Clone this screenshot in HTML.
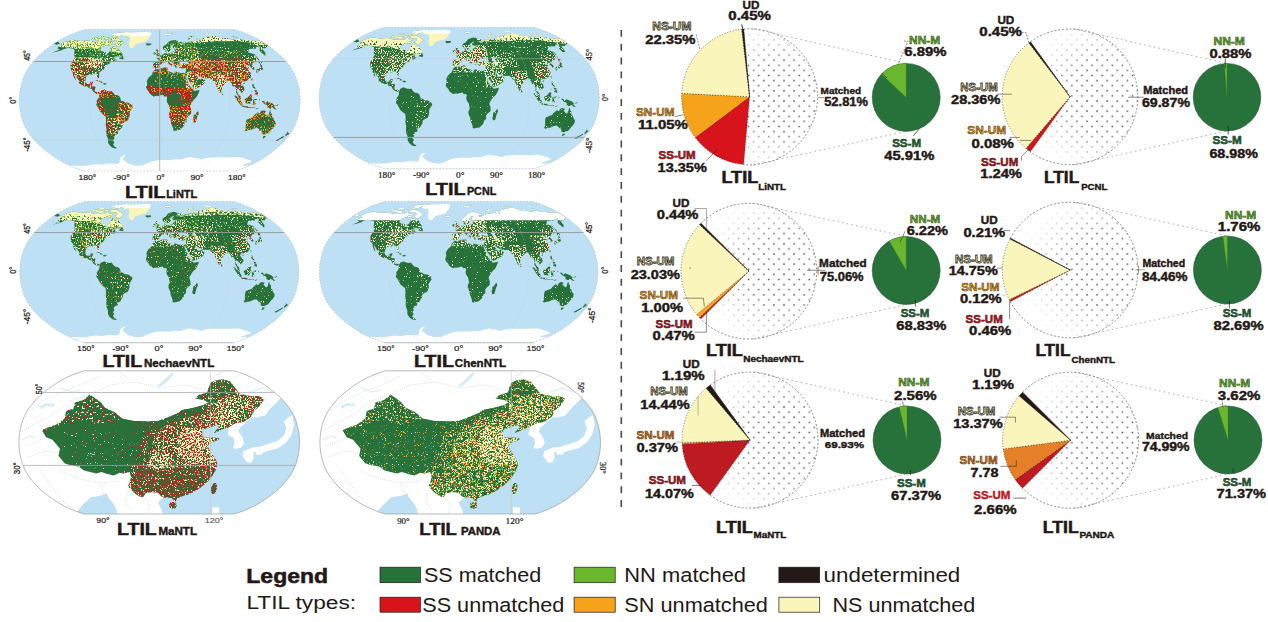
<!DOCTYPE html>
<html><head><meta charset="utf-8"><title>LTIL</title>
<style>html,body{margin:0;padding:0;background:#fff}svg{display:block}text{font-family:"Liberation Sans",sans-serif}.b{font-weight:bold}.s{font-family:"Liberation Serif",serif}</style></head>
<body><svg width="1268" height="622" viewBox="0 0 1268 622">
<defs><filter id="f0" x="0" y="0" width="1" height="1" color-interpolation-filters="sRGB"><feTurbulence type="fractalNoise" baseFrequency="0.7" numOctaves="2" seed="2"/><feColorMatrix type="matrix" values="0 0 0 0 0 0 0 0 0 0 0 0 0 0 0 14 0 0 0 -7.40"/><feComposite in="SourceGraphic" operator="in"/></filter><filter id="f1" x="0" y="0" width="1" height="1" color-interpolation-filters="sRGB"><feTurbulence type="fractalNoise" baseFrequency="0.7" numOctaves="2" seed="3"/><feColorMatrix type="matrix" values="0 0 0 0 0 0 0 0 0 0 0 0 0 0 0 14 0 0 0 -8.33"/><feComposite in="SourceGraphic" operator="in"/></filter><filter id="f2" x="0" y="0" width="1" height="1" color-interpolation-filters="sRGB"><feTurbulence type="fractalNoise" baseFrequency="0.7" numOctaves="2" seed="4"/><feColorMatrix type="matrix" values="0 0 0 0 0 0 0 0 0 0 0 0 0 0 0 14 0 0 0 -7.84"/><feComposite in="SourceGraphic" operator="in"/></filter><filter id="f3" x="0" y="0" width="1" height="1" color-interpolation-filters="sRGB"><feTurbulence type="fractalNoise" baseFrequency="0.7" numOctaves="2" seed="5"/><feColorMatrix type="matrix" values="0 0 0 0 0 0 0 0 0 0 0 0 0 0 0 14 0 0 0 -8.92"/><feComposite in="SourceGraphic" operator="in"/></filter><filter id="f4" x="0" y="0" width="1" height="1" color-interpolation-filters="sRGB"><feTurbulence type="fractalNoise" baseFrequency="0.7" numOctaves="2" seed="6"/><feColorMatrix type="matrix" values="0 0 0 0 0 0 0 0 0 0 0 0 0 0 0 14 0 0 0 -7.30"/><feComposite in="SourceGraphic" operator="in"/></filter><filter id="f5" x="0" y="0" width="1" height="1" color-interpolation-filters="sRGB"><feTurbulence type="fractalNoise" baseFrequency="0.7" numOctaves="2" seed="7"/><feColorMatrix type="matrix" values="0 0 0 0 0 0 0 0 0 0 0 0 0 0 0 14 0 0 0 -8.33"/><feComposite in="SourceGraphic" operator="in"/></filter><filter id="f6" x="0" y="0" width="1" height="1" color-interpolation-filters="sRGB"><feTurbulence type="fractalNoise" baseFrequency="0.7" numOctaves="2" seed="8"/><feColorMatrix type="matrix" values="0 0 0 0 0 0 0 0 0 0 0 0 0 0 0 14 0 0 0 -7.98"/><feComposite in="SourceGraphic" operator="in"/></filter><filter id="f7" x="0" y="0" width="1" height="1" color-interpolation-filters="sRGB"><feTurbulence type="fractalNoise" baseFrequency="0.7" numOctaves="2" seed="9"/><feColorMatrix type="matrix" values="0 0 0 0 0 0 0 0 0 0 0 0 0 0 0 14 0 0 0 -7.65"/><feComposite in="SourceGraphic" operator="in"/></filter><filter id="f8" x="0" y="0" width="1" height="1" color-interpolation-filters="sRGB"><feTurbulence type="fractalNoise" baseFrequency="0.7" numOctaves="2" seed="10"/><feColorMatrix type="matrix" values="0 0 0 0 0 0 0 0 0 0 0 0 0 0 0 14 0 0 0 -6.30"/><feComposite in="SourceGraphic" operator="in"/></filter><filter id="f9" x="0" y="0" width="1" height="1" color-interpolation-filters="sRGB"><feTurbulence type="fractalNoise" baseFrequency="0.7" numOctaves="2" seed="11"/><feColorMatrix type="matrix" values="0 0 0 0 0 0 0 0 0 0 0 0 0 0 0 14 0 0 0 -9.01"/><feComposite in="SourceGraphic" operator="in"/></filter><filter id="f10" x="0" y="0" width="1" height="1" color-interpolation-filters="sRGB"><feTurbulence type="fractalNoise" baseFrequency="0.7" numOctaves="2" seed="12"/><feColorMatrix type="matrix" values="0 0 0 0 0 0 0 0 0 0 0 0 0 0 0 14 0 0 0 -6.92"/><feComposite in="SourceGraphic" operator="in"/></filter><filter id="f11" x="0" y="0" width="1" height="1" color-interpolation-filters="sRGB"><feTurbulence type="fractalNoise" baseFrequency="0.7" numOctaves="2" seed="13"/><feColorMatrix type="matrix" values="0 0 0 0 0 0 0 0 0 0 0 0 0 0 0 14 0 0 0 -8.58"/><feComposite in="SourceGraphic" operator="in"/></filter><filter id="f12" x="0" y="0" width="1" height="1" color-interpolation-filters="sRGB"><feTurbulence type="fractalNoise" baseFrequency="0.7" numOctaves="2" seed="14"/><feColorMatrix type="matrix" values="0 0 0 0 0 0 0 0 0 0 0 0 0 0 0 14 0 0 0 -8.58"/><feComposite in="SourceGraphic" operator="in"/></filter><filter id="f13" x="0" y="0" width="1" height="1" color-interpolation-filters="sRGB"><feTurbulence type="fractalNoise" baseFrequency="0.7" numOctaves="2" seed="15"/><feColorMatrix type="matrix" values="0 0 0 0 0 0 0 0 0 0 0 0 0 0 0 14 0 0 0 -8.75"/><feComposite in="SourceGraphic" operator="in"/></filter><filter id="f14" x="0" y="0" width="1" height="1" color-interpolation-filters="sRGB"><feTurbulence type="fractalNoise" baseFrequency="0.7" numOctaves="2" seed="16"/><feColorMatrix type="matrix" values="0 0 0 0 0 0 0 0 0 0 0 0 0 0 0 14 0 0 0 -6.92"/><feComposite in="SourceGraphic" operator="in"/></filter><filter id="f15" x="0" y="0" width="1" height="1" color-interpolation-filters="sRGB"><feTurbulence type="fractalNoise" baseFrequency="0.7" numOctaves="2" seed="17"/><feColorMatrix type="matrix" values="0 0 0 0 0 0 0 0 0 0 0 0 0 0 0 14 0 0 0 -8.33"/><feComposite in="SourceGraphic" operator="in"/></filter><filter id="f16" x="0" y="0" width="1" height="1" color-interpolation-filters="sRGB"><feTurbulence type="fractalNoise" baseFrequency="0.7" numOctaves="2" seed="18"/><feColorMatrix type="matrix" values="0 0 0 0 0 0 0 0 0 0 0 0 0 0 0 14 0 0 0 -7.00"/><feComposite in="SourceGraphic" operator="in"/></filter><filter id="f17" x="0" y="0" width="1" height="1" color-interpolation-filters="sRGB"><feTurbulence type="fractalNoise" baseFrequency="0.7" numOctaves="2" seed="19"/><feColorMatrix type="matrix" values="0 0 0 0 0 0 0 0 0 0 0 0 0 0 0 14 0 0 0 -7.50"/><feComposite in="SourceGraphic" operator="in"/></filter><filter id="f18" x="0" y="0" width="1" height="1" color-interpolation-filters="sRGB"><feTurbulence type="fractalNoise" baseFrequency="0.7" numOctaves="2" seed="20"/><feColorMatrix type="matrix" values="0 0 0 0 0 0 0 0 0 0 0 0 0 0 0 14 0 0 0 -8.58"/><feComposite in="SourceGraphic" operator="in"/></filter><filter id="f19" x="0" y="0" width="1" height="1" color-interpolation-filters="sRGB"><feTurbulence type="fractalNoise" baseFrequency="0.7" numOctaves="2" seed="21"/><feColorMatrix type="matrix" values="0 0 0 0 0 0 0 0 0 0 0 0 0 0 0 14 0 0 0 -7.65"/><feComposite in="SourceGraphic" operator="in"/></filter><filter id="f20" x="0" y="0" width="1" height="1" color-interpolation-filters="sRGB"><feTurbulence type="fractalNoise" baseFrequency="0.7" numOctaves="2" seed="22"/><feColorMatrix type="matrix" values="0 0 0 0 0 0 0 0 0 0 0 0 0 0 0 14 0 0 0 -8.33"/><feComposite in="SourceGraphic" operator="in"/></filter><filter id="f21" x="0" y="0" width="1" height="1" color-interpolation-filters="sRGB"><feTurbulence type="fractalNoise" baseFrequency="0.7" numOctaves="2" seed="23"/><feColorMatrix type="matrix" values="0 0 0 0 0 0 0 0 0 0 0 0 0 0 0 14 0 0 0 -7.98"/><feComposite in="SourceGraphic" operator="in"/></filter><filter id="f22" x="0" y="0" width="1" height="1" color-interpolation-filters="sRGB"><feTurbulence type="fractalNoise" baseFrequency="0.7" numOctaves="2" seed="24"/><feColorMatrix type="matrix" values="0 0 0 0 0 0 0 0 0 0 0 0 0 0 0 14 0 0 0 -6.92"/><feComposite in="SourceGraphic" operator="in"/></filter><filter id="f23" x="0" y="0" width="1" height="1" color-interpolation-filters="sRGB"><feTurbulence type="fractalNoise" baseFrequency="0.7" numOctaves="2" seed="25"/><feColorMatrix type="matrix" values="0 0 0 0 0 0 0 0 0 0 0 0 0 0 0 14 0 0 0 -7.98"/><feComposite in="SourceGraphic" operator="in"/></filter><filter id="f24" x="0" y="0" width="1" height="1" color-interpolation-filters="sRGB"><feTurbulence type="fractalNoise" baseFrequency="0.7" numOctaves="2" seed="26"/><feColorMatrix type="matrix" values="0 0 0 0 0 0 0 0 0 0 0 0 0 0 0 14 0 0 0 -7.40"/><feComposite in="SourceGraphic" operator="in"/></filter><filter id="f25" x="0" y="0" width="1" height="1" color-interpolation-filters="sRGB"><feTurbulence type="fractalNoise" baseFrequency="0.7" numOctaves="2" seed="27"/><feColorMatrix type="matrix" values="0 0 0 0 0 0 0 0 0 0 0 0 0 0 0 14 0 0 0 -7.84"/><feComposite in="SourceGraphic" operator="in"/></filter><filter id="f26" x="0" y="0" width="1" height="1" color-interpolation-filters="sRGB"><feTurbulence type="fractalNoise" baseFrequency="0.7" numOctaves="2" seed="28"/><feColorMatrix type="matrix" values="0 0 0 0 0 0 0 0 0 0 0 0 0 0 0 14 0 0 0 -9.10"/><feComposite in="SourceGraphic" operator="in"/></filter><filter id="f27" x="0" y="0" width="1" height="1" color-interpolation-filters="sRGB"><feTurbulence type="fractalNoise" baseFrequency="0.7" numOctaves="2" seed="29"/><feColorMatrix type="matrix" values="0 0 0 0 0 0 0 0 0 0 0 0 0 0 0 14 0 0 0 -7.98"/><feComposite in="SourceGraphic" operator="in"/></filter><filter id="f28" x="0" y="0" width="1" height="1" color-interpolation-filters="sRGB"><feTurbulence type="fractalNoise" baseFrequency="0.7" numOctaves="2" seed="30"/><feColorMatrix type="matrix" values="0 0 0 0 0 0 0 0 0 0 0 0 0 0 0 14 0 0 0 -8.33"/><feComposite in="SourceGraphic" operator="in"/></filter><filter id="f29" x="0" y="0" width="1" height="1" color-interpolation-filters="sRGB"><feTurbulence type="fractalNoise" baseFrequency="0.7" numOctaves="2" seed="31"/><feColorMatrix type="matrix" values="0 0 0 0 0 0 0 0 0 0 0 0 0 0 0 14 0 0 0 -9.01"/><feComposite in="SourceGraphic" operator="in"/></filter><filter id="f30" x="0" y="0" width="1" height="1" color-interpolation-filters="sRGB"><feTurbulence type="fractalNoise" baseFrequency="0.7" numOctaves="2" seed="32"/><feColorMatrix type="matrix" values="0 0 0 0 0 0 0 0 0 0 0 0 0 0 0 14 0 0 0 -7.40"/><feComposite in="SourceGraphic" operator="in"/></filter><filter id="f31" x="0" y="0" width="1" height="1" color-interpolation-filters="sRGB"><feTurbulence type="fractalNoise" baseFrequency="0.7" numOctaves="2" seed="33"/><feColorMatrix type="matrix" values="0 0 0 0 0 0 0 0 0 0 0 0 0 0 0 14 0 0 0 -7.40"/><feComposite in="SourceGraphic" operator="in"/></filter><filter id="f32" x="0" y="0" width="1" height="1" color-interpolation-filters="sRGB"><feTurbulence type="fractalNoise" baseFrequency="0.7" numOctaves="2" seed="34"/><feColorMatrix type="matrix" values="0 0 0 0 0 0 0 0 0 0 0 0 0 0 0 14 0 0 0 -7.98"/><feComposite in="SourceGraphic" operator="in"/></filter><filter id="f33" x="0" y="0" width="1" height="1" color-interpolation-filters="sRGB"><feTurbulence type="fractalNoise" baseFrequency="0.7" numOctaves="2" seed="35"/><feColorMatrix type="matrix" values="0 0 0 0 0 0 0 0 0 0 0 0 0 0 0 14 0 0 0 -5.86"/><feComposite in="SourceGraphic" operator="in"/></filter><filter id="f34" x="0" y="0" width="1" height="1" color-interpolation-filters="sRGB"><feTurbulence type="fractalNoise" baseFrequency="0.7" numOctaves="2" seed="36"/><feColorMatrix type="matrix" values="0 0 0 0 0 0 0 0 0 0 0 0 0 0 0 14 0 0 0 -8.58"/><feComposite in="SourceGraphic" operator="in"/></filter><filter id="f35" x="0" y="0" width="1" height="1" color-interpolation-filters="sRGB"><feTurbulence type="fractalNoise" baseFrequency="0.7" numOctaves="2" seed="37"/><feColorMatrix type="matrix" values="0 0 0 0 0 0 0 0 0 0 0 0 0 0 0 14 0 0 0 -7.98"/><feComposite in="SourceGraphic" operator="in"/></filter><filter id="f36" x="0" y="0" width="1" height="1" color-interpolation-filters="sRGB"><feTurbulence type="fractalNoise" baseFrequency="0.7" numOctaves="2" seed="38"/><feColorMatrix type="matrix" values="0 0 0 0 0 0 0 0 0 0 0 0 0 0 0 14 0 0 0 -8.75"/><feComposite in="SourceGraphic" operator="in"/></filter><filter id="f37" x="0" y="0" width="1" height="1" color-interpolation-filters="sRGB"><feTurbulence type="fractalNoise" baseFrequency="0.7" numOctaves="2" seed="39"/><feColorMatrix type="matrix" values="0 0 0 0 0 0 0 0 0 0 0 0 0 0 0 14 0 0 0 -6.30"/><feComposite in="SourceGraphic" operator="in"/></filter><filter id="f38" x="0" y="0" width="1" height="1" color-interpolation-filters="sRGB"><feTurbulence type="fractalNoise" baseFrequency="0.7" numOctaves="2" seed="40"/><feColorMatrix type="matrix" values="0 0 0 0 0 0 0 0 0 0 0 0 0 0 0 14 0 0 0 -8.33"/><feComposite in="SourceGraphic" operator="in"/></filter><filter id="f39" x="0" y="0" width="1" height="1" color-interpolation-filters="sRGB"><feTurbulence type="fractalNoise" baseFrequency="0.7" numOctaves="2" seed="41"/><feColorMatrix type="matrix" values="0 0 0 0 0 0 0 0 0 0 0 0 0 0 0 14 0 0 0 -6.84"/><feComposite in="SourceGraphic" operator="in"/></filter><filter id="f40" x="0" y="0" width="1" height="1" color-interpolation-filters="sRGB"><feTurbulence type="fractalNoise" baseFrequency="0.7" numOctaves="2" seed="42"/><feColorMatrix type="matrix" values="0 0 0 0 0 0 0 0 0 0 0 0 0 0 0 14 0 0 0 -7.98"/><feComposite in="SourceGraphic" operator="in"/></filter><filter id="f41" x="0" y="0" width="1" height="1" color-interpolation-filters="sRGB"><feTurbulence type="fractalNoise" baseFrequency="0.7" numOctaves="2" seed="43"/><feColorMatrix type="matrix" values="0 0 0 0 0 0 0 0 0 0 0 0 0 0 0 14 0 0 0 -9.28"/><feComposite in="SourceGraphic" operator="in"/></filter><filter id="f42" x="0" y="0" width="1" height="1" color-interpolation-filters="sRGB"><feTurbulence type="fractalNoise" baseFrequency="0.7" numOctaves="2" seed="44"/><feColorMatrix type="matrix" values="0 0 0 0 0 0 0 0 0 0 0 0 0 0 0 14 0 0 0 -8.33"/><feComposite in="SourceGraphic" operator="in"/></filter><filter id="f43" x="0" y="0" width="1" height="1" color-interpolation-filters="sRGB"><feTurbulence type="fractalNoise" baseFrequency="0.7" numOctaves="2" seed="45"/><feColorMatrix type="matrix" values="0 0 0 0 0 0 0 0 0 0 0 0 0 0 0 14 0 0 0 -6.92"/><feComposite in="SourceGraphic" operator="in"/></filter><filter id="f44" x="0" y="0" width="1" height="1" color-interpolation-filters="sRGB"><feTurbulence type="fractalNoise" baseFrequency="0.7" numOctaves="2" seed="46"/><feColorMatrix type="matrix" values="0 0 0 0 0 0 0 0 0 0 0 0 0 0 0 14 0 0 0 -7.40"/><feComposite in="SourceGraphic" operator="in"/></filter><filter id="f45" x="0" y="0" width="1" height="1" color-interpolation-filters="sRGB"><feTurbulence type="fractalNoise" baseFrequency="0.7" numOctaves="2" seed="47"/><feColorMatrix type="matrix" values="0 0 0 0 0 0 0 0 0 0 0 0 0 0 0 14 0 0 0 -7.15"/><feComposite in="SourceGraphic" operator="in"/></filter><filter id="f46" x="0" y="0" width="1" height="1" color-interpolation-filters="sRGB"><feTurbulence type="fractalNoise" baseFrequency="0.7" numOctaves="2" seed="48"/><feColorMatrix type="matrix" values="0 0 0 0 0 0 0 0 0 0 0 0 0 0 0 14 0 0 0 -7.15"/><feComposite in="SourceGraphic" operator="in"/></filter><filter id="f47" x="0" y="0" width="1" height="1" color-interpolation-filters="sRGB"><feTurbulence type="fractalNoise" baseFrequency="0.7" numOctaves="2" seed="49"/><feColorMatrix type="matrix" values="0 0 0 0 0 0 0 0 0 0 0 0 0 0 0 14 0 0 0 -8.75"/><feComposite in="SourceGraphic" operator="in"/></filter><filter id="f48" x="0" y="0" width="1" height="1" color-interpolation-filters="sRGB"><feTurbulence type="fractalNoise" baseFrequency="0.4" numOctaves="2" seed="50"/><feColorMatrix type="matrix" values="0 0 0 0 0 0 0 0 0 0 0 0 0 0 0 14 0 0 0 -5.22"/><feComposite in="SourceGraphic" operator="in"/></filter><filter id="f49" x="0" y="0" width="1" height="1" color-interpolation-filters="sRGB"><feTurbulence type="fractalNoise" baseFrequency="0.7" numOctaves="2" seed="51"/><feColorMatrix type="matrix" values="0 0 0 0 0 0 0 0 0 0 0 0 0 0 0 14 0 0 0 -7.40"/><feComposite in="SourceGraphic" operator="in"/></filter><filter id="f50" x="0" y="0" width="1" height="1" color-interpolation-filters="sRGB"><feTurbulence type="fractalNoise" baseFrequency="0.7" numOctaves="2" seed="52"/><feColorMatrix type="matrix" values="0 0 0 0 0 0 0 0 0 0 0 0 0 0 0 14 0 0 0 -7.40"/><feComposite in="SourceGraphic" operator="in"/></filter><filter id="f51" x="0" y="0" width="1" height="1" color-interpolation-filters="sRGB"><feTurbulence type="fractalNoise" baseFrequency="0.7" numOctaves="2" seed="53"/><feColorMatrix type="matrix" values="0 0 0 0 0 0 0 0 0 0 0 0 0 0 0 14 0 0 0 -6.71"/><feComposite in="SourceGraphic" operator="in"/></filter><filter id="f52" x="0" y="0" width="1" height="1" color-interpolation-filters="sRGB"><feTurbulence type="fractalNoise" baseFrequency="0.7" numOctaves="2" seed="54"/><feColorMatrix type="matrix" values="0 0 0 0 0 0 0 0 0 0 0 0 0 0 0 14 0 0 0 -7.65"/><feComposite in="SourceGraphic" operator="in"/></filter><filter id="f53" x="0" y="0" width="1" height="1" color-interpolation-filters="sRGB"><feTurbulence type="fractalNoise" baseFrequency="0.7" numOctaves="2" seed="55"/><feColorMatrix type="matrix" values="0 0 0 0 0 0 0 0 0 0 0 0 0 0 0 14 0 0 0 -8.75"/><feComposite in="SourceGraphic" operator="in"/></filter><filter id="f54" x="0" y="0" width="1" height="1" color-interpolation-filters="sRGB"><feTurbulence type="fractalNoise" baseFrequency="0.7" numOctaves="2" seed="56"/><feColorMatrix type="matrix" values="0 0 0 0 0 0 0 0 0 0 0 0 0 0 0 14 0 0 0 -6.30"/><feComposite in="SourceGraphic" operator="in"/></filter><filter id="f55" x="0" y="0" width="1" height="1" color-interpolation-filters="sRGB"><feTurbulence type="fractalNoise" baseFrequency="0.7" numOctaves="2" seed="57"/><feColorMatrix type="matrix" values="0 0 0 0 0 0 0 0 0 0 0 0 0 0 0 14 0 0 0 -8.12"/><feComposite in="SourceGraphic" operator="in"/></filter><filter id="f56" x="0" y="0" width="1" height="1" color-interpolation-filters="sRGB"><feTurbulence type="fractalNoise" baseFrequency="0.7" numOctaves="2" seed="58"/><feColorMatrix type="matrix" values="0 0 0 0 0 0 0 0 0 0 0 0 0 0 0 14 0 0 0 -8.75"/><feComposite in="SourceGraphic" operator="in"/></filter><filter id="f57" x="0" y="0" width="1" height="1" color-interpolation-filters="sRGB"><feTurbulence type="fractalNoise" baseFrequency="0.7" numOctaves="2" seed="59"/><feColorMatrix type="matrix" values="0 0 0 0 0 0 0 0 0 0 0 0 0 0 0 14 0 0 0 -6.92"/><feComposite in="SourceGraphic" operator="in"/></filter><filter id="f58" x="0" y="0" width="1" height="1" color-interpolation-filters="sRGB"><feTurbulence type="fractalNoise" baseFrequency="0.7" numOctaves="2" seed="60"/><feColorMatrix type="matrix" values="0 0 0 0 0 0 0 0 0 0 0 0 0 0 0 14 0 0 0 -7.98"/><feComposite in="SourceGraphic" operator="in"/></filter><filter id="f59" x="0" y="0" width="1" height="1" color-interpolation-filters="sRGB"><feTurbulence type="fractalNoise" baseFrequency="0.7" numOctaves="2" seed="61"/><feColorMatrix type="matrix" values="0 0 0 0 0 0 0 0 0 0 0 0 0 0 0 14 0 0 0 -8.33"/><feComposite in="SourceGraphic" operator="in"/></filter><filter id="f60" x="0" y="0" width="1" height="1" color-interpolation-filters="sRGB"><feTurbulence type="fractalNoise" baseFrequency="0.7" numOctaves="2" seed="62"/><feColorMatrix type="matrix" values="0 0 0 0 0 0 0 0 0 0 0 0 0 0 0 14 0 0 0 -7.98"/><feComposite in="SourceGraphic" operator="in"/></filter><filter id="f61" x="0" y="0" width="1" height="1" color-interpolation-filters="sRGB"><feTurbulence type="fractalNoise" baseFrequency="0.7" numOctaves="2" seed="63"/><feColorMatrix type="matrix" values="0 0 0 0 0 0 0 0 0 0 0 0 0 0 0 14 0 0 0 -7.98"/><feComposite in="SourceGraphic" operator="in"/></filter><filter id="f62" x="0" y="0" width="1" height="1" color-interpolation-filters="sRGB"><feTurbulence type="fractalNoise" baseFrequency="0.7" numOctaves="2" seed="64"/><feColorMatrix type="matrix" values="0 0 0 0 0 0 0 0 0 0 0 0 0 0 0 14 0 0 0 -6.92"/><feComposite in="SourceGraphic" operator="in"/></filter><filter id="f63" x="0" y="0" width="1" height="1" color-interpolation-filters="sRGB"><feTurbulence type="fractalNoise" baseFrequency="0.7" numOctaves="2" seed="65"/><feColorMatrix type="matrix" values="0 0 0 0 0 0 0 0 0 0 0 0 0 0 0 14 0 0 0 -8.75"/><feComposite in="SourceGraphic" operator="in"/></filter><filter id="f64" x="0" y="0" width="1" height="1" color-interpolation-filters="sRGB"><feTurbulence type="fractalNoise" baseFrequency="0.7" numOctaves="2" seed="66"/><feColorMatrix type="matrix" values="0 0 0 0 0 0 0 0 0 0 0 0 0 0 0 14 0 0 0 -8.33"/><feComposite in="SourceGraphic" operator="in"/></filter><filter id="f65" x="0" y="0" width="1" height="1" color-interpolation-filters="sRGB"><feTurbulence type="fractalNoise" baseFrequency="0.7" numOctaves="2" seed="67"/><feColorMatrix type="matrix" values="0 0 0 0 0 0 0 0 0 0 0 0 0 0 0 14 0 0 0 -7.40"/><feComposite in="SourceGraphic" operator="in"/></filter><filter id="f66" x="0" y="0" width="1" height="1" color-interpolation-filters="sRGB"><feTurbulence type="fractalNoise" baseFrequency="0.7" numOctaves="2" seed="68"/><feColorMatrix type="matrix" values="0 0 0 0 0 0 0 0 0 0 0 0 0 0 0 14 0 0 0 -7.40"/><feComposite in="SourceGraphic" operator="in"/></filter><filter id="f67" x="0" y="0" width="1" height="1" color-interpolation-filters="sRGB"><feTurbulence type="fractalNoise" baseFrequency="0.7" numOctaves="2" seed="69"/><feColorMatrix type="matrix" values="0 0 0 0 0 0 0 0 0 0 0 0 0 0 0 14 0 0 0 -7.40"/><feComposite in="SourceGraphic" operator="in"/></filter><filter id="f68" x="0" y="0" width="1" height="1" color-interpolation-filters="sRGB"><feTurbulence type="fractalNoise" baseFrequency="0.7" numOctaves="2" seed="70"/><feColorMatrix type="matrix" values="0 0 0 0 0 0 0 0 0 0 0 0 0 0 0 14 0 0 0 -5.22"/><feComposite in="SourceGraphic" operator="in"/></filter><filter id="f69" x="0" y="0" width="1" height="1" color-interpolation-filters="sRGB"><feTurbulence type="fractalNoise" baseFrequency="0.7" numOctaves="2" seed="71"/><feColorMatrix type="matrix" values="0 0 0 0 0 0 0 0 0 0 0 0 0 0 0 14 0 0 0 -9.28"/><feComposite in="SourceGraphic" operator="in"/></filter><filter id="f70" x="0" y="0" width="1" height="1" color-interpolation-filters="sRGB"><feTurbulence type="fractalNoise" baseFrequency="0.7" numOctaves="2" seed="72"/><feColorMatrix type="matrix" values="0 0 0 0 0 0 0 0 0 0 0 0 0 0 0 14 0 0 0 -8.33"/><feComposite in="SourceGraphic" operator="in"/></filter><filter id="f71" x="0" y="0" width="1" height="1" color-interpolation-filters="sRGB"><feTurbulence type="fractalNoise" baseFrequency="0.7" numOctaves="2" seed="73"/><feColorMatrix type="matrix" values="0 0 0 0 0 0 0 0 0 0 0 0 0 0 0 14 0 0 0 -9.45"/><feComposite in="SourceGraphic" operator="in"/></filter><filter id="f72" x="0" y="0" width="1" height="1" color-interpolation-filters="sRGB"><feTurbulence type="fractalNoise" baseFrequency="0.7" numOctaves="2" seed="74"/><feColorMatrix type="matrix" values="0 0 0 0 0 0 0 0 0 0 0 0 0 0 0 14 0 0 0 -8.75"/><feComposite in="SourceGraphic" operator="in"/></filter><filter id="f73" x="0" y="0" width="1" height="1" color-interpolation-filters="sRGB"><feTurbulence type="fractalNoise" baseFrequency="0.7" numOctaves="2" seed="75"/><feColorMatrix type="matrix" values="0 0 0 0 0 0 0 0 0 0 0 0 0 0 0 14 0 0 0 -8.75"/><feComposite in="SourceGraphic" operator="in"/></filter><filter id="f74" x="0" y="0" width="1" height="1" color-interpolation-filters="sRGB"><feTurbulence type="fractalNoise" baseFrequency="0.7" numOctaves="2" seed="76"/><feColorMatrix type="matrix" values="0 0 0 0 0 0 0 0 0 0 0 0 0 0 0 14 0 0 0 -7.40"/><feComposite in="SourceGraphic" operator="in"/></filter><filter id="f75" x="0" y="0" width="1" height="1" color-interpolation-filters="sRGB"><feTurbulence type="fractalNoise" baseFrequency="0.7" numOctaves="2" seed="77"/><feColorMatrix type="matrix" values="0 0 0 0 0 0 0 0 0 0 0 0 0 0 0 14 0 0 0 -7.30"/><feComposite in="SourceGraphic" operator="in"/></filter><filter id="f76" x="0" y="0" width="1" height="1" color-interpolation-filters="sRGB"><feTurbulence type="fractalNoise" baseFrequency="0.7" numOctaves="2" seed="78"/><feColorMatrix type="matrix" values="0 0 0 0 0 0 0 0 0 0 0 0 0 0 0 14 0 0 0 -8.33"/><feComposite in="SourceGraphic" operator="in"/></filter><filter id="f77" x="0" y="0" width="1" height="1" color-interpolation-filters="sRGB"><feTurbulence type="fractalNoise" baseFrequency="0.7" numOctaves="2" seed="79"/><feColorMatrix type="matrix" values="0 0 0 0 0 0 0 0 0 0 0 0 0 0 0 14 0 0 0 -6.08"/><feComposite in="SourceGraphic" operator="in"/></filter><filter id="f78" x="0" y="0" width="1" height="1" color-interpolation-filters="sRGB"><feTurbulence type="fractalNoise" baseFrequency="0.7" numOctaves="2" seed="80"/><feColorMatrix type="matrix" values="0 0 0 0 0 0 0 0 0 0 0 0 0 0 0 14 0 0 0 -7.98"/><feComposite in="SourceGraphic" operator="in"/></filter><clipPath id="fr1"><path d="M234.5 29.5L240.1 31.2L247.0 33.8L254.3 37.0L260.7 40.6L266.4 44.3L271.9 48.3L277.0 52.4L281.6 56.6L285.6 60.9L289.2 65.2L292.1 69.6L294.6 74.0L296.4 78.4L297.7 82.7L298.8 87.1L299.6 91.5L300.0 95.9L300.2 100.3L300.0 104.7L299.6 109.1L298.8 113.5L297.7 117.9L296.4 122.2L294.6 126.6L292.1 131.0L289.2 135.4L285.6 139.7L281.6 144.0L277.0 148.2L271.9 152.3L266.4 156.3L260.7 160.0L254.3 163.6L247.0 166.8L240.1 169.4L234.5 171.1L84.9 171.1L79.3 169.4L72.4 166.8L65.1 163.6L58.7 160.0L53.0 156.3L47.5 152.3L42.4 148.2L37.8 144.0L33.8 139.7L30.2 135.4L27.3 131.0L24.8 126.6L23.0 122.2L21.7 117.9L20.6 113.5L19.8 109.1L19.4 104.7L19.2 100.3L19.4 95.9L19.8 91.5L20.6 87.1L21.7 82.7L23.0 78.4L24.8 74.0L27.3 69.6L30.2 65.2L33.8 60.9L37.8 56.6L42.4 52.4L47.5 48.3L53.0 44.3L58.7 40.6L65.1 37.0L72.4 33.8L79.3 31.2L84.9 29.5Z"/></clipPath><clipPath id="ld1"><path d="M60.6 44.0L65.0 41.7L73.1 39.7L80.3 40.9L88.1 40.4L94.1 41.7L97.7 42.1L104.6 42.1L108.0 39.5L109.5 41.7L113.4 41.0L112.7 42.8L109.3 43.6L107.6 45.1L102.9 46.7L100.3 49.1L100.5 50.7L104.4 52.1L106.1 52.3L105.2 54.1L106.5 55.3L108.0 52.8L110.5 51.1L110.2 49.3L112.5 46.5L114.9 46.5L116.5 47.5L115.9 49.3L118.1 49.3L119.6 48.1L120.1 51.1L122.1 52.8L122.5 54.9L119.8 56.3L115.1 56.4L111.4 59.1L115.4 57.4L115.0 59.6L117.3 60.0L114.8 61.3L113.1 62.2L112.8 60.9L110.3 62.2L109.5 63.7L106.6 64.8L104.9 66.9L103.8 69.4L101.7 70.6L99.3 72.6L99.1 76.6L98.7 78.2L97.7 77.5L97.3 75.7L96.8 74.0L94.6 73.6L92.7 73.8L92.5 74.7L89.6 74.2L86.6 75.7L85.4 79.2L85.2 82.3L86.7 84.0L89.4 84.1L90.4 81.9L93.2 81.4L92.3 84.3L91.2 86.3L94.9 86.4L95.4 87.2L94.7 90.5L95.6 92.2L97.8 92.0L99.6 92.7L98.8 93.7L97.0 93.9L95.1 93.0L93.1 91.5L91.9 88.9L88.9 88.0L86.8 86.1L85.2 86.5L81.9 85.1L78.8 82.7L79.2 80.5L76.8 77.5L75.3 74.4L74.3 72.5L75.4 78.4L76.0 80.1L74.4 78.4L73.4 75.7L72.9 74.0L72.7 71.8L70.9 70.0L70.6 67.6L70.5 64.9L71.8 62.6L73.7 59.7L74.3 57.9L75.8 57.4L74.0 55.7L74.3 52.8L74.6 49.9L73.3 48.7L70.6 48.3L67.9 47.9L64.5 48.7L61.5 50.3L57.3 51.6L52.1 52.8L55.0 51.6L59.9 49.5L57.8 49.1L58.0 47.1L63.3 45.1L61.4 44.7ZM116.8 38.1L120.1 39.5L121.6 40.6L123.7 42.8L121.7 44.3L119.4 46.7L116.5 46.3L115.6 44.7L113.2 44.7L117.6 42.5L116.5 40.6L112.0 40.6L110.4 39.9L111.5 38.1ZM94.9 39.9L100.1 41.3L102.7 41.0L103.2 38.8L100.3 38.5L96.6 38.5ZM90.9 39.5L92.7 39.9L97.1 38.5L97.3 37.4L93.7 37.7ZM113.5 36.1L119.7 36.1L122.4 34.8L130.6 32.8L127.4 32.2L119.8 32.8L115.4 33.5L116.1 35.1ZM111.4 37.0L117.4 37.4L118.3 36.4L113.1 35.9ZM98.2 37.0L104.0 37.0L105.8 36.1L99.6 36.1ZM112.1 35.1L116.0 34.8L116.7 33.3L113.1 33.8ZM103.6 39.5L107.2 39.2L110.2 37.7L105.9 37.7ZM107.3 45.5L110.9 45.5L111.9 44.0L109.0 44.0ZM118.9 58.5L123.0 59.4L123.6 57.9L122.5 55.3L121.0 56.2ZM94.8 81.0L98.7 80.1L102.3 82.1L102.8 82.7L100.3 82.8L100.1 81.4L97.1 80.7ZM102.5 84.1L104.5 82.9L107.1 84.0L104.7 84.8ZM99.6 92.7L101.1 90.8L103.5 89.9L104.4 89.5L105.4 90.2L106.8 90.9L109.6 91.3L111.6 90.9L113.0 92.8L115.3 95.0L117.6 95.2L119.6 96.4L120.7 99.0L120.7 100.7L122.6 100.9L125.0 102.5L128.5 102.8L130.9 104.5L132.4 105.4L132.6 107.3L131.0 110.0L129.5 112.2L129.7 115.7L128.5 119.2L127.7 120.5L125.4 121.2L123.0 123.1L123.1 125.3L121.6 127.5L120.2 130.1L118.1 130.9L116.6 130.1L118.0 132.3L117.7 134.1L114.9 134.5L115.1 136.3L113.2 136.3L114.5 137.8L113.9 139.7L112.8 140.6L114.4 142.3L113.1 144.4L114.2 146.0L114.4 146.4L117.1 148.0L115.2 148.6L112.6 147.8L110.0 145.7L108.1 142.7L108.0 138.9L106.6 135.4L106.3 132.3L106.5 128.4L105.8 124.9L106.1 120.5L105.7 116.4L103.8 115.0L100.9 112.6L99.6 110.4L97.8 106.9L96.4 105.6L96.3 104.1L97.3 102.9L96.6 101.2L97.3 99.9L98.2 99.0L99.3 96.8L99.4 94.2ZM155.4 68.9L158.2 69.4L161.9 68.0L167.0 67.6L167.7 68.0L167.2 70.5L167.8 71.2L171.1 71.9L173.9 73.7L174.6 73.1L174.7 71.8L176.8 71.7L178.5 72.6L181.4 73.2L183.6 72.8L184.1 74.0L184.9 75.7L186.7 79.2L188.0 81.9L188.5 84.1L190.2 86.7L193.0 89.2L193.3 90.2L194.6 91.1L196.9 90.5L199.4 89.9L199.2 91.5L197.9 94.6L196.4 97.2L194.0 99.4L192.1 101.9L190.6 104.3L189.9 106.0L190.4 107.8L191.1 110.0L191.1 113.5L188.2 115.9L186.5 117.9L186.7 121.4L184.5 123.1L184.2 125.3L182.5 127.5L180.0 129.7L178.2 130.1L174.4 130.9L173.2 130.3L173.1 128.4L172.1 125.5L171.1 123.1L170.8 120.1L168.9 116.1L169.0 113.5L170.3 110.8L169.8 108.2L169.2 105.6L167.1 102.5L166.7 99.9L167.3 97.7L166.6 96.3L164.4 96.5L163.0 94.8L160.5 95.2L158.1 96.1L156.2 95.7L153.9 96.4L152.7 95.9L150.0 93.7L149.2 92.0L148.1 90.6L146.8 89.3L146.2 87.4L147.2 84.5L147.2 82.7L146.7 81.9L147.5 79.5L148.7 77.5L150.7 75.7L152.2 74.4L152.5 72.6L153.4 71.1L154.8 70.3ZM197.9 111.0L198.7 113.9L197.4 116.1L195.8 122.1L193.8 122.7L192.8 120.9L193.6 117.9L193.9 114.8L195.6 114.2L196.9 112.2ZM152.8 67.8L153.0 66.3L153.4 64.3L153.2 62.6L154.1 62.0L158.4 62.2L158.9 60.0L156.6 58.5L156.5 57.9L158.7 57.7L158.5 56.8L159.8 57.0L160.8 55.8L162.0 55.4L162.8 54.1L164.3 53.6L165.4 53.3L165.0 52.0L165.0 50.7L166.4 50.2L166.4 51.6L166.1 52.4L166.9 53.2L169.0 53.3L171.8 52.5L172.7 52.9L173.4 52.1L173.3 50.7L175.2 50.6L174.5 48.9L177.2 48.6L178.5 48.4L177.4 47.9L175.3 48.1L173.7 48.3L172.8 47.5L172.7 45.9L174.7 44.3L173.8 43.7L172.4 44.7L170.3 46.3L170.3 47.5L171.4 48.3L170.3 50.7L170.0 51.4L169.0 52.0L168.1 52.0L167.8 51.3L166.8 49.5L166.3 48.9L164.8 49.8L163.2 49.3L162.8 47.5L163.6 46.1L166.0 44.7L167.3 43.2L168.3 41.9L169.9 41.0L172.0 40.4L174.0 39.9L175.5 40.0L177.0 40.4L176.6 40.9L178.3 41.0L180.1 41.3L183.4 42.5L183.4 43.4L182.0 43.6L179.2 43.1L180.4 44.7L181.9 45.2L182.3 44.7L183.8 44.6L183.2 43.8L184.2 43.3L185.6 43.6L185.0 42.2L184.5 41.7L186.0 41.9L186.7 42.9L187.3 42.3L189.8 41.5L193.4 41.7L193.9 40.7L196.5 41.2L198.5 41.7L197.3 40.6L196.1 38.8L197.2 38.5L199.0 38.7L199.8 40.2L201.5 42.1L202.0 42.2L200.7 39.9L199.7 39.2L200.4 38.8L201.8 39.2L202.2 39.0L202.9 38.1L205.6 37.8L205.4 37.0L208.8 36.4L211.0 36.1L212.2 35.3L214.5 35.9L218.2 36.4L220.3 37.9L218.2 37.9L220.3 38.1L223.9 38.5L226.0 38.0L229.2 38.8L231.4 39.9L232.3 39.5L235.5 39.6L235.7 38.8L239.8 38.9L244.0 39.9L248.0 40.0L250.1 40.9L254.0 40.7L256.4 41.3L258.6 40.7L261.9 41.4L266.4 44.3L268.6 46.3L266.3 46.9L266.0 48.3L263.2 48.3L261.8 48.5L263.2 49.9L264.4 51.6L265.3 52.5L265.6 54.1L265.6 55.1L265.1 55.7L260.3 51.6L259.5 50.3L259.9 47.9L259.4 46.3L257.8 46.9L255.8 47.1L256.1 48.7L253.5 48.6L250.7 48.9L249.0 49.1L248.5 51.1L248.0 52.5L251.3 53.2L253.2 54.1L254.7 56.6L256.1 58.3L255.9 60.4L255.2 62.2L253.3 62.4L252.5 63.1L252.4 64.2L251.5 65.4L254.0 67.8L254.6 69.1L253.0 70.1L252.0 68.0L250.4 66.9L249.8 65.5L249.1 65.2L247.5 66.1L247.4 64.8L246.3 64.4L244.9 65.9L246.2 67.3L247.4 67.1L249.0 67.6L248.0 68.7L247.4 69.6L248.4 70.2L249.3 71.5L250.5 72.6L251.0 74.0L251.2 74.8L250.7 76.4L250.3 77.9L249.4 79.0L248.5 80.1L246.9 80.7L246.3 80.9L245.2 81.3L244.1 81.7L244.2 82.4L243.6 81.4L242.3 81.3L241.4 82.7L240.9 83.7L242.3 85.6L243.8 86.9L244.4 89.0L244.3 90.2L243.0 91.2L242.6 92.0L241.3 92.7L241.1 91.5L239.6 90.5L239.0 89.5L237.8 88.6L237.1 88.4L236.7 91.1L237.4 92.1L237.9 93.9L239.1 94.9L240.3 96.3L240.4 98.1L241.0 99.1L240.5 99.2L238.7 97.8L237.8 95.3L237.3 94.5L236.1 92.8L236.3 91.3L236.1 88.9L235.1 86.7L234.4 85.4L233.3 86.4L232.5 86.3L232.2 84.1L230.5 82.1L229.7 80.5L228.8 80.7L227.7 81.2L226.2 81.6L226.2 82.6L224.9 83.3L223.1 85.7L221.6 86.7L221.8 88.4L221.7 91.3L221.1 92.1L220.5 92.5L220.0 93.2L219.2 92.2L218.3 90.0L217.3 88.0L216.3 85.8L215.6 83.2L215.3 81.7L214.9 81.9L213.9 82.1L212.4 80.8L213.3 80.1L211.9 79.7L211.0 79.0L210.2 78.0L206.4 78.2L203.2 77.9L202.5 76.6L200.9 76.9L198.5 75.8L197.3 74.0L196.3 73.7L195.7 74.4L196.4 75.5L197.7 76.9L197.8 78.4L198.9 79.1L200.8 79.1L202.1 77.5L202.7 78.8L204.4 79.6L205.3 80.6L204.5 82.4L204.0 83.7L202.3 85.1L200.0 86.5L197.4 88.0L194.6 89.1L193.4 89.2L192.8 87.3L192.5 85.8L191.0 83.1L189.7 81.7L188.2 79.1L186.3 75.7L186.0 74.4L185.5 75.9L184.1 74.0L183.8 72.9L185.2 72.9L185.7 71.5L186.1 69.6L186.0 68.0L184.9 68.1L183.5 68.6L182.0 68.4L180.9 68.1L179.6 68.1L178.8 66.7L178.7 65.6L179.1 64.9L180.4 64.3L182.2 64.2L183.5 63.5L184.6 63.5L186.2 64.3L188.0 64.3L189.3 63.9L189.1 62.9L187.5 61.9L186.0 61.1L186.5 60.0L186.7 59.0L185.6 59.1L184.2 59.7L185.2 60.6L184.6 61.0L183.2 61.3L182.4 60.5L183.0 60.0L181.5 59.5L180.6 60.2L180.4 60.9L179.8 61.9L179.4 63.0L179.8 63.9L180.4 64.2L179.4 64.3L178.5 64.5L176.9 64.5L176.8 65.2L176.1 64.9L176.2 65.8L177.1 66.9L176.6 67.1L176.5 68.3L175.9 68.0L175.3 67.4L175.0 66.3L173.7 64.9L173.6 63.6L172.1 62.6L170.2 61.1L169.5 60.9L169.2 60.3L168.3 60.6L168.4 61.6L169.4 62.3L171.1 63.5L173.0 65.0L171.9 64.8L171.7 66.1L171.3 66.9L171.1 66.8L171.2 65.6L170.5 65.0L168.5 63.6L167.1 62.7L166.9 61.8L165.9 61.4L165.0 61.9L163.9 62.5L162.5 62.2L161.9 63.2L162.1 63.7L160.3 64.5L159.5 65.6L159.8 66.2L159.2 67.2L158.2 68.0L156.4 68.1L155.6 68.7L155.0 68.0L154.3 67.6L153.1 67.8ZM57.5 41.4L58.7 42.5L60.0 43.6L56.9 44.7L54.7 44.0L53.0 44.3ZM155.8 56.5L157.3 56.3L160.6 55.6L160.8 54.3L159.8 54.1L159.6 52.8L158.7 52.0L157.9 51.6L158.4 50.3L157.2 50.3L157.7 49.4L156.5 49.4L155.7 50.7L156.3 52.0L156.6 52.5L157.6 52.5L157.7 53.8L156.7 53.8L156.9 54.6L156.2 55.1L157.5 55.4ZM153.0 55.1L155.5 54.7L155.8 53.2L156.0 52.5L154.8 52.1L153.1 53.0L153.4 54.1ZM145.5 44.0L146.9 43.3L149.2 43.4L151.1 43.4L151.6 44.3L150.4 45.0L148.4 45.6L146.2 45.2L146.6 44.6ZM165.2 35.1L168.4 35.9L170.7 34.9L172.8 33.8L169.3 33.5L165.1 34.0ZM188.0 39.5L191.4 40.1L190.5 38.1L192.0 36.7L194.7 35.9L193.3 35.7L189.7 36.4L188.6 38.1ZM206.5 34.4L212.1 34.9L209.7 33.8L205.5 33.3ZM231.1 36.7L236.1 37.2L238.3 36.9L233.7 36.4ZM252.8 53.0L254.9 54.5L257.0 57.0L259.3 59.7L258.4 60.0L255.9 56.6L254.2 54.9ZM259.3 63.5L258.4 60.5L262.2 62.2L261.4 63.5ZM260.3 64.0L262.1 65.6L262.5 67.8L263.2 69.4L261.7 69.8L260.5 70.0L260.0 70.9L258.5 70.0L256.4 70.5L256.3 70.0L257.0 69.1L259.4 68.9L259.5 67.6L260.6 66.9L260.4 65.2ZM255.9 70.9L257.1 70.7L257.7 72.7L256.8 72.9L256.0 71.5ZM257.6 70.5L259.0 70.3L259.1 71.1L258.4 71.5ZM251.9 78.2L252.4 78.7L252.0 81.0L251.3 80.1L251.4 78.8ZM243.1 83.4L244.4 82.7L244.9 83.1L244.0 84.3ZM221.9 91.7L223.4 93.7L222.8 95.0L222.0 94.9L221.8 93.0ZM252.3 84.1L253.6 84.1L253.7 86.3L255.5 88.2L255.8 89.1L254.1 88.2L253.1 87.6L252.3 86.3ZM254.7 94.2L255.7 92.8L257.2 91.7L258.1 93.7L257.8 94.9L257.3 95.2L256.2 94.4ZM254.3 89.9L255.9 90.2L257.1 90.5L257.0 91.5L255.7 92.0L254.9 91.5ZM250.9 92.9L252.5 91.1L252.6 90.5L250.8 92.7ZM234.0 95.4L235.7 95.7L237.9 97.8L240.6 100.3L241.2 102.1L242.4 103.1L242.1 105.4L241.1 105.4L239.5 103.8L238.3 102.2L237.0 99.9L235.5 97.7ZM241.6 106.3L242.8 105.6L244.3 106.2L246.0 105.9L247.4 106.4L248.8 107.1L248.7 107.9L246.0 107.6L243.7 107.1L242.5 106.8ZM244.7 99.0L245.8 98.8L246.7 97.9L247.8 97.5L249.3 95.9L250.6 94.2L251.4 94.9L252.4 95.7L251.7 96.5L251.6 98.5L252.6 99.4L251.6 99.9L251.4 101.2L250.4 102.2L250.3 103.8L249.1 103.8L248.2 103.2L246.9 103.4L245.6 102.8L245.5 101.4L244.8 100.3ZM252.9 103.4L253.2 99.6L254.1 99.2L257.2 98.9L256.7 100.0L254.1 99.9L254.0 101.1L255.8 101.0L254.6 102.1L255.6 104.0L255.0 105.0L254.4 104.0L253.9 102.8L253.5 105.2L252.8 105.1ZM261.9 101.0L264.3 101.0L265.0 103.2L267.2 101.6L269.7 102.6L272.4 103.6L274.2 105.4L274.8 106.2L274.1 106.4L274.4 107.3L276.6 109.3L274.7 109.2L273.2 107.8L271.7 107.1L270.9 108.4L269.3 108.3L267.8 107.4L267.0 107.6L267.8 106.3L267.2 105.1L265.3 104.2L263.8 103.5L263.3 102.8L264.1 102.2L262.7 102.2ZM249.2 107.5L252.3 107.6L255.4 107.6L255.2 108.0L252.2 108.1L249.1 108.0ZM255.6 109.3L256.5 108.4L258.5 107.7L258.0 108.4L256.0 109.3ZM259.2 98.7L260.1 99.2L259.6 101.0ZM275.2 105.2L277.0 105.1L278.4 104.0L278.2 104.9L277.2 105.7L275.4 105.6ZM246.8 119.4L245.9 121.8L245.9 124.4L245.7 127.1L245.8 128.4L244.5 130.4L246.5 131.0L248.3 130.1L250.9 130.1L253.3 128.7L255.8 128.0L257.5 128.0L259.1 129.1L259.7 130.9L261.6 129.3L261.2 131.0L261.9 131.9L261.7 133.7L263.5 134.4L265.4 134.5L267.2 133.5L268.9 133.0L270.6 131.0L272.0 129.3L273.8 127.5L275.3 125.3L275.7 122.7L274.6 120.9L273.8 119.9L273.5 118.0L272.0 117.0L272.1 114.8L271.9 113.3L270.9 112.9L270.7 111.3L270.3 109.8L269.4 111.7L269.0 113.9L268.1 115.7L266.9 115.7L266.0 114.3L264.4 113.5L265.0 112.2L265.7 111.0L264.8 110.8L262.6 110.4L261.2 111.1L260.3 112.2L259.8 113.4L258.8 113.3L258.0 112.5L256.7 113.0L255.3 114.6L254.1 115.2L253.6 116.4L252.5 117.5L250.9 117.9L249.3 118.5L248.0 119.2ZM263.4 136.0L265.8 136.1L265.1 137.3L263.4 138.4L262.7 138.3ZM287.1 130.5L287.4 132.1L287.9 132.8L289.4 133.4L287.3 135.0L284.7 136.8L285.6 135.2L285.1 134.8L286.6 133.7L287.1 132.3ZM283.7 135.8L283.9 136.9L281.6 138.4L280.0 139.1L278.5 140.5L276.4 141.1L275.4 140.6L278.2 138.9L281.0 137.6ZM123.2 35.0L128.9 33.0L138.7 32.5L146.0 32.0L150.3 32.8L151.5 33.8L150.0 35.7L150.0 37.0L147.7 39.2L147.4 40.4L144.3 41.9L140.6 42.8L137.9 43.9L136.0 44.3L133.7 46.7L132.9 48.3L131.3 48.3L129.8 47.5L129.1 45.1L128.7 42.8L129.6 41.3L129.5 39.9L129.5 36.7L124.5 36.4Z"/></clipPath><filter id="f79" x="0" y="0" width="1" height="1" color-interpolation-filters="sRGB"><feTurbulence type="fractalNoise" baseFrequency="0.5" numOctaves="2" seed="83"/><feColorMatrix type="matrix" values="0 0 0 0 0 0 0 0 0 0 0 0 0 0 0 14 0 0 0 -7.98"/><feComposite in="SourceGraphic" operator="in"/></filter><filter id="f80" x="0" y="0" width="1" height="1" color-interpolation-filters="sRGB"><feTurbulence type="fractalNoise" baseFrequency="0.8" numOctaves="2" seed="84"/><feColorMatrix type="matrix" values="0 0 0 0 0 0 0 0 0 0 0 0 0 0 0 14 0 0 0 -7.65"/><feComposite in="SourceGraphic" operator="in"/></filter><filter id="f81" x="0" y="0" width="1" height="1" color-interpolation-filters="sRGB"><feTurbulence type="fractalNoise" baseFrequency="0.8" numOctaves="2" seed="85"/><feColorMatrix type="matrix" values="0 0 0 0 0 0 0 0 0 0 0 0 0 0 0 14 0 0 0 -6.84"/><feComposite in="SourceGraphic" operator="in"/></filter><filter id="f82" x="0" y="0" width="1" height="1" color-interpolation-filters="sRGB"><feTurbulence type="fractalNoise" baseFrequency="0.8" numOctaves="2" seed="86"/><feColorMatrix type="matrix" values="0 0 0 0 0 0 0 0 0 0 0 0 0 0 0 14 0 0 0 -7.98"/><feComposite in="SourceGraphic" operator="in"/></filter><filter id="f83" x="0" y="0" width="1" height="1" color-interpolation-filters="sRGB"><feTurbulence type="fractalNoise" baseFrequency="0.8" numOctaves="2" seed="87"/><feColorMatrix type="matrix" values="0 0 0 0 0 0 0 0 0 0 0 0 0 0 0 14 0 0 0 -9.62"/><feComposite in="SourceGraphic" operator="in"/></filter><filter id="f84" x="0" y="0" width="1" height="1" color-interpolation-filters="sRGB"><feTurbulence type="fractalNoise" baseFrequency="0.8" numOctaves="2" seed="88"/><feColorMatrix type="matrix" values="0 0 0 0 0 0 0 0 0 0 0 0 0 0 0 14 0 0 0 -8.33"/><feComposite in="SourceGraphic" operator="in"/></filter><filter id="f85" x="0" y="0" width="1" height="1" color-interpolation-filters="sRGB"><feTurbulence type="fractalNoise" baseFrequency="0.8" numOctaves="2" seed="89"/><feColorMatrix type="matrix" values="0 0 0 0 0 0 0 0 0 0 0 0 0 0 0 14 0 0 0 -9.62"/><feComposite in="SourceGraphic" operator="in"/></filter><filter id="f86" x="0" y="0" width="1" height="1" color-interpolation-filters="sRGB"><feTurbulence type="fractalNoise" baseFrequency="0.8" numOctaves="2" seed="90"/><feColorMatrix type="matrix" values="0 0 0 0 0 0 0 0 0 0 0 0 0 0 0 14 0 0 0 -9.80"/><feComposite in="SourceGraphic" operator="in"/></filter><filter id="f87" x="0" y="0" width="1" height="1" color-interpolation-filters="sRGB"><feTurbulence type="fractalNoise" baseFrequency="0.8" numOctaves="2" seed="91"/><feColorMatrix type="matrix" values="0 0 0 0 0 0 0 0 0 0 0 0 0 0 0 14 0 0 0 -9.10"/><feComposite in="SourceGraphic" operator="in"/></filter><filter id="f88" x="0" y="0" width="1" height="1" color-interpolation-filters="sRGB"><feTurbulence type="fractalNoise" baseFrequency="0.8" numOctaves="2" seed="92"/><feColorMatrix type="matrix" values="0 0 0 0 0 0 0 0 0 0 0 0 0 0 0 14 0 0 0 -6.30"/><feComposite in="SourceGraphic" operator="in"/></filter><filter id="f89" x="0" y="0" width="1" height="1" color-interpolation-filters="sRGB"><feTurbulence type="fractalNoise" baseFrequency="0.6" numOctaves="2" seed="93"/><feColorMatrix type="matrix" values="0 0 0 0 0 0 0 0 0 0 0 0 0 0 0 14 0 0 0 -8.75"/><feComposite in="SourceGraphic" operator="in"/></filter><filter id="f90" x="0" y="0" width="1" height="1" color-interpolation-filters="sRGB"><feTurbulence type="fractalNoise" baseFrequency="0.5" numOctaves="2" seed="94"/><feColorMatrix type="matrix" values="0 0 0 0 0 0 0 0 0 0 0 0 0 0 0 14 0 0 0 -6.08"/><feComposite in="SourceGraphic" operator="in"/></filter><filter id="f91" x="0" y="0" width="1" height="1" color-interpolation-filters="sRGB"><feTurbulence type="fractalNoise" baseFrequency="0.4" numOctaves="2" seed="95"/><feColorMatrix type="matrix" values="0 0 0 0 0 0 0 0 0 0 0 0 0 0 0 14 0 0 0 -4.80"/><feComposite in="SourceGraphic" operator="in"/></filter><filter id="f92" x="0" y="0" width="1" height="1" color-interpolation-filters="sRGB"><feTurbulence type="fractalNoise" baseFrequency="0.8" numOctaves="2" seed="96"/><feColorMatrix type="matrix" values="0 0 0 0 0 0 0 0 0 0 0 0 0 0 0 14 0 0 0 -8.92"/><feComposite in="SourceGraphic" operator="in"/></filter><filter id="f93" x="0" y="0" width="1" height="1" color-interpolation-filters="sRGB"><feTurbulence type="fractalNoise" baseFrequency="0.8" numOctaves="2" seed="97"/><feColorMatrix type="matrix" values="0 0 0 0 0 0 0 0 0 0 0 0 0 0 0 14 0 0 0 -7.40"/><feComposite in="SourceGraphic" operator="in"/></filter><filter id="f94" x="0" y="0" width="1" height="1" color-interpolation-filters="sRGB"><feTurbulence type="fractalNoise" baseFrequency="0.8" numOctaves="2" seed="98"/><feColorMatrix type="matrix" values="0 0 0 0 0 0 0 0 0 0 0 0 0 0 0 14 0 0 0 -7.15"/><feComposite in="SourceGraphic" operator="in"/></filter><filter id="f95" x="0" y="0" width="1" height="1" color-interpolation-filters="sRGB"><feTurbulence type="fractalNoise" baseFrequency="0.8" numOctaves="2" seed="99"/><feColorMatrix type="matrix" values="0 0 0 0 0 0 0 0 0 0 0 0 0 0 0 14 0 0 0 -7.65"/><feComposite in="SourceGraphic" operator="in"/></filter><filter id="f96" x="0" y="0" width="1" height="1" color-interpolation-filters="sRGB"><feTurbulence type="fractalNoise" baseFrequency="0.8" numOctaves="2" seed="100"/><feColorMatrix type="matrix" values="0 0 0 0 0 0 0 0 0 0 0 0 0 0 0 14 0 0 0 -6.92"/><feComposite in="SourceGraphic" operator="in"/></filter><filter id="f97" x="0" y="0" width="1" height="1" color-interpolation-filters="sRGB"><feTurbulence type="fractalNoise" baseFrequency="0.8" numOctaves="2" seed="101"/><feColorMatrix type="matrix" values="0 0 0 0 0 0 0 0 0 0 0 0 0 0 0 14 0 0 0 -9.45"/><feComposite in="SourceGraphic" operator="in"/></filter><filter id="f98" x="0" y="0" width="1" height="1" color-interpolation-filters="sRGB"><feTurbulence type="fractalNoise" baseFrequency="0.8" numOctaves="2" seed="102"/><feColorMatrix type="matrix" values="0 0 0 0 0 0 0 0 0 0 0 0 0 0 0 14 0 0 0 -7.40"/><feComposite in="SourceGraphic" operator="in"/></filter><filter id="f99" x="0" y="0" width="1" height="1" color-interpolation-filters="sRGB"><feTurbulence type="fractalNoise" baseFrequency="0.6" numOctaves="2" seed="103"/><feColorMatrix type="matrix" values="0 0 0 0 0 0 0 0 0 0 0 0 0 0 0 14 0 0 0 -8.92"/><feComposite in="SourceGraphic" operator="in"/></filter><filter id="f100" x="0" y="0" width="1" height="1" color-interpolation-filters="sRGB"><feTurbulence type="fractalNoise" baseFrequency="0.8" numOctaves="2" seed="104"/><feColorMatrix type="matrix" values="0 0 0 0 0 0 0 0 0 0 0 0 0 0 0 14 0 0 0 -7.65"/><feComposite in="SourceGraphic" operator="in"/></filter><filter id="f101" x="0" y="0" width="1" height="1" color-interpolation-filters="sRGB"><feTurbulence type="fractalNoise" baseFrequency="0.6" numOctaves="2" seed="105"/><feColorMatrix type="matrix" values="0 0 0 0 0 0 0 0 0 0 0 0 0 0 0 14 0 0 0 -8.92"/><feComposite in="SourceGraphic" operator="in"/></filter><filter id="f102" x="0" y="0" width="1" height="1" color-interpolation-filters="sRGB"><feTurbulence type="fractalNoise" baseFrequency="0.8" numOctaves="2" seed="106"/><feColorMatrix type="matrix" values="0 0 0 0 0 0 0 0 0 0 0 0 0 0 0 14 0 0 0 -8.12"/><feComposite in="SourceGraphic" operator="in"/></filter><filter id="f103" x="0" y="0" width="1" height="1" color-interpolation-filters="sRGB"><feTurbulence type="fractalNoise" baseFrequency="0.8" numOctaves="2" seed="107"/><feColorMatrix type="matrix" values="0 0 0 0 0 0 0 0 0 0 0 0 0 0 0 14 0 0 0 -9.62"/><feComposite in="SourceGraphic" operator="in"/></filter><filter id="f104" x="0" y="0" width="1" height="1" color-interpolation-filters="sRGB"><feTurbulence type="fractalNoise" baseFrequency="0.8" numOctaves="2" seed="108"/><feColorMatrix type="matrix" values="0 0 0 0 0 0 0 0 0 0 0 0 0 0 0 14 0 0 0 -9.80"/><feComposite in="SourceGraphic" operator="in"/></filter><filter id="f105" x="0" y="0" width="1" height="1" color-interpolation-filters="sRGB"><feTurbulence type="fractalNoise" baseFrequency="0.8" numOctaves="2" seed="109"/><feColorMatrix type="matrix" values="0 0 0 0 0 0 0 0 0 0 0 0 0 0 0 14 0 0 0 -9.80"/><feComposite in="SourceGraphic" operator="in"/></filter><clipPath id="fr2"><path d="M533.8 27.2L539.4 28.9L546.3 31.5L553.6 34.7L559.9 38.3L565.7 42.0L571.2 46.0L576.3 50.1L580.9 54.3L584.8 58.6L588.4 62.9L591.4 67.3L593.8 71.7L595.6 76.1L596.9 80.4L598.0 84.8L598.8 89.2L599.2 93.6L599.4 98.0L599.2 102.4L598.8 106.8L598.0 111.2L596.9 115.6L595.6 119.9L593.8 124.3L591.4 128.7L588.4 133.1L584.8 137.4L580.9 141.7L576.3 145.9L571.2 150.0L565.7 154.0L559.9 157.7L553.6 161.3L546.3 164.5L539.4 167.1L533.8 168.8L384.6 168.8L379.0 167.1L372.1 164.5L364.8 161.3L358.5 157.7L352.7 154.0L347.2 150.0L342.1 145.9L337.5 141.7L333.6 137.4L330.0 133.1L327.0 128.7L324.6 124.3L322.8 119.9L321.5 115.6L320.4 111.2L319.6 106.8L319.2 102.4L319.0 98.0L319.2 93.6L319.6 89.2L320.4 84.8L321.5 80.4L322.8 76.1L324.6 71.7L327.0 67.3L330.0 62.9L333.6 58.6L337.5 54.3L342.1 50.1L347.2 46.0L352.7 42.0L358.5 38.3L364.8 34.7L372.1 31.5L379.0 28.9L384.6 27.2Z"/></clipPath><clipPath id="ld2"><path d="M360.3 41.7L364.7 39.4L372.8 37.4L379.9 38.6L387.7 38.1L393.7 39.4L397.4 39.8L404.2 39.8L407.6 37.2L409.1 39.4L413.0 38.7L412.3 40.5L408.9 41.3L407.2 42.8L402.5 44.4L399.9 46.8L400.1 48.4L404.1 49.8L405.7 50.0L404.8 51.8L406.1 53.0L407.6 50.5L410.1 48.8L409.8 47.0L412.1 44.2L414.5 44.2L416.1 45.2L415.5 47.0L417.7 47.0L419.2 45.8L419.7 48.8L421.7 50.5L422.1 52.6L419.4 54.0L414.7 54.1L411.0 56.8L415.0 55.1L414.6 57.3L416.9 57.7L414.4 59.0L412.7 59.9L412.4 58.6L409.9 59.9L409.1 61.4L406.2 62.5L404.5 64.6L403.4 67.1L401.3 68.3L399.0 70.3L398.7 74.3L398.3 75.9L397.4 75.2L397.0 73.4L396.4 71.7L394.2 71.3L392.3 71.5L392.1 72.4L389.2 71.9L386.3 73.4L385.0 76.9L384.8 80.0L386.4 81.7L389.0 81.8L390.1 79.6L392.8 79.1L391.9 82.0L390.8 84.0L394.5 84.1L395.0 84.9L394.3 88.2L395.2 89.9L397.4 89.7L399.2 90.4L398.5 91.4L396.7 91.6L394.8 90.7L392.8 89.2L391.6 86.6L388.6 85.7L386.5 83.8L384.9 84.2L381.6 82.8L378.5 80.4L378.9 78.2L376.5 75.2L375.0 72.1L374.0 70.2L375.1 76.1L375.7 77.8L374.1 76.1L373.1 73.4L372.6 71.7L372.4 69.5L370.6 67.7L370.3 65.3L370.2 62.6L371.5 60.3L373.4 57.4L374.0 55.6L375.5 55.1L373.7 53.4L374.0 50.5L374.3 47.6L373.0 46.4L370.3 46.0L367.6 45.6L364.2 46.4L361.2 48.0L357.0 49.3L351.8 50.5L354.8 49.3L359.6 47.2L357.5 46.8L357.8 44.8L363.0 42.8L361.1 42.4ZM416.4 35.8L419.7 37.2L421.1 38.3L423.3 40.5L421.3 42.0L418.9 44.4L416.1 44.0L415.2 42.4L412.8 42.4L417.2 40.2L416.1 38.3L411.6 38.3L410.0 37.6L411.1 35.8ZM394.5 37.6L399.8 39.0L402.3 38.7L402.8 36.5L400.0 36.2L396.2 36.2ZM390.6 37.2L392.3 37.6L396.7 36.2L396.9 35.1L393.3 35.4ZM413.1 33.8L419.2 33.8L422.0 32.5L430.1 30.5L426.9 29.9L419.4 30.5L415.0 31.2L415.7 32.8ZM411.0 34.7L417.0 35.1L417.9 34.1L412.7 33.6ZM397.9 34.7L403.6 34.7L405.4 33.8L399.3 33.8ZM411.7 32.8L415.5 32.5L416.3 31.0L412.7 31.5ZM403.2 37.2L406.8 36.9L409.8 35.4L405.5 35.4ZM406.9 43.2L410.5 43.2L411.5 41.7L408.6 41.7ZM418.5 56.2L422.6 57.1L423.2 55.6L422.1 53.0L420.6 53.9ZM394.4 78.7L398.3 77.8L401.9 79.8L402.4 80.4L399.9 80.5L399.7 79.1L396.7 78.4ZM402.1 81.8L404.1 80.6L406.8 81.7L404.3 82.5ZM399.2 90.4L400.7 88.5L403.1 87.6L404.1 87.2L405.0 87.9L406.4 88.6L409.2 89.0L411.2 88.6L412.6 90.5L414.9 92.7L417.2 92.9L419.1 94.1L420.3 96.7L420.3 98.4L422.2 98.6L424.6 100.2L428.1 100.5L430.4 102.2L432.0 103.1L432.2 105.0L430.5 107.7L429.1 109.9L429.2 113.4L428.1 116.9L427.2 118.2L425.0 118.9L422.5 120.8L422.6 123.0L421.2 125.2L419.8 127.8L417.7 128.6L416.2 127.8L417.6 130.0L417.3 131.8L414.5 132.2L414.7 134.0L412.8 134.0L414.1 135.5L413.5 137.4L412.4 138.3L414.0 140.0L412.7 142.1L413.8 143.7L414.0 144.1L416.7 145.7L414.8 146.3L412.2 145.5L409.6 143.4L407.7 140.4L407.6 136.6L406.2 133.1L406.0 130.0L406.1 126.1L405.4 122.6L405.7 118.2L405.3 114.1L403.5 112.7L400.5 110.3L399.2 108.1L397.5 104.6L396.1 103.3L396.0 101.8L396.9 100.6L396.3 98.9L396.9 97.6L397.8 96.7L398.9 94.5L399.0 91.9ZM454.9 66.6L457.7 67.1L461.4 65.7L466.5 65.3L467.2 65.7L466.7 68.2L467.3 68.9L470.5 69.6L473.4 71.4L474.1 70.8L474.2 69.5L476.2 69.4L477.9 70.3L480.8 70.9L483.0 70.5L483.5 71.7L484.4 73.4L486.2 76.9L487.5 79.6L488.0 81.8L489.6 84.4L492.4 86.9L492.7 87.9L494.1 88.8L496.4 88.2L498.8 87.6L498.6 89.2L497.3 92.3L495.8 94.9L493.5 97.1L491.5 99.6L490.1 102.0L489.3 103.7L489.9 105.5L490.6 107.7L490.5 111.2L487.6 113.6L486.0 115.6L486.2 119.1L484.0 120.8L483.6 123.0L481.9 125.2L479.5 127.4L477.6 127.8L473.9 128.6L472.7 128.0L472.6 126.1L471.6 123.2L470.5 120.8L470.2 117.8L468.4 113.8L468.5 111.2L469.8 108.5L469.3 105.9L468.7 103.3L466.6 100.2L466.2 97.6L466.8 95.4L466.0 94.0L463.9 94.2L462.5 92.5L460.0 92.9L457.6 93.8L455.7 93.4L453.4 94.1L452.2 93.6L449.5 91.4L448.7 89.7L447.6 88.3L446.3 87.0L445.7 85.1L446.7 82.2L446.7 80.4L446.2 79.6L447.0 77.2L448.2 75.2L450.2 73.4L451.7 72.1L452.0 70.3L452.9 68.8L454.3 68.0ZM497.3 108.7L498.1 111.6L496.8 113.8L495.2 119.8L493.3 120.4L492.3 118.6L493.0 115.6L493.3 112.5L495.0 111.9L496.3 109.9ZM452.3 65.5L452.5 64.0L452.9 62.0L452.7 60.3L453.6 59.7L457.9 59.9L458.4 57.7L456.1 56.2L456.0 55.6L458.2 55.4L458.0 54.5L459.3 54.7L460.3 53.5L461.5 53.1L462.3 51.8L463.8 51.3L464.9 51.0L464.5 49.7L464.4 48.4L465.9 47.9L465.8 49.3L465.6 50.1L466.4 50.9L468.5 51.0L471.3 50.2L472.1 50.6L472.8 49.8L472.7 48.4L474.7 48.3L473.9 46.6L476.7 46.3L478.0 46.1L476.8 45.6L474.7 45.8L473.2 46.0L472.3 45.2L472.2 43.6L474.2 42.0L473.3 41.4L471.9 42.4L469.8 44.0L469.8 45.2L470.9 46.0L469.7 48.4L469.5 49.1L468.5 49.7L467.6 49.7L467.2 49.0L466.3 47.2L465.8 46.6L464.3 47.5L462.7 47.0L462.3 45.2L463.1 43.8L465.4 42.4L466.8 40.9L467.8 39.6L469.3 38.7L471.5 38.1L473.5 37.6L475.0 37.7L476.5 38.1L476.1 38.6L477.8 38.7L479.6 39.0L482.8 40.2L482.8 41.1L481.4 41.3L478.7 40.8L479.9 42.4L481.3 42.9L481.8 42.4L483.2 42.3L482.7 41.5L483.7 41.0L485.1 41.3L484.4 39.9L484.0 39.4L485.5 39.6L486.1 40.6L486.8 40.0L489.3 39.2L492.8 39.4L493.3 38.4L495.9 38.9L497.9 39.4L496.7 38.3L495.5 36.5L496.6 36.2L498.4 36.4L499.2 37.9L500.9 39.8L501.4 39.9L500.1 37.6L499.1 36.9L499.9 36.5L501.2 36.9L501.6 36.7L502.3 35.8L505.0 35.5L504.8 34.7L508.2 34.1L510.4 33.8L511.6 33.0L513.8 33.6L517.5 34.1L519.7 35.6L517.5 35.6L519.7 35.8L523.3 36.2L525.4 35.7L528.6 36.5L530.8 37.6L531.7 37.2L534.8 37.3L535.1 36.5L539.1 36.6L543.3 37.6L547.3 37.7L549.4 38.6L553.3 38.4L555.7 39.0L557.9 38.4L561.2 39.1L565.7 42.0L567.8 44.0L565.5 44.6L565.3 46.0L562.5 46.0L561.1 46.2L562.4 47.6L563.6 49.3L564.6 50.2L564.9 51.8L564.9 52.8L564.3 53.4L559.6 49.3L558.8 48.0L559.2 45.6L558.7 44.0L557.1 44.6L555.1 44.8L555.4 46.4L552.8 46.3L550.0 46.6L548.3 46.8L547.8 48.8L547.3 50.2L550.6 50.9L552.5 51.8L554.0 54.3L555.4 56.0L555.2 58.1L554.4 59.9L552.6 60.1L551.8 60.8L551.7 61.9L550.8 63.1L553.3 65.5L553.9 66.8L552.3 67.8L551.3 65.7L549.7 64.6L549.1 63.2L548.4 62.9L546.8 63.8L546.7 62.5L545.6 62.1L544.2 63.6L545.5 65.0L546.7 64.8L548.3 65.3L547.3 66.4L546.7 67.3L547.8 67.9L548.6 69.2L549.9 70.3L550.3 71.7L550.5 72.5L550.0 74.1L549.6 75.6L548.7 76.7L547.8 77.8L546.2 78.4L545.6 78.6L544.5 79.0L543.4 79.4L543.5 80.1L542.9 79.1L541.6 79.0L540.8 80.4L540.2 81.4L541.6 83.3L543.1 84.6L543.8 86.7L543.6 87.9L542.3 88.9L541.9 89.7L540.7 90.4L540.5 89.2L539.0 88.2L538.3 87.2L537.1 86.3L536.4 86.1L536.1 88.8L536.7 89.8L537.3 91.6L538.5 92.6L539.6 94.0L539.7 95.8L540.3 96.8L539.8 96.9L538.0 95.5L537.2 93.0L536.6 92.2L535.4 90.5L535.6 89.0L535.4 86.6L534.5 84.4L533.8 83.1L532.7 84.1L531.8 84.0L531.5 81.8L529.9 79.8L529.1 78.2L528.1 78.4L527.1 78.9L525.6 79.3L525.6 80.3L524.3 81.0L522.5 83.4L521.0 84.4L521.1 86.1L521.0 89.0L520.5 89.8L519.9 90.2L519.4 90.9L518.5 89.9L517.6 87.7L516.7 85.7L515.7 83.5L514.9 80.9L514.7 79.4L514.3 79.6L513.3 79.8L511.8 78.5L512.7 77.8L511.3 77.4L510.3 76.7L509.6 75.7L505.8 75.9L502.6 75.6L501.9 74.3L500.3 74.6L497.9 73.5L496.7 71.7L495.7 71.4L495.1 72.1L495.8 73.2L497.1 74.6L497.2 76.1L498.4 76.8L500.2 76.8L501.5 75.2L502.1 76.5L503.8 77.3L504.7 78.3L503.9 80.1L503.4 81.4L501.7 82.8L499.4 84.2L496.8 85.7L494.0 86.8L492.8 86.9L492.2 85.0L492.0 83.5L490.4 80.8L489.1 79.4L487.7 76.8L485.7 73.4L485.4 72.1L484.9 73.6L483.6 71.7L483.2 70.6L484.7 70.6L485.1 69.2L485.6 67.3L485.4 65.7L484.3 65.8L482.9 66.3L481.5 66.1L480.3 65.8L479.1 65.8L478.2 64.4L478.1 63.3L478.5 62.6L479.9 62.0L481.7 61.9L483.0 61.2L484.0 61.2L485.6 62.0L487.4 62.0L488.7 61.6L488.6 60.6L487.0 59.6L485.4 58.8L485.9 57.7L486.2 56.7L485.0 56.8L483.6 57.4L484.6 58.3L484.0 58.7L482.7 59.0L481.9 58.2L482.4 57.7L481.0 57.2L480.0 57.9L479.9 58.6L479.3 59.6L478.9 60.7L479.3 61.6L479.9 61.9L478.8 62.0L477.9 62.2L476.4 62.2L476.3 62.9L475.5 62.6L475.6 63.5L476.6 64.6L476.0 64.8L476.0 66.0L475.4 65.7L474.8 65.1L474.5 64.0L473.2 62.6L473.1 61.3L471.6 60.3L469.7 58.8L469.0 58.6L468.7 58.0L467.8 58.3L467.9 59.3L468.9 60.0L470.6 61.2L472.5 62.7L471.4 62.5L471.2 63.8L470.8 64.6L470.6 64.5L470.7 63.3L470.0 62.7L467.9 61.3L466.6 60.4L466.4 59.5L465.4 59.1L464.5 59.6L463.4 60.2L462.0 59.9L461.4 60.9L461.5 61.4L459.8 62.2L459.0 63.3L459.3 63.9L458.7 64.9L457.7 65.7L455.9 65.8L455.1 66.4L454.5 65.7L453.8 65.3L452.7 65.5ZM357.2 39.1L358.4 40.2L359.7 41.3L356.6 42.4L354.4 41.7L352.7 42.0ZM455.3 54.2L456.8 54.0L460.1 53.3L460.3 52.0L459.3 51.8L459.1 50.5L458.2 49.7L457.4 49.3L457.9 48.0L456.7 48.0L457.2 47.1L456.1 47.1L455.2 48.4L455.8 49.7L456.1 50.2L457.1 50.2L457.2 51.5L456.2 51.5L456.4 52.3L455.7 52.8L457.0 53.1ZM452.5 52.8L455.0 52.4L455.3 50.9L455.5 50.2L454.3 49.8L452.7 50.7L452.9 51.8ZM445.1 41.7L446.4 41.0L448.7 41.1L450.6 41.1L451.2 42.0L450.0 42.7L448.0 43.3L445.7 42.9L446.1 42.3ZM464.7 32.8L467.9 33.6L470.1 32.6L472.3 31.5L468.8 31.2L464.6 31.7ZM487.5 37.2L490.8 37.8L490.0 35.8L491.5 34.4L494.1 33.6L492.7 33.4L489.1 34.1L488.1 35.8ZM505.9 32.1L511.5 32.6L509.0 31.5L504.9 31.0ZM530.5 34.4L535.4 34.9L537.6 34.6L533.0 34.1ZM552.1 50.7L554.2 52.2L556.3 54.7L558.5 57.4L557.7 57.7L555.2 54.3L553.5 52.6ZM558.6 61.2L557.7 58.2L561.5 59.9L560.7 61.2ZM559.6 61.7L561.4 63.3L561.8 65.5L562.5 67.1L561.0 67.5L559.8 67.7L559.2 68.6L557.8 67.7L555.7 68.2L555.6 67.7L556.3 66.8L558.7 66.6L558.8 65.3L559.9 64.6L559.7 62.9ZM555.2 68.6L556.4 68.4L557.0 70.4L556.1 70.6L555.3 69.2ZM556.8 68.2L558.2 68.0L558.4 68.8L557.6 69.2ZM551.2 75.9L551.7 76.4L551.3 78.7L550.6 77.8L550.7 76.5ZM542.5 81.1L543.7 80.4L544.2 80.8L543.3 82.0ZM521.2 89.4L522.7 91.4L522.2 92.7L521.4 92.6L521.1 90.7ZM551.6 81.8L552.9 81.8L553.0 84.0L554.8 85.9L555.0 86.8L553.4 85.9L552.4 85.3L551.6 84.0ZM554.0 91.9L555.0 90.5L556.5 89.4L557.4 91.4L557.1 92.6L556.6 92.9L555.5 92.1ZM553.6 87.6L555.2 87.9L556.4 88.2L556.3 89.2L555.0 89.7L554.2 89.2ZM550.2 90.6L551.8 88.8L551.9 88.2L550.1 90.4ZM533.3 93.1L535.0 93.4L537.3 95.5L540.0 98.0L540.5 99.8L541.7 100.8L541.4 103.1L540.4 103.1L538.8 101.5L537.7 99.9L536.3 97.6L534.8 95.4ZM540.9 104.0L542.1 103.3L543.7 103.9L545.3 103.6L546.8 104.1L548.1 104.8L548.0 105.6L545.4 105.3L543.1 104.8L541.8 104.5ZM544.1 96.7L545.1 96.5L546.0 95.6L547.1 95.2L548.6 93.6L549.9 91.9L550.7 92.6L551.7 93.4L551.0 94.2L550.9 96.2L551.9 97.1L550.9 97.6L550.7 98.9L549.7 99.9L549.6 101.5L548.4 101.5L547.5 100.9L546.2 101.1L545.0 100.5L544.8 99.1L544.1 98.0ZM552.2 101.1L552.5 97.3L553.4 96.9L556.5 96.6L556.0 97.7L553.4 97.6L553.3 98.8L555.1 98.7L553.9 99.8L554.9 101.7L554.3 102.7L553.7 101.7L553.2 100.5L552.8 102.9L552.1 102.8ZM561.2 98.7L563.5 98.7L564.3 100.9L566.5 99.3L568.9 100.3L571.6 101.3L573.5 103.1L574.0 103.9L573.3 104.1L573.7 105.0L575.8 107.0L573.9 106.9L572.5 105.5L571.0 104.8L570.1 106.1L568.6 106.0L567.1 105.1L566.3 105.3L567.0 104.0L566.5 102.8L564.6 101.9L563.1 101.2L562.6 100.5L563.4 99.9L562.0 99.9ZM548.5 105.2L551.6 105.3L554.7 105.3L554.5 105.7L551.5 105.8L548.4 105.7ZM554.9 107.0L555.8 106.1L557.8 105.4L557.3 106.1L555.3 107.0ZM558.5 96.4L559.4 96.9L558.9 98.7ZM574.5 102.9L576.2 102.8L577.7 101.7L577.4 102.6L576.4 103.4L574.6 103.3ZM546.1 117.1L545.2 119.5L545.2 122.1L545.0 124.8L545.1 126.1L543.9 128.1L545.8 128.7L547.6 127.8L550.2 127.8L552.6 126.4L555.1 125.7L556.8 125.7L558.4 126.8L559.0 128.6L560.9 127.0L560.5 128.7L561.2 129.6L561.0 131.4L562.8 132.1L564.7 132.2L566.5 131.2L568.2 130.7L569.9 128.7L571.3 127.0L573.0 125.2L574.5 123.0L575.0 120.4L573.8 118.6L573.1 117.6L572.8 115.7L571.3 114.7L571.4 112.5L571.2 111.0L570.2 110.6L570.0 109.0L569.6 107.5L568.6 109.4L568.2 111.6L567.3 113.4L566.2 113.4L565.3 112.0L563.7 111.2L564.2 109.9L565.0 108.7L564.0 108.5L561.8 108.1L560.5 108.8L559.6 109.9L559.1 111.1L558.1 111.0L557.2 110.2L556.0 110.7L554.6 112.3L553.4 112.9L552.9 114.1L551.8 115.2L550.2 115.6L548.6 116.2L547.3 116.9ZM562.7 133.7L565.1 133.8L564.4 135.0L562.7 136.1L562.0 136.0ZM586.3 128.2L586.6 129.8L587.1 130.5L588.6 131.1L586.5 132.7L583.9 134.5L584.8 132.9L584.4 132.5L585.8 131.4L586.3 130.0ZM582.9 133.5L583.1 134.6L580.8 136.1L579.2 136.8L577.7 138.2L575.6 138.8L574.7 138.3L577.5 136.6L580.3 135.3ZM422.8 32.7L428.5 30.7L438.3 30.2L445.5 29.7L449.8 30.5L451.0 31.5L449.5 33.4L449.5 34.7L447.2 36.9L446.9 38.1L443.8 39.6L440.1 40.5L437.4 41.6L435.5 42.0L433.3 44.4L432.5 46.0L430.9 46.0L429.3 45.2L428.7 42.8L428.2 40.5L429.2 39.0L429.1 37.6L429.0 34.4L424.1 34.1Z"/></clipPath><filter id="f106" x="0" y="0" width="1" height="1" color-interpolation-filters="sRGB"><feTurbulence type="fractalNoise" baseFrequency="0.5" numOctaves="2" seed="112"/><feColorMatrix type="matrix" values="0 0 0 0 0 0 0 0 0 0 0 0 0 0 0 14 0 0 0 -7.98"/><feComposite in="SourceGraphic" operator="in"/></filter><filter id="f107" x="0" y="0" width="1" height="1" color-interpolation-filters="sRGB"><feTurbulence type="fractalNoise" baseFrequency="0.8" numOctaves="2" seed="113"/><feColorMatrix type="matrix" values="0 0 0 0 0 0 0 0 0 0 0 0 0 0 0 14 0 0 0 -7.65"/><feComposite in="SourceGraphic" operator="in"/></filter><filter id="f108" x="0" y="0" width="1" height="1" color-interpolation-filters="sRGB"><feTurbulence type="fractalNoise" baseFrequency="0.5" numOctaves="2" seed="114"/><feColorMatrix type="matrix" values="0 0 0 0 0 0 0 0 0 0 0 0 0 0 0 14 0 0 0 -8.12"/><feComposite in="SourceGraphic" operator="in"/></filter><filter id="f109" x="0" y="0" width="1" height="1" color-interpolation-filters="sRGB"><feTurbulence type="fractalNoise" baseFrequency="0.8" numOctaves="2" seed="115"/><feColorMatrix type="matrix" values="0 0 0 0 0 0 0 0 0 0 0 0 0 0 0 14 0 0 0 -6.84"/><feComposite in="SourceGraphic" operator="in"/></filter><filter id="f110" x="0" y="0" width="1" height="1" color-interpolation-filters="sRGB"><feTurbulence type="fractalNoise" baseFrequency="0.8" numOctaves="2" seed="116"/><feColorMatrix type="matrix" values="0 0 0 0 0 0 0 0 0 0 0 0 0 0 0 14 0 0 0 -7.98"/><feComposite in="SourceGraphic" operator="in"/></filter><filter id="f111" x="0" y="0" width="1" height="1" color-interpolation-filters="sRGB"><feTurbulence type="fractalNoise" baseFrequency="0.8" numOctaves="2" seed="117"/><feColorMatrix type="matrix" values="0 0 0 0 0 0 0 0 0 0 0 0 0 0 0 14 0 0 0 -9.62"/><feComposite in="SourceGraphic" operator="in"/></filter><filter id="f112" x="0" y="0" width="1" height="1" color-interpolation-filters="sRGB"><feTurbulence type="fractalNoise" baseFrequency="0.8" numOctaves="2" seed="118"/><feColorMatrix type="matrix" values="0 0 0 0 0 0 0 0 0 0 0 0 0 0 0 14 0 0 0 -8.33"/><feComposite in="SourceGraphic" operator="in"/></filter><filter id="f113" x="0" y="0" width="1" height="1" color-interpolation-filters="sRGB"><feTurbulence type="fractalNoise" baseFrequency="0.8" numOctaves="2" seed="119"/><feColorMatrix type="matrix" values="0 0 0 0 0 0 0 0 0 0 0 0 0 0 0 14 0 0 0 -9.62"/><feComposite in="SourceGraphic" operator="in"/></filter><filter id="f114" x="0" y="0" width="1" height="1" color-interpolation-filters="sRGB"><feTurbulence type="fractalNoise" baseFrequency="0.8" numOctaves="2" seed="120"/><feColorMatrix type="matrix" values="0 0 0 0 0 0 0 0 0 0 0 0 0 0 0 14 0 0 0 -9.80"/><feComposite in="SourceGraphic" operator="in"/></filter><filter id="f115" x="0" y="0" width="1" height="1" color-interpolation-filters="sRGB"><feTurbulence type="fractalNoise" baseFrequency="0.8" numOctaves="2" seed="121"/><feColorMatrix type="matrix" values="0 0 0 0 0 0 0 0 0 0 0 0 0 0 0 14 0 0 0 -9.10"/><feComposite in="SourceGraphic" operator="in"/></filter><filter id="f116" x="0" y="0" width="1" height="1" color-interpolation-filters="sRGB"><feTurbulence type="fractalNoise" baseFrequency="0.8" numOctaves="2" seed="122"/><feColorMatrix type="matrix" values="0 0 0 0 0 0 0 0 0 0 0 0 0 0 0 14 0 0 0 -7.15"/><feComposite in="SourceGraphic" operator="in"/></filter><filter id="f117" x="0" y="0" width="1" height="1" color-interpolation-filters="sRGB"><feTurbulence type="fractalNoise" baseFrequency="0.6" numOctaves="2" seed="123"/><feColorMatrix type="matrix" values="0 0 0 0 0 0 0 0 0 0 0 0 0 0 0 14 0 0 0 -9.62"/><feComposite in="SourceGraphic" operator="in"/></filter><filter id="f118" x="0" y="0" width="1" height="1" color-interpolation-filters="sRGB"><feTurbulence type="fractalNoise" baseFrequency="0.5" numOctaves="2" seed="124"/><feColorMatrix type="matrix" values="0 0 0 0 0 0 0 0 0 0 0 0 0 0 0 14 0 0 0 -6.51"/><feComposite in="SourceGraphic" operator="in"/></filter><filter id="f119" x="0" y="0" width="1" height="1" color-interpolation-filters="sRGB"><feTurbulence type="fractalNoise" baseFrequency="0.4" numOctaves="2" seed="125"/><feColorMatrix type="matrix" values="0 0 0 0 0 0 0 0 0 0 0 0 0 0 0 14 0 0 0 -5.43"/><feComposite in="SourceGraphic" operator="in"/></filter><filter id="f120" x="0" y="0" width="1" height="1" color-interpolation-filters="sRGB"><feTurbulence type="fractalNoise" baseFrequency="0.8" numOctaves="2" seed="126"/><feColorMatrix type="matrix" values="0 0 0 0 0 0 0 0 0 0 0 0 0 0 0 14 0 0 0 -8.92"/><feComposite in="SourceGraphic" operator="in"/></filter><filter id="f121" x="0" y="0" width="1" height="1" color-interpolation-filters="sRGB"><feTurbulence type="fractalNoise" baseFrequency="0.8" numOctaves="2" seed="127"/><feColorMatrix type="matrix" values="0 0 0 0 0 0 0 0 0 0 0 0 0 0 0 14 0 0 0 -7.40"/><feComposite in="SourceGraphic" operator="in"/></filter><filter id="f122" x="0" y="0" width="1" height="1" color-interpolation-filters="sRGB"><feTurbulence type="fractalNoise" baseFrequency="0.8" numOctaves="2" seed="128"/><feColorMatrix type="matrix" values="0 0 0 0 0 0 0 0 0 0 0 0 0 0 0 14 0 0 0 -7.15"/><feComposite in="SourceGraphic" operator="in"/></filter><filter id="f123" x="0" y="0" width="1" height="1" color-interpolation-filters="sRGB"><feTurbulence type="fractalNoise" baseFrequency="0.8" numOctaves="2" seed="129"/><feColorMatrix type="matrix" values="0 0 0 0 0 0 0 0 0 0 0 0 0 0 0 14 0 0 0 -7.65"/><feComposite in="SourceGraphic" operator="in"/></filter><filter id="f124" x="0" y="0" width="1" height="1" color-interpolation-filters="sRGB"><feTurbulence type="fractalNoise" baseFrequency="0.8" numOctaves="2" seed="130"/><feColorMatrix type="matrix" values="0 0 0 0 0 0 0 0 0 0 0 0 0 0 0 14 0 0 0 -6.92"/><feComposite in="SourceGraphic" operator="in"/></filter><filter id="f125" x="0" y="0" width="1" height="1" color-interpolation-filters="sRGB"><feTurbulence type="fractalNoise" baseFrequency="0.8" numOctaves="2" seed="131"/><feColorMatrix type="matrix" values="0 0 0 0 0 0 0 0 0 0 0 0 0 0 0 14 0 0 0 -9.45"/><feComposite in="SourceGraphic" operator="in"/></filter><filter id="f126" x="0" y="0" width="1" height="1" color-interpolation-filters="sRGB"><feTurbulence type="fractalNoise" baseFrequency="0.8" numOctaves="2" seed="132"/><feColorMatrix type="matrix" values="0 0 0 0 0 0 0 0 0 0 0 0 0 0 0 14 0 0 0 -7.40"/><feComposite in="SourceGraphic" operator="in"/></filter><filter id="f127" x="0" y="0" width="1" height="1" color-interpolation-filters="sRGB"><feTurbulence type="fractalNoise" baseFrequency="0.6" numOctaves="2" seed="133"/><feColorMatrix type="matrix" values="0 0 0 0 0 0 0 0 0 0 0 0 0 0 0 14 0 0 0 -9.45"/><feComposite in="SourceGraphic" operator="in"/></filter><filter id="f128" x="0" y="0" width="1" height="1" color-interpolation-filters="sRGB"><feTurbulence type="fractalNoise" baseFrequency="0.8" numOctaves="2" seed="134"/><feColorMatrix type="matrix" values="0 0 0 0 0 0 0 0 0 0 0 0 0 0 0 14 0 0 0 -7.65"/><feComposite in="SourceGraphic" operator="in"/></filter><filter id="f129" x="0" y="0" width="1" height="1" color-interpolation-filters="sRGB"><feTurbulence type="fractalNoise" baseFrequency="0.6" numOctaves="2" seed="135"/><feColorMatrix type="matrix" values="0 0 0 0 0 0 0 0 0 0 0 0 0 0 0 14 0 0 0 -9.45"/><feComposite in="SourceGraphic" operator="in"/></filter><filter id="f130" x="0" y="0" width="1" height="1" color-interpolation-filters="sRGB"><feTurbulence type="fractalNoise" baseFrequency="0.8" numOctaves="2" seed="136"/><feColorMatrix type="matrix" values="0 0 0 0 0 0 0 0 0 0 0 0 0 0 0 14 0 0 0 -8.12"/><feComposite in="SourceGraphic" operator="in"/></filter><filter id="f131" x="0" y="0" width="1" height="1" color-interpolation-filters="sRGB"><feTurbulence type="fractalNoise" baseFrequency="0.8" numOctaves="2" seed="137"/><feColorMatrix type="matrix" values="0 0 0 0 0 0 0 0 0 0 0 0 0 0 0 14 0 0 0 -9.62"/><feComposite in="SourceGraphic" operator="in"/></filter><filter id="f132" x="0" y="0" width="1" height="1" color-interpolation-filters="sRGB"><feTurbulence type="fractalNoise" baseFrequency="0.8" numOctaves="2" seed="138"/><feColorMatrix type="matrix" values="0 0 0 0 0 0 0 0 0 0 0 0 0 0 0 14 0 0 0 -9.80"/><feComposite in="SourceGraphic" operator="in"/></filter><filter id="f133" x="0" y="0" width="1" height="1" color-interpolation-filters="sRGB"><feTurbulence type="fractalNoise" baseFrequency="0.8" numOctaves="2" seed="139"/><feColorMatrix type="matrix" values="0 0 0 0 0 0 0 0 0 0 0 0 0 0 0 14 0 0 0 -9.80"/><feComposite in="SourceGraphic" operator="in"/></filter><filter id="f134" x="0" y="0" width="1" height="1" color-interpolation-filters="sRGB"><feTurbulence type="fractalNoise" baseFrequency="0.5" numOctaves="2" seed="140"/><feColorMatrix type="matrix" values="0 0 0 0 0 0 0 0 0 0 0 0 0 0 0 14 0 0 0 -8.12"/><feComposite in="SourceGraphic" operator="in"/></filter><filter id="f135" x="0" y="0" width="1" height="1" color-interpolation-filters="sRGB"><feTurbulence type="fractalNoise" baseFrequency="0.5" numOctaves="2" seed="141"/><feColorMatrix type="matrix" values="0 0 0 0 0 0 0 0 0 0 0 0 0 0 0 14 0 0 0 -9.21"/><feComposite in="SourceGraphic" operator="in"/></filter><filter id="f136" x="0" y="0" width="1" height="1" color-interpolation-filters="sRGB"><feTurbulence type="fractalNoise" baseFrequency="0.6" numOctaves="2" seed="142"/><feColorMatrix type="matrix" values="0 0 0 0 0 0 0 0 0 0 0 0 0 0 0 14 0 0 0 -8.68"/><feComposite in="SourceGraphic" operator="in"/></filter><filter id="f137" x="0" y="0" width="1" height="1" color-interpolation-filters="sRGB"><feTurbulence type="fractalNoise" baseFrequency="0.8" numOctaves="2" seed="143"/><feColorMatrix type="matrix" values="0 0 0 0 0 0 0 0 0 0 0 0 0 0 0 14 0 0 0 -9.78"/><feComposite in="SourceGraphic" operator="in"/></filter><filter id="f138" x="0" y="0" width="1" height="1" color-interpolation-filters="sRGB"><feTurbulence type="fractalNoise" baseFrequency="0.8" numOctaves="2" seed="144"/><feColorMatrix type="matrix" values="0 0 0 0 0 0 0 0 0 0 0 0 0 0 0 14 0 0 0 -9.80"/><feComposite in="SourceGraphic" operator="in"/></filter><clipPath id="fr3"><path d="M233.6 201.5L239.2 203.2L246.0 205.8L253.3 209.0L259.6 212.5L265.4 216.3L270.8 220.2L275.9 224.3L280.5 228.5L284.4 232.7L288.0 237.0L290.9 241.4L293.3 245.8L295.1 250.1L296.4 254.5L297.5 258.9L298.3 263.3L298.7 267.6L298.9 272.0L298.7 276.4L298.3 280.7L297.5 285.1L296.4 289.5L295.1 293.9L293.3 298.2L290.9 302.6L288.0 307.0L284.4 311.3L280.5 315.5L275.9 319.7L270.8 323.8L265.4 327.7L259.6 331.5L253.3 335.0L246.0 338.2L239.2 340.8L233.6 342.5L85.0 342.5L79.4 340.8L72.6 338.2L65.3 335.0L59.0 331.5L53.2 327.7L47.8 323.8L42.7 319.7L38.1 315.5L34.2 311.3L30.6 307.0L27.7 302.6L25.3 298.2L23.5 293.9L22.2 289.5L21.1 285.1L20.3 280.7L19.9 276.4L19.7 272.0L19.9 267.6L20.3 263.3L21.1 258.9L22.2 254.5L23.5 250.1L25.3 245.8L27.7 241.4L30.6 237.0L34.2 232.7L38.1 228.5L42.7 224.3L47.8 220.2L53.2 216.3L59.0 212.5L65.3 209.0L72.6 205.8L79.4 203.2L85.0 201.5Z"/></clipPath><clipPath id="ld3"><path d="M60.9 215.9L65.2 213.7L73.2 211.6L80.4 212.8L88.1 212.4L94.1 213.7L97.7 214.0L104.6 214.0L107.9 211.5L109.4 213.7L113.3 212.9L112.6 214.8L109.2 215.5L107.5 217.1L102.8 218.6L100.2 221.0L100.4 222.7L104.4 224.0L106.0 224.2L105.1 226.0L106.4 227.2L107.9 224.7L110.4 223.1L110.1 221.2L112.4 218.4L114.8 218.4L116.4 219.4L115.8 221.2L118.0 221.2L119.5 220.0L120.0 223.1L121.9 224.7L122.4 226.8L119.7 228.2L114.9 228.3L111.3 231.0L115.3 229.3L114.9 231.4L117.2 231.9L114.7 233.2L113.0 234.0L112.7 232.7L110.2 234.0L109.4 235.6L106.6 236.6L104.8 238.8L103.8 241.2L101.7 242.5L99.3 244.5L99.1 248.4L98.7 250.0L97.7 249.3L97.3 247.5L96.8 245.8L94.6 245.4L92.7 245.6L92.5 246.5L89.6 246.0L86.7 247.5L85.4 251.0L85.3 254.1L86.8 255.7L89.4 255.8L90.5 253.6L93.2 253.2L92.3 256.1L91.2 258.1L94.9 258.2L95.4 259.0L94.7 262.2L95.6 264.0L97.8 263.7L99.6 264.5L98.8 265.4L97.0 265.6L95.2 264.7L93.1 263.3L92.0 260.6L89.0 259.8L86.9 257.8L85.3 258.3L82.0 256.9L78.9 254.5L79.3 252.3L77.0 249.3L75.4 246.2L74.4 244.3L75.5 250.1L76.1 251.9L74.6 250.1L73.6 247.5L73.1 245.8L72.8 243.6L71.0 241.8L70.8 239.5L70.7 236.8L72.0 234.5L73.8 231.6L74.5 229.8L76.0 229.3L74.1 227.6L74.5 224.7L74.8 221.8L73.4 220.6L70.7 220.2L68.1 219.8L64.7 220.6L61.7 222.2L57.6 223.5L52.4 224.7L55.3 223.5L60.1 221.4L58.0 221.0L58.3 219.0L63.5 217.1L61.6 216.7ZM116.7 210.1L119.9 211.5L121.4 212.5L123.6 214.8L121.6 216.3L119.2 218.6L116.4 218.2L115.5 216.7L113.1 216.7L117.5 214.4L116.4 212.5L111.9 212.5L110.3 211.8L111.4 210.1ZM94.9 211.8L100.1 213.3L102.7 212.9L103.2 210.8L100.3 210.4L96.6 210.4ZM91.0 211.5L92.7 211.8L97.1 210.4L97.3 209.4L93.7 209.7ZM113.4 208.0L119.5 208.0L122.3 206.7L130.4 204.7L127.2 204.2L119.6 204.7L115.3 205.5L116.0 207.1ZM111.3 209.0L117.2 209.4L118.2 208.4L113.0 207.9ZM98.2 209.0L104.0 209.0L105.7 208.0L99.6 208.0ZM112.0 207.1L115.8 206.7L116.6 205.3L113.0 205.8ZM103.5 211.5L107.1 211.1L110.1 209.7L105.9 209.7ZM107.3 217.5L110.8 217.5L111.8 215.9L108.9 215.9ZM118.8 230.4L122.9 231.3L123.5 229.7L122.4 227.2L120.9 228.0ZM94.8 252.8L98.7 251.9L102.2 253.9L102.8 254.4L100.3 254.6L100.1 253.2L97.1 252.5ZM102.5 255.9L104.4 254.7L107.1 255.7L104.6 256.5ZM99.6 264.5L101.1 262.6L103.4 261.7L104.4 261.2L105.3 261.9L106.7 262.6L109.5 263.0L111.5 262.6L112.9 264.6L115.2 266.8L117.5 266.9L119.4 268.2L120.5 270.7L120.5 272.4L122.5 272.6L124.8 274.2L128.3 274.4L130.6 276.2L132.2 277.1L132.4 279.0L130.8 281.6L129.3 283.8L129.5 287.3L128.3 290.8L127.5 292.1L125.3 292.8L122.8 294.7L122.9 296.9L121.5 299.1L120.0 301.7L118.0 302.4L116.5 301.7L117.9 303.9L117.6 305.6L114.8 306.1L115.0 307.8L113.1 307.8L114.4 309.4L113.8 311.3L112.7 312.1L114.3 313.8L113.0 316.0L114.1 317.5L114.3 317.9L117.0 319.5L115.1 320.1L112.5 319.3L109.9 317.2L108.0 314.3L107.9 310.4L106.6 307.0L106.3 303.9L106.4 300.0L105.8 296.5L106.0 292.1L105.6 288.0L103.8 286.7L100.9 284.2L99.6 282.1L97.8 278.6L96.5 277.2L96.3 275.8L97.3 274.6L96.7 272.9L97.3 271.6L98.2 270.7L99.3 268.5L99.4 265.9ZM155.0 240.7L157.8 241.2L161.5 239.8L166.5 239.4L167.3 239.8L166.8 242.3L167.4 243.0L170.6 243.8L173.4 245.5L174.1 244.9L174.2 243.6L176.3 243.5L178.0 244.4L180.8 245.0L183.0 244.6L183.5 245.8L184.4 247.5L186.1 251.0L187.4 253.6L187.9 255.8L189.6 258.4L192.4 261.0L192.7 261.9L194.0 262.8L196.3 262.2L198.7 261.7L198.5 263.3L197.2 266.3L195.7 268.9L193.4 271.1L191.5 273.6L190.1 275.9L189.3 277.7L189.8 279.4L190.5 281.6L190.5 285.1L187.6 287.6L186.0 289.5L186.1 293.0L184.0 294.7L183.6 296.9L181.9 299.1L179.5 301.3L177.6 301.7L173.9 302.4L172.7 301.9L172.6 300.0L171.6 297.1L170.6 294.7L170.3 291.7L168.5 287.7L168.5 285.1L169.9 282.5L169.3 279.9L168.7 277.2L166.7 274.2L166.3 271.6L166.9 269.4L166.1 268.1L163.9 268.2L162.6 266.5L160.1 266.9L157.8 267.8L155.8 267.5L153.5 268.2L152.3 267.6L149.6 265.4L148.9 263.7L147.7 262.4L146.4 261.1L145.9 259.1L146.8 256.3L146.9 254.5L146.4 253.6L147.2 251.3L148.4 249.3L150.3 247.5L151.8 246.2L152.1 244.5L153.0 242.9L154.4 242.1ZM197.3 282.7L198.0 285.6L196.7 287.7L195.2 293.7L193.2 294.3L192.2 292.5L193.0 289.5L193.2 286.4L195.0 285.8L196.2 283.8ZM152.4 239.7L152.6 238.2L153.0 236.2L152.8 234.5L153.7 233.8L158.0 234.1L158.5 231.9L156.2 230.3L156.1 229.7L158.3 229.6L158.1 228.7L159.4 228.9L160.4 227.7L161.6 227.3L162.4 226.0L163.9 225.4L165.0 225.2L164.6 223.9L164.5 222.7L165.9 222.1L165.9 223.5L165.6 224.3L166.5 225.1L168.6 225.2L171.3 224.4L172.2 224.8L172.9 224.0L172.8 222.7L174.7 222.5L174.0 220.9L176.7 220.5L178.0 220.3L176.9 219.8L174.8 220.1L173.2 220.2L172.4 219.4L172.2 217.9L174.2 216.3L173.3 215.7L171.9 216.7L169.9 218.2L169.8 219.4L170.9 220.2L169.8 222.7L169.6 223.3L168.5 223.9L167.7 224.0L167.3 223.2L166.3 221.4L165.9 220.8L164.3 221.8L162.8 221.2L162.4 219.4L163.2 218.0L165.5 216.7L166.8 215.2L167.8 213.8L169.4 212.9L171.5 212.3L173.5 211.8L175.0 212.0L176.5 212.3L176.1 212.8L177.8 213.0L179.6 213.3L182.8 214.4L182.8 215.3L181.4 215.5L178.7 215.0L179.9 216.7L181.3 217.1L181.8 216.7L183.2 216.5L182.7 215.8L183.7 215.2L185.1 215.5L184.4 214.2L184.0 213.7L185.5 213.9L186.1 214.9L186.8 214.3L189.2 213.4L192.7 213.7L193.3 212.7L195.9 213.1L197.8 213.7L196.6 212.5L195.5 210.8L196.6 210.4L198.3 210.6L199.2 212.2L200.8 214.0L201.3 214.2L200.0 211.8L199.1 211.1L199.8 210.8L201.1 211.1L201.6 211.0L202.2 210.1L204.9 209.8L204.7 209.0L208.1 208.4L210.3 208.0L211.5 207.3L213.7 207.9L217.4 208.4L219.5 209.8L217.4 209.8L219.5 210.1L223.1 210.4L225.2 209.9L228.4 210.8L230.6 211.8L231.5 211.5L234.6 211.5L234.9 210.8L238.8 210.9L243.0 211.9L247.0 212.0L249.2 212.8L253.0 212.6L255.4 213.3L257.6 212.7L260.9 213.4L265.4 216.3L267.5 218.2L265.2 218.8L264.9 220.2L262.1 220.2L260.7 220.4L262.1 221.8L263.3 223.5L264.2 224.4L264.5 226.0L264.5 227.0L264.0 227.6L259.3 223.5L258.4 222.2L258.8 219.8L258.4 218.2L256.8 218.9L254.8 219.0L255.1 220.6L252.5 220.5L249.7 220.8L248.1 221.0L247.5 223.1L247.0 224.4L250.4 225.1L252.2 226.0L253.7 228.5L255.1 230.2L254.9 232.3L254.1 234.0L252.3 234.3L251.6 235.0L251.4 236.0L250.5 237.2L253.0 239.7L253.6 241.0L252.0 241.9L251.0 239.8L249.5 238.8L248.8 237.4L248.1 237.0L246.5 237.9L246.4 236.6L245.4 236.3L243.9 237.7L245.2 239.1L246.4 239.0L248.0 239.5L247.0 240.5L246.4 241.4L247.5 242.0L248.3 243.3L249.6 244.5L250.0 245.8L250.2 246.6L249.7 248.2L249.4 249.7L248.5 250.8L247.5 251.9L245.9 252.5L245.3 252.7L244.2 253.1L243.1 253.5L243.3 254.2L242.6 253.2L241.3 253.1L240.5 254.5L240.0 255.5L241.4 257.3L242.9 258.6L243.5 260.7L243.3 261.9L242.0 262.9L241.6 263.7L240.4 264.4L240.2 263.3L238.7 262.2L238.1 261.2L236.9 260.4L236.2 260.2L235.8 262.8L236.5 263.9L237.0 265.6L238.2 266.6L239.4 268.1L239.4 269.8L240.1 270.8L239.5 270.9L237.8 269.6L236.9 267.0L236.4 266.2L235.2 264.6L235.4 263.1L235.2 260.6L234.3 258.4L233.5 257.1L232.5 258.2L231.6 258.0L231.3 255.8L229.7 253.9L228.9 252.3L227.9 252.5L226.9 252.9L225.4 253.4L225.4 254.3L224.1 255.0L222.3 257.5L220.8 258.4L221.0 260.2L220.9 263.0L220.3 263.9L219.7 264.2L219.2 264.9L218.4 264.0L217.5 261.8L216.6 259.8L215.5 257.6L214.8 255.0L214.6 253.5L214.2 253.6L213.2 253.9L211.6 252.6L212.6 251.9L211.1 251.5L210.2 250.8L209.5 249.8L205.7 250.0L202.5 249.7L201.8 248.4L200.3 248.7L197.9 247.6L196.7 245.8L195.7 245.5L195.1 246.2L195.7 247.3L197.0 248.7L197.2 250.1L198.3 250.8L200.1 250.8L201.4 249.3L202.0 250.6L203.7 251.4L204.6 252.4L203.8 254.2L203.3 255.5L201.6 256.9L199.3 258.3L196.7 259.8L193.9 260.8L192.8 260.9L192.2 259.1L191.9 257.6L190.4 254.9L189.1 253.5L187.6 250.8L185.7 247.5L185.4 246.2L184.9 247.7L183.6 245.8L183.2 244.7L184.7 244.7L185.1 243.3L185.5 241.4L185.4 239.8L184.3 239.9L182.9 240.4L181.5 240.3L180.3 239.9L179.1 239.9L178.2 238.5L178.1 237.5L178.6 236.7L179.9 236.2L181.7 236.0L183.0 235.3L184.0 235.3L185.6 236.2L187.4 236.2L188.7 235.7L188.5 234.8L186.9 233.8L185.4 233.0L185.9 231.9L186.2 230.8L185.0 231.0L183.6 231.6L184.6 232.5L184.0 232.9L182.7 233.2L181.9 232.4L182.4 231.9L181.0 231.4L180.0 232.0L179.9 232.7L179.3 233.8L178.9 234.9L179.3 235.7L179.9 236.1L178.8 236.2L177.9 236.4L176.4 236.4L176.3 237.0L175.6 236.7L175.6 237.7L176.6 238.8L176.0 239.0L176.0 240.1L175.4 239.8L174.8 239.2L174.5 238.2L173.2 236.8L173.1 235.5L171.6 234.5L169.7 233.0L169.0 232.7L168.7 232.1L167.8 232.5L168.0 233.4L168.9 234.2L170.6 235.4L172.5 236.9L171.4 236.6L171.2 237.9L170.8 238.8L170.6 238.6L170.8 237.5L170.0 236.9L168.0 235.5L166.7 234.5L166.4 233.7L165.4 233.2L164.5 233.8L163.5 234.4L162.1 234.0L161.5 235.1L161.6 235.6L159.9 236.4L159.1 237.5L159.4 238.1L158.8 239.1L157.8 239.8L156.0 239.9L155.2 240.5L154.7 239.8L153.9 239.5L152.8 239.7ZM57.7 213.4L59.0 214.4L60.2 215.5L57.1 216.7L55.0 215.9L53.2 216.3ZM155.5 228.4L156.9 228.2L160.2 227.5L160.4 226.2L159.4 226.0L159.2 224.7L158.3 223.9L157.5 223.5L158.0 222.2L156.8 222.2L157.3 221.3L156.2 221.3L155.4 222.7L155.9 223.9L156.2 224.4L157.2 224.4L157.3 225.7L156.3 225.7L156.5 226.5L155.8 227.0L157.1 227.3ZM152.7 227.0L155.1 226.6L155.4 225.1L155.6 224.4L154.5 224.0L152.8 224.9L153.1 226.0ZM145.2 215.9L146.5 215.2L148.8 215.4L150.8 215.3L151.3 216.3L150.1 216.9L148.1 217.5L145.9 217.1L146.3 216.5ZM164.8 207.1L167.9 207.9L170.2 206.9L172.3 205.8L168.8 205.5L164.6 206.0ZM187.5 211.5L190.8 212.0L189.9 210.1L191.4 208.7L194.1 207.8L192.7 207.7L189.1 208.4L188.1 210.1ZM205.8 206.4L211.3 206.9L208.9 205.8L204.8 205.3ZM230.3 208.7L235.2 209.1L237.4 208.9L232.8 208.4ZM251.8 224.9L253.9 226.4L256.0 228.9L258.2 231.6L257.4 231.9L254.9 228.5L253.2 226.8ZM258.3 235.3L257.4 232.4L261.1 234.0L260.4 235.3ZM259.3 235.8L261.0 237.5L261.5 239.7L262.1 241.2L260.7 241.7L259.5 241.8L258.9 242.7L257.4 241.8L255.4 242.3L255.3 241.8L256.0 241.0L258.4 240.7L258.4 239.4L259.6 238.8L259.4 237.0ZM254.9 242.7L256.0 242.5L256.6 244.6L255.8 244.7L255.0 243.3ZM256.5 242.3L257.9 242.1L258.0 242.9L257.3 243.3ZM250.9 250.0L251.4 250.5L251.1 252.8L250.3 251.9L250.4 250.6ZM242.2 255.1L243.5 254.4L243.9 254.9L243.0 256.1ZM221.1 263.4L222.6 265.4L222.0 266.8L221.2 266.6L221.0 264.7ZM251.3 255.8L252.6 255.8L252.7 258.0L254.5 259.9L254.7 260.8L253.1 259.9L252.1 259.3L251.3 258.0ZM253.7 265.9L254.7 264.6L256.2 263.4L257.1 265.4L256.8 266.6L256.3 266.9L255.2 266.1ZM253.3 261.7L254.9 261.9L256.1 262.2L256.0 263.3L254.7 263.7L253.9 263.3ZM249.9 264.7L251.5 262.8L251.6 262.2L249.9 264.4ZM233.1 267.1L234.8 267.5L237.0 269.6L239.7 272.0L240.3 273.7L241.4 274.8L241.2 277.1L240.2 277.1L238.6 275.5L237.4 273.9L236.1 271.6L234.6 269.4ZM240.7 277.9L241.9 277.2L243.4 277.9L245.0 277.6L246.5 278.0L247.8 278.7L247.7 279.6L245.1 279.3L242.8 278.8L241.6 278.5ZM243.8 270.7L244.8 270.5L245.7 269.6L246.9 269.2L248.4 267.6L249.6 265.9L250.4 266.6L251.5 267.5L250.7 268.2L250.6 270.3L251.6 271.1L250.6 271.6L250.4 272.9L249.4 273.9L249.3 275.5L248.1 275.5L247.2 274.9L245.9 275.1L244.7 274.5L244.6 273.1L243.8 272.0ZM251.9 275.1L252.2 271.3L253.1 270.9L256.2 270.6L255.7 271.7L253.1 271.6L253.0 272.8L254.8 272.7L253.6 273.7L254.6 275.7L254.0 276.6L253.4 275.7L252.9 274.4L252.5 276.9L251.8 276.8ZM260.9 272.7L263.2 272.7L263.9 274.9L266.1 273.3L268.6 274.3L271.2 275.3L273.1 277.1L273.6 277.9L272.9 278.0L273.3 279.0L275.4 281.0L273.5 280.8L272.1 279.4L270.6 278.7L269.8 280.0L268.2 280.0L266.7 279.1L266.0 279.3L266.7 277.9L266.1 276.8L264.3 275.8L262.7 275.2L262.2 274.4L263.0 273.9L261.6 273.9ZM248.2 279.2L251.3 279.3L254.4 279.3L254.2 279.7L251.2 279.8L248.1 279.7ZM254.6 281.0L255.5 280.0L257.4 279.3L257.0 280.0L255.0 281.0ZM258.1 270.4L259.1 271.0L258.5 272.7ZM274.1 276.9L275.8 276.8L277.3 275.7L277.0 276.5L276.0 277.4L274.2 277.2ZM245.8 291.1L245.0 293.4L244.9 296.0L244.8 298.7L244.8 300.0L243.6 302.0L245.6 302.6L247.4 301.7L250.0 301.6L252.3 300.2L254.8 299.6L256.5 299.5L258.1 300.7L258.7 302.4L260.6 300.8L260.1 302.6L260.8 303.5L260.6 305.2L262.4 305.9L264.3 306.1L266.1 305.0L267.8 304.6L269.5 302.6L270.9 300.8L272.7 299.1L274.1 296.9L274.6 294.3L273.4 292.5L272.7 291.5L272.4 289.7L270.9 288.6L271.0 286.4L270.8 284.9L269.8 284.5L269.6 282.9L269.2 281.4L268.3 283.4L267.9 285.6L267.0 287.3L265.8 287.3L264.9 286.0L263.3 285.1L263.9 283.8L264.7 282.7L263.7 282.5L261.5 282.1L260.2 282.8L259.3 283.8L258.7 285.0L257.8 284.9L256.9 284.2L255.7 284.7L254.3 286.2L253.1 286.9L252.6 288.0L251.5 289.1L249.9 289.5L248.3 290.1L247.0 290.8ZM262.3 307.6L264.8 307.6L264.0 308.9L262.3 310.0L261.6 309.8ZM285.8 302.1L286.2 303.6L286.7 304.3L288.2 304.9L286.1 306.5L283.5 308.3L284.4 306.8L283.9 306.3L285.4 305.2L285.9 303.9ZM282.5 307.4L282.7 308.4L280.4 310.0L278.8 310.7L277.3 312.0L275.2 312.6L274.3 312.1L277.1 310.4L279.8 309.1ZM123.1 206.9L128.7 205.0L138.5 204.5L145.6 204.0L150.0 204.7L151.1 205.8L149.7 207.7L149.6 209.0L147.3 211.1L147.1 212.4L144.0 213.8L140.3 214.8L137.6 215.8L135.7 216.3L133.5 218.6L132.7 220.2L131.1 220.2L129.6 219.4L128.9 217.1L128.5 214.8L129.4 213.3L129.3 211.8L129.3 208.7L124.3 208.4Z"/></clipPath><filter id="f139" x="0" y="0" width="1" height="1" color-interpolation-filters="sRGB"><feTurbulence type="fractalNoise" baseFrequency="0.8" numOctaves="2" seed="146"/><feColorMatrix type="matrix" values="0 0 0 0 0 0 0 0 0 0 0 0 0 0 0 14 0 0 0 -7.98"/><feComposite in="SourceGraphic" operator="in"/></filter><filter id="f140" x="0" y="0" width="1" height="1" color-interpolation-filters="sRGB"><feTurbulence type="fractalNoise" baseFrequency="0.8" numOctaves="2" seed="147"/><feColorMatrix type="matrix" values="0 0 0 0 0 0 0 0 0 0 0 0 0 0 0 14 0 0 0 -6.84"/><feComposite in="SourceGraphic" operator="in"/></filter><filter id="f141" x="0" y="0" width="1" height="1" color-interpolation-filters="sRGB"><feTurbulence type="fractalNoise" baseFrequency="0.8" numOctaves="2" seed="148"/><feColorMatrix type="matrix" values="0 0 0 0 0 0 0 0 0 0 0 0 0 0 0 14 0 0 0 -7.98"/><feComposite in="SourceGraphic" operator="in"/></filter><filter id="f142" x="0" y="0" width="1" height="1" color-interpolation-filters="sRGB"><feTurbulence type="fractalNoise" baseFrequency="0.8" numOctaves="2" seed="149"/><feColorMatrix type="matrix" values="0 0 0 0 0 0 0 0 0 0 0 0 0 0 0 14 0 0 0 -9.62"/><feComposite in="SourceGraphic" operator="in"/></filter><filter id="f143" x="0" y="0" width="1" height="1" color-interpolation-filters="sRGB"><feTurbulence type="fractalNoise" baseFrequency="0.8" numOctaves="2" seed="150"/><feColorMatrix type="matrix" values="0 0 0 0 0 0 0 0 0 0 0 0 0 0 0 14 0 0 0 -8.33"/><feComposite in="SourceGraphic" operator="in"/></filter><filter id="f144" x="0" y="0" width="1" height="1" color-interpolation-filters="sRGB"><feTurbulence type="fractalNoise" baseFrequency="0.8" numOctaves="2" seed="151"/><feColorMatrix type="matrix" values="0 0 0 0 0 0 0 0 0 0 0 0 0 0 0 14 0 0 0 -9.62"/><feComposite in="SourceGraphic" operator="in"/></filter><filter id="f145" x="0" y="0" width="1" height="1" color-interpolation-filters="sRGB"><feTurbulence type="fractalNoise" baseFrequency="0.8" numOctaves="2" seed="152"/><feColorMatrix type="matrix" values="0 0 0 0 0 0 0 0 0 0 0 0 0 0 0 14 0 0 0 -9.80"/><feComposite in="SourceGraphic" operator="in"/></filter><filter id="f146" x="0" y="0" width="1" height="1" color-interpolation-filters="sRGB"><feTurbulence type="fractalNoise" baseFrequency="0.8" numOctaves="2" seed="153"/><feColorMatrix type="matrix" values="0 0 0 0 0 0 0 0 0 0 0 0 0 0 0 14 0 0 0 -9.10"/><feComposite in="SourceGraphic" operator="in"/></filter><filter id="f147" x="0" y="0" width="1" height="1" color-interpolation-filters="sRGB"><feTurbulence type="fractalNoise" baseFrequency="0.8" numOctaves="2" seed="154"/><feColorMatrix type="matrix" values="0 0 0 0 0 0 0 0 0 0 0 0 0 0 0 14 0 0 0 -6.51"/><feComposite in="SourceGraphic" operator="in"/></filter><filter id="f148" x="0" y="0" width="1" height="1" color-interpolation-filters="sRGB"><feTurbulence type="fractalNoise" baseFrequency="0.6" numOctaves="2" seed="155"/><feColorMatrix type="matrix" values="0 0 0 0 0 0 0 0 0 0 0 0 0 0 0 14 0 0 0 -9.28"/><feComposite in="SourceGraphic" operator="in"/></filter><filter id="f149" x="0" y="0" width="1" height="1" color-interpolation-filters="sRGB"><feTurbulence type="fractalNoise" baseFrequency="0.5" numOctaves="2" seed="156"/><feColorMatrix type="matrix" values="0 0 0 0 0 0 0 0 0 0 0 0 0 0 0 14 0 0 0 -9.80"/><feComposite in="SourceGraphic" operator="in"/></filter><filter id="f150" x="0" y="0" width="1" height="1" color-interpolation-filters="sRGB"><feTurbulence type="fractalNoise" baseFrequency="0.4" numOctaves="2" seed="157"/><feColorMatrix type="matrix" values="0 0 0 0 0 0 0 0 0 0 0 0 0 0 0 14 0 0 0 -9.80"/><feComposite in="SourceGraphic" operator="in"/></filter><filter id="f151" x="0" y="0" width="1" height="1" color-interpolation-filters="sRGB"><feTurbulence type="fractalNoise" baseFrequency="0.8" numOctaves="2" seed="158"/><feColorMatrix type="matrix" values="0 0 0 0 0 0 0 0 0 0 0 0 0 0 0 14 0 0 0 -8.92"/><feComposite in="SourceGraphic" operator="in"/></filter><filter id="f152" x="0" y="0" width="1" height="1" color-interpolation-filters="sRGB"><feTurbulence type="fractalNoise" baseFrequency="0.8" numOctaves="2" seed="159"/><feColorMatrix type="matrix" values="0 0 0 0 0 0 0 0 0 0 0 0 0 0 0 14 0 0 0 -7.40"/><feComposite in="SourceGraphic" operator="in"/></filter><filter id="f153" x="0" y="0" width="1" height="1" color-interpolation-filters="sRGB"><feTurbulence type="fractalNoise" baseFrequency="0.8" numOctaves="2" seed="160"/><feColorMatrix type="matrix" values="0 0 0 0 0 0 0 0 0 0 0 0 0 0 0 14 0 0 0 -7.15"/><feComposite in="SourceGraphic" operator="in"/></filter><filter id="f154" x="0" y="0" width="1" height="1" color-interpolation-filters="sRGB"><feTurbulence type="fractalNoise" baseFrequency="0.8" numOctaves="2" seed="161"/><feColorMatrix type="matrix" values="0 0 0 0 0 0 0 0 0 0 0 0 0 0 0 14 0 0 0 -7.65"/><feComposite in="SourceGraphic" operator="in"/></filter><filter id="f155" x="0" y="0" width="1" height="1" color-interpolation-filters="sRGB"><feTurbulence type="fractalNoise" baseFrequency="0.8" numOctaves="2" seed="162"/><feColorMatrix type="matrix" values="0 0 0 0 0 0 0 0 0 0 0 0 0 0 0 14 0 0 0 -6.92"/><feComposite in="SourceGraphic" operator="in"/></filter><filter id="f156" x="0" y="0" width="1" height="1" color-interpolation-filters="sRGB"><feTurbulence type="fractalNoise" baseFrequency="0.8" numOctaves="2" seed="163"/><feColorMatrix type="matrix" values="0 0 0 0 0 0 0 0 0 0 0 0 0 0 0 14 0 0 0 -9.45"/><feComposite in="SourceGraphic" operator="in"/></filter><filter id="f157" x="0" y="0" width="1" height="1" color-interpolation-filters="sRGB"><feTurbulence type="fractalNoise" baseFrequency="0.8" numOctaves="2" seed="164"/><feColorMatrix type="matrix" values="0 0 0 0 0 0 0 0 0 0 0 0 0 0 0 14 0 0 0 -7.40"/><feComposite in="SourceGraphic" operator="in"/></filter><filter id="f158" x="0" y="0" width="1" height="1" color-interpolation-filters="sRGB"><feTurbulence type="fractalNoise" baseFrequency="0.6" numOctaves="2" seed="165"/><feColorMatrix type="matrix" values="0 0 0 0 0 0 0 0 0 0 0 0 0 0 0 14 0 0 0 -9.28"/><feComposite in="SourceGraphic" operator="in"/></filter><filter id="f159" x="0" y="0" width="1" height="1" color-interpolation-filters="sRGB"><feTurbulence type="fractalNoise" baseFrequency="0.8" numOctaves="2" seed="166"/><feColorMatrix type="matrix" values="0 0 0 0 0 0 0 0 0 0 0 0 0 0 0 14 0 0 0 -7.65"/><feComposite in="SourceGraphic" operator="in"/></filter><filter id="f160" x="0" y="0" width="1" height="1" color-interpolation-filters="sRGB"><feTurbulence type="fractalNoise" baseFrequency="0.6" numOctaves="2" seed="167"/><feColorMatrix type="matrix" values="0 0 0 0 0 0 0 0 0 0 0 0 0 0 0 14 0 0 0 -9.28"/><feComposite in="SourceGraphic" operator="in"/></filter><filter id="f161" x="0" y="0" width="1" height="1" color-interpolation-filters="sRGB"><feTurbulence type="fractalNoise" baseFrequency="0.8" numOctaves="2" seed="168"/><feColorMatrix type="matrix" values="0 0 0 0 0 0 0 0 0 0 0 0 0 0 0 14 0 0 0 -8.12"/><feComposite in="SourceGraphic" operator="in"/></filter><filter id="f162" x="0" y="0" width="1" height="1" color-interpolation-filters="sRGB"><feTurbulence type="fractalNoise" baseFrequency="0.8" numOctaves="2" seed="169"/><feColorMatrix type="matrix" values="0 0 0 0 0 0 0 0 0 0 0 0 0 0 0 14 0 0 0 -9.62"/><feComposite in="SourceGraphic" operator="in"/></filter><filter id="f163" x="0" y="0" width="1" height="1" color-interpolation-filters="sRGB"><feTurbulence type="fractalNoise" baseFrequency="0.8" numOctaves="2" seed="170"/><feColorMatrix type="matrix" values="0 0 0 0 0 0 0 0 0 0 0 0 0 0 0 14 0 0 0 -9.80"/><feComposite in="SourceGraphic" operator="in"/></filter><filter id="f164" x="0" y="0" width="1" height="1" color-interpolation-filters="sRGB"><feTurbulence type="fractalNoise" baseFrequency="0.8" numOctaves="2" seed="171"/><feColorMatrix type="matrix" values="0 0 0 0 0 0 0 0 0 0 0 0 0 0 0 14 0 0 0 -9.80"/><feComposite in="SourceGraphic" operator="in"/></filter><clipPath id="fr4"><path d="M532.7 201.5L538.3 203.2L545.1 205.8L552.4 209.0L558.7 212.5L564.4 216.3L569.8 220.2L574.9 224.3L579.5 228.5L583.4 232.7L587.0 237.0L589.9 241.4L592.3 245.8L594.1 250.1L595.4 254.5L596.5 258.9L597.3 263.3L597.7 267.6L597.9 272.0L597.7 276.4L597.3 280.7L596.5 285.1L595.4 289.5L594.1 293.9L592.3 298.2L589.9 302.6L587.0 307.0L583.4 311.3L579.5 315.5L574.9 319.7L569.8 323.8L564.4 327.7L558.7 331.5L552.4 335.0L545.1 338.2L538.3 340.8L532.7 342.5L384.5 342.5L378.9 340.8L372.1 338.2L364.8 335.0L358.5 331.5L352.8 327.7L347.4 323.8L342.3 319.7L337.7 315.5L333.8 311.3L330.2 307.0L327.3 302.6L324.9 298.2L323.1 293.9L321.8 289.5L320.7 285.1L319.9 280.7L319.5 276.4L319.3 272.0L319.5 267.6L319.9 263.3L320.7 258.9L321.8 254.5L323.1 250.1L324.9 245.8L327.3 241.4L330.2 237.0L333.8 232.7L337.7 228.5L342.3 224.3L347.4 220.2L352.8 216.3L358.5 212.5L364.8 209.0L372.1 205.8L378.9 203.2L384.5 201.5Z"/></clipPath><clipPath id="ld4"><path d="M360.4 215.9L364.7 213.7L372.7 211.6L379.8 212.8L387.6 212.4L393.5 213.7L397.2 214.0L404.0 214.0L407.3 211.5L408.8 213.7L412.7 212.9L412.0 214.8L408.6 215.5L406.9 217.1L402.2 218.6L399.7 221.0L399.9 222.7L403.8 224.0L405.5 224.2L404.5 226.0L405.8 227.2L407.3 224.7L409.8 223.1L409.6 221.2L411.8 218.4L414.2 218.4L415.8 219.4L415.2 221.2L417.4 221.2L418.9 220.0L419.4 223.1L421.3 224.7L421.8 226.8L419.1 228.2L414.3 228.3L410.7 231.0L414.7 229.3L414.3 231.4L416.6 231.9L414.1 233.2L412.4 234.0L412.1 232.7L409.6 234.0L408.8 235.6L406.0 236.6L404.3 238.8L403.2 241.2L401.1 242.5L398.7 244.5L398.5 248.4L398.1 250.0L397.2 249.3L396.8 247.5L396.2 245.8L394.1 245.4L392.2 245.6L392.0 246.5L389.1 246.0L386.1 247.5L384.9 251.0L384.7 254.1L386.2 255.7L388.9 255.8L389.9 253.6L392.7 253.2L391.7 256.1L390.7 258.1L394.3 258.2L394.8 259.0L394.1 262.2L395.0 264.0L397.2 263.7L399.0 264.5L398.3 265.4L396.5 265.6L394.6 264.7L392.6 263.3L391.4 260.6L388.4 259.8L386.3 257.8L384.7 258.3L381.5 256.9L378.4 254.5L378.8 252.3L376.4 249.3L374.9 246.2L373.9 244.3L375.0 250.1L375.6 251.9L374.0 250.1L373.1 247.5L372.6 245.8L372.3 243.6L370.5 241.8L370.3 239.5L370.2 236.8L371.5 234.5L373.3 231.6L374.0 229.8L375.4 229.3L373.6 227.6L373.9 224.7L374.3 221.8L372.9 220.6L370.2 220.2L367.6 219.8L364.2 220.6L361.3 222.2L357.1 223.5L351.9 224.7L354.8 223.5L359.6 221.4L357.6 221.0L357.8 219.0L363.0 217.1L361.1 216.7ZM416.1 210.1L419.3 211.5L420.8 212.5L422.9 214.8L421.0 216.3L418.6 218.6L415.8 218.2L414.9 216.7L412.5 216.7L416.8 214.4L415.8 212.5L411.3 212.5L409.7 211.8L410.8 210.1ZM394.4 211.8L399.5 213.3L402.1 212.9L402.6 210.8L399.7 210.4L396.0 210.4ZM390.4 211.5L392.2 211.8L396.5 210.4L396.7 209.4L393.1 209.7ZM412.8 208.0L418.9 208.0L421.6 206.7L429.7 204.7L426.5 204.2L419.0 204.7L414.7 205.5L415.4 207.1ZM410.7 209.0L416.6 209.4L417.6 208.4L412.4 207.9ZM397.6 209.0L403.4 209.0L405.2 208.0L399.1 208.0ZM411.4 207.1L415.2 206.7L416.0 205.3L412.4 205.8ZM403.0 211.5L406.6 211.1L409.5 209.7L405.3 209.7ZM406.7 217.5L410.2 217.5L411.2 215.9L408.3 215.9ZM418.2 230.4L422.2 231.3L422.9 229.7L421.7 227.2L420.3 228.0ZM394.2 252.8L398.1 251.9L401.7 253.9L402.2 254.4L399.7 254.6L399.5 253.2L396.5 252.5ZM401.9 255.9L403.9 254.7L406.5 255.7L404.1 256.5ZM399.0 264.5L400.5 262.6L402.9 261.7L403.8 261.2L404.8 261.9L406.1 262.6L408.9 263.0L410.9 262.6L412.3 264.6L414.6 266.8L416.9 266.9L418.8 268.2L419.9 270.7L419.9 272.4L421.8 272.6L424.2 274.2L427.7 274.4L430.0 276.2L431.6 277.1L431.8 279.0L430.1 281.6L428.7 283.8L428.8 287.3L427.7 290.8L426.9 292.1L424.6 292.8L422.2 294.7L422.3 296.9L420.8 299.1L419.4 301.7L417.4 302.4L415.9 301.7L417.3 303.9L416.9 305.6L414.2 306.1L414.4 307.8L412.5 307.8L413.8 309.4L413.2 311.3L412.1 312.1L413.7 313.8L412.4 316.0L413.5 317.5L413.7 317.9L416.4 319.5L414.5 320.1L411.9 319.3L409.3 317.2L407.4 314.3L407.3 310.4L406.0 307.0L405.7 303.9L405.9 300.0L405.2 296.5L405.5 292.1L405.0 288.0L403.2 286.7L400.3 284.2L399.0 282.1L397.3 278.6L395.9 277.2L395.8 275.8L396.7 274.6L396.1 272.9L396.7 271.6L397.6 270.7L398.7 268.5L398.8 265.9ZM454.3 240.7L457.1 241.2L460.8 239.8L465.8 239.4L466.6 239.8L466.1 242.3L466.7 243.0L469.9 243.8L472.7 245.5L473.4 244.9L473.5 243.6L475.5 243.5L477.2 244.4L480.1 245.0L482.3 244.6L482.7 245.8L483.6 247.5L485.4 251.0L486.7 253.6L487.2 255.8L488.8 258.4L491.6 261.0L491.9 261.9L493.2 262.8L495.5 262.2L498.0 261.7L497.7 263.3L496.4 266.3L494.9 268.9L492.6 271.1L490.7 273.6L489.3 275.9L488.6 277.7L489.1 279.4L489.8 281.6L489.7 285.1L486.8 287.6L485.2 289.5L485.4 293.0L483.2 294.7L482.8 296.9L481.2 299.1L478.8 301.3L476.9 301.7L473.2 302.4L472.0 301.9L471.9 300.0L470.9 297.1L469.9 294.7L469.6 291.7L467.8 287.7L467.8 285.1L469.1 282.5L468.6 279.9L468.0 277.2L465.9 274.2L465.6 271.6L466.2 269.4L465.4 268.1L463.2 268.2L461.9 266.5L459.4 266.9L457.1 267.8L455.1 267.5L452.8 268.2L451.6 267.6L449.0 265.4L448.2 263.7L447.1 262.4L445.8 261.1L445.2 259.1L446.2 256.3L446.2 254.5L445.7 253.6L446.5 251.3L447.7 249.3L449.6 247.5L451.2 246.2L451.4 244.5L452.4 242.9L453.7 242.1ZM496.5 282.7L497.3 285.6L496.0 287.7L494.4 293.7L492.4 294.3L491.4 292.5L492.2 289.5L492.5 286.4L494.2 285.8L495.4 283.8ZM451.7 239.7L451.9 238.2L452.4 236.2L452.1 234.5L453.0 233.8L457.3 234.1L457.8 231.9L455.5 230.3L455.4 229.7L457.6 229.6L457.4 228.7L458.7 228.9L459.7 227.7L460.9 227.3L461.7 226.0L463.2 225.4L464.3 225.2L463.9 223.9L463.8 222.7L465.2 222.1L465.2 223.5L464.9 224.3L465.8 225.1L467.9 225.2L470.6 224.4L471.5 224.8L472.1 224.0L472.1 222.7L474.0 222.5L473.2 220.9L476.0 220.5L477.3 220.3L476.1 219.8L474.0 220.1L472.5 220.2L471.6 219.4L471.5 217.9L473.5 216.3L472.6 215.7L471.2 216.7L469.2 218.2L469.1 219.4L470.2 220.2L469.1 222.7L468.8 223.3L467.8 223.9L467.0 224.0L466.6 223.2L465.6 221.4L465.2 220.8L463.6 221.8L462.1 221.2L461.7 219.4L462.5 218.0L464.8 216.7L466.1 215.2L467.1 213.8L468.7 212.9L470.8 212.3L472.8 211.8L474.3 212.0L475.8 212.3L475.4 212.8L477.1 213.0L478.8 213.3L482.1 214.4L482.1 215.3L480.7 215.5L477.9 215.0L479.2 216.7L480.6 217.1L481.1 216.7L482.5 216.5L481.9 215.8L482.9 215.2L484.3 215.5L483.7 214.2L483.2 213.7L484.7 213.9L485.4 214.9L486.0 214.3L488.5 213.4L492.0 213.7L492.5 212.7L495.1 213.1L497.1 213.7L495.9 212.5L494.7 210.8L495.8 210.4L497.5 210.6L498.4 212.2L500.0 214.0L500.5 214.2L499.2 211.8L498.3 211.1L499.0 210.8L500.3 211.1L500.8 211.0L501.4 210.1L504.1 209.8L503.9 209.0L507.3 208.4L509.5 208.0L510.7 207.3L512.9 207.9L516.6 208.4L518.7 209.8L516.6 209.8L518.7 210.1L522.3 210.4L524.3 209.9L527.5 210.8L529.7 211.8L530.6 211.5L533.7 211.5L534.0 210.8L538.0 210.9L542.2 211.9L546.1 212.0L548.3 212.8L552.1 212.6L554.5 213.3L556.7 212.7L560.0 213.4L564.4 216.3L566.5 218.2L564.3 218.8L564.0 220.2L561.2 220.2L559.8 220.4L561.2 221.8L562.4 223.5L563.3 224.4L563.6 226.0L563.6 227.0L563.1 227.6L558.3 223.5L557.5 222.2L557.9 219.8L557.5 218.2L555.8 218.9L553.9 219.0L554.2 220.6L551.6 220.5L548.8 220.8L547.2 221.0L546.6 223.1L546.1 224.4L549.5 225.1L551.3 226.0L552.8 228.5L554.2 230.2L554.0 232.3L553.2 234.0L551.4 234.3L550.7 235.0L550.5 236.0L549.6 237.2L552.1 239.7L552.7 241.0L551.1 241.9L550.1 239.8L548.6 238.8L547.9 237.4L547.3 237.0L545.7 237.9L545.5 236.6L544.5 236.3L543.1 237.7L544.3 239.1L545.6 239.0L547.1 239.5L546.1 240.5L545.6 241.4L546.6 242.0L547.4 243.3L548.7 244.5L549.1 245.8L549.3 246.6L548.8 248.2L548.5 249.7L547.6 250.8L546.7 251.9L545.0 252.5L544.5 252.7L543.3 253.1L542.3 253.5L542.4 254.2L541.8 253.2L540.4 253.1L539.6 254.5L539.1 255.5L540.5 257.3L542.0 258.6L542.6 260.7L542.4 261.9L541.1 262.9L540.7 263.7L539.6 264.4L539.3 263.3L537.8 262.2L537.2 261.2L536.0 260.4L535.3 260.2L535.0 262.8L535.6 263.9L536.2 265.6L537.4 266.6L538.5 268.1L538.6 269.8L539.2 270.8L538.7 270.9L536.9 269.6L536.1 267.0L535.5 266.2L534.3 264.6L534.5 263.1L534.3 260.6L533.4 258.4L532.7 257.1L531.6 258.2L530.7 258.0L530.4 255.8L528.8 253.9L528.1 252.3L527.1 252.5L526.0 252.9L524.6 253.4L524.6 254.3L523.3 255.0L521.5 257.5L520.0 258.4L520.1 260.2L520.1 263.0L519.5 263.9L518.9 264.2L518.4 264.9L517.6 264.0L516.7 261.8L515.7 259.8L514.7 257.6L514.0 255.0L513.7 253.5L513.4 253.6L512.3 253.9L510.8 252.6L511.7 251.9L510.3 251.5L509.4 250.8L508.7 249.8L504.9 250.0L501.7 249.7L501.0 248.4L499.5 248.7L497.1 247.6L495.9 245.8L494.9 245.5L494.3 246.2L494.9 247.3L496.2 248.7L496.4 250.1L497.5 250.8L499.3 250.8L500.7 249.3L501.2 250.6L502.9 251.4L503.9 252.4L503.0 254.2L502.5 255.5L500.8 256.9L498.5 258.3L496.0 259.8L493.2 260.8L492.0 260.9L491.4 259.1L491.2 257.6L489.6 254.9L488.3 253.5L486.9 250.8L485.0 247.5L484.6 246.2L484.2 247.7L482.8 245.8L482.5 244.7L483.9 244.7L484.3 243.3L484.8 241.4L484.7 239.8L483.6 239.9L482.2 240.4L480.7 240.3L479.6 239.9L478.4 239.9L477.5 238.5L477.4 237.5L477.8 236.7L479.2 236.2L480.9 236.0L482.2 235.3L483.3 235.3L484.8 236.2L486.6 236.2L488.0 235.7L487.8 234.8L486.2 233.8L484.7 233.0L485.1 231.9L485.4 230.8L484.3 231.0L482.9 231.6L483.9 232.5L483.2 232.9L481.9 233.2L481.2 232.4L481.7 231.9L480.2 231.4L479.3 232.0L479.1 232.7L478.6 233.8L478.2 234.9L478.5 235.7L479.2 236.1L478.1 236.2L477.2 236.4L475.6 236.4L475.6 237.0L474.8 236.7L474.9 237.7L475.9 238.8L475.3 239.0L475.3 240.1L474.7 239.8L474.1 239.2L473.8 238.2L472.5 236.8L472.4 235.5L470.9 234.5L469.0 233.0L468.3 232.7L468.0 232.1L467.1 232.5L467.2 233.4L468.2 234.2L469.9 235.4L471.8 236.9L470.7 236.6L470.5 237.9L470.1 238.8L469.9 238.6L470.0 237.5L469.3 236.9L467.3 235.5L466.0 234.5L465.7 233.7L464.7 233.2L463.8 233.8L462.8 234.4L461.4 234.0L460.8 235.1L460.9 235.6L459.2 236.4L458.4 237.5L458.7 238.1L458.1 239.1L457.2 239.8L455.3 239.9L454.5 240.5L454.0 239.8L453.3 239.5L452.1 239.7ZM357.2 213.4L358.5 214.4L359.7 215.5L356.7 216.7L354.5 215.9L352.8 216.3ZM454.8 228.4L456.3 228.2L459.5 227.5L459.7 226.2L458.7 226.0L458.5 224.7L457.6 223.9L456.8 223.5L457.3 222.2L456.1 222.2L456.6 221.3L455.5 221.3L454.7 222.7L455.3 223.9L455.5 224.4L456.5 224.4L456.6 225.7L455.7 225.7L455.8 226.5L455.2 227.0L456.4 227.3ZM452.0 227.0L454.4 226.6L454.7 225.1L454.9 224.4L453.8 224.0L452.1 224.9L452.4 226.0ZM444.6 215.9L445.9 215.2L448.2 215.4L450.1 215.3L450.6 216.3L449.4 216.9L447.4 217.5L445.2 217.1L445.6 216.5ZM464.1 207.1L467.2 207.9L469.5 206.9L471.6 205.8L468.1 205.5L463.9 206.0ZM486.7 211.5L490.0 212.0L489.2 210.1L490.7 208.7L493.3 207.8L491.9 207.7L488.4 208.4L487.3 210.1ZM505.0 206.4L510.5 206.9L508.1 205.8L504.0 205.3ZM529.4 208.7L534.3 209.1L536.5 208.9L532.0 208.4ZM550.9 224.9L553.0 226.4L555.1 228.9L557.3 231.6L556.5 231.9L554.0 228.5L552.3 226.8ZM557.3 235.3L556.5 232.4L560.2 234.0L559.5 235.3ZM558.4 235.8L560.1 237.5L560.5 239.7L561.2 241.2L559.8 241.7L558.6 241.8L558.0 242.7L556.5 241.8L554.5 242.3L554.3 241.8L555.0 241.0L557.5 240.7L557.5 239.4L558.6 238.8L558.5 237.0ZM554.0 242.7L555.1 242.5L555.7 244.6L554.9 244.7L554.1 243.3ZM555.6 242.3L557.0 242.1L557.1 242.9L556.4 243.3ZM550.0 250.0L550.5 250.5L550.2 252.8L549.4 251.9L549.5 250.6ZM541.3 255.1L542.6 254.4L543.0 254.9L542.1 256.1ZM520.2 263.4L521.7 265.4L521.2 266.8L520.4 266.6L520.1 264.7ZM550.4 255.8L551.7 255.8L551.8 258.0L553.6 259.9L553.8 260.8L552.2 259.9L551.2 259.3L550.4 258.0ZM552.8 265.9L553.8 264.6L555.3 263.4L556.2 265.4L555.9 266.6L555.4 266.9L554.3 266.1ZM552.4 261.7L554.0 261.9L555.2 262.2L555.0 263.3L553.8 263.7L553.0 263.3ZM549.1 264.7L550.6 262.8L550.7 262.2L549.0 264.4ZM532.2 267.1L533.9 267.5L536.2 269.6L538.9 272.0L539.4 273.7L540.6 274.8L540.3 277.1L539.3 277.1L537.7 275.5L536.6 273.9L535.2 271.6L533.8 269.4ZM539.8 277.9L541.0 277.2L542.5 277.9L544.2 277.6L545.6 278.0L546.9 278.7L546.8 279.6L544.2 279.3L541.9 278.8L540.7 278.5ZM542.9 270.7L543.9 270.5L544.8 269.6L546.0 269.2L547.5 267.6L548.7 265.9L549.5 266.6L550.6 267.5L549.8 268.2L549.7 270.3L550.7 271.1L549.7 271.6L549.5 272.9L548.5 273.9L548.4 275.5L547.2 275.5L546.4 274.9L545.0 275.1L543.8 274.5L543.7 273.1L543.0 272.0ZM551.0 275.1L551.3 271.3L552.2 270.9L555.3 270.6L554.8 271.7L552.2 271.6L552.1 272.8L553.9 272.7L552.7 273.7L553.7 275.7L553.1 276.6L552.5 275.7L552.0 274.4L551.6 276.9L550.9 276.8ZM560.0 272.7L562.3 272.7L563.0 274.9L565.2 273.3L567.6 274.3L570.3 275.3L572.1 277.1L572.7 277.9L572.0 278.0L572.4 279.0L574.5 281.0L572.6 280.8L571.2 279.4L569.7 278.7L568.8 280.0L567.3 280.0L565.8 279.1L565.0 279.3L565.7 277.9L565.2 276.8L563.3 275.8L561.8 275.2L561.3 274.4L562.1 273.9L560.7 273.9ZM547.3 279.2L550.4 279.3L553.5 279.3L553.3 279.7L550.3 279.8L547.3 279.7ZM553.7 281.0L554.6 280.0L556.5 279.3L556.1 280.0L554.1 281.0ZM557.2 270.4L558.2 271.0L557.6 272.7ZM573.2 276.9L574.9 276.8L576.3 275.7L576.1 276.5L575.0 277.4L573.3 277.2ZM545.0 291.1L544.1 293.4L544.0 296.0L543.9 298.7L543.9 300.0L542.7 302.0L544.7 302.6L546.5 301.7L549.1 301.6L551.4 300.2L553.9 299.6L555.5 299.5L557.1 300.7L557.7 302.4L559.6 300.8L559.2 302.6L559.9 303.5L559.7 305.2L561.5 305.9L563.4 306.1L565.2 305.0L566.9 304.6L568.5 302.6L569.9 300.8L571.7 299.1L573.2 296.9L573.7 294.3L572.5 292.5L571.7 291.5L571.4 289.7L570.0 288.6L570.0 286.4L569.9 284.9L568.9 284.5L568.7 282.9L568.3 281.4L567.3 283.4L566.9 285.6L566.0 287.3L564.9 287.3L564.0 286.0L562.4 285.1L563.0 283.8L563.7 282.7L562.8 282.5L560.6 282.1L559.3 282.8L558.4 283.8L557.8 285.0L556.8 284.9L556.0 284.2L554.8 284.7L553.4 286.2L552.2 286.9L551.7 288.0L550.6 289.1L549.1 289.5L547.4 290.1L546.1 290.8ZM561.4 307.6L563.8 307.6L563.1 308.9L561.4 310.0L560.7 309.8ZM584.9 302.1L585.2 303.6L585.7 304.3L587.2 304.9L585.1 306.5L582.5 308.3L583.4 306.8L583.0 306.3L584.4 305.2L584.9 303.9ZM581.5 307.4L581.7 308.4L579.5 310.0L577.9 310.7L576.4 312.0L574.3 312.6L573.3 312.1L576.1 310.4L578.9 309.1ZM422.4 206.9L428.1 205.0L437.8 204.5L445.0 204.0L449.3 204.7L450.4 205.8L449.0 207.7L449.0 209.0L446.7 211.1L446.4 212.4L443.3 213.8L439.6 214.8L437.0 215.8L435.1 216.3L432.8 218.6L432.0 220.2L430.5 220.2L428.9 219.4L428.3 217.1L427.8 214.8L428.8 213.3L428.7 211.8L428.6 208.7L423.7 208.4Z"/></clipPath><filter id="f165" x="0" y="0" width="1" height="1" color-interpolation-filters="sRGB"><feTurbulence type="fractalNoise" baseFrequency="0.6" numOctaves="2" seed="173"/><feColorMatrix type="matrix" values="0 0 0 0 0 0 0 0 0 0 0 0 0 0 0 14 0 0 0 -8.40"/><feComposite in="SourceGraphic" operator="in"/></filter><filter id="f166" x="0" y="0" width="1" height="1" color-interpolation-filters="sRGB"><feTurbulence type="fractalNoise" baseFrequency="0.5" numOctaves="2" seed="174"/><feColorMatrix type="matrix" values="0 0 0 0 0 0 0 0 0 0 0 0 0 0 0 14 0 0 0 -8.58"/><feComposite in="SourceGraphic" operator="in"/></filter><filter id="f167" x="0" y="0" width="1" height="1" color-interpolation-filters="sRGB"><feTurbulence type="fractalNoise" baseFrequency="0.9" numOctaves="2" seed="175"/><feColorMatrix type="matrix" values="0 0 0 0 0 0 0 0 0 0 0 0 0 0 0 14 0 0 0 -9.62"/><feComposite in="SourceGraphic" operator="in"/></filter><filter id="f168" x="0" y="0" width="1" height="1" color-interpolation-filters="sRGB"><feTurbulence type="fractalNoise" baseFrequency="0.9" numOctaves="2" seed="176"/><feColorMatrix type="matrix" values="0 0 0 0 0 0 0 0 0 0 0 0 0 0 0 14 0 0 0 -9.80"/><feComposite in="SourceGraphic" operator="in"/></filter><filter id="f169" x="0" y="0" width="1" height="1" color-interpolation-filters="sRGB"><feTurbulence type="fractalNoise" baseFrequency="0.9" numOctaves="2" seed="177"/><feColorMatrix type="matrix" values="0 0 0 0 0 0 0 0 0 0 0 0 0 0 0 14 0 0 0 -7.98"/><feComposite in="SourceGraphic" operator="in"/></filter><filter id="f170" x="0" y="0" width="1" height="1" color-interpolation-filters="sRGB"><feTurbulence type="fractalNoise" baseFrequency="0.9" numOctaves="2" seed="178"/><feColorMatrix type="matrix" values="0 0 0 0 0 0 0 0 0 0 0 0 0 0 0 14 0 0 0 -8.92"/><feComposite in="SourceGraphic" operator="in"/></filter><filter id="f171" x="0" y="0" width="1" height="1" color-interpolation-filters="sRGB"><feTurbulence type="fractalNoise" baseFrequency="0.9" numOctaves="2" seed="179"/><feColorMatrix type="matrix" values="0 0 0 0 0 0 0 0 0 0 0 0 0 0 0 14 0 0 0 -6.51"/><feComposite in="SourceGraphic" operator="in"/></filter><filter id="f172" x="0" y="0" width="1" height="1" color-interpolation-filters="sRGB"><feTurbulence type="fractalNoise" baseFrequency="0.7" numOctaves="2" seed="180"/><feColorMatrix type="matrix" values="0 0 0 0 0 0 0 0 0 0 0 0 0 0 0 14 0 0 0 -7.10"/><feComposite in="SourceGraphic" operator="in"/></filter><filter id="f173" x="0" y="0" width="1" height="1" color-interpolation-filters="sRGB"><feTurbulence type="fractalNoise" baseFrequency="0.7" numOctaves="2" seed="181"/><feColorMatrix type="matrix" values="0 0 0 0 0 0 0 0 0 0 0 0 0 0 0 14 0 0 0 -7.84"/><feComposite in="SourceGraphic" operator="in"/></filter><filter id="f174" x="0" y="0" width="1" height="1" color-interpolation-filters="sRGB"><feTurbulence type="fractalNoise" baseFrequency="0.3" numOctaves="2" seed="182"/><feColorMatrix type="matrix" values="0 0 0 0 0 0 0 0 0 0 0 0 0 0 0 14 0 0 0 -7.84"/><feComposite in="SourceGraphic" operator="in"/></filter><filter id="f175" x="0" y="0" width="1" height="1" color-interpolation-filters="sRGB"><feTurbulence type="fractalNoise" baseFrequency="0.6" numOctaves="2" seed="183"/><feColorMatrix type="matrix" values="0 0 0 0 0 0 0 0 0 0 0 0 0 0 0 14 0 0 0 -6.71"/><feComposite in="SourceGraphic" operator="in"/></filter><filter id="f176" x="0" y="0" width="1" height="1" color-interpolation-filters="sRGB"><feTurbulence type="fractalNoise" baseFrequency="0.6" numOctaves="2" seed="184"/><feColorMatrix type="matrix" values="0 0 0 0 0 0 0 0 0 0 0 0 0 0 0 14 0 0 0 -7.65"/><feComposite in="SourceGraphic" operator="in"/></filter><filter id="f177" x="0" y="0" width="1" height="1" color-interpolation-filters="sRGB"><feTurbulence type="fractalNoise" baseFrequency="0.6" numOctaves="2" seed="185"/><feColorMatrix type="matrix" values="0 0 0 0 0 0 0 0 0 0 0 0 0 0 0 14 0 0 0 -7.40"/><feComposite in="SourceGraphic" operator="in"/></filter><filter id="f178" x="0" y="0" width="1" height="1" color-interpolation-filters="sRGB"><feTurbulence type="fractalNoise" baseFrequency="0.9" numOctaves="2" seed="186"/><feColorMatrix type="matrix" values="0 0 0 0 0 0 0 0 0 0 0 0 0 0 0 14 0 0 0 -8.58"/><feComposite in="SourceGraphic" operator="in"/></filter><filter id="f179" x="0" y="0" width="1" height="1" color-interpolation-filters="sRGB"><feTurbulence type="fractalNoise" baseFrequency="0.35" numOctaves="2" seed="187"/><feColorMatrix type="matrix" values="0 0 0 0 0 0 0 0 0 0 0 0 0 0 0 14 0 0 0 -6.51"/><feComposite in="SourceGraphic" operator="in"/></filter><filter id="f180" x="0" y="0" width="1" height="1" color-interpolation-filters="sRGB"><feTurbulence type="fractalNoise" baseFrequency="0.3" numOctaves="2" seed="188"/><feColorMatrix type="matrix" values="0 0 0 0 0 0 0 0 0 0 0 0 0 0 0 14 0 0 0 -7.40"/><feComposite in="SourceGraphic" operator="in"/></filter><filter id="f181" x="0" y="0" width="1" height="1" color-interpolation-filters="sRGB"><feTurbulence type="fractalNoise" baseFrequency="0.9" numOctaves="2" seed="189"/><feColorMatrix type="matrix" values="0 0 0 0 0 0 0 0 0 0 0 0 0 0 0 14 0 0 0 -8.33"/><feComposite in="SourceGraphic" operator="in"/></filter><filter id="f182" x="0" y="0" width="1" height="1" color-interpolation-filters="sRGB"><feTurbulence type="fractalNoise" baseFrequency="0.4" numOctaves="2" seed="190"/><feColorMatrix type="matrix" values="0 0 0 0 0 0 0 0 0 0 0 0 0 0 0 14 0 0 0 -5.22"/><feComposite in="SourceGraphic" operator="in"/></filter><filter id="f183" x="0" y="0" width="1" height="1" color-interpolation-filters="sRGB"><feTurbulence type="fractalNoise" baseFrequency="0.9" numOctaves="2" seed="191"/><feColorMatrix type="matrix" values="0 0 0 0 0 0 0 0 0 0 0 0 0 0 0 14 0 0 0 -8.75"/><feComposite in="SourceGraphic" operator="in"/></filter><clipPath id="fr5"><path d="M233.9 370.8L239.5 372.5L246.4 375.1L253.6 378.4L260.0 382.0L265.8 385.8L271.2 389.8L276.4 393.9L281.0 398.2L284.9 402.5L288.5 406.9L291.5 411.3L293.9 415.8L295.7 420.2L297.0 424.6L298.1 429.1L298.9 433.5L299.3 438.0L299.5 442.4L299.3 446.8L298.9 451.3L298.1 455.7L297.0 460.2L295.7 464.6L293.9 469.0L291.5 473.5L288.5 477.9L284.9 482.3L281.0 486.6L276.4 490.9L271.2 495.0L265.8 499.0L260.0 502.8L253.6 506.4L246.4 509.7L239.5 512.3L233.9 514.0L84.5 514.0L78.9 512.3L72.0 509.7L64.8 506.4L58.4 502.8L52.6 499.0L47.2 495.0L42.0 490.9L37.4 486.6L33.5 482.3L29.9 477.9L26.9 473.5L24.5 469.0L22.7 464.6L21.4 460.2L20.3 455.7L19.5 451.3L19.1 446.8L18.9 442.4L19.1 438.0L19.5 433.5L20.3 429.1L21.4 424.6L22.7 420.2L24.5 415.8L26.9 411.3L29.9 406.9L33.5 402.5L37.4 398.2L42.0 393.9L47.2 389.8L52.6 385.8L58.4 382.0L64.8 378.4L72.0 375.1L78.9 372.5L84.5 370.8Z"/></clipPath><clipPath id="ld5"><path d="M89.8 394.4L95.0 398.0L101.0 402.4L104.7 407.4L114.7 412.3L122.2 418.6L134.6 421.0L149.6 421.5L158.0 421.0L165.0 418.6L177.4 413.6L182.4 409.9L194.9 407.4L203.6 404.9L208.6 402.4L203.6 399.9L194.9 398.6L198.6 394.9L207.3 392.4L209.0 387.0L211.0 382.4L217.3 380.0L223.0 379.5L229.7 381.2L234.7 387.4L239.7 393.7L249.7 396.1L258.0 396.0L264.6 398.6L259.6 406.1L254.7 409.9L252.9 412.7L251.4 416.6L247.1 419.5L243.2 421.9L237.4 422.8L233.6 424.3L229.7 426.7L227.8 427.7L225.9 428.1L220.1 430.6L214.3 433.0L215.7 430.6L219.1 427.2L217.7 424.8L214.3 425.7L208.5 427.7L204.6 428.6L202.2 430.6L202.2 435.9L204.6 437.3L207.5 437.8L214.3 437.6L219.6 438.8L217.2 440.2L211.4 442.6L207.5 445.5L209.5 450.3L214.3 457.1L217.2 462.9L216.9 465.7L215.5 469.9L212.6 474.9L209.1 479.9L204.8 484.1L199.1 488.4L193.4 491.9L187.8 494.4L182.1 496.2L177.1 498.0L175.7 501.2L173.6 500.5L172.2 498.0L167.9 497.2L164.3 497.6L161.5 496.2L158.0 492.7L150.9 491.9L145.2 493.4L143.0 497.2L139.5 496.2L135.2 493.4L131.0 489.8L128.1 486.3L129.6 482.7L131.0 477.0L129.6 472.1L123.9 473.5L119.6 472.8L113.9 475.6L108.3 474.2L101.2 472.1L96.2 473.5L84.1 470.6L78.5 466.4L70.0 465.0L64.8 463.4L58.6 456.0L59.9 448.5L52.4 439.8L46.1 437.3L41.9 430.3L49.0 427.0L56.1 424.8L64.8 418.6L66.1 411.1L73.6 408.6L74.8 402.4L83.5 399.9Z"/><ellipse cx="214" cy="488.4" rx="2.6" ry="5.6" transform="rotate(12 214 488.4)"/><ellipse cx="172.9" cy="505.2" rx="3.6" ry="3.3"/></clipPath><filter id="f184" x="0" y="0" width="1" height="1" color-interpolation-filters="sRGB"><feTurbulence type="fractalNoise" baseFrequency="0.6" numOctaves="2" seed="192"/><feColorMatrix type="matrix" values="0 0 0 0 0 0 0 0 0 0 0 0 0 0 0 14 0 0 0 -8.33"/><feComposite in="SourceGraphic" operator="in"/></filter><filter id="f185" x="0" y="0" width="1" height="1" color-interpolation-filters="sRGB"><feTurbulence type="fractalNoise" baseFrequency="0.6" numOctaves="2" seed="193"/><feColorMatrix type="matrix" values="0 0 0 0 0 0 0 0 0 0 0 0 0 0 0 14 0 0 0 -9.10"/><feComposite in="SourceGraphic" operator="in"/></filter><filter id="f186" x="0" y="0" width="1" height="1" color-interpolation-filters="sRGB"><feTurbulence type="fractalNoise" baseFrequency="0.9" numOctaves="2" seed="194"/><feColorMatrix type="matrix" values="0 0 0 0 0 0 0 0 0 0 0 0 0 0 0 14 0 0 0 -9.45"/><feComposite in="SourceGraphic" operator="in"/></filter><filter id="f187" x="0" y="0" width="1" height="1" color-interpolation-filters="sRGB"><feTurbulence type="fractalNoise" baseFrequency="0.9" numOctaves="2" seed="195"/><feColorMatrix type="matrix" values="0 0 0 0 0 0 0 0 0 0 0 0 0 0 0 14 0 0 0 -9.80"/><feComposite in="SourceGraphic" operator="in"/></filter><filter id="f188" x="0" y="0" width="1" height="1" color-interpolation-filters="sRGB"><feTurbulence type="fractalNoise" baseFrequency="0.9" numOctaves="2" seed="196"/><feColorMatrix type="matrix" values="0 0 0 0 0 0 0 0 0 0 0 0 0 0 0 14 0 0 0 -8.33"/><feComposite in="SourceGraphic" operator="in"/></filter><filter id="f189" x="0" y="0" width="1" height="1" color-interpolation-filters="sRGB"><feTurbulence type="fractalNoise" baseFrequency="0.9" numOctaves="2" seed="197"/><feColorMatrix type="matrix" values="0 0 0 0 0 0 0 0 0 0 0 0 0 0 0 14 0 0 0 -8.92"/><feComposite in="SourceGraphic" operator="in"/></filter><filter id="f190" x="0" y="0" width="1" height="1" color-interpolation-filters="sRGB"><feTurbulence type="fractalNoise" baseFrequency="0.8" numOctaves="2" seed="198"/><feColorMatrix type="matrix" values="0 0 0 0 0 0 0 0 0 0 0 0 0 0 0 14 0 0 0 -6.51"/><feComposite in="SourceGraphic" operator="in"/></filter><filter id="f191" x="0" y="0" width="1" height="1" color-interpolation-filters="sRGB"><feTurbulence type="fractalNoise" baseFrequency="0.8" numOctaves="2" seed="199"/><feColorMatrix type="matrix" values="0 0 0 0 0 0 0 0 0 0 0 0 0 0 0 14 0 0 0 -8.12"/><feComposite in="SourceGraphic" operator="in"/></filter><filter id="f192" x="0" y="0" width="1" height="1" color-interpolation-filters="sRGB"><feTurbulence type="fractalNoise" baseFrequency="0.9" numOctaves="2" seed="200"/><feColorMatrix type="matrix" values="0 0 0 0 0 0 0 0 0 0 0 0 0 0 0 14 0 0 0 -8.40"/><feComposite in="SourceGraphic" operator="in"/></filter><filter id="f193" x="0" y="0" width="1" height="1" color-interpolation-filters="sRGB"><feTurbulence type="fractalNoise" baseFrequency="0.9" numOctaves="2" seed="201"/><feColorMatrix type="matrix" values="0 0 0 0 0 0 0 0 0 0 0 0 0 0 0 14 0 0 0 -9.01"/><feComposite in="SourceGraphic" operator="in"/></filter><filter id="f194" x="0" y="0" width="1" height="1" color-interpolation-filters="sRGB"><feTurbulence type="fractalNoise" baseFrequency="0.3" numOctaves="2" seed="202"/><feColorMatrix type="matrix" values="0 0 0 0 0 0 0 0 0 0 0 0 0 0 0 14 0 0 0 -7.98"/><feComposite in="SourceGraphic" operator="in"/></filter><filter id="f195" x="0" y="0" width="1" height="1" color-interpolation-filters="sRGB"><feTurbulence type="fractalNoise" baseFrequency="0.6" numOctaves="2" seed="203"/><feColorMatrix type="matrix" values="0 0 0 0 0 0 0 0 0 0 0 0 0 0 0 14 0 0 0 -7.15"/><feComposite in="SourceGraphic" operator="in"/></filter><filter id="f196" x="0" y="0" width="1" height="1" color-interpolation-filters="sRGB"><feTurbulence type="fractalNoise" baseFrequency="0.6" numOctaves="2" seed="204"/><feColorMatrix type="matrix" values="0 0 0 0 0 0 0 0 0 0 0 0 0 0 0 14 0 0 0 -7.98"/><feComposite in="SourceGraphic" operator="in"/></filter><filter id="f197" x="0" y="0" width="1" height="1" color-interpolation-filters="sRGB"><feTurbulence type="fractalNoise" baseFrequency="0.35" numOctaves="2" seed="205"/><feColorMatrix type="matrix" values="0 0 0 0 0 0 0 0 0 0 0 0 0 0 0 14 0 0 0 -6.51"/><feComposite in="SourceGraphic" operator="in"/></filter><filter id="f198" x="0" y="0" width="1" height="1" color-interpolation-filters="sRGB"><feTurbulence type="fractalNoise" baseFrequency="0.3" numOctaves="2" seed="206"/><feColorMatrix type="matrix" values="0 0 0 0 0 0 0 0 0 0 0 0 0 0 0 14 0 0 0 -8.33"/><feComposite in="SourceGraphic" operator="in"/></filter><filter id="f199" x="0" y="0" width="1" height="1" color-interpolation-filters="sRGB"><feTurbulence type="fractalNoise" baseFrequency="0.4" numOctaves="2" seed="207"/><feColorMatrix type="matrix" values="0 0 0 0 0 0 0 0 0 0 0 0 0 0 0 14 0 0 0 -5.43"/><feComposite in="SourceGraphic" operator="in"/></filter><filter id="f200" x="0" y="0" width="1" height="1" color-interpolation-filters="sRGB"><feTurbulence type="fractalNoise" baseFrequency="0.9" numOctaves="2" seed="208"/><feColorMatrix type="matrix" values="0 0 0 0 0 0 0 0 0 0 0 0 0 0 0 14 0 0 0 -9.10"/><feComposite in="SourceGraphic" operator="in"/></filter><clipPath id="fr6"><path d="M534.9 370.8L540.5 372.5L547.4 375.1L554.6 378.4L561.0 382.0L566.8 385.8L572.2 389.8L577.4 393.9L582.0 398.2L585.9 402.5L589.5 406.9L592.5 411.3L594.9 415.8L596.7 420.2L598.0 424.6L599.1 429.1L599.9 433.5L600.3 438.0L600.5 442.4L600.3 446.8L599.9 451.3L599.1 455.7L598.0 460.2L596.7 464.6L594.9 469.0L592.5 473.5L589.5 477.9L585.9 482.3L582.0 486.6L577.4 490.9L572.2 495.0L566.8 499.0L561.0 502.8L554.6 506.4L547.4 509.7L540.5 512.3L534.9 514.0L385.5 514.0L379.9 512.3L373.0 509.7L365.8 506.4L359.4 502.8L353.6 499.0L348.2 495.0L343.0 490.9L338.4 486.6L334.5 482.3L330.9 477.9L327.9 473.5L325.5 469.0L323.7 464.6L322.4 460.2L321.3 455.7L320.5 451.3L320.1 446.8L319.9 442.4L320.1 438.0L320.5 433.5L321.3 429.1L322.4 424.6L323.7 420.2L325.5 415.8L327.9 411.3L330.9 406.9L334.5 402.5L338.4 398.2L343.0 393.9L348.2 389.8L353.6 385.8L359.4 382.0L365.8 378.4L373.0 375.1L379.9 372.5L385.5 370.8Z"/></clipPath><clipPath id="ld6"><path d="M390.4 394.4L395.6 398.0L401.6 402.4L405.3 407.4L415.3 412.3L422.8 418.6L435.2 421.0L450.2 421.5L458.6 421.0L465.6 418.6L478.0 413.6L483.0 409.9L495.5 407.4L504.2 404.9L509.2 402.4L504.2 399.9L495.5 398.6L499.2 394.9L507.9 392.4L509.6 387.0L511.6 382.4L517.9 380.0L523.6 379.5L530.3 381.2L535.3 387.4L540.3 393.7L550.3 396.1L558.6 396.0L565.2 398.6L560.2 406.1L555.3 409.9L553.5 412.7L552.0 416.6L547.7 419.5L543.8 421.9L538.0 422.8L534.2 424.3L530.3 426.7L528.4 427.7L526.5 428.1L520.7 430.6L514.9 433.0L516.3 430.6L519.7 427.2L518.3 424.8L514.9 425.7L509.1 427.7L505.2 428.6L502.8 430.6L502.8 435.9L505.2 437.3L508.1 437.8L514.9 437.6L520.2 438.8L517.8 440.2L512.0 442.6L508.1 445.5L510.1 450.3L514.9 457.1L517.8 462.9L517.5 465.7L516.1 469.9L513.2 474.9L509.7 479.9L505.4 484.1L499.7 488.4L494.0 491.9L488.4 494.4L482.7 496.2L477.7 498.0L476.3 501.2L474.2 500.5L472.8 498.0L468.5 497.2L464.9 497.6L462.1 496.2L458.6 492.7L451.5 491.9L445.8 493.4L443.6 497.2L440.1 496.2L435.8 493.4L431.6 489.8L428.7 486.3L430.2 482.7L431.6 477.0L430.2 472.1L424.5 473.5L420.2 472.8L414.5 475.6L408.9 474.2L401.8 472.1L396.8 473.5L384.7 470.6L379.1 466.4L370.6 465.0L365.4 463.4L359.2 456.0L360.5 448.5L353.0 439.8L346.7 437.3L342.5 430.3L349.6 427.0L356.7 424.8L365.4 418.6L366.7 411.1L374.2 408.6L375.4 402.4L384.1 399.9Z"/><ellipse cx="514.6" cy="488.4" rx="2.6" ry="5.6" transform="rotate(12 514.6 488.4)"/><ellipse cx="473.5" cy="505.2" rx="3.6" ry="3.3"/></clipPath><pattern id="dots" width="10.1" height="10.2" patternUnits="userSpaceOnUse" patternTransform="translate(753.7 39.8)"><rect x="-0.7" y="-0.7" width="1.4" height="1.4" fill="#2b2b2b"/><rect x="9.4" y="-0.7" width="1.4" height="1.4" fill="#2b2b2b"/><rect x="-0.7" y="9.5" width="1.4" height="1.4" fill="#2b2b2b"/><rect x="9.4" y="9.5" width="1.4" height="1.4" fill="#2b2b2b"/><rect x="4.35" y="4.4" width="1.4" height="1.4" fill="#2b2b2b"/></pattern><radialGradient id="pg1" gradientUnits="userSpaceOnUse" cx="780.2" cy="96.8" r="78.2"><stop offset="0" stop-color="#fff" stop-opacity="0"/><stop offset="0.45" stop-color="#fff" stop-opacity="0.1"/><stop offset="0.75" stop-color="#fff" stop-opacity="0.65"/><stop offset="1" stop-color="#fff" stop-opacity="0.96"/></radialGradient><radialGradient id="pg2" gradientUnits="userSpaceOnUse" cx="1100.5" cy="96.8" r="78.0"><stop offset="0" stop-color="#fff" stop-opacity="0"/><stop offset="0.45" stop-color="#fff" stop-opacity="0.1"/><stop offset="0.75" stop-color="#fff" stop-opacity="0.65"/><stop offset="1" stop-color="#fff" stop-opacity="0.96"/></radialGradient><radialGradient id="pg3" gradientUnits="userSpaceOnUse" cx="779.4" cy="271.2" r="78.0"><stop offset="0" stop-color="#fff" stop-opacity="0"/><stop offset="0.45" stop-color="#fff" stop-opacity="0.1"/><stop offset="0.75" stop-color="#fff" stop-opacity="0.65"/><stop offset="1" stop-color="#fff" stop-opacity="0.96"/></radialGradient><radialGradient id="pg4" gradientUnits="userSpaceOnUse" cx="1100.7" cy="270.0" r="78.0"><stop offset="0" stop-color="#fff" stop-opacity="0"/><stop offset="0.45" stop-color="#fff" stop-opacity="0.1"/><stop offset="0.75" stop-color="#fff" stop-opacity="0.65"/><stop offset="1" stop-color="#fff" stop-opacity="0.96"/></radialGradient><radialGradient id="pg5" gradientUnits="userSpaceOnUse" cx="780.6" cy="440.1" r="78.2"><stop offset="0" stop-color="#fff" stop-opacity="0"/><stop offset="0.45" stop-color="#fff" stop-opacity="0.1"/><stop offset="0.75" stop-color="#fff" stop-opacity="0.65"/><stop offset="1" stop-color="#fff" stop-opacity="0.96"/></radialGradient><radialGradient id="pg6" gradientUnits="userSpaceOnUse" cx="1101.2" cy="440.2" r="78.2"><stop offset="0" stop-color="#fff" stop-opacity="0"/><stop offset="0.45" stop-color="#fff" stop-opacity="0.1"/><stop offset="0.75" stop-color="#fff" stop-opacity="0.65"/><stop offset="1" stop-color="#fff" stop-opacity="0.96"/></radialGradient></defs>
<rect width="1268" height="622" fill="#fff"/>
<g clip-path="url(#fr1)"><rect x="18.19999999999999" y="28.5" width="283.0" height="143.6" fill="#bde0f4"/><path d="M69.5 165.5L72.2 165.6L75.0 165.7L77.7 165.8L80.2 165.8L82.6 165.8L85.1 165.8L87.0 165.5L89.0 165.2L90.9 164.9L93.0 164.5L95.0 164.2L97.8 164.3L100.5 164.4L103.2 164.5L105.2 164.1L107.2 163.6L109.8 163.6L112.4 163.6L115.2 163.7L118.0 163.9L119.5 162.5L120.0 159.3L121.0 157.0L122.7 155.9L125.4 155.1L125.0 156.3L123.5 157.4L122.8 159.3L126.2 162.1L128.2 163.6L131.5 164.5L134.6 165.5L137.2 165.7L139.8 165.8L142.2 165.5L145.2 164.2L147.0 163.4L149.0 162.5L151.0 161.8L153.1 161.1L156.9 160.4L159.7 160.0L162.5 160.0L165.3 160.0L168.1 160.0L170.9 160.0L173.8 159.6L176.7 159.3L178.9 159.5L181.1 159.6L185.7 158.1L190.2 157.0L193.3 157.8L197.2 158.1L199.6 158.9L202.0 159.6L205.9 158.1L208.4 157.8L211.0 157.4L215.1 157.4L218.1 157.3L221.1 157.2L223.9 157.3L226.8 157.4L229.8 157.3L232.8 157.2L235.8 157.1L238.9 157.0L240.8 157.4L242.7 157.8L245.5 158.7L247.5 159.4L249.4 160.0L251.6 161.1L251.4 162.1L246.4 163.6L242.0 165.2L242.7 165.8L245.1 165.7L247.5 165.6L249.9 165.5L244.2 167.8L239.0 169.7L234.5 171.1L232.8 171.1L231.2 171.1L229.5 171.1L227.8 171.1L226.2 171.1L224.5 171.1L222.8 171.1L221.2 171.1L219.5 171.1L217.9 171.1L216.2 171.1L214.5 171.1L212.9 171.1L211.2 171.1L209.5 171.1L207.9 171.1L206.2 171.1L204.6 171.1L202.9 171.1L201.2 171.1L199.6 171.1L197.9 171.1L196.3 171.1L194.6 171.1L192.9 171.1L191.3 171.1L189.6 171.1L187.9 171.1L186.3 171.1L184.6 171.1L183.0 171.1L181.3 171.1L179.6 171.1L178.0 171.1L176.3 171.1L174.7 171.1L173.0 171.1L171.3 171.1L169.7 171.1L168.0 171.1L166.3 171.1L164.7 171.1L163.0 171.1L161.4 171.1L159.7 171.1L158.0 171.1L156.4 171.1L154.7 171.1L153.1 171.1L151.4 171.1L149.7 171.1L148.1 171.1L146.4 171.1L144.7 171.1L143.1 171.1L141.4 171.1L139.8 171.1L138.1 171.1L136.4 171.1L134.8 171.1L133.1 171.1L131.5 171.1L129.8 171.1L128.1 171.1L126.5 171.1L124.8 171.1L123.1 171.1L121.5 171.1L119.8 171.1L118.2 171.1L116.5 171.1L114.8 171.1L113.2 171.1L111.5 171.1L109.9 171.1L108.2 171.1L106.5 171.1L104.9 171.1L103.2 171.1L101.5 171.1L99.9 171.1L98.2 171.1L96.6 171.1L94.9 171.1L93.2 171.1L91.6 171.1L89.9 171.1L88.2 171.1L86.6 171.1L84.9 171.1L80.4 169.7L75.2 167.8Z" fill="#fff"/><path d="M60.6 44.0L65.0 41.7L73.1 39.7L80.3 40.9L88.1 40.4L94.1 41.7L97.7 42.1L104.6 42.1L108.0 39.5L109.5 41.7L113.4 41.0L112.7 42.8L109.3 43.6L107.6 45.1L102.9 46.7L100.3 49.1L100.5 50.7L104.4 52.1L106.1 52.3L105.2 54.1L106.5 55.3L108.0 52.8L110.5 51.1L110.2 49.3L112.5 46.5L114.9 46.5L116.5 47.5L115.9 49.3L118.1 49.3L119.6 48.1L120.1 51.1L122.1 52.8L122.5 54.9L119.8 56.3L115.1 56.4L111.4 59.1L115.4 57.4L115.0 59.6L117.3 60.0L114.8 61.3L113.1 62.2L112.8 60.9L110.3 62.2L109.5 63.7L106.6 64.8L104.9 66.9L103.8 69.4L101.7 70.6L99.3 72.6L99.1 76.6L98.7 78.2L97.7 77.5L97.3 75.7L96.8 74.0L94.6 73.6L92.7 73.8L92.5 74.7L89.6 74.2L86.6 75.7L85.4 79.2L85.2 82.3L86.7 84.0L89.4 84.1L90.4 81.9L93.2 81.4L92.3 84.3L91.2 86.3L94.9 86.4L95.4 87.2L94.7 90.5L95.6 92.2L97.8 92.0L99.6 92.7L98.8 93.7L97.0 93.9L95.1 93.0L93.1 91.5L91.9 88.9L88.9 88.0L86.8 86.1L85.2 86.5L81.9 85.1L78.8 82.7L79.2 80.5L76.8 77.5L75.3 74.4L74.3 72.5L75.4 78.4L76.0 80.1L74.4 78.4L73.4 75.7L72.9 74.0L72.7 71.8L70.9 70.0L70.6 67.6L70.5 64.9L71.8 62.6L73.7 59.7L74.3 57.9L75.8 57.4L74.0 55.7L74.3 52.8L74.6 49.9L73.3 48.7L70.6 48.3L67.9 47.9L64.5 48.7L61.5 50.3L57.3 51.6L52.1 52.8L55.0 51.6L59.9 49.5L57.8 49.1L58.0 47.1L63.3 45.1L61.4 44.7ZM116.8 38.1L120.1 39.5L121.6 40.6L123.7 42.8L121.7 44.3L119.4 46.7L116.5 46.3L115.6 44.7L113.2 44.7L117.6 42.5L116.5 40.6L112.0 40.6L110.4 39.9L111.5 38.1ZM94.9 39.9L100.1 41.3L102.7 41.0L103.2 38.8L100.3 38.5L96.6 38.5ZM90.9 39.5L92.7 39.9L97.1 38.5L97.3 37.4L93.7 37.7ZM113.5 36.1L119.7 36.1L122.4 34.8L130.6 32.8L127.4 32.2L119.8 32.8L115.4 33.5L116.1 35.1ZM111.4 37.0L117.4 37.4L118.3 36.4L113.1 35.9ZM98.2 37.0L104.0 37.0L105.8 36.1L99.6 36.1ZM112.1 35.1L116.0 34.8L116.7 33.3L113.1 33.8ZM103.6 39.5L107.2 39.2L110.2 37.7L105.9 37.7ZM107.3 45.5L110.9 45.5L111.9 44.0L109.0 44.0ZM118.9 58.5L123.0 59.4L123.6 57.9L122.5 55.3L121.0 56.2ZM94.8 81.0L98.7 80.1L102.3 82.1L102.8 82.7L100.3 82.8L100.1 81.4L97.1 80.7ZM102.5 84.1L104.5 82.9L107.1 84.0L104.7 84.8ZM99.6 92.7L101.1 90.8L103.5 89.9L104.4 89.5L105.4 90.2L106.8 90.9L109.6 91.3L111.6 90.9L113.0 92.8L115.3 95.0L117.6 95.2L119.6 96.4L120.7 99.0L120.7 100.7L122.6 100.9L125.0 102.5L128.5 102.8L130.9 104.5L132.4 105.4L132.6 107.3L131.0 110.0L129.5 112.2L129.7 115.7L128.5 119.2L127.7 120.5L125.4 121.2L123.0 123.1L123.1 125.3L121.6 127.5L120.2 130.1L118.1 130.9L116.6 130.1L118.0 132.3L117.7 134.1L114.9 134.5L115.1 136.3L113.2 136.3L114.5 137.8L113.9 139.7L112.8 140.6L114.4 142.3L113.1 144.4L114.2 146.0L114.4 146.4L117.1 148.0L115.2 148.6L112.6 147.8L110.0 145.7L108.1 142.7L108.0 138.9L106.6 135.4L106.3 132.3L106.5 128.4L105.8 124.9L106.1 120.5L105.7 116.4L103.8 115.0L100.9 112.6L99.6 110.4L97.8 106.9L96.4 105.6L96.3 104.1L97.3 102.9L96.6 101.2L97.3 99.9L98.2 99.0L99.3 96.8L99.4 94.2ZM155.4 68.9L158.2 69.4L161.9 68.0L167.0 67.6L167.7 68.0L167.2 70.5L167.8 71.2L171.1 71.9L173.9 73.7L174.6 73.1L174.7 71.8L176.8 71.7L178.5 72.6L181.4 73.2L183.6 72.8L184.1 74.0L184.9 75.7L186.7 79.2L188.0 81.9L188.5 84.1L190.2 86.7L193.0 89.2L193.3 90.2L194.6 91.1L196.9 90.5L199.4 89.9L199.2 91.5L197.9 94.6L196.4 97.2L194.0 99.4L192.1 101.9L190.6 104.3L189.9 106.0L190.4 107.8L191.1 110.0L191.1 113.5L188.2 115.9L186.5 117.9L186.7 121.4L184.5 123.1L184.2 125.3L182.5 127.5L180.0 129.7L178.2 130.1L174.4 130.9L173.2 130.3L173.1 128.4L172.1 125.5L171.1 123.1L170.8 120.1L168.9 116.1L169.0 113.5L170.3 110.8L169.8 108.2L169.2 105.6L167.1 102.5L166.7 99.9L167.3 97.7L166.6 96.3L164.4 96.5L163.0 94.8L160.5 95.2L158.1 96.1L156.2 95.7L153.9 96.4L152.7 95.9L150.0 93.7L149.2 92.0L148.1 90.6L146.8 89.3L146.2 87.4L147.2 84.5L147.2 82.7L146.7 81.9L147.5 79.5L148.7 77.5L150.7 75.7L152.2 74.4L152.5 72.6L153.4 71.1L154.8 70.3ZM197.9 111.0L198.7 113.9L197.4 116.1L195.8 122.1L193.8 122.7L192.8 120.9L193.6 117.9L193.9 114.8L195.6 114.2L196.9 112.2ZM152.8 67.8L153.0 66.3L153.4 64.3L153.2 62.6L154.1 62.0L158.4 62.2L158.9 60.0L156.6 58.5L156.5 57.9L158.7 57.7L158.5 56.8L159.8 57.0L160.8 55.8L162.0 55.4L162.8 54.1L164.3 53.6L165.4 53.3L165.0 52.0L165.0 50.7L166.4 50.2L166.4 51.6L166.1 52.4L166.9 53.2L169.0 53.3L171.8 52.5L172.7 52.9L173.4 52.1L173.3 50.7L175.2 50.6L174.5 48.9L177.2 48.6L178.5 48.4L177.4 47.9L175.3 48.1L173.7 48.3L172.8 47.5L172.7 45.9L174.7 44.3L173.8 43.7L172.4 44.7L170.3 46.3L170.3 47.5L171.4 48.3L170.3 50.7L170.0 51.4L169.0 52.0L168.1 52.0L167.8 51.3L166.8 49.5L166.3 48.9L164.8 49.8L163.2 49.3L162.8 47.5L163.6 46.1L166.0 44.7L167.3 43.2L168.3 41.9L169.9 41.0L172.0 40.4L174.0 39.9L175.5 40.0L177.0 40.4L176.6 40.9L178.3 41.0L180.1 41.3L183.4 42.5L183.4 43.4L182.0 43.6L179.2 43.1L180.4 44.7L181.9 45.2L182.3 44.7L183.8 44.6L183.2 43.8L184.2 43.3L185.6 43.6L185.0 42.2L184.5 41.7L186.0 41.9L186.7 42.9L187.3 42.3L189.8 41.5L193.4 41.7L193.9 40.7L196.5 41.2L198.5 41.7L197.3 40.6L196.1 38.8L197.2 38.5L199.0 38.7L199.8 40.2L201.5 42.1L202.0 42.2L200.7 39.9L199.7 39.2L200.4 38.8L201.8 39.2L202.2 39.0L202.9 38.1L205.6 37.8L205.4 37.0L208.8 36.4L211.0 36.1L212.2 35.3L214.5 35.9L218.2 36.4L220.3 37.9L218.2 37.9L220.3 38.1L223.9 38.5L226.0 38.0L229.2 38.8L231.4 39.9L232.3 39.5L235.5 39.6L235.7 38.8L239.8 38.9L244.0 39.9L248.0 40.0L250.1 40.9L254.0 40.7L256.4 41.3L258.6 40.7L261.9 41.4L266.4 44.3L268.6 46.3L266.3 46.9L266.0 48.3L263.2 48.3L261.8 48.5L263.2 49.9L264.4 51.6L265.3 52.5L265.6 54.1L265.6 55.1L265.1 55.7L260.3 51.6L259.5 50.3L259.9 47.9L259.4 46.3L257.8 46.9L255.8 47.1L256.1 48.7L253.5 48.6L250.7 48.9L249.0 49.1L248.5 51.1L248.0 52.5L251.3 53.2L253.2 54.1L254.7 56.6L256.1 58.3L255.9 60.4L255.2 62.2L253.3 62.4L252.5 63.1L252.4 64.2L251.5 65.4L254.0 67.8L254.6 69.1L253.0 70.1L252.0 68.0L250.4 66.9L249.8 65.5L249.1 65.2L247.5 66.1L247.4 64.8L246.3 64.4L244.9 65.9L246.2 67.3L247.4 67.1L249.0 67.6L248.0 68.7L247.4 69.6L248.4 70.2L249.3 71.5L250.5 72.6L251.0 74.0L251.2 74.8L250.7 76.4L250.3 77.9L249.4 79.0L248.5 80.1L246.9 80.7L246.3 80.9L245.2 81.3L244.1 81.7L244.2 82.4L243.6 81.4L242.3 81.3L241.4 82.7L240.9 83.7L242.3 85.6L243.8 86.9L244.4 89.0L244.3 90.2L243.0 91.2L242.6 92.0L241.3 92.7L241.1 91.5L239.6 90.5L239.0 89.5L237.8 88.6L237.1 88.4L236.7 91.1L237.4 92.1L237.9 93.9L239.1 94.9L240.3 96.3L240.4 98.1L241.0 99.1L240.5 99.2L238.7 97.8L237.8 95.3L237.3 94.5L236.1 92.8L236.3 91.3L236.1 88.9L235.1 86.7L234.4 85.4L233.3 86.4L232.5 86.3L232.2 84.1L230.5 82.1L229.7 80.5L228.8 80.7L227.7 81.2L226.2 81.6L226.2 82.6L224.9 83.3L223.1 85.7L221.6 86.7L221.8 88.4L221.7 91.3L221.1 92.1L220.5 92.5L220.0 93.2L219.2 92.2L218.3 90.0L217.3 88.0L216.3 85.8L215.6 83.2L215.3 81.7L214.9 81.9L213.9 82.1L212.4 80.8L213.3 80.1L211.9 79.7L211.0 79.0L210.2 78.0L206.4 78.2L203.2 77.9L202.5 76.6L200.9 76.9L198.5 75.8L197.3 74.0L196.3 73.7L195.7 74.4L196.4 75.5L197.7 76.9L197.8 78.4L198.9 79.1L200.8 79.1L202.1 77.5L202.7 78.8L204.4 79.6L205.3 80.6L204.5 82.4L204.0 83.7L202.3 85.1L200.0 86.5L197.4 88.0L194.6 89.1L193.4 89.2L192.8 87.3L192.5 85.8L191.0 83.1L189.7 81.7L188.2 79.1L186.3 75.7L186.0 74.4L185.5 75.9L184.1 74.0L183.8 72.9L185.2 72.9L185.7 71.5L186.1 69.6L186.0 68.0L184.9 68.1L183.5 68.6L182.0 68.4L180.9 68.1L179.6 68.1L178.8 66.7L178.7 65.6L179.1 64.9L180.4 64.3L182.2 64.2L183.5 63.5L184.6 63.5L186.2 64.3L188.0 64.3L189.3 63.9L189.1 62.9L187.5 61.9L186.0 61.1L186.5 60.0L186.7 59.0L185.6 59.1L184.2 59.7L185.2 60.6L184.6 61.0L183.2 61.3L182.4 60.5L183.0 60.0L181.5 59.5L180.6 60.2L180.4 60.9L179.8 61.9L179.4 63.0L179.8 63.9L180.4 64.2L179.4 64.3L178.5 64.5L176.9 64.5L176.8 65.2L176.1 64.9L176.2 65.8L177.1 66.9L176.6 67.1L176.5 68.3L175.9 68.0L175.3 67.4L175.0 66.3L173.7 64.9L173.6 63.6L172.1 62.6L170.2 61.1L169.5 60.9L169.2 60.3L168.3 60.6L168.4 61.6L169.4 62.3L171.1 63.5L173.0 65.0L171.9 64.8L171.7 66.1L171.3 66.9L171.1 66.8L171.2 65.6L170.5 65.0L168.5 63.6L167.1 62.7L166.9 61.8L165.9 61.4L165.0 61.9L163.9 62.5L162.5 62.2L161.9 63.2L162.1 63.7L160.3 64.5L159.5 65.6L159.8 66.2L159.2 67.2L158.2 68.0L156.4 68.1L155.6 68.7L155.0 68.0L154.3 67.6L153.1 67.8ZM57.5 41.4L58.7 42.5L60.0 43.6L56.9 44.7L54.7 44.0L53.0 44.3ZM155.8 56.5L157.3 56.3L160.6 55.6L160.8 54.3L159.8 54.1L159.6 52.8L158.7 52.0L157.9 51.6L158.4 50.3L157.2 50.3L157.7 49.4L156.5 49.4L155.7 50.7L156.3 52.0L156.6 52.5L157.6 52.5L157.7 53.8L156.7 53.8L156.9 54.6L156.2 55.1L157.5 55.4ZM153.0 55.1L155.5 54.7L155.8 53.2L156.0 52.5L154.8 52.1L153.1 53.0L153.4 54.1ZM145.5 44.0L146.9 43.3L149.2 43.4L151.1 43.4L151.6 44.3L150.4 45.0L148.4 45.6L146.2 45.2L146.6 44.6ZM165.2 35.1L168.4 35.9L170.7 34.9L172.8 33.8L169.3 33.5L165.1 34.0ZM188.0 39.5L191.4 40.1L190.5 38.1L192.0 36.7L194.7 35.9L193.3 35.7L189.7 36.4L188.6 38.1ZM206.5 34.4L212.1 34.9L209.7 33.8L205.5 33.3ZM231.1 36.7L236.1 37.2L238.3 36.9L233.7 36.4ZM252.8 53.0L254.9 54.5L257.0 57.0L259.3 59.7L258.4 60.0L255.9 56.6L254.2 54.9ZM259.3 63.5L258.4 60.5L262.2 62.2L261.4 63.5ZM260.3 64.0L262.1 65.6L262.5 67.8L263.2 69.4L261.7 69.8L260.5 70.0L260.0 70.9L258.5 70.0L256.4 70.5L256.3 70.0L257.0 69.1L259.4 68.9L259.5 67.6L260.6 66.9L260.4 65.2ZM255.9 70.9L257.1 70.7L257.7 72.7L256.8 72.9L256.0 71.5ZM257.6 70.5L259.0 70.3L259.1 71.1L258.4 71.5ZM251.9 78.2L252.4 78.7L252.0 81.0L251.3 80.1L251.4 78.8ZM243.1 83.4L244.4 82.7L244.9 83.1L244.0 84.3ZM221.9 91.7L223.4 93.7L222.8 95.0L222.0 94.9L221.8 93.0ZM252.3 84.1L253.6 84.1L253.7 86.3L255.5 88.2L255.8 89.1L254.1 88.2L253.1 87.6L252.3 86.3ZM254.7 94.2L255.7 92.8L257.2 91.7L258.1 93.7L257.8 94.9L257.3 95.2L256.2 94.4ZM254.3 89.9L255.9 90.2L257.1 90.5L257.0 91.5L255.7 92.0L254.9 91.5ZM250.9 92.9L252.5 91.1L252.6 90.5L250.8 92.7ZM234.0 95.4L235.7 95.7L237.9 97.8L240.6 100.3L241.2 102.1L242.4 103.1L242.1 105.4L241.1 105.4L239.5 103.8L238.3 102.2L237.0 99.9L235.5 97.7ZM241.6 106.3L242.8 105.6L244.3 106.2L246.0 105.9L247.4 106.4L248.8 107.1L248.7 107.9L246.0 107.6L243.7 107.1L242.5 106.8ZM244.7 99.0L245.8 98.8L246.7 97.9L247.8 97.5L249.3 95.9L250.6 94.2L251.4 94.9L252.4 95.7L251.7 96.5L251.6 98.5L252.6 99.4L251.6 99.9L251.4 101.2L250.4 102.2L250.3 103.8L249.1 103.8L248.2 103.2L246.9 103.4L245.6 102.8L245.5 101.4L244.8 100.3ZM252.9 103.4L253.2 99.6L254.1 99.2L257.2 98.9L256.7 100.0L254.1 99.9L254.0 101.1L255.8 101.0L254.6 102.1L255.6 104.0L255.0 105.0L254.4 104.0L253.9 102.8L253.5 105.2L252.8 105.1ZM261.9 101.0L264.3 101.0L265.0 103.2L267.2 101.6L269.7 102.6L272.4 103.6L274.2 105.4L274.8 106.2L274.1 106.4L274.4 107.3L276.6 109.3L274.7 109.2L273.2 107.8L271.7 107.1L270.9 108.4L269.3 108.3L267.8 107.4L267.0 107.6L267.8 106.3L267.2 105.1L265.3 104.2L263.8 103.5L263.3 102.8L264.1 102.2L262.7 102.2ZM249.2 107.5L252.3 107.6L255.4 107.6L255.2 108.0L252.2 108.1L249.1 108.0ZM255.6 109.3L256.5 108.4L258.5 107.7L258.0 108.4L256.0 109.3ZM259.2 98.7L260.1 99.2L259.6 101.0ZM275.2 105.2L277.0 105.1L278.4 104.0L278.2 104.9L277.2 105.7L275.4 105.6ZM246.8 119.4L245.9 121.8L245.9 124.4L245.7 127.1L245.8 128.4L244.5 130.4L246.5 131.0L248.3 130.1L250.9 130.1L253.3 128.7L255.8 128.0L257.5 128.0L259.1 129.1L259.7 130.9L261.6 129.3L261.2 131.0L261.9 131.9L261.7 133.7L263.5 134.4L265.4 134.5L267.2 133.5L268.9 133.0L270.6 131.0L272.0 129.3L273.8 127.5L275.3 125.3L275.7 122.7L274.6 120.9L273.8 119.9L273.5 118.0L272.0 117.0L272.1 114.8L271.9 113.3L270.9 112.9L270.7 111.3L270.3 109.8L269.4 111.7L269.0 113.9L268.1 115.7L266.9 115.7L266.0 114.3L264.4 113.5L265.0 112.2L265.7 111.0L264.8 110.8L262.6 110.4L261.2 111.1L260.3 112.2L259.8 113.4L258.8 113.3L258.0 112.5L256.7 113.0L255.3 114.6L254.1 115.2L253.6 116.4L252.5 117.5L250.9 117.9L249.3 118.5L248.0 119.2ZM263.4 136.0L265.8 136.1L265.1 137.3L263.4 138.4L262.7 138.3ZM287.1 130.5L287.4 132.1L287.9 132.8L289.4 133.4L287.3 135.0L284.7 136.8L285.6 135.2L285.1 134.8L286.6 133.7L287.1 132.3ZM283.7 135.8L283.9 136.9L281.6 138.4L280.0 139.1L278.5 140.5L276.4 141.1L275.4 140.6L278.2 138.9L281.0 137.6Z" fill="#27713a"/><path d="M123.2 35.0L128.9 33.0L138.7 32.5L146.0 32.0L150.3 32.8L151.5 33.8L150.0 35.7L150.0 37.0L147.7 39.2L147.4 40.4L144.3 41.9L140.6 42.8L137.9 43.9L136.0 44.3L133.7 46.7L132.9 48.3L131.3 48.3L129.8 47.5L129.1 45.1L128.7 42.8L129.6 41.3L129.5 39.9L129.5 36.7L124.5 36.4Z" fill="#faf6bb"/><path d="M192.6 60.9L194.9 59.1L196.4 59.6L196.4 60.9L195.5 61.3L197.2 63.5L197.5 64.8L198.6 65.6L198.9 67.8L196.9 68.0L195.4 67.4L195.1 65.0L193.4 63.0Z" fill="#bde0f4"/><g clip-path="url(#ld1)"><path d="M55.8 46.7L58.0 46.9L60.3 47.0L62.6 47.2L64.8 47.3L67.1 47.5L69.8 47.9L72.4 48.3L75.2 48.7L77.9 49.1L80.6 48.9L83.2 48.8L85.9 48.6L88.5 48.5L91.1 48.3L93.9 48.7L96.8 49.1L99.7 49.5L102.4 50.2L105.2 50.9L108.0 51.6L110.6 51.6L113.2 51.6L115.5 52.1L117.9 52.7L120.3 53.2L125.4 48.3L126.8 45.0L128.3 41.8L129.8 38.8L131.5 36.0L133.4 33.4L135.1 31.2L133.3 31.2L131.5 31.2L129.6 31.2L127.8 31.2L126.0 31.2L124.1 31.2L122.3 31.2L120.5 31.2L118.6 31.2L116.8 31.2L115.0 31.2L113.1 31.2L111.3 31.2L109.5 31.2L107.6 31.2L105.8 31.2L104.0 31.2L102.1 31.2L100.3 31.2L98.4 31.2L96.6 31.2L94.8 31.2L92.9 31.2L91.1 31.2L89.3 31.2L87.4 31.2L85.6 31.2L83.8 31.2L77.8 33.6L71.5 36.5L65.8 39.7L60.6 43.1Z" fill="#faf6bb"/><path d="M55.8 46.7L58.0 46.9L60.3 47.0L62.6 47.2L64.8 47.3L67.1 47.5L69.8 47.9L72.4 48.3L75.2 48.7L77.9 49.1L80.6 48.9L83.2 48.8L85.9 48.6L88.5 48.5L91.1 48.3L93.9 48.7L96.8 49.1L99.7 49.5L102.4 50.2L105.2 50.9L108.0 51.6L110.6 51.6L113.2 51.6L115.5 52.1L117.9 52.7L120.3 53.2L125.4 48.3L126.8 45.0L128.3 41.8L129.8 38.8L131.5 36.0L133.4 33.4L135.1 31.2L133.3 31.2L131.5 31.2L129.6 31.2L127.8 31.2L126.0 31.2L124.1 31.2L122.3 31.2L120.5 31.2L118.6 31.2L116.8 31.2L115.0 31.2L113.1 31.2L111.3 31.2L109.5 31.2L107.6 31.2L105.8 31.2L104.0 31.2L102.1 31.2L100.3 31.2L98.4 31.2L96.6 31.2L94.8 31.2L92.9 31.2L91.1 31.2L89.3 31.2L87.4 31.2L85.6 31.2L83.8 31.2L77.8 33.6L71.5 36.5L65.8 39.7L60.6 43.1Z" fill="#6ab72f" filter="url(#f0)"/><path d="M53.7 48.3L56.0 48.5L58.3 48.6L60.7 48.8L63.0 48.9L65.3 49.1L67.7 49.3L70.1 49.4L72.4 49.6L74.8 49.8L77.2 49.9L80.0 49.6L82.8 49.3L85.6 48.9L88.4 48.6L91.1 48.3L95.9 42.8L93.6 42.8L91.2 42.8L88.9 42.8L86.6 42.8L84.3 42.8L82.0 42.8L79.6 42.8L77.3 42.8L75.0 42.8L72.7 42.8L70.4 42.8L68.0 42.8L65.7 42.8L63.4 42.8L61.1 42.8Z" fill="#27713a" filter="url(#f1)"/><path d="M67.1 58.3L69.7 58.4L72.4 58.5L75.0 58.7L77.7 58.8L80.4 58.9L83.1 59.1L85.8 59.2L88.5 59.3L91.2 59.4L93.9 59.6L96.6 59.7L99.3 59.8L102.0 60.0L104.8 60.1L107.5 60.2L110.2 60.3L113.0 60.5L115.7 60.6L118.5 60.7L121.2 60.9L122.4 56.6L123.9 52.4L125.4 48.3L123.0 48.2L120.5 48.1L118.1 48.1L115.6 48.0L113.2 47.9L110.7 47.8L108.3 47.7L105.9 47.7L103.5 47.6L101.1 47.5L98.6 47.4L96.2 47.3L93.8 47.3L91.5 47.2L89.1 47.1L86.7 47.0L84.3 46.9L81.9 46.9L79.6 46.8L77.2 46.7L73.5 50.5L70.1 54.3Z" fill="#6ab72f" filter="url(#f2)"/><path d="M67.1 58.3L69.7 58.4L72.4 58.5L75.0 58.7L77.7 58.8L80.4 58.9L83.1 59.1L85.8 59.2L88.5 59.3L91.2 59.4L93.9 59.6L96.6 59.7L99.3 59.8L102.0 60.0L104.8 60.1L107.5 60.2L110.2 60.3L113.0 60.5L115.7 60.6L118.5 60.7L121.2 60.9L122.4 56.6L123.9 52.4L125.4 48.3L123.0 48.2L120.5 48.1L118.1 48.1L115.6 48.0L113.2 47.9L110.7 47.8L108.3 47.7L105.9 47.7L103.5 47.6L101.1 47.5L98.6 47.4L96.2 47.3L93.8 47.3L91.5 47.2L89.1 47.1L86.7 47.0L84.3 46.9L81.9 46.9L79.6 46.8L77.2 46.7L73.5 50.5L70.1 54.3Z" fill="#faf6bb" filter="url(#f3)"/><path d="M64.5 76.6L67.5 76.6L70.6 76.6L73.6 76.6L76.6 76.6L79.6 76.6L82.6 76.6L85.7 76.6L88.7 76.6L89.6 72.7L90.8 68.9L92.2 65.0L93.8 61.2L95.6 57.4L92.9 57.4L90.2 57.4L87.4 57.4L84.7 57.4L82.0 57.4L79.2 57.4L76.5 57.4L73.8 57.4L71.4 61.2L69.2 65.0L67.3 68.9L65.8 72.7Z" fill="#d7141b" filter="url(#f4)"/><path d="M64.5 76.6L67.5 76.6L70.6 76.6L73.6 76.6L76.6 76.6L79.6 76.6L82.6 76.6L85.7 76.6L88.7 76.6L89.6 72.7L90.8 68.9L92.2 65.0L93.8 61.2L95.6 57.4L92.9 57.4L90.2 57.4L87.4 57.4L84.7 57.4L82.0 57.4L79.2 57.4L76.5 57.4L73.8 57.4L71.4 61.2L69.2 65.0L67.3 68.9L65.8 72.7Z" fill="#f4a31b" filter="url(#f5)"/><path d="M64.5 76.6L67.5 76.6L70.6 76.6L73.6 76.6L76.6 76.6L79.6 76.6L82.6 76.6L85.7 76.6L88.7 76.6L89.6 72.7L90.8 68.9L92.2 65.0L93.8 61.2L95.6 57.4L92.9 57.4L90.2 57.4L87.4 57.4L84.7 57.4L82.0 57.4L79.2 57.4L76.5 57.4L73.8 57.4L71.4 61.2L69.2 65.0L67.3 68.9L65.8 72.7Z" fill="#faf6bb" filter="url(#f6)"/><path d="M88.3 78.4L91.3 78.4L94.4 78.4L97.4 78.4L100.5 78.4L103.5 78.4L106.5 78.4L109.6 78.4L110.2 74.3L111.0 70.3L112.0 66.2L113.1 62.2L114.4 58.3L111.7 58.3L108.9 58.3L106.2 58.3L103.4 58.3L100.7 58.3L97.9 58.3L95.2 58.3L93.3 62.2L91.7 66.2L90.3 70.3L89.2 74.3Z" fill="#faf6bb" filter="url(#f7)"/><path d="M85.3 67.8L88.2 67.8L91.2 67.8L94.1 67.8L97.0 67.8L99.9 67.8L102.8 63.5L101.7 59.1L98.8 58.7L95.9 58.3L93.0 57.9L90.2 57.4L88.3 60.9L86.7 64.3Z" fill="#faf6bb" filter="url(#f8)"/><path d="M88.3 78.4L91.3 78.4L94.4 78.4L97.4 78.4L100.5 78.4L103.5 78.4L106.5 78.4L109.6 78.4L110.2 74.3L111.0 70.3L112.0 66.2L113.1 62.2L114.4 58.3L111.7 58.3L108.9 58.3L106.2 58.3L103.4 58.3L100.7 58.3L97.9 58.3L95.2 58.3L93.3 62.2L91.7 66.2L90.3 70.3L89.2 74.3Z" fill="#d7141b" filter="url(#f9)"/><path d="M67.8 94.2L71.1 94.2L74.4 94.2L77.6 94.2L80.9 94.2L84.2 94.2L87.5 94.2L90.7 94.2L94.0 94.2L97.3 94.2L100.5 94.2L100.7 90.6L101.0 87.1L101.3 83.6L101.8 80.1L102.3 76.6L99.1 76.6L95.9 76.6L92.8 76.6L89.6 76.6L86.4 76.6L83.3 76.6L80.1 76.6L76.9 76.6L73.7 76.6L70.6 76.6L69.7 80.1L69.1 83.6L68.5 87.1L68.1 90.6Z" fill="#d7141b" filter="url(#f10)"/><path d="M67.8 94.2L71.1 94.2L74.4 94.2L77.6 94.2L80.9 94.2L84.2 94.2L87.5 94.2L90.7 94.2L94.0 94.2L97.3 94.2L100.5 94.2L100.7 90.6L101.0 87.1L101.3 83.6L101.8 80.1L102.3 76.6L99.1 76.6L95.9 76.6L92.8 76.6L89.6 76.6L86.4 76.6L83.3 76.6L80.1 76.6L76.9 76.6L73.7 76.6L70.6 76.6L69.7 80.1L69.1 83.6L68.5 87.1L68.1 90.6Z" fill="#f4a31b" filter="url(#f11)"/><path d="M67.8 94.2L71.1 94.2L74.4 94.2L77.6 94.2L80.9 94.2L84.2 94.2L87.5 94.2L90.7 94.2L94.0 94.2L97.3 94.2L100.5 94.2L100.7 90.6L101.0 87.1L101.3 83.6L101.8 80.1L102.3 76.6L99.1 76.6L95.9 76.6L92.8 76.6L89.6 76.6L86.4 76.6L83.3 76.6L80.1 76.6L76.9 76.6L73.7 76.6L70.6 76.6L69.7 80.1L69.1 83.6L68.5 87.1L68.1 90.6Z" fill="#faf6bb" filter="url(#f12)"/><path d="M100.8 110.8L104.1 110.8L107.5 110.8L110.9 110.8L114.2 110.8L117.6 110.8L120.9 110.8L120.8 107.3L120.7 103.8L120.7 100.3L120.7 96.8L117.3 96.8L114.0 96.8L110.6 96.8L107.2 96.8L103.8 96.8L100.4 96.8L100.4 100.3L100.4 103.8L100.6 107.3Z" fill="#d7141b" filter="url(#f13)"/><path d="M96.1 89.8L99.2 89.8L102.3 89.8L102.1 93.5L102.0 97.2L102.0 101.0L102.0 104.7L104.3 108.5L106.6 112.3L108.9 116.1L109.3 120.0L109.8 123.8L110.5 127.7L111.3 131.6L112.2 135.4L108.6 135.4L105.0 135.4L103.4 131.6L101.9 127.7L100.6 123.9L99.4 120.1L98.4 116.2L97.4 112.4L96.5 108.5L95.8 104.7L95.7 101.0L95.8 97.2L95.9 93.5Z" fill="#d7141b" filter="url(#f14)"/><path d="M96.1 89.8L99.2 89.8L102.3 89.8L102.1 93.5L102.0 97.2L102.0 101.0L102.0 104.7L104.3 108.5L106.6 112.3L108.9 116.1L109.3 120.0L109.8 123.8L110.5 127.7L111.3 131.6L112.2 135.4L108.6 135.4L105.0 135.4L103.4 131.6L101.9 127.7L100.6 123.9L99.4 120.1L98.4 116.2L97.4 112.4L96.5 108.5L95.8 104.7L95.7 101.0L95.8 97.2L95.9 93.5Z" fill="#f4a31b" filter="url(#f15)"/><path d="M119.1 102.1L122.6 102.1L126.2 102.1L129.7 102.1L133.2 102.1L133.2 106.1L133.3 110.1L133.5 114.2L133.7 118.2L133.9 122.2L130.9 123.3L128.0 124.4L125.1 125.5L122.2 126.6L118.8 123.1L115.4 119.6L116.0 116.1L116.7 112.6L117.4 109.1L118.3 105.6Z" fill="#d7141b" filter="url(#f16)"/><path d="M119.1 102.1L122.6 102.1L126.2 102.1L129.7 102.1L133.2 102.1L133.2 106.1L133.3 110.1L133.5 114.2L133.7 118.2L133.9 122.2L130.9 123.3L128.0 124.4L125.1 125.5L122.2 126.6L118.8 123.1L115.4 119.6L116.0 116.1L116.7 112.6L117.4 109.1L118.3 105.6Z" fill="#f4a31b" filter="url(#f17)"/><path d="M119.1 102.1L122.6 102.1L126.2 102.1L129.7 102.1L133.2 102.1L133.2 106.1L133.3 110.1L133.5 114.2L133.7 118.2L133.9 122.2L130.9 123.3L128.0 124.4L125.1 125.5L122.2 126.6L118.8 123.1L115.4 119.6L116.0 116.1L116.7 112.6L117.4 109.1L118.3 105.6Z" fill="#faf6bb" filter="url(#f18)"/><path d="M110.8 135.4L113.7 135.4L116.5 135.4L119.4 135.4L122.3 135.4L125.2 135.4L124.5 131.9L124.0 128.4L123.5 124.9L123.2 121.4L122.9 117.9L119.8 117.9L116.8 117.9L113.7 117.9L110.6 117.9L107.6 117.9L108.0 121.4L108.5 124.9L109.1 128.4L109.9 131.9Z" fill="#d7141b" filter="url(#f19)"/><path d="M110.8 135.4L113.7 135.4L116.5 135.4L119.4 135.4L122.3 135.4L125.2 135.4L124.5 131.9L124.0 128.4L123.5 124.9L123.2 121.4L122.9 117.9L119.8 117.9L116.8 117.9L113.7 117.9L110.6 117.9L107.6 117.9L108.0 121.4L108.5 124.9L109.1 128.4L109.9 131.9Z" fill="#f4a31b" filter="url(#f20)"/><path d="M110.8 135.4L113.7 135.4L116.5 135.4L119.4 135.4L122.3 135.4L125.2 135.4L124.5 131.9L124.0 128.4L123.5 124.9L123.2 121.4L122.9 117.9L119.8 117.9L116.8 117.9L113.7 117.9L110.6 117.9L107.6 117.9L108.0 121.4L108.5 124.9L109.1 128.4L109.9 131.9Z" fill="#faf6bb" filter="url(#f21)"/><path d="M98.9 97.7L102.0 97.7L105.1 97.7L108.2 97.7L111.3 97.7L114.5 97.7L114.6 93.3L114.8 88.9L111.7 88.9L108.6 88.9L105.5 88.9L102.4 88.9L99.3 88.9L99.0 93.3Z" fill="#d7141b" filter="url(#f22)"/><path d="M98.9 97.7L102.0 97.7L105.1 97.7L108.2 97.7L111.3 97.7L114.5 97.7L117.6 97.7L120.7 97.7L120.8 93.3L121.0 88.9L117.9 88.9L114.8 88.9L111.7 88.9L108.6 88.9L105.5 88.9L102.4 88.9L99.3 88.9L99.0 93.3Z" fill="#f4a31b" filter="url(#f23)"/><path d="M151.6 68.7L154.7 68.7L157.8 68.7L160.8 68.7L163.9 68.7L166.9 68.7L170.0 68.7L173.1 68.7L176.1 68.7L179.2 68.7L182.2 68.7L185.3 68.7L188.4 68.7L191.4 68.7L194.5 68.7L197.5 68.7L200.6 68.7L203.7 68.7L202.8 64.9L201.8 61.1L200.6 57.4L199.3 53.8L197.9 50.2L196.4 46.7L193.8 46.7L191.3 46.7L188.7 46.7L186.2 46.7L183.6 46.7L181.1 46.7L178.5 46.7L176.0 46.7L173.4 46.7L170.8 46.7L168.3 46.7L165.7 46.7L163.2 46.7L160.6 46.7L158.1 46.7L155.5 46.7L153.0 46.7L152.7 50.2L152.4 53.8L152.2 57.4L152.0 61.1L151.8 64.9Z" fill="#faf6bb" filter="url(#f24)"/><path d="M151.9 63.5L154.8 63.5L157.8 63.5L160.8 63.5L163.8 63.5L166.7 63.5L169.7 63.5L172.7 63.5L175.6 63.5L178.6 63.5L181.6 63.5L184.6 63.5L187.5 63.5L190.5 63.5L193.5 63.5L196.4 63.5L199.4 63.5L202.4 63.5L201.4 60.0L200.3 56.6L199.1 53.2L197.8 49.9L196.4 46.7L194.9 43.6L193.4 40.6L191.0 40.6L188.7 40.6L186.3 40.6L184.0 40.6L181.6 40.6L179.3 40.6L177.0 40.6L174.6 40.6L172.3 40.6L169.9 40.6L167.6 40.6L165.2 40.6L162.9 40.6L160.6 40.6L158.2 40.6L155.9 40.6L153.5 40.6L153.2 43.6L153.0 46.7L152.7 49.9L152.5 53.2L152.2 56.6L152.1 60.0Z" fill="#6ab72f" filter="url(#f25)"/><path d="M151.6 68.7L154.7 68.7L157.8 68.7L160.8 68.7L163.9 68.7L166.9 68.7L170.0 68.7L173.1 68.7L176.1 68.7L179.2 68.7L182.2 68.7L185.3 68.7L188.4 68.7L191.4 68.7L194.5 68.7L197.5 68.7L200.6 68.7L203.7 68.7L202.8 64.9L201.8 61.1L200.6 57.4L199.3 53.8L197.9 50.2L196.4 46.7L193.8 46.7L191.3 46.7L188.7 46.7L186.2 46.7L183.6 46.7L181.1 46.7L178.5 46.7L176.0 46.7L173.4 46.7L170.8 46.7L168.3 46.7L165.7 46.7L163.2 46.7L160.6 46.7L158.1 46.7L155.5 46.7L153.0 46.7L152.7 50.2L152.4 53.8L152.2 57.4L152.0 61.1L151.8 64.9Z" fill="#d7141b" filter="url(#f26)"/><path d="M151.6 69.6L154.5 69.6L157.5 69.6L160.4 69.6L163.4 69.6L166.3 69.6L169.3 69.6L172.2 69.6L175.2 69.6L178.1 69.6L181.0 69.6L184.0 69.6L186.9 69.6L189.9 69.6L192.8 69.6L192.1 65.2L191.2 60.9L188.4 60.9L185.6 60.9L182.8 60.9L180.0 60.9L177.2 60.9L174.4 60.9L171.6 60.9L168.8 60.9L166.0 60.9L163.2 60.9L160.4 60.9L157.6 60.9L154.8 60.9L152.0 60.9L151.8 65.2Z" fill="#d7141b" filter="url(#f27)"/><path d="M151.6 69.6L154.5 69.6L157.5 69.6L160.4 69.6L163.4 69.6L166.3 69.6L169.3 69.6L172.2 69.6L175.2 69.6L178.1 69.6L181.0 69.6L184.0 69.6L186.9 69.6L189.9 69.6L192.8 69.6L192.1 65.2L191.2 60.9L188.4 60.9L185.6 60.9L182.8 60.9L180.0 60.9L177.2 60.9L174.4 60.9L171.6 60.9L168.8 60.9L166.0 60.9L163.2 60.9L160.4 60.9L157.6 60.9L154.8 60.9L152.0 60.9L151.8 65.2Z" fill="#f4a31b" filter="url(#f28)"/><path d="M145.8 85.4L148.9 85.4L152.0 85.4L155.1 85.4L158.2 85.4L161.2 85.4L164.3 85.4L167.4 85.4L170.5 85.4L173.6 85.4L176.6 85.4L179.7 85.4L182.8 85.4L185.9 85.4L189.0 85.4L188.8 81.7L188.5 78.0L188.2 74.3L187.8 70.6L187.3 66.9L184.4 66.9L181.5 66.9L178.6 66.9L175.7 66.9L172.8 66.9L169.9 66.9L167.0 66.9L164.1 66.9L161.2 66.9L158.2 66.9L155.3 66.9L152.4 66.9L149.5 66.9L146.6 66.9L146.4 70.6L146.2 74.3L146.0 78.0L145.9 81.7Z" fill="#f4a31b" filter="url(#f29)"/><path d="M165.8 77.5L168.8 77.5L171.8 77.5L174.8 77.5L177.9 77.5L180.9 77.5L183.9 77.5L187.0 77.5L186.7 74.0L186.3 70.5L183.3 70.5L180.4 70.5L177.4 70.5L174.5 70.5L171.5 70.5L168.6 70.5L165.6 70.5L165.7 74.0Z" fill="#f4a31b" filter="url(#f30)"/><path d="M150.7 74.0L154.2 74.0L157.6 74.0L161.0 74.0L164.5 74.0L167.9 74.0L167.8 70.5L167.7 66.9L164.3 66.9L161.0 66.9L157.7 66.9L154.3 66.9L151.0 66.9L150.8 70.5Z" fill="#d7141b" filter="url(#f31)"/><path d="M150.7 74.0L154.2 74.0L157.6 74.0L161.0 74.0L164.5 74.0L167.9 74.0L167.8 70.5L167.7 66.9L164.3 66.9L161.0 66.9L157.7 66.9L154.3 66.9L151.0 66.9L150.8 70.5Z" fill="#f4a31b" filter="url(#f32)"/><path d="M145.7 94.2L149.2 93.8L152.7 93.5L156.2 93.2L159.7 92.8L162.8 92.9L165.9 93.0L169.0 93.1L172.1 93.2L175.3 93.3L178.4 93.8L181.5 94.3L184.6 94.9L187.7 95.4L190.9 95.9L191.6 92.0L192.2 88.0L188.8 87.9L185.4 87.8L182.0 87.7L178.6 87.7L175.2 87.6L172.1 87.5L169.0 87.4L165.9 87.3L162.8 87.2L159.7 87.1L156.2 86.7L152.8 86.3L149.3 85.8L145.8 85.4L145.7 89.8Z" fill="#d7141b" filter="url(#f33)"/><path d="M145.7 92.8L148.9 93.0L152.1 93.2L155.3 93.5L158.6 93.7L161.8 93.9L165.0 94.1L168.2 94.3L171.4 94.5L174.7 94.7L177.9 94.9L181.1 95.1L184.3 95.3L187.5 95.5L190.8 95.7L194.0 95.9L193.9 92.0L193.7 88.0L190.5 87.9L187.3 87.7L184.1 87.6L180.9 87.4L177.7 87.3L174.5 87.1L171.3 87.0L168.1 86.8L165.0 86.7L161.8 86.5L158.6 86.4L155.4 86.3L152.2 86.1L149.0 86.0L145.8 85.8L145.8 89.3Z" fill="#f4a31b" filter="url(#f34)"/><path d="M148.0 96.8L151.5 96.8L155.0 96.8L158.5 96.8L162.0 96.8L165.5 96.8L169.1 96.8L169.0 92.8L165.5 92.8L162.0 92.8L158.5 92.8L155.0 92.8L151.5 92.8L148.0 92.8Z" fill="#d7141b" filter="url(#f35)"/><path d="M165.9 105.6L169.0 105.6L172.2 105.6L175.3 105.6L178.4 105.6L181.5 105.6L181.6 100.7L181.5 95.9L178.4 95.9L175.3 95.9L172.2 95.9L169.1 95.9L165.9 95.9L165.9 100.7Z" fill="#d7141b" filter="url(#f36)"/><path d="M181.4 110.8L185.0 110.8L188.6 110.8L192.3 110.8L192.4 107.3L192.4 103.8L192.5 100.3L192.4 96.8L192.4 93.3L188.7 93.3L185.1 93.3L181.5 93.3L181.5 96.8L181.6 100.3L181.5 103.8L181.5 107.3Z" fill="#d7141b" filter="url(#f37)"/><path d="M181.4 110.8L185.0 110.8L188.6 110.8L192.3 110.8L192.4 107.0L192.5 103.2L192.5 99.4L192.4 95.6L192.3 91.8L192.2 88.0L188.6 88.0L185.0 88.0L181.4 88.0L181.5 91.8L181.5 95.6L181.5 99.4L181.5 103.2L181.5 107.0Z" fill="#f4a31b" filter="url(#f38)"/><path d="M167.2 124.9L170.2 124.9L173.3 124.9L176.3 124.9L179.3 124.9L182.3 124.9L185.3 124.9L188.3 124.9L191.3 124.9L191.7 121.0L191.9 117.2L192.2 113.3L192.3 109.4L192.4 105.6L189.3 105.6L186.2 105.6L183.1 105.6L180.0 105.6L176.8 105.6L173.7 105.6L170.6 105.6L167.5 105.6L167.5 109.4L167.4 113.3L167.4 117.2L167.3 121.0Z" fill="#d7141b" filter="url(#f39)"/><path d="M167.2 124.9L170.2 124.9L173.3 124.9L176.3 124.9L179.3 124.9L182.3 124.9L185.3 124.9L188.3 124.9L191.3 124.9L191.7 121.0L191.9 117.2L192.2 113.3L192.3 109.4L192.4 105.6L189.3 105.6L186.2 105.6L183.1 105.6L180.0 105.6L176.8 105.6L173.7 105.6L170.6 105.6L167.5 105.6L167.5 109.4L167.4 113.3L167.4 117.2L167.3 121.0Z" fill="#f4a31b" filter="url(#f40)"/><path d="M167.2 124.9L170.2 124.9L173.3 124.9L176.3 124.9L179.3 124.9L182.3 124.9L185.3 124.9L188.3 124.9L191.3 124.9L191.7 121.0L191.9 117.2L192.2 113.3L192.3 109.4L192.4 105.6L189.3 105.6L186.2 105.6L183.1 105.6L180.0 105.6L176.8 105.6L173.7 105.6L170.6 105.6L167.5 105.6L167.5 109.4L167.4 113.3L167.4 117.2L167.3 121.0Z" fill="#faf6bb" filter="url(#f41)"/><path d="M170.0 131.9L172.9 131.9L175.8 131.9L178.7 131.9L181.7 131.9L184.6 131.9L185.0 128.4L185.3 124.9L182.3 124.9L179.3 124.9L176.3 124.9L173.3 124.9L170.2 124.9L170.1 128.4Z" fill="#f4a31b" filter="url(#f42)"/><path d="M191.4 124.0L195.2 124.0L199.0 124.0L199.3 120.5L199.6 117.0L199.9 113.5L200.1 110.0L196.2 110.0L192.3 110.0L192.2 113.5L192.0 117.0L191.7 120.5Z" fill="#d7141b" filter="url(#f43)"/><path d="M191.4 124.0L195.2 124.0L199.0 124.0L199.3 120.5L199.6 117.0L199.9 113.5L200.1 110.0L196.2 110.0L192.3 110.0L192.2 113.5L192.0 117.0L191.7 120.5Z" fill="#f4a31b" filter="url(#f44)"/><path d="M186.1 89.8L189.4 89.8L192.8 89.8L196.1 89.8L199.5 89.8L202.9 89.8L206.2 89.8L206.0 86.1L205.7 82.4L205.3 78.7L204.8 75.0L204.2 71.3L201.0 71.3L197.7 71.3L194.5 71.3L191.3 71.3L188.1 71.3L184.9 71.3L185.3 75.0L185.5 78.7L185.7 82.4L185.9 86.1Z" fill="#f4a31b" filter="url(#f45)"/><path d="M186.1 89.8L189.4 89.8L192.8 89.8L196.1 89.8L199.5 89.8L202.9 89.8L206.2 89.8L206.0 86.1L205.7 82.4L205.3 78.7L204.8 75.0L204.2 71.3L201.0 71.3L197.7 71.3L194.5 71.3L191.3 71.3L188.1 71.3L184.9 71.3L185.3 75.0L185.5 78.7L185.7 82.4L185.9 86.1Z" fill="#faf6bb" filter="url(#f46)"/><path d="M186.1 89.8L189.4 89.8L192.8 89.8L196.1 89.8L199.5 89.8L202.9 89.8L206.2 89.8L206.0 86.1L205.7 82.4L205.3 78.7L204.8 75.0L204.2 71.3L201.0 71.3L197.7 71.3L194.5 71.3L191.3 71.3L188.1 71.3L184.9 71.3L185.3 75.0L185.5 78.7L185.7 82.4L185.9 86.1Z" fill="#d7141b" filter="url(#f47)"/><path d="M193.6 84.9L197.4 84.9L201.3 84.9L202.4 80.5L198.5 79.4L194.6 78.4Z" fill="#27713a" filter="url(#f48)"/><path d="M178.8 69.1L181.7 69.1L184.7 69.1L187.6 69.1L190.5 69.1L193.5 69.1L192.2 62.6L189.4 62.6L186.6 62.6L183.8 62.6L180.9 62.6L178.1 62.6Z" fill="#d7141b" filter="url(#f49)"/><path d="M178.8 69.1L181.7 69.1L184.7 69.1L187.6 69.1L190.5 69.1L193.5 69.1L192.2 62.6L189.4 62.6L186.6 62.6L183.8 62.6L180.9 62.6L178.1 62.6Z" fill="#f4a31b" filter="url(#f50)"/><path d="M193.1 78.4L196.2 78.4L199.2 78.4L202.2 78.4L205.3 78.4L208.3 78.4L211.3 78.4L214.4 78.4L217.4 78.4L220.5 78.4L223.5 78.4L226.5 78.4L229.6 78.4L228.8 74.5L227.7 70.6L226.4 66.8L224.9 62.9L223.2 59.1L220.5 59.1L217.7 59.1L215.0 59.1L212.2 59.1L209.4 59.1L206.7 59.1L203.9 59.1L201.1 59.1L198.4 59.1L195.6 59.1L192.9 59.1L190.1 59.1L190.9 62.9L191.6 66.8L192.2 70.6L192.7 74.5Z" fill="#d7141b" filter="url(#f51)"/><path d="M193.1 78.4L196.2 78.4L199.2 78.4L202.2 78.4L205.3 78.4L208.3 78.4L211.3 78.4L214.4 78.4L217.4 78.4L220.5 78.4L223.5 78.4L226.5 78.4L229.6 78.4L228.8 74.5L227.7 70.6L226.4 66.8L224.9 62.9L223.2 59.1L220.5 59.1L217.7 59.1L215.0 59.1L212.2 59.1L209.4 59.1L206.7 59.1L203.9 59.1L201.1 59.1L198.4 59.1L195.6 59.1L192.9 59.1L190.1 59.1L190.9 62.9L191.6 66.8L192.2 70.6L192.7 74.5Z" fill="#f4a31b" filter="url(#f52)"/><path d="M193.1 78.4L196.2 78.4L199.2 78.4L202.2 78.4L205.3 78.4L208.3 78.4L211.3 78.4L214.4 78.4L217.4 78.4L220.5 78.4L223.5 78.4L226.5 78.4L229.6 78.4L228.8 74.5L227.7 70.6L226.4 66.8L224.9 62.9L223.2 59.1L220.5 59.1L217.7 59.1L215.0 59.1L212.2 59.1L209.4 59.1L206.7 59.1L203.9 59.1L201.1 59.1L198.4 59.1L195.6 59.1L192.9 59.1L190.1 59.1L190.9 62.9L191.6 66.8L192.2 70.6L192.7 74.5Z" fill="#faf6bb" filter="url(#f53)"/><path d="M212.7 95.0L216.1 95.0L219.5 95.0L223.0 95.0L226.4 95.0L229.8 95.0L229.6 91.0L229.2 87.0L228.7 82.9L228.1 78.9L227.3 74.8L224.0 74.8L220.7 74.8L217.4 74.8L214.1 74.8L210.8 74.8L211.4 78.9L211.8 82.9L212.2 87.0L212.5 91.0Z" fill="#faf6bb" filter="url(#f54)"/><path d="M212.7 95.0L216.1 95.0L219.5 95.0L223.0 95.0L226.4 95.0L229.8 95.0L229.6 91.0L229.2 87.0L228.7 82.9L228.1 78.9L227.3 74.8L224.0 74.8L220.7 74.8L217.4 74.8L214.1 74.8L210.8 74.8L211.4 78.9L211.8 82.9L212.2 87.0L212.5 91.0Z" fill="#d7141b" filter="url(#f55)"/><path d="M212.7 95.0L216.1 95.0L219.5 95.0L223.0 95.0L226.4 95.0L229.8 95.0L229.6 91.0L229.2 87.0L228.7 82.9L228.1 78.9L227.3 74.8L224.0 74.8L220.7 74.8L217.4 74.8L214.1 74.8L210.8 74.8L211.4 78.9L211.8 82.9L212.2 87.0L212.5 91.0Z" fill="#f4a31b" filter="url(#f56)"/><path d="M228.6 81.9L231.9 81.9L235.3 81.9L238.6 81.9L242.0 81.9L245.3 81.9L248.7 81.9L252.0 81.9L255.4 81.9L254.6 78.2L253.5 74.5L252.2 70.9L250.6 67.2L248.7 63.6L246.6 60.0L243.5 60.0L240.5 60.0L237.5 60.0L234.4 60.0L231.4 60.0L228.3 60.0L225.3 60.0L222.3 60.0L223.8 63.6L225.1 67.2L226.3 70.9L227.3 74.5L228.0 78.2Z" fill="#d7141b" filter="url(#f57)"/><path d="M228.6 81.9L231.9 81.9L235.3 81.9L238.6 81.9L242.0 81.9L245.3 81.9L248.7 81.9L252.0 81.9L255.4 81.9L254.6 78.2L253.5 74.5L252.2 70.9L250.6 67.2L248.7 63.6L246.6 60.0L243.5 60.0L240.5 60.0L237.5 60.0L234.4 60.0L231.4 60.0L228.3 60.0L225.3 60.0L222.3 60.0L223.8 63.6L225.1 67.2L226.3 70.9L227.3 74.5L228.0 78.2Z" fill="#f4a31b" filter="url(#f58)"/><path d="M228.6 81.9L231.9 81.9L235.3 81.9L238.6 81.9L242.0 81.9L245.3 81.9L248.7 81.9L252.0 81.9L255.4 81.9L254.6 78.2L253.5 74.5L252.2 70.9L250.6 67.2L248.7 63.6L246.6 60.0L243.5 60.0L240.5 60.0L237.5 60.0L234.4 60.0L231.4 60.0L228.3 60.0L225.3 60.0L222.3 60.0L223.8 63.6L225.1 67.2L226.3 70.9L227.3 74.5L228.0 78.2Z" fill="#faf6bb" filter="url(#f59)"/><path d="M247.2 71.3L250.1 71.3L253.1 71.3L256.1 71.3L259.0 71.3L262.0 71.3L265.0 71.3L267.9 71.3L265.8 67.2L263.3 63.0L260.4 58.9L257.1 54.9L254.4 54.9L251.8 54.9L249.1 54.9L246.4 54.9L243.8 54.9L241.1 54.9L238.4 54.9L241.1 58.9L243.4 63.0L245.5 67.2Z" fill="#d7141b" filter="url(#f60)"/><path d="M247.2 71.3L250.1 71.3L253.1 71.3L256.1 71.3L259.0 71.3L262.0 71.3L265.0 71.3L267.9 71.3L265.8 67.2L263.3 63.0L260.4 58.9L257.1 54.9L254.4 54.9L251.8 54.9L249.1 54.9L246.4 54.9L243.8 54.9L241.1 54.9L238.4 54.9L241.1 58.9L243.4 63.0L245.5 67.2Z" fill="#faf6bb" filter="url(#f61)"/><path d="M231.4 95.9L234.9 95.9L238.4 95.9L241.9 95.9L245.4 95.9L245.2 92.0L244.8 88.0L244.2 84.1L243.6 80.1L240.1 80.1L236.7 80.1L233.3 80.1L229.8 80.1L230.4 84.1L230.9 88.0L231.2 92.0Z" fill="#d7141b" filter="url(#f62)"/><path d="M231.4 95.9L234.9 95.9L238.4 95.9L241.9 95.9L245.4 95.9L245.2 92.0L244.8 88.0L244.2 84.1L243.6 80.1L240.1 80.1L236.7 80.1L233.3 80.1L229.8 80.1L230.4 84.1L230.9 88.0L231.2 92.0Z" fill="#f4a31b" filter="url(#f63)"/><path d="M231.4 95.9L234.9 95.9L238.4 95.9L241.9 95.9L245.4 95.9L245.2 92.0L244.8 88.0L244.2 84.1L243.6 80.1L240.1 80.1L236.7 80.1L233.3 80.1L229.8 80.1L230.4 84.1L230.9 88.0L231.2 92.0Z" fill="#faf6bb" filter="url(#f64)"/><path d="M232.7 110.0L235.9 110.0L239.1 110.0L242.3 110.0L245.5 110.0L248.7 110.0L251.9 110.0L255.2 110.0L258.4 110.0L261.6 110.0L264.8 110.0L268.0 110.0L271.2 110.0L274.5 110.0L277.7 110.0L278.1 105.8L278.3 101.6L278.2 97.4L278.0 93.3L274.7 93.3L271.5 93.3L268.3 93.3L265.1 93.3L261.8 93.3L258.6 93.3L255.4 93.3L252.2 93.3L248.9 93.3L245.7 93.3L242.5 93.3L239.3 93.3L236.1 93.3L232.8 93.3L233.0 97.4L233.0 101.6L232.9 105.8Z" fill="#d7141b" filter="url(#f65)"/><path d="M232.7 110.0L235.9 110.0L239.1 110.0L242.3 110.0L245.5 110.0L248.7 110.0L251.9 110.0L255.2 110.0L258.4 110.0L261.6 110.0L264.8 110.0L268.0 110.0L271.2 110.0L274.5 110.0L277.7 110.0L278.1 105.8L278.3 101.6L278.2 97.4L278.0 93.3L274.7 93.3L271.5 93.3L268.3 93.3L265.1 93.3L261.8 93.3L258.6 93.3L255.4 93.3L252.2 93.3L248.9 93.3L245.7 93.3L242.5 93.3L239.3 93.3L236.1 93.3L232.8 93.3L233.0 97.4L233.0 101.6L232.9 105.8Z" fill="#f4a31b" filter="url(#f66)"/><path d="M250.1 96.8L253.3 96.8L256.4 96.8L259.5 96.8L259.3 93.3L258.9 89.8L258.5 86.3L257.8 82.7L254.8 82.7L251.7 82.7L248.6 82.7L249.2 86.3L249.6 89.8L249.9 93.3Z" fill="#d7141b" filter="url(#f67)"/><path d="M176.9 42.1L179.4 42.2L181.9 42.3L184.4 42.4L186.9 42.5L189.4 42.6L192.0 42.7L194.5 42.8L196.7 42.7L199.0 42.5L201.2 42.4L203.4 42.2L205.6 42.1L207.8 41.9L210.0 41.8L212.1 41.6L214.3 41.5L216.4 41.3L218.7 41.3L221.0 41.3L223.2 41.3L225.5 41.3L227.8 41.3L230.0 41.3L232.3 41.3L234.6 41.3L236.9 41.3L239.1 41.3L241.8 41.6L244.4 41.9L247.1 42.2L249.8 42.5L252.5 42.8L255.3 43.1L258.0 43.4L260.8 43.7L263.6 44.0L266.4 44.3L261.5 41.1L256.2 38.1L250.3 35.2L244.2 32.8L242.3 32.8L240.4 32.8L238.5 32.8L236.6 32.8L234.7 32.8L232.8 32.8L230.9 32.8L229.0 32.8L227.1 32.8L225.2 32.8L223.3 32.8L221.4 32.8L219.5 32.8L217.6 32.8L215.7 32.8L213.8 32.8L211.9 32.8L210.0 32.8L208.1 32.8L206.2 32.8L204.3 32.8L202.3 32.8L200.4 32.8L198.5 32.8L196.6 32.8L194.7 32.8L192.8 32.8L190.9 32.8L189.0 32.8L187.1 32.8L185.2 32.8L183.3 32.8L181.4 32.8L179.5 32.8L177.6 32.8L175.7 32.8L173.8 32.8L174.9 35.5L176.0 38.7Z" fill="#faf6bb" filter="url(#f68)"/><path d="M200.3 56.6L203.1 56.6L205.8 56.6L208.5 56.6L211.2 56.6L213.9 56.6L216.6 56.6L219.3 56.6L222.0 56.6L224.7 56.6L227.4 56.6L230.2 56.6L232.9 56.6L235.6 56.6L238.3 56.6L241.0 56.6L243.7 56.6L246.4 56.6L249.1 56.6L251.8 56.6L254.5 56.6L257.3 56.6L260.0 56.6L262.7 56.6L265.4 56.6L268.1 56.6L270.8 56.6L273.5 56.6L276.2 56.6L278.9 56.6L281.6 56.6L277.5 52.8L272.9 49.1L268.1 45.5L263.0 42.1L260.7 42.1L258.4 42.1L256.1 42.1L253.8 42.1L251.5 42.1L249.2 42.1L246.9 42.1L244.6 42.1L242.3 42.1L240.0 42.1L237.7 42.1L235.4 42.1L233.1 42.1L230.8 42.1L228.5 42.1L226.3 42.1L224.0 42.1L221.7 42.1L219.4 42.1L217.1 42.1L214.8 42.1L212.5 42.1L210.2 42.1L207.9 42.1L205.6 42.1L203.3 42.1L201.0 42.1L198.7 42.1L196.4 42.1L194.1 42.1L195.8 45.5L197.4 49.1L199.0 52.8Z" fill="#6ab72f" filter="url(#f69)"/><path d="M180.0 56.6L182.9 56.6L185.8 56.6L188.7 56.6L191.6 56.6L194.5 56.6L197.4 56.6L200.3 56.6L199.0 52.8L197.4 49.1L195.8 45.5L194.1 42.1L191.7 42.1L189.2 42.1L186.7 42.1L184.3 42.1L181.8 42.1L179.4 42.1L176.9 42.1L177.8 45.5L178.6 49.1L179.3 52.8Z" fill="#6ab72f" filter="url(#f70)"/><path d="M200.3 56.6L203.1 56.6L205.8 56.6L208.5 56.6L211.2 56.6L213.9 56.6L216.6 56.6L219.3 56.6L222.0 56.6L224.7 56.6L227.4 56.6L230.2 56.6L232.9 56.6L235.6 56.6L238.3 56.6L241.0 56.6L243.7 56.6L246.4 56.6L249.1 56.6L251.8 56.6L254.5 56.6L257.3 56.6L260.0 56.6L262.7 56.6L265.4 56.6L268.1 56.6L270.8 56.6L273.5 56.6L276.2 56.6L278.9 56.6L281.6 56.6L277.5 52.8L272.9 49.1L268.1 45.5L263.0 42.1L260.7 42.1L258.4 42.1L256.1 42.1L253.8 42.1L251.5 42.1L249.2 42.1L246.9 42.1L244.6 42.1L242.3 42.1L240.0 42.1L237.7 42.1L235.4 42.1L233.1 42.1L230.8 42.1L228.5 42.1L226.3 42.1L224.0 42.1L221.7 42.1L219.4 42.1L217.1 42.1L214.8 42.1L212.5 42.1L210.2 42.1L207.9 42.1L205.6 42.1L203.3 42.1L201.0 42.1L198.7 42.1L196.4 42.1L194.1 42.1L195.8 45.5L197.4 49.1L199.0 52.8Z" fill="#faf6bb" filter="url(#f71)"/><path d="M194.0 58.3L196.9 58.3L199.7 58.3L202.6 58.3L205.5 58.3L208.3 58.3L211.2 58.3L214.0 58.3L216.9 58.3L219.7 58.3L222.6 58.3L225.5 58.3L228.3 58.3L231.2 58.3L234.0 58.3L236.9 58.3L239.8 58.3L242.6 58.3L245.5 58.3L243.1 54.9L240.5 51.6L237.8 51.6L235.1 51.6L232.4 51.6L229.7 51.6L227.0 51.6L224.3 51.6L221.6 51.6L218.9 51.6L216.2 51.6L213.5 51.6L210.8 51.6L208.2 51.6L205.5 51.6L202.8 51.6L200.1 51.6L197.4 51.6L194.7 51.6L192.0 51.6L193.1 54.9Z" fill="#f4a31b" filter="url(#f72)"/><path d="M194.5 60.0L197.4 60.0L200.2 60.0L203.1 60.0L206.0 60.0L208.9 60.0L211.8 60.0L214.7 60.0L217.6 60.0L220.5 60.0L223.4 60.0L226.3 60.0L229.2 60.0L232.1 60.0L235.0 60.0L237.9 60.0L240.8 60.0L243.7 60.0L246.6 60.0L244.1 56.2L241.2 52.4L238.5 52.4L235.7 52.4L233.0 52.4L230.3 52.4L227.6 52.4L224.9 52.4L222.2 52.4L219.4 52.4L216.7 52.4L214.0 52.4L211.3 52.4L208.6 52.4L205.9 52.4L203.2 52.4L200.4 52.4L197.7 52.4L195.0 52.4L192.3 52.4L193.4 56.2Z" fill="#d7141b" filter="url(#f73)"/><path d="M261.3 49.9L263.8 49.9L266.3 49.9L268.9 49.9L271.4 49.9L273.9 49.9L269.7 46.7L265.3 43.6L260.7 40.6L258.4 40.6L256.2 40.6L253.9 40.6L251.7 40.6L249.4 40.6L253.6 43.6L257.5 46.7Z" fill="#faf6bb" filter="url(#f74)"/><path d="M238.8 135.4L241.8 135.4L244.7 135.4L247.7 135.4L250.6 135.4L253.5 135.4L256.5 135.4L259.4 135.4L262.4 135.4L265.3 135.4L268.3 135.4L271.2 135.4L273.4 131.7L275.2 127.9L276.7 124.1L277.9 120.4L278.8 116.6L279.6 112.8L280.1 109.1L277.0 109.1L273.8 109.1L270.6 109.1L267.4 109.1L264.2 109.1L261.1 109.1L257.9 109.1L254.7 109.1L251.5 109.1L248.3 109.1L245.2 109.1L244.8 112.8L244.2 116.6L243.6 120.4L242.8 124.1L241.7 127.9L240.4 131.7Z" fill="#f4a31b" filter="url(#f75)"/><path d="M238.8 135.4L241.8 135.4L244.7 135.4L247.7 135.4L250.6 135.4L253.5 135.4L256.5 135.4L259.4 135.4L262.4 135.4L265.3 135.4L268.3 135.4L271.2 135.4L273.4 131.7L275.2 127.9L276.7 124.1L277.9 120.4L278.8 116.6L279.6 112.8L280.1 109.1L277.0 109.1L273.8 109.1L270.6 109.1L267.4 109.1L264.2 109.1L261.1 109.1L257.9 109.1L254.7 109.1L251.5 109.1L248.3 109.1L245.2 109.1L244.8 112.8L244.2 116.6L243.6 120.4L242.8 124.1L241.7 127.9L240.4 131.7Z" fill="#d7141b" filter="url(#f76)"/><path d="M248.6 129.3L251.6 129.3L254.6 129.3L257.5 129.3L260.5 129.3L263.5 129.3L266.4 129.3L269.4 129.3L270.5 125.5L271.2 121.7L271.6 117.9L268.6 117.6L265.6 117.4L262.6 117.2L259.5 117.0L255.3 119.2L251.0 121.4L250.0 125.3Z" fill="#27713a" filter="url(#f77)"/><path d="M272.9 142.3L276.4 142.3L279.8 142.3L283.2 142.3L287.0 138.0L290.4 133.7L293.1 129.3L289.4 129.3L285.7 129.3L282.0 129.3L279.5 133.7L276.4 138.0Z" fill="#d7141b" filter="url(#f78)"/><path d="M68.0 35.7L70.1 35.7L72.1 35.7L74.1 35.7L76.2 35.7L78.2 35.7L80.3 35.7L82.3 35.7L84.3 35.7L86.4 35.7L88.4 35.7L90.4 35.7L92.5 35.7L94.5 35.7L96.6 35.7L98.6 35.7L100.6 35.7L102.7 35.7L104.7 35.7L106.7 35.7L108.8 35.7L110.8 35.7L112.8 35.7L114.9 35.7L116.9 35.7L119.0 35.7L121.0 35.7L123.0 35.7L125.1 35.7L127.1 35.7L129.1 35.7L131.2 35.7L133.2 35.7L135.3 35.7L137.3 35.7L139.3 35.7L141.4 35.7L143.4 35.7L145.4 35.7L147.5 35.7L149.5 35.7L151.6 35.7L153.6 35.7L155.6 35.7L157.7 35.7L159.7 35.7L161.7 35.7L163.8 35.7L165.8 35.7L167.8 35.7L169.9 35.7L171.9 35.7L174.0 35.7L176.0 35.7L178.0 35.7L180.1 35.7L182.1 35.7L184.1 35.7L186.2 35.7L188.2 35.7L190.3 35.7L192.3 35.7L194.3 35.7L196.4 35.7L198.4 35.7L200.4 35.7L202.5 35.7L204.5 35.7L206.6 35.7L208.6 35.7L210.6 35.7L212.7 35.7L214.7 35.7L216.7 35.7L218.8 35.7L220.8 35.7L222.8 35.7L224.9 35.7L226.9 35.7L229.0 35.7L231.0 35.7L233.0 35.7L235.1 35.7L237.1 35.7L239.1 35.7L241.2 35.7L243.2 35.7L245.3 35.7L247.3 35.7L249.3 35.7L251.4 35.7L245.2 33.1L239.3 31.0L234.5 29.5L232.8 29.5L231.2 29.5L229.5 29.5L227.8 29.5L226.2 29.5L224.5 29.5L222.8 29.5L221.2 29.5L219.5 29.5L217.9 29.5L216.2 29.5L214.5 29.5L212.9 29.5L211.2 29.5L209.5 29.5L207.9 29.5L206.2 29.5L204.6 29.5L202.9 29.5L201.2 29.5L199.6 29.5L197.9 29.5L196.3 29.5L194.6 29.5L192.9 29.5L191.3 29.5L189.6 29.5L187.9 29.5L186.3 29.5L184.6 29.5L183.0 29.5L181.3 29.5L179.6 29.5L178.0 29.5L176.3 29.5L174.7 29.5L173.0 29.5L171.3 29.5L169.7 29.5L168.0 29.5L166.3 29.5L164.7 29.5L163.0 29.5L161.4 29.5L159.7 29.5L158.0 29.5L156.4 29.5L154.7 29.5L153.1 29.5L151.4 29.5L149.7 29.5L148.1 29.5L146.4 29.5L144.7 29.5L143.1 29.5L141.4 29.5L139.8 29.5L138.1 29.5L136.4 29.5L134.8 29.5L133.1 29.5L131.5 29.5L129.8 29.5L128.1 29.5L126.5 29.5L124.8 29.5L123.1 29.5L121.5 29.5L119.8 29.5L118.2 29.5L116.5 29.5L114.8 29.5L113.2 29.5L111.5 29.5L109.9 29.5L108.2 29.5L106.5 29.5L104.9 29.5L103.2 29.5L101.5 29.5L99.9 29.5L98.2 29.5L96.6 29.5L94.9 29.5L93.2 29.5L91.6 29.5L89.9 29.5L88.2 29.5L86.6 29.5L84.9 29.5L80.1 31.0L74.2 33.1Z" fill="#fff"/></g><path d="M25.8 61.5H293.6" stroke="#9a9a9a" stroke-width="0.9" fill="none"/><path d="M159.7 29.5L159.7 31.2L159.7 33.8L159.7 37.0L159.7 40.6L159.7 44.3L159.7 48.3L159.7 52.4L159.7 56.6L159.7 60.9L159.7 65.2L159.7 69.6L159.7 74.0L159.7 78.4L159.7 82.7L159.7 87.1L159.7 91.5L159.7 95.9L159.7 100.3L159.7 104.7L159.7 109.1L159.7 113.5L159.7 117.9L159.7 122.2L159.7 126.6L159.7 131.0L159.7 135.4L159.7 139.7L159.7 144.0L159.7 148.2L159.7 152.3L159.7 156.3L159.7 160.0L159.7 163.6L159.7 166.8L159.7 169.4L159.7 171.1" stroke="#a6a6a6" stroke-width="0.8" fill="none"/><path d="M25.8 140.0H293.6" stroke="#c3ccd2" stroke-width="0.5" fill="none"/><path d="M122.3 29.5L119.5 31.2L116.1 33.8L112.4 37.0L109.2 40.6L106.3 44.3L103.6 48.3L101.0 52.4L98.7 56.6L96.7 60.9L95.0 65.2L93.5 69.6L92.3 74.0L91.3 78.4L90.7 82.7L90.2 87.1L89.8 91.5L89.5 95.9L89.4 100.3L89.5 104.7L89.8 109.1L90.2 113.5L90.7 117.9L91.3 122.2L92.3 126.6L93.5 131.0L95.0 135.4L96.7 139.7L98.7 144.0L101.0 148.2L103.6 152.3L106.3 156.3L109.2 160.0L112.4 163.6L116.1 166.8L119.5 169.4L122.3 171.1" stroke="#c3ccd2" stroke-width="0.5" fill="none" stroke-dasharray="1.2 1.6"/><path d="M197.1 29.5L199.9 31.2L203.3 33.8L207.0 37.0L210.2 40.6L213.1 44.3L215.8 48.3L218.4 52.4L220.7 56.6L222.7 60.9L224.4 65.2L225.9 69.6L227.1 74.0L228.1 78.4L228.7 82.7L229.2 87.1L229.6 91.5L229.9 95.9L229.9 100.3L229.9 104.7L229.6 109.1L229.2 113.5L228.7 117.9L228.1 122.2L227.1 126.6L225.9 131.0L224.4 135.4L222.7 139.7L220.7 144.0L218.4 148.2L215.8 152.3L213.1 156.3L210.2 160.0L207.0 163.6L203.3 166.8L199.9 169.4L197.1 171.1" stroke="#c3ccd2" stroke-width="0.5" fill="none" stroke-dasharray="1.2 1.6"/></g><path d="M234.5 29.5L240.1 31.2L247.0 33.8L254.3 37.0L260.7 40.6L266.4 44.3L271.9 48.3L277.0 52.4L281.6 56.6L285.6 60.9L289.2 65.2L292.1 69.6L294.6 74.0L296.4 78.4L297.7 82.7L298.8 87.1L299.6 91.5L300.0 95.9L300.2 100.3L300.0 104.7L299.6 109.1L298.8 113.5L297.7 117.9L296.4 122.2L294.6 126.6L292.1 131.0L289.2 135.4L285.6 139.7L281.6 144.0L277.0 148.2L271.9 152.3L266.4 156.3L260.7 160.0L254.3 163.6L247.0 166.8L240.1 169.4L234.5 171.1L84.9 171.1L79.3 169.4L72.4 166.8L65.1 163.6L58.7 160.0L53.0 156.3L47.5 152.3L42.4 148.2L37.8 144.0L33.8 139.7L30.2 135.4L27.3 131.0L24.8 126.6L23.0 122.2L21.7 117.9L20.6 113.5L19.8 109.1L19.4 104.7L19.2 100.3L19.4 95.9L19.8 91.5L20.6 87.1L21.7 82.7L23.0 78.4L24.8 74.0L27.3 69.6L30.2 65.2L33.8 60.9L37.8 56.6L42.4 52.4L47.5 48.3L53.0 44.3L58.7 40.6L65.1 37.0L72.4 33.8L79.3 31.2L84.9 29.5Z" fill="none" stroke="#a9a9a9" stroke-width="0.5" stroke-dasharray="1.5 1.8"/><g clip-path="url(#fr2)"><rect x="318.0" y="26.200000000000003" width="282.4" height="143.6" fill="#bde0f4"/><path d="M369.2 163.2L371.9 163.3L374.6 163.4L377.4 163.5L379.8 163.5L382.3 163.5L384.8 163.5L386.7 163.2L388.6 162.9L390.6 162.6L392.6 162.2L394.7 161.9L397.4 162.0L400.1 162.1L402.9 162.2L404.8 161.8L406.8 161.3L409.4 161.3L412.0 161.3L414.8 161.4L417.6 161.6L419.1 160.2L419.6 157.0L420.6 154.7L422.3 153.6L425.0 152.8L424.6 154.0L423.1 155.1L422.4 157.0L425.8 159.8L427.7 161.3L431.0 162.2L434.2 163.2L436.8 163.4L439.4 163.5L441.7 163.2L444.7 161.9L446.6 161.1L448.5 160.2L450.5 159.5L452.6 158.8L456.4 158.1L459.2 157.7L462.0 157.7L464.8 157.7L467.6 157.7L470.4 157.7L473.3 157.3L476.2 157.0L478.4 157.2L480.6 157.3L485.1 155.8L489.6 154.7L492.8 155.5L496.6 155.8L499.1 156.6L501.4 157.3L505.3 155.8L507.8 155.5L510.4 155.1L514.5 155.1L517.5 155.0L520.5 154.9L523.3 155.0L526.1 155.1L529.1 155.0L532.1 154.9L535.2 154.8L538.2 154.7L540.1 155.1L542.0 155.5L544.8 156.4L546.8 157.1L548.8 157.7L550.9 158.8L550.7 159.8L545.7 161.3L541.4 162.9L542.0 163.5L544.4 163.4L546.8 163.3L549.2 163.2L543.6 165.5L538.3 167.4L533.8 168.8L532.2 168.8L530.5 168.8L528.8 168.8L527.2 168.8L525.5 168.8L523.9 168.8L522.2 168.8L520.5 168.8L518.9 168.8L517.2 168.8L515.6 168.8L513.9 168.8L512.3 168.8L510.6 168.8L508.9 168.8L507.3 168.8L505.6 168.8L504.0 168.8L502.3 168.8L500.7 168.8L499.0 168.8L497.3 168.8L495.7 168.8L494.0 168.8L492.4 168.8L490.7 168.8L489.0 168.8L487.4 168.8L485.7 168.8L484.1 168.8L482.4 168.8L480.8 168.8L479.1 168.8L477.4 168.8L475.8 168.8L474.1 168.8L472.5 168.8L470.8 168.8L469.1 168.8L467.5 168.8L465.8 168.8L464.2 168.8L462.5 168.8L460.9 168.8L459.2 168.8L457.5 168.8L455.9 168.8L454.2 168.8L452.6 168.8L450.9 168.8L449.3 168.8L447.6 168.8L445.9 168.8L444.3 168.8L442.6 168.8L441.0 168.8L439.3 168.8L437.6 168.8L436.0 168.8L434.3 168.8L432.7 168.8L431.0 168.8L429.4 168.8L427.7 168.8L426.0 168.8L424.4 168.8L422.7 168.8L421.1 168.8L419.4 168.8L417.7 168.8L416.1 168.8L414.4 168.8L412.8 168.8L411.1 168.8L409.5 168.8L407.8 168.8L406.1 168.8L404.5 168.8L402.8 168.8L401.2 168.8L399.5 168.8L397.9 168.8L396.2 168.8L394.5 168.8L392.9 168.8L391.2 168.8L389.6 168.8L387.9 168.8L386.2 168.8L384.6 168.8L380.1 167.4L374.8 165.5Z" fill="#fff"/><path d="M360.3 41.7L364.7 39.4L372.8 37.4L379.9 38.6L387.7 38.1L393.7 39.4L397.4 39.8L404.2 39.8L407.6 37.2L409.1 39.4L413.0 38.7L412.3 40.5L408.9 41.3L407.2 42.8L402.5 44.4L399.9 46.8L400.1 48.4L404.1 49.8L405.7 50.0L404.8 51.8L406.1 53.0L407.6 50.5L410.1 48.8L409.8 47.0L412.1 44.2L414.5 44.2L416.1 45.2L415.5 47.0L417.7 47.0L419.2 45.8L419.7 48.8L421.7 50.5L422.1 52.6L419.4 54.0L414.7 54.1L411.0 56.8L415.0 55.1L414.6 57.3L416.9 57.7L414.4 59.0L412.7 59.9L412.4 58.6L409.9 59.9L409.1 61.4L406.2 62.5L404.5 64.6L403.4 67.1L401.3 68.3L399.0 70.3L398.7 74.3L398.3 75.9L397.4 75.2L397.0 73.4L396.4 71.7L394.2 71.3L392.3 71.5L392.1 72.4L389.2 71.9L386.3 73.4L385.0 76.9L384.8 80.0L386.4 81.7L389.0 81.8L390.1 79.6L392.8 79.1L391.9 82.0L390.8 84.0L394.5 84.1L395.0 84.9L394.3 88.2L395.2 89.9L397.4 89.7L399.2 90.4L398.5 91.4L396.7 91.6L394.8 90.7L392.8 89.2L391.6 86.6L388.6 85.7L386.5 83.8L384.9 84.2L381.6 82.8L378.5 80.4L378.9 78.2L376.5 75.2L375.0 72.1L374.0 70.2L375.1 76.1L375.7 77.8L374.1 76.1L373.1 73.4L372.6 71.7L372.4 69.5L370.6 67.7L370.3 65.3L370.2 62.6L371.5 60.3L373.4 57.4L374.0 55.6L375.5 55.1L373.7 53.4L374.0 50.5L374.3 47.6L373.0 46.4L370.3 46.0L367.6 45.6L364.2 46.4L361.2 48.0L357.0 49.3L351.8 50.5L354.8 49.3L359.6 47.2L357.5 46.8L357.8 44.8L363.0 42.8L361.1 42.4ZM416.4 35.8L419.7 37.2L421.1 38.3L423.3 40.5L421.3 42.0L418.9 44.4L416.1 44.0L415.2 42.4L412.8 42.4L417.2 40.2L416.1 38.3L411.6 38.3L410.0 37.6L411.1 35.8ZM394.5 37.6L399.8 39.0L402.3 38.7L402.8 36.5L400.0 36.2L396.2 36.2ZM390.6 37.2L392.3 37.6L396.7 36.2L396.9 35.1L393.3 35.4ZM413.1 33.8L419.2 33.8L422.0 32.5L430.1 30.5L426.9 29.9L419.4 30.5L415.0 31.2L415.7 32.8ZM411.0 34.7L417.0 35.1L417.9 34.1L412.7 33.6ZM397.9 34.7L403.6 34.7L405.4 33.8L399.3 33.8ZM411.7 32.8L415.5 32.5L416.3 31.0L412.7 31.5ZM403.2 37.2L406.8 36.9L409.8 35.4L405.5 35.4ZM406.9 43.2L410.5 43.2L411.5 41.7L408.6 41.7ZM418.5 56.2L422.6 57.1L423.2 55.6L422.1 53.0L420.6 53.9ZM394.4 78.7L398.3 77.8L401.9 79.8L402.4 80.4L399.9 80.5L399.7 79.1L396.7 78.4ZM402.1 81.8L404.1 80.6L406.8 81.7L404.3 82.5ZM399.2 90.4L400.7 88.5L403.1 87.6L404.1 87.2L405.0 87.9L406.4 88.6L409.2 89.0L411.2 88.6L412.6 90.5L414.9 92.7L417.2 92.9L419.1 94.1L420.3 96.7L420.3 98.4L422.2 98.6L424.6 100.2L428.1 100.5L430.4 102.2L432.0 103.1L432.2 105.0L430.5 107.7L429.1 109.9L429.2 113.4L428.1 116.9L427.2 118.2L425.0 118.9L422.5 120.8L422.6 123.0L421.2 125.2L419.8 127.8L417.7 128.6L416.2 127.8L417.6 130.0L417.3 131.8L414.5 132.2L414.7 134.0L412.8 134.0L414.1 135.5L413.5 137.4L412.4 138.3L414.0 140.0L412.7 142.1L413.8 143.7L414.0 144.1L416.7 145.7L414.8 146.3L412.2 145.5L409.6 143.4L407.7 140.4L407.6 136.6L406.2 133.1L406.0 130.0L406.1 126.1L405.4 122.6L405.7 118.2L405.3 114.1L403.5 112.7L400.5 110.3L399.2 108.1L397.5 104.6L396.1 103.3L396.0 101.8L396.9 100.6L396.3 98.9L396.9 97.6L397.8 96.7L398.9 94.5L399.0 91.9ZM454.9 66.6L457.7 67.1L461.4 65.7L466.5 65.3L467.2 65.7L466.7 68.2L467.3 68.9L470.5 69.6L473.4 71.4L474.1 70.8L474.2 69.5L476.2 69.4L477.9 70.3L480.8 70.9L483.0 70.5L483.5 71.7L484.4 73.4L486.2 76.9L487.5 79.6L488.0 81.8L489.6 84.4L492.4 86.9L492.7 87.9L494.1 88.8L496.4 88.2L498.8 87.6L498.6 89.2L497.3 92.3L495.8 94.9L493.5 97.1L491.5 99.6L490.1 102.0L489.3 103.7L489.9 105.5L490.6 107.7L490.5 111.2L487.6 113.6L486.0 115.6L486.2 119.1L484.0 120.8L483.6 123.0L481.9 125.2L479.5 127.4L477.6 127.8L473.9 128.6L472.7 128.0L472.6 126.1L471.6 123.2L470.5 120.8L470.2 117.8L468.4 113.8L468.5 111.2L469.8 108.5L469.3 105.9L468.7 103.3L466.6 100.2L466.2 97.6L466.8 95.4L466.0 94.0L463.9 94.2L462.5 92.5L460.0 92.9L457.6 93.8L455.7 93.4L453.4 94.1L452.2 93.6L449.5 91.4L448.7 89.7L447.6 88.3L446.3 87.0L445.7 85.1L446.7 82.2L446.7 80.4L446.2 79.6L447.0 77.2L448.2 75.2L450.2 73.4L451.7 72.1L452.0 70.3L452.9 68.8L454.3 68.0ZM497.3 108.7L498.1 111.6L496.8 113.8L495.2 119.8L493.3 120.4L492.3 118.6L493.0 115.6L493.3 112.5L495.0 111.9L496.3 109.9ZM452.3 65.5L452.5 64.0L452.9 62.0L452.7 60.3L453.6 59.7L457.9 59.9L458.4 57.7L456.1 56.2L456.0 55.6L458.2 55.4L458.0 54.5L459.3 54.7L460.3 53.5L461.5 53.1L462.3 51.8L463.8 51.3L464.9 51.0L464.5 49.7L464.4 48.4L465.9 47.9L465.8 49.3L465.6 50.1L466.4 50.9L468.5 51.0L471.3 50.2L472.1 50.6L472.8 49.8L472.7 48.4L474.7 48.3L473.9 46.6L476.7 46.3L478.0 46.1L476.8 45.6L474.7 45.8L473.2 46.0L472.3 45.2L472.2 43.6L474.2 42.0L473.3 41.4L471.9 42.4L469.8 44.0L469.8 45.2L470.9 46.0L469.7 48.4L469.5 49.1L468.5 49.7L467.6 49.7L467.2 49.0L466.3 47.2L465.8 46.6L464.3 47.5L462.7 47.0L462.3 45.2L463.1 43.8L465.4 42.4L466.8 40.9L467.8 39.6L469.3 38.7L471.5 38.1L473.5 37.6L475.0 37.7L476.5 38.1L476.1 38.6L477.8 38.7L479.6 39.0L482.8 40.2L482.8 41.1L481.4 41.3L478.7 40.8L479.9 42.4L481.3 42.9L481.8 42.4L483.2 42.3L482.7 41.5L483.7 41.0L485.1 41.3L484.4 39.9L484.0 39.4L485.5 39.6L486.1 40.6L486.8 40.0L489.3 39.2L492.8 39.4L493.3 38.4L495.9 38.9L497.9 39.4L496.7 38.3L495.5 36.5L496.6 36.2L498.4 36.4L499.2 37.9L500.9 39.8L501.4 39.9L500.1 37.6L499.1 36.9L499.9 36.5L501.2 36.9L501.6 36.7L502.3 35.8L505.0 35.5L504.8 34.7L508.2 34.1L510.4 33.8L511.6 33.0L513.8 33.6L517.5 34.1L519.7 35.6L517.5 35.6L519.7 35.8L523.3 36.2L525.4 35.7L528.6 36.5L530.8 37.6L531.7 37.2L534.8 37.3L535.1 36.5L539.1 36.6L543.3 37.6L547.3 37.7L549.4 38.6L553.3 38.4L555.7 39.0L557.9 38.4L561.2 39.1L565.7 42.0L567.8 44.0L565.5 44.6L565.3 46.0L562.5 46.0L561.1 46.2L562.4 47.6L563.6 49.3L564.6 50.2L564.9 51.8L564.9 52.8L564.3 53.4L559.6 49.3L558.8 48.0L559.2 45.6L558.7 44.0L557.1 44.6L555.1 44.8L555.4 46.4L552.8 46.3L550.0 46.6L548.3 46.8L547.8 48.8L547.3 50.2L550.6 50.9L552.5 51.8L554.0 54.3L555.4 56.0L555.2 58.1L554.4 59.9L552.6 60.1L551.8 60.8L551.7 61.9L550.8 63.1L553.3 65.5L553.9 66.8L552.3 67.8L551.3 65.7L549.7 64.6L549.1 63.2L548.4 62.9L546.8 63.8L546.7 62.5L545.6 62.1L544.2 63.6L545.5 65.0L546.7 64.8L548.3 65.3L547.3 66.4L546.7 67.3L547.8 67.9L548.6 69.2L549.9 70.3L550.3 71.7L550.5 72.5L550.0 74.1L549.6 75.6L548.7 76.7L547.8 77.8L546.2 78.4L545.6 78.6L544.5 79.0L543.4 79.4L543.5 80.1L542.9 79.1L541.6 79.0L540.8 80.4L540.2 81.4L541.6 83.3L543.1 84.6L543.8 86.7L543.6 87.9L542.3 88.9L541.9 89.7L540.7 90.4L540.5 89.2L539.0 88.2L538.3 87.2L537.1 86.3L536.4 86.1L536.1 88.8L536.7 89.8L537.3 91.6L538.5 92.6L539.6 94.0L539.7 95.8L540.3 96.8L539.8 96.9L538.0 95.5L537.2 93.0L536.6 92.2L535.4 90.5L535.6 89.0L535.4 86.6L534.5 84.4L533.8 83.1L532.7 84.1L531.8 84.0L531.5 81.8L529.9 79.8L529.1 78.2L528.1 78.4L527.1 78.9L525.6 79.3L525.6 80.3L524.3 81.0L522.5 83.4L521.0 84.4L521.1 86.1L521.0 89.0L520.5 89.8L519.9 90.2L519.4 90.9L518.5 89.9L517.6 87.7L516.7 85.7L515.7 83.5L514.9 80.9L514.7 79.4L514.3 79.6L513.3 79.8L511.8 78.5L512.7 77.8L511.3 77.4L510.3 76.7L509.6 75.7L505.8 75.9L502.6 75.6L501.9 74.3L500.3 74.6L497.9 73.5L496.7 71.7L495.7 71.4L495.1 72.1L495.8 73.2L497.1 74.6L497.2 76.1L498.4 76.8L500.2 76.8L501.5 75.2L502.1 76.5L503.8 77.3L504.7 78.3L503.9 80.1L503.4 81.4L501.7 82.8L499.4 84.2L496.8 85.7L494.0 86.8L492.8 86.9L492.2 85.0L492.0 83.5L490.4 80.8L489.1 79.4L487.7 76.8L485.7 73.4L485.4 72.1L484.9 73.6L483.6 71.7L483.2 70.6L484.7 70.6L485.1 69.2L485.6 67.3L485.4 65.7L484.3 65.8L482.9 66.3L481.5 66.1L480.3 65.8L479.1 65.8L478.2 64.4L478.1 63.3L478.5 62.6L479.9 62.0L481.7 61.9L483.0 61.2L484.0 61.2L485.6 62.0L487.4 62.0L488.7 61.6L488.6 60.6L487.0 59.6L485.4 58.8L485.9 57.7L486.2 56.7L485.0 56.8L483.6 57.4L484.6 58.3L484.0 58.7L482.7 59.0L481.9 58.2L482.4 57.7L481.0 57.2L480.0 57.9L479.9 58.6L479.3 59.6L478.9 60.7L479.3 61.6L479.9 61.9L478.8 62.0L477.9 62.2L476.4 62.2L476.3 62.9L475.5 62.6L475.6 63.5L476.6 64.6L476.0 64.8L476.0 66.0L475.4 65.7L474.8 65.1L474.5 64.0L473.2 62.6L473.1 61.3L471.6 60.3L469.7 58.8L469.0 58.6L468.7 58.0L467.8 58.3L467.9 59.3L468.9 60.0L470.6 61.2L472.5 62.7L471.4 62.5L471.2 63.8L470.8 64.6L470.6 64.5L470.7 63.3L470.0 62.7L467.9 61.3L466.6 60.4L466.4 59.5L465.4 59.1L464.5 59.6L463.4 60.2L462.0 59.9L461.4 60.9L461.5 61.4L459.8 62.2L459.0 63.3L459.3 63.9L458.7 64.9L457.7 65.7L455.9 65.8L455.1 66.4L454.5 65.7L453.8 65.3L452.7 65.5ZM357.2 39.1L358.4 40.2L359.7 41.3L356.6 42.4L354.4 41.7L352.7 42.0ZM455.3 54.2L456.8 54.0L460.1 53.3L460.3 52.0L459.3 51.8L459.1 50.5L458.2 49.7L457.4 49.3L457.9 48.0L456.7 48.0L457.2 47.1L456.1 47.1L455.2 48.4L455.8 49.7L456.1 50.2L457.1 50.2L457.2 51.5L456.2 51.5L456.4 52.3L455.7 52.8L457.0 53.1ZM452.5 52.8L455.0 52.4L455.3 50.9L455.5 50.2L454.3 49.8L452.7 50.7L452.9 51.8ZM445.1 41.7L446.4 41.0L448.7 41.1L450.6 41.1L451.2 42.0L450.0 42.7L448.0 43.3L445.7 42.9L446.1 42.3ZM464.7 32.8L467.9 33.6L470.1 32.6L472.3 31.5L468.8 31.2L464.6 31.7ZM487.5 37.2L490.8 37.8L490.0 35.8L491.5 34.4L494.1 33.6L492.7 33.4L489.1 34.1L488.1 35.8ZM505.9 32.1L511.5 32.6L509.0 31.5L504.9 31.0ZM530.5 34.4L535.4 34.9L537.6 34.6L533.0 34.1ZM552.1 50.7L554.2 52.2L556.3 54.7L558.5 57.4L557.7 57.7L555.2 54.3L553.5 52.6ZM558.6 61.2L557.7 58.2L561.5 59.9L560.7 61.2ZM559.6 61.7L561.4 63.3L561.8 65.5L562.5 67.1L561.0 67.5L559.8 67.7L559.2 68.6L557.8 67.7L555.7 68.2L555.6 67.7L556.3 66.8L558.7 66.6L558.8 65.3L559.9 64.6L559.7 62.9ZM555.2 68.6L556.4 68.4L557.0 70.4L556.1 70.6L555.3 69.2ZM556.8 68.2L558.2 68.0L558.4 68.8L557.6 69.2ZM551.2 75.9L551.7 76.4L551.3 78.7L550.6 77.8L550.7 76.5ZM542.5 81.1L543.7 80.4L544.2 80.8L543.3 82.0ZM521.2 89.4L522.7 91.4L522.2 92.7L521.4 92.6L521.1 90.7ZM551.6 81.8L552.9 81.8L553.0 84.0L554.8 85.9L555.0 86.8L553.4 85.9L552.4 85.3L551.6 84.0ZM554.0 91.9L555.0 90.5L556.5 89.4L557.4 91.4L557.1 92.6L556.6 92.9L555.5 92.1ZM553.6 87.6L555.2 87.9L556.4 88.2L556.3 89.2L555.0 89.7L554.2 89.2ZM550.2 90.6L551.8 88.8L551.9 88.2L550.1 90.4ZM533.3 93.1L535.0 93.4L537.3 95.5L540.0 98.0L540.5 99.8L541.7 100.8L541.4 103.1L540.4 103.1L538.8 101.5L537.7 99.9L536.3 97.6L534.8 95.4ZM540.9 104.0L542.1 103.3L543.7 103.9L545.3 103.6L546.8 104.1L548.1 104.8L548.0 105.6L545.4 105.3L543.1 104.8L541.8 104.5ZM544.1 96.7L545.1 96.5L546.0 95.6L547.1 95.2L548.6 93.6L549.9 91.9L550.7 92.6L551.7 93.4L551.0 94.2L550.9 96.2L551.9 97.1L550.9 97.6L550.7 98.9L549.7 99.9L549.6 101.5L548.4 101.5L547.5 100.9L546.2 101.1L545.0 100.5L544.8 99.1L544.1 98.0ZM552.2 101.1L552.5 97.3L553.4 96.9L556.5 96.6L556.0 97.7L553.4 97.6L553.3 98.8L555.1 98.7L553.9 99.8L554.9 101.7L554.3 102.7L553.7 101.7L553.2 100.5L552.8 102.9L552.1 102.8ZM561.2 98.7L563.5 98.7L564.3 100.9L566.5 99.3L568.9 100.3L571.6 101.3L573.5 103.1L574.0 103.9L573.3 104.1L573.7 105.0L575.8 107.0L573.9 106.9L572.5 105.5L571.0 104.8L570.1 106.1L568.6 106.0L567.1 105.1L566.3 105.3L567.0 104.0L566.5 102.8L564.6 101.9L563.1 101.2L562.6 100.5L563.4 99.9L562.0 99.9ZM548.5 105.2L551.6 105.3L554.7 105.3L554.5 105.7L551.5 105.8L548.4 105.7ZM554.9 107.0L555.8 106.1L557.8 105.4L557.3 106.1L555.3 107.0ZM558.5 96.4L559.4 96.9L558.9 98.7ZM574.5 102.9L576.2 102.8L577.7 101.7L577.4 102.6L576.4 103.4L574.6 103.3ZM546.1 117.1L545.2 119.5L545.2 122.1L545.0 124.8L545.1 126.1L543.9 128.1L545.8 128.7L547.6 127.8L550.2 127.8L552.6 126.4L555.1 125.7L556.8 125.7L558.4 126.8L559.0 128.6L560.9 127.0L560.5 128.7L561.2 129.6L561.0 131.4L562.8 132.1L564.7 132.2L566.5 131.2L568.2 130.7L569.9 128.7L571.3 127.0L573.0 125.2L574.5 123.0L575.0 120.4L573.8 118.6L573.1 117.6L572.8 115.7L571.3 114.7L571.4 112.5L571.2 111.0L570.2 110.6L570.0 109.0L569.6 107.5L568.6 109.4L568.2 111.6L567.3 113.4L566.2 113.4L565.3 112.0L563.7 111.2L564.2 109.9L565.0 108.7L564.0 108.5L561.8 108.1L560.5 108.8L559.6 109.9L559.1 111.1L558.1 111.0L557.2 110.2L556.0 110.7L554.6 112.3L553.4 112.9L552.9 114.1L551.8 115.2L550.2 115.6L548.6 116.2L547.3 116.9ZM562.7 133.7L565.1 133.8L564.4 135.0L562.7 136.1L562.0 136.0ZM586.3 128.2L586.6 129.8L587.1 130.5L588.6 131.1L586.5 132.7L583.9 134.5L584.8 132.9L584.4 132.5L585.8 131.4L586.3 130.0ZM582.9 133.5L583.1 134.6L580.8 136.1L579.2 136.8L577.7 138.2L575.6 138.8L574.7 138.3L577.5 136.6L580.3 135.3Z" fill="#27713a"/><path d="M422.8 32.7L428.5 30.7L438.3 30.2L445.5 29.7L449.8 30.5L451.0 31.5L449.5 33.4L449.5 34.7L447.2 36.9L446.9 38.1L443.8 39.6L440.1 40.5L437.4 41.6L435.5 42.0L433.3 44.4L432.5 46.0L430.9 46.0L429.3 45.2L428.7 42.8L428.2 40.5L429.2 39.0L429.1 37.6L429.0 34.4L424.1 34.1Z" fill="#faf6bb"/><path d="M492.0 58.6L494.4 56.8L495.8 57.3L495.8 58.6L494.9 59.0L496.6 61.2L496.9 62.5L498.1 63.3L498.3 65.5L496.3 65.7L494.8 65.1L494.5 62.7L492.8 60.7Z" fill="#bde0f4"/><g clip-path="url(#ld2)"><path d="M353.5 46.0L356.0 45.9L358.6 45.8L361.2 45.8L363.8 45.7L366.4 45.6L369.2 45.8L372.1 46.0L375.0 46.3L377.8 46.5L380.7 46.8L383.9 46.8L387.0 46.8L390.2 46.8L392.7 47.6L395.3 48.4L398.0 49.3L400.7 50.1L403.3 51.3L405.9 52.6L409.1 53.0L412.2 53.4L415.6 53.4L418.9 53.4L422.6 52.6L423.8 49.2L425.1 45.8L426.4 42.5L427.9 39.4L429.4 36.4L431.1 33.6L433.0 31.0L434.7 28.9L432.9 28.9L431.0 28.9L429.2 28.9L427.4 28.9L425.5 28.9L423.7 28.9L421.9 28.9L420.0 28.9L418.2 28.9L416.4 28.9L414.6 28.9L412.7 28.9L410.9 28.9L409.1 28.9L407.2 28.9L405.4 28.9L403.6 28.9L401.7 28.9L399.9 28.9L398.1 28.9L396.2 28.9L394.4 28.9L392.6 28.9L390.8 28.9L388.9 28.9L387.1 28.9L385.3 28.9L383.4 28.9L378.0 31.1L372.4 33.7L367.1 36.5L362.2 39.5L357.7 42.7Z" fill="#faf6bb"/><path d="M351.5 47.6L354.1 47.8L356.6 48.0L359.2 48.2L361.7 48.4L364.3 48.6L366.9 48.8L369.5 49.1L372.2 49.3L374.6 49.4L377.0 49.6L379.5 49.7L381.9 49.9L384.4 50.1L386.9 50.2L389.4 50.4L391.9 50.6L394.4 50.7L396.9 50.9L399.6 51.3L402.2 51.8L404.9 52.2L407.6 52.6L410.3 53.0L413.1 53.4L415.8 53.9L418.6 54.3L419.9 50.9L421.2 47.6L422.6 44.4L420.3 44.2L417.9 44.0L415.6 43.8L413.3 43.6L411.1 43.4L408.8 43.2L406.5 42.9L404.3 42.7L402.0 42.5L399.8 42.3L397.6 42.1L395.4 41.9L393.3 41.7L391.1 41.5L389.0 41.3L386.7 41.2L384.4 41.0L382.1 40.9L379.8 40.8L377.5 40.7L375.3 40.5L373.0 40.4L370.8 40.3L368.5 40.2L366.3 40.0L364.1 39.9L361.9 39.8L356.5 43.6Z" fill="#27713a" filter="url(#f79)"/><path d="M346.0 52.6L348.6 52.7L351.3 52.8L353.9 53.0L356.5 53.1L359.1 53.2L361.8 53.3L364.4 53.4L367.1 53.6L369.8 53.7L372.4 53.8L375.1 53.9L377.8 54.0L380.5 54.2L383.2 54.3L385.9 54.4L388.6 54.5L391.3 54.6L394.0 54.8L396.7 54.9L399.5 55.0L402.2 55.1L405.0 55.3L407.7 55.4L410.5 55.5L413.2 55.6L416.0 55.7L418.8 55.9L421.5 56.0L422.8 52.0L424.2 48.2L425.7 44.4L423.2 44.4L420.7 44.3L418.2 44.2L415.8 44.2L413.3 44.1L410.8 44.1L408.4 44.0L405.9 44.0L403.5 43.9L401.0 43.8L398.6 43.8L396.1 43.7L393.7 43.7L391.3 43.6L388.8 43.6L386.4 43.5L384.0 43.5L381.6 43.4L379.2 43.3L376.7 43.3L374.3 43.2L371.9 43.2L369.5 43.1L367.1 43.1L364.7 43.0L362.3 42.9L360.0 42.9L357.6 42.8L353.5 46.0L349.6 49.3Z" fill="#faf6bb" filter="url(#f80)"/><path d="M383.6 75.2L386.8 75.2L390.0 75.2L393.3 75.2L396.5 75.2L399.7 75.2L402.9 75.2L406.1 75.2L409.3 75.2L410.0 71.1L410.8 67.1L411.8 63.1L413.0 59.1L414.3 55.1L411.4 55.1L408.5 55.1L405.6 55.1L402.7 55.1L399.8 55.1L396.9 55.1L394.1 55.1L391.2 55.1L389.2 59.1L387.4 63.1L385.8 67.1L384.6 71.1Z" fill="#faf6bb" filter="url(#f81)"/><path d="M364.0 75.2L367.2 75.2L370.5 75.2L373.8 75.2L377.1 75.2L380.3 75.2L383.6 75.2L384.6 71.1L385.8 67.1L387.4 63.1L389.2 59.1L391.2 55.1L388.2 55.1L385.3 55.1L382.3 55.1L379.4 55.1L376.4 55.1L373.5 55.1L370.9 59.1L368.7 63.1L366.8 67.1L365.2 71.1Z" fill="#faf6bb" filter="url(#f82)"/><path d="M364.0 75.2L367.0 75.2L370.0 75.2L373.0 75.2L376.1 75.2L379.1 75.2L382.1 75.2L385.1 75.2L388.2 75.2L391.2 75.2L394.2 75.2L397.2 75.2L400.2 75.2L403.3 75.2L406.3 75.2L409.3 75.2L410.0 71.1L410.8 67.1L411.8 63.1L413.0 59.1L414.3 55.1L411.6 55.1L408.8 55.1L406.1 55.1L403.4 55.1L400.7 55.1L398.0 55.1L395.2 55.1L392.5 55.1L389.8 55.1L387.1 55.1L384.4 55.1L381.6 55.1L378.9 55.1L376.2 55.1L373.5 55.1L370.9 59.1L368.7 63.1L366.8 67.1L365.2 71.1Z" fill="#d7141b" filter="url(#f83)"/><path d="M367.5 91.9L370.8 91.9L374.1 91.9L377.3 91.9L380.6 91.9L383.9 91.9L387.1 91.9L390.4 91.9L393.6 91.9L396.9 91.9L400.2 91.9L400.3 88.3L400.6 84.8L401.0 81.3L401.4 77.8L401.9 74.3L398.7 74.3L395.6 74.3L392.4 74.3L389.2 74.3L386.1 74.3L382.9 74.3L379.7 74.3L376.6 74.3L373.4 74.3L370.3 74.3L369.4 77.8L368.8 81.3L368.2 84.8L367.8 88.3Z" fill="#faf6bb" filter="url(#f84)"/><path d="M367.5 91.9L370.8 91.9L374.1 91.9L377.3 91.9L380.6 91.9L383.9 91.9L387.1 91.9L390.4 91.9L393.6 91.9L396.9 91.9L400.2 91.9L400.3 88.3L400.6 84.8L401.0 81.3L401.4 77.8L401.9 74.3L398.7 74.3L395.6 74.3L392.4 74.3L389.2 74.3L386.1 74.3L382.9 74.3L379.7 74.3L376.6 74.3L373.4 74.3L370.3 74.3L369.4 77.8L368.8 81.3L368.2 84.8L367.8 88.3Z" fill="#d7141b" filter="url(#f85)"/><path d="M406.3 146.7L408.9 146.7L411.5 146.7L414.1 146.7L416.6 146.7L419.2 146.7L421.8 146.7L424.4 146.7L427.0 146.7L429.5 146.7L432.1 146.7L434.7 146.7L437.3 146.7L436.6 143.4L435.9 140.0L435.3 136.6L434.8 133.1L434.3 129.6L434.0 126.1L433.6 122.6L433.4 119.1L433.2 115.6L433.0 112.0L432.9 108.5L432.8 105.0L432.7 101.5L432.7 98.0L432.7 94.5L432.8 91.0L432.9 87.5L429.8 87.5L426.7 87.5L423.6 87.5L420.5 87.5L417.4 87.5L414.3 87.5L411.2 87.5L408.1 87.5L405.0 87.5L402.0 87.5L398.9 87.5L395.8 87.5L395.5 91.0L395.4 94.5L395.3 98.0L395.4 101.5L395.5 105.0L395.8 108.5L396.1 112.0L396.5 115.6L396.9 119.1L397.6 122.6L398.3 126.1L399.3 129.6L400.3 133.1L401.6 136.6L403.0 140.0L404.6 143.4Z" fill="#faf6bb" filter="url(#f86)"/><path d="M416.6 128.7L419.6 128.7L422.5 128.7L425.4 128.7L428.4 128.7L431.3 128.7L434.2 128.7L433.9 125.2L433.6 121.7L433.3 118.2L433.1 114.7L433.0 111.2L432.9 107.7L432.8 104.1L432.7 100.6L429.6 100.6L426.5 100.6L423.4 100.6L420.3 100.6L417.2 100.6L414.1 100.6L414.1 104.1L414.3 107.7L414.5 111.2L414.8 114.7L415.1 118.2L415.5 121.7L416.0 125.2Z" fill="#faf6bb" filter="url(#f87)"/><path d="M451.2 66.4L454.1 66.4L457.1 66.4L460.1 66.4L463.1 66.4L466.1 66.4L469.0 66.4L472.0 66.4L475.0 66.4L478.0 66.4L481.0 66.4L483.9 66.4L486.9 66.4L489.9 66.4L489.3 62.8L488.6 59.1L487.9 55.6L487.0 52.0L486.1 48.6L485.1 45.2L482.6 45.2L480.0 45.2L477.5 45.2L475.0 45.2L472.5 45.2L470.0 45.2L467.5 45.2L465.0 45.2L462.5 45.2L460.0 45.2L457.4 45.2L454.9 45.2L452.4 45.2L452.2 48.6L451.9 52.0L451.7 55.6L451.5 59.1L451.3 62.8Z" fill="#faf6bb" filter="url(#f88)"/><path d="M451.2 66.4L454.1 66.4L457.1 66.4L460.1 66.4L463.1 66.4L466.1 66.4L469.0 66.4L472.0 66.4L475.0 66.4L478.0 66.4L481.0 66.4L483.9 66.4L486.9 66.4L489.9 66.4L489.3 62.6L488.6 58.7L487.7 55.0L486.8 51.3L485.8 47.6L483.2 47.6L480.6 47.6L478.1 47.6L475.5 47.6L472.9 47.6L470.3 47.6L467.7 47.6L465.1 47.6L462.6 47.6L460.0 47.6L457.4 47.6L454.8 47.6L452.2 47.6L452.0 51.3L451.7 55.0L451.5 58.7L451.3 62.6Z" fill="#d7141b" filter="url(#f89)"/><path d="M476.8 41.3L479.3 41.3L481.8 41.4L484.3 41.5L486.9 41.5L489.4 41.6L492.0 41.6L494.5 41.7L496.8 41.6L499.1 41.4L501.4 41.3L503.6 41.2L505.9 41.1L508.2 41.0L510.4 40.9L512.6 40.8L514.9 40.7L517.1 40.5L519.4 40.5L521.7 40.5L524.0 40.5L526.4 40.5L528.7 40.5L531.0 40.5L533.3 40.5L535.6 40.5L537.9 40.5L540.2 40.5L543.0 40.9L545.8 41.3L548.7 41.7L551.5 42.0L554.4 42.4L557.2 42.8L560.1 43.2L563.1 43.6L566.0 44.0L569.0 44.4L564.6 41.3L559.9 38.3L554.9 35.4L549.2 32.8L543.6 30.5L541.7 30.5L539.8 30.5L537.9 30.5L536.0 30.5L534.1 30.5L532.2 30.5L530.3 30.5L528.4 30.5L526.5 30.5L524.6 30.5L522.7 30.5L520.8 30.5L518.9 30.5L517.0 30.5L515.1 30.5L513.2 30.5L511.3 30.5L509.4 30.5L507.5 30.5L505.6 30.5L503.7 30.5L501.8 30.5L499.9 30.5L498.0 30.5L496.1 30.5L494.2 30.5L492.3 30.5L490.4 30.5L488.5 30.5L486.6 30.5L484.7 30.5L482.8 30.5L480.9 30.5L479.0 30.5L477.1 30.5L475.2 30.5L473.3 30.5L474.2 32.8L475.1 35.4L476.0 38.3Z" fill="#faf6bb" filter="url(#f90)"/><path d="M482.0 39.4L484.4 39.4L486.8 39.3L489.2 39.2L491.6 39.2L494.0 39.1L496.4 39.1L498.8 39.0L501.1 38.8L503.3 38.5L505.5 38.2L507.7 38.0L509.9 37.7L512.0 37.5L514.1 37.2L516.3 37.3L518.6 37.3L520.8 37.3L523.1 37.4L525.3 37.4L527.6 37.4L529.8 37.5L532.1 37.5L534.3 37.5L536.6 37.6L539.2 37.9L541.8 38.1L544.5 38.4L547.1 38.7L549.8 39.0L552.5 39.3L555.2 39.6L557.9 39.9L560.6 40.2L563.4 40.5L557.4 36.9L550.7 33.4L543.6 30.5L541.7 30.5L539.8 30.5L537.9 30.5L536.1 30.5L534.2 30.5L532.3 30.5L530.4 30.5L528.6 30.5L526.7 30.5L524.8 30.5L522.9 30.5L521.1 30.5L519.2 30.5L517.3 30.5L515.4 30.5L513.6 30.5L511.7 30.5L509.8 30.5L507.9 30.5L506.1 30.5L504.2 30.5L502.3 30.5L500.4 30.5L498.6 30.5L496.7 30.5L494.8 30.5L492.9 30.5L491.1 30.5L489.2 30.5L487.3 30.5L485.4 30.5L483.6 30.5L481.7 30.5L479.8 30.5L477.9 30.5L479.4 33.1L480.7 36.2Z" fill="#faf6bb" filter="url(#f91)"/><path d="M486.2 54.3L488.9 54.3L491.6 54.3L494.4 54.3L497.1 54.3L499.8 54.3L502.5 54.3L505.2 54.3L507.9 54.3L510.6 54.3L513.3 54.3L516.0 54.3L518.7 54.3L521.4 54.3L524.1 54.3L526.8 54.3L529.5 54.3L532.2 54.3L534.9 54.3L537.6 54.3L540.3 54.3L543.0 54.3L545.7 54.3L548.4 54.3L551.1 54.3L553.8 54.3L556.5 54.3L559.2 54.3L562.0 54.3L564.7 54.3L567.4 54.3L570.1 54.3L572.8 54.3L575.5 54.3L578.2 54.3L580.9 54.3L577.0 50.7L572.7 47.2L568.2 43.8L563.4 40.5L561.1 40.5L558.8 40.5L556.5 40.5L554.1 40.5L551.8 40.5L549.5 40.5L547.2 40.5L544.9 40.5L542.6 40.5L540.2 40.5L537.9 40.5L535.6 40.5L533.3 40.5L531.0 40.5L528.7 40.5L526.4 40.5L524.0 40.5L521.7 40.5L519.4 40.5L517.1 40.5L514.8 40.5L512.5 40.5L510.1 40.5L507.8 40.5L505.5 40.5L503.2 40.5L500.9 40.5L498.6 40.5L496.3 40.5L493.9 40.5L491.6 40.5L489.3 40.5L487.0 40.5L484.7 40.5L482.4 40.5L483.4 43.8L484.4 47.2L485.4 50.7Z" fill="#faf6bb" filter="url(#f92)"/><path d="M450.2 72.5L453.2 72.5L456.2 72.5L459.2 72.5L462.2 72.5L465.2 72.5L468.2 72.5L471.2 72.5L474.2 72.5L477.2 72.5L480.2 72.5L483.2 72.5L486.2 72.5L485.8 68.6L485.3 64.6L482.4 64.6L479.5 64.6L476.6 64.6L473.7 64.6L470.8 64.6L467.9 64.6L465.0 64.6L462.1 64.6L459.2 64.6L456.3 64.6L453.4 64.6L450.5 64.6L450.3 68.6Z" fill="#faf6bb" filter="url(#f93)"/><path d="M485.5 87.5L488.6 87.5L491.7 87.5L494.8 87.5L497.9 87.5L501.0 87.5L504.1 87.5L507.2 87.5L506.9 83.8L506.6 80.2L506.2 76.6L505.7 72.9L505.1 69.3L504.3 65.6L503.5 62.0L500.6 62.0L497.7 62.0L494.9 62.0L492.0 62.0L489.2 62.0L486.3 62.0L483.5 62.0L484.0 65.6L484.4 69.3L484.7 72.9L485.0 76.6L485.2 80.2L485.4 83.8Z" fill="#faf6bb" filter="url(#f94)"/><path d="M493.0 67.3L495.9 67.3L498.8 67.3L501.8 67.3L504.7 67.3L507.7 67.3L510.6 67.3L513.5 67.3L516.5 67.3L519.4 67.3L518.3 63.6L516.9 59.9L515.4 56.2L513.8 52.6L511.1 52.6L508.5 52.6L505.8 52.6L503.1 52.6L500.5 52.6L497.8 52.6L495.2 52.6L492.5 52.6L489.8 52.6L490.8 56.2L491.6 59.9L492.3 63.6Z" fill="#faf6bb" filter="url(#f95)"/><path d="M512.1 92.7L515.5 92.7L518.9 92.7L522.3 92.7L525.7 92.7L529.2 92.7L529.0 89.1L528.6 85.4L528.2 81.8L527.7 78.1L527.1 74.4L526.3 70.8L523.0 70.8L519.7 70.8L516.4 70.8L513.1 70.8L509.9 70.8L510.5 74.4L511.0 78.1L511.3 81.8L511.7 85.4L511.9 89.1Z" fill="#faf6bb" filter="url(#f96)"/><path d="M512.1 92.7L515.5 92.7L518.9 92.7L522.3 92.7L525.7 92.7L529.2 92.7L529.0 89.1L528.6 85.4L528.2 81.8L527.7 78.1L527.1 74.4L526.3 70.8L523.0 70.8L519.7 70.8L516.4 70.8L513.1 70.8L509.9 70.8L510.5 74.4L511.0 78.1L511.3 81.8L511.7 85.4L511.9 89.1Z" fill="#d7141b" filter="url(#f97)"/><path d="M535.7 80.4L538.8 80.4L541.8 80.4L544.9 80.4L547.9 80.4L551.0 80.4L554.1 80.4L553.3 76.6L552.2 72.7L550.8 68.9L549.2 65.0L547.2 61.2L544.4 61.2L541.5 61.2L538.7 61.2L535.9 61.2L533.0 61.2L530.2 61.2L531.8 65.0L533.1 68.9L534.2 72.7L535.1 76.6Z" fill="#faf6bb" filter="url(#f98)"/><path d="M535.7 80.4L538.8 80.4L541.8 80.4L544.9 80.4L547.9 80.4L551.0 80.4L554.1 80.4L553.3 76.6L552.2 72.7L550.8 68.9L549.2 65.0L547.2 61.2L544.4 61.2L541.5 61.2L538.7 61.2L535.9 61.2L533.0 61.2L530.2 61.2L531.8 65.0L533.1 68.9L534.2 72.7L535.1 76.6Z" fill="#d7141b" filter="url(#f99)"/><path d="M547.4 71.7L550.4 71.7L553.4 71.7L556.4 71.7L559.4 71.7L562.4 71.7L565.4 71.7L568.4 71.7L566.8 68.2L565.0 64.6L562.8 61.2L560.5 57.7L557.9 54.3L555.2 54.3L552.5 54.3L549.8 54.3L547.1 54.3L544.4 54.3L541.7 54.3L539.0 54.3L541.0 57.7L543.0 61.2L544.7 64.6L546.2 68.2Z" fill="#faf6bb" filter="url(#f100)"/><path d="M547.4 71.7L550.4 71.7L553.4 71.7L556.4 71.7L559.4 71.7L562.4 71.7L565.4 71.7L568.4 71.7L566.8 68.2L565.0 64.6L562.8 61.2L560.5 57.7L557.9 54.3L555.2 54.3L552.5 54.3L549.8 54.3L547.1 54.3L544.4 54.3L541.7 54.3L539.0 54.3L541.0 57.7L543.0 61.2L544.7 64.6L546.2 68.2Z" fill="#d7141b" filter="url(#f101)"/><path d="M530.5 106.8L533.6 106.8L536.7 106.8L539.8 106.8L542.9 106.8L546.0 106.8L549.1 106.8L552.2 106.8L555.3 106.8L558.4 106.8L558.7 103.3L558.8 99.8L558.8 96.2L558.7 92.7L558.4 89.2L558.0 85.7L557.4 82.2L556.8 78.7L553.7 78.7L550.7 78.7L547.6 78.7L544.6 78.7L541.5 78.7L538.5 78.7L535.4 78.7L532.4 78.7L529.3 78.7L529.8 82.2L530.2 85.7L530.5 89.2L530.7 92.7L530.8 96.2L530.8 99.8L530.7 103.3Z" fill="#faf6bb" filter="url(#f102)"/><path d="M530.5 106.8L533.6 106.8L536.7 106.8L539.8 106.8L542.9 106.8L546.0 106.8L549.1 106.8L552.2 106.8L555.3 106.8L558.4 106.8L558.7 103.3L558.8 99.8L558.8 96.2L558.7 92.7L558.4 89.2L558.0 85.7L557.4 82.2L556.8 78.7L553.7 78.7L550.7 78.7L547.6 78.7L544.6 78.7L541.5 78.7L538.5 78.7L535.4 78.7L532.4 78.7L529.3 78.7L529.8 82.2L530.2 85.7L530.5 89.2L530.7 92.7L530.8 96.2L530.8 99.8L530.7 103.3Z" fill="#d7141b" filter="url(#f103)"/><path d="M446.0 129.6L449.1 129.6L452.1 129.6L455.1 129.6L458.1 129.6L461.1 129.6L464.1 129.6L467.1 129.6L470.1 129.6L473.1 129.6L476.1 129.6L479.2 129.6L482.2 129.6L485.2 129.6L488.2 129.6L491.2 129.6L494.2 129.6L497.2 129.6L497.8 126.0L498.3 122.5L498.7 118.9L499.0 115.3L499.3 111.8L499.4 108.2L499.6 104.6L499.7 101.1L499.7 97.5L499.6 93.9L499.5 90.4L499.4 86.8L499.2 83.2L498.9 79.7L498.6 76.1L498.2 72.5L495.1 72.5L492.0 72.5L488.9 72.5L485.8 72.5L482.8 72.5L479.7 72.5L476.6 72.5L473.5 72.5L470.4 72.5L467.3 72.5L464.2 72.5L461.1 72.5L458.1 72.5L455.0 72.5L451.9 72.5L448.8 72.5L445.7 72.5L445.6 76.1L445.5 79.7L445.4 83.2L445.3 86.8L445.2 90.4L445.2 93.9L445.2 97.5L445.2 101.1L445.2 104.6L445.3 108.2L445.3 111.8L445.4 115.3L445.5 118.9L445.7 122.5L445.8 126.0Z" fill="#faf6bb" filter="url(#f104)"/><path d="M536.0 137.4L538.9 137.4L541.7 137.4L544.6 137.4L547.5 137.4L550.4 137.4L553.2 137.4L556.1 137.4L559.0 137.4L561.9 137.4L564.7 137.4L567.6 137.4L570.5 137.4L573.4 137.4L576.2 137.4L579.1 137.4L582.0 137.4L584.8 137.4L588.0 133.6L590.6 129.8L592.9 126.0L594.7 122.1L596.1 118.3L597.2 114.5L598.1 110.6L598.8 106.8L595.6 106.8L592.4 106.8L589.2 106.8L586.0 106.8L582.8 106.8L579.6 106.8L576.4 106.8L573.2 106.8L570.0 106.8L566.8 106.8L563.6 106.8L560.4 106.8L557.3 106.8L554.1 106.8L550.9 106.8L547.7 106.8L544.5 106.8L544.1 110.6L543.5 114.5L542.9 118.3L542.0 122.1L540.9 126.0L539.5 129.8L537.9 133.6Z" fill="#faf6bb" filter="url(#f105)"/><path d="M367.7 33.4L369.8 33.4L371.8 33.4L373.8 33.4L375.9 33.4L377.9 33.4L379.9 33.4L382.0 33.4L384.0 33.4L386.0 33.4L388.1 33.4L390.1 33.4L392.1 33.4L394.2 33.4L396.2 33.4L398.2 33.4L400.3 33.4L402.3 33.4L404.3 33.4L406.3 33.4L408.4 33.4L410.4 33.4L412.4 33.4L414.5 33.4L416.5 33.4L418.5 33.4L420.6 33.4L422.6 33.4L424.6 33.4L426.7 33.4L428.7 33.4L430.7 33.4L432.8 33.4L434.8 33.4L436.8 33.4L438.9 33.4L440.9 33.4L442.9 33.4L445.0 33.4L447.0 33.4L449.0 33.4L451.1 33.4L453.1 33.4L455.1 33.4L457.2 33.4L459.2 33.4L461.2 33.4L463.3 33.4L465.3 33.4L467.3 33.4L469.4 33.4L471.4 33.4L473.4 33.4L475.5 33.4L477.5 33.4L479.5 33.4L481.6 33.4L483.6 33.4L485.6 33.4L487.7 33.4L489.7 33.4L491.7 33.4L493.8 33.4L495.8 33.4L497.8 33.4L499.9 33.4L501.9 33.4L503.9 33.4L506.0 33.4L508.0 33.4L510.0 33.4L512.1 33.4L514.1 33.4L516.1 33.4L518.1 33.4L520.2 33.4L522.2 33.4L524.2 33.4L526.3 33.4L528.3 33.4L530.3 33.4L532.4 33.4L534.4 33.4L536.4 33.4L538.5 33.4L540.5 33.4L542.5 33.4L544.6 33.4L546.6 33.4L548.6 33.4L550.7 33.4L544.5 30.8L538.7 28.7L533.8 27.2L532.2 27.2L530.5 27.2L528.8 27.2L527.2 27.2L525.5 27.2L523.9 27.2L522.2 27.2L520.5 27.2L518.9 27.2L517.2 27.2L515.6 27.2L513.9 27.2L512.3 27.2L510.6 27.2L508.9 27.2L507.3 27.2L505.6 27.2L504.0 27.2L502.3 27.2L500.7 27.2L499.0 27.2L497.3 27.2L495.7 27.2L494.0 27.2L492.4 27.2L490.7 27.2L489.0 27.2L487.4 27.2L485.7 27.2L484.1 27.2L482.4 27.2L480.8 27.2L479.1 27.2L477.4 27.2L475.8 27.2L474.1 27.2L472.5 27.2L470.8 27.2L469.1 27.2L467.5 27.2L465.8 27.2L464.2 27.2L462.5 27.2L460.9 27.2L459.2 27.2L457.5 27.2L455.9 27.2L454.2 27.2L452.6 27.2L450.9 27.2L449.3 27.2L447.6 27.2L445.9 27.2L444.3 27.2L442.6 27.2L441.0 27.2L439.3 27.2L437.6 27.2L436.0 27.2L434.3 27.2L432.7 27.2L431.0 27.2L429.4 27.2L427.7 27.2L426.0 27.2L424.4 27.2L422.7 27.2L421.1 27.2L419.4 27.2L417.7 27.2L416.1 27.2L414.4 27.2L412.8 27.2L411.1 27.2L409.5 27.2L407.8 27.2L406.1 27.2L404.5 27.2L402.8 27.2L401.2 27.2L399.5 27.2L397.9 27.2L396.2 27.2L394.5 27.2L392.9 27.2L391.2 27.2L389.6 27.2L387.9 27.2L386.2 27.2L384.6 27.2L379.7 28.7L373.9 30.8Z" fill="#fff"/></g><path d="M333.6 137.4H584.8" stroke="#9a9a9a" stroke-width="0.9" fill="none"/><path d="M333.6 58.6H584.8" stroke="#c3ccd2" stroke-width="0.4" fill="none"/><path d="M421.9 27.2L419.1 28.9L415.6 31.5L412.0 34.7L408.8 38.3L405.9 42.0L403.2 46.0L400.7 50.1L398.4 54.3L396.4 58.6L394.6 62.9L393.1 67.3L391.9 71.7L391.0 76.1L390.3 80.4L389.8 84.8L389.4 89.2L389.2 93.6L389.1 98.0L389.2 102.4L389.4 106.8L389.8 111.2L390.3 115.6L391.0 119.9L391.9 124.3L393.1 128.7L394.6 133.1L396.4 137.4L398.4 141.7L400.7 145.9L403.2 150.0L405.9 154.0L408.8 157.7L412.0 161.3L415.6 164.5L419.1 167.1L421.9 168.8" stroke="#c3ccd2" stroke-width="0.5" fill="none" stroke-dasharray="1.2 1.6"/><path d="M496.5 27.2L499.3 28.9L502.8 31.5L506.4 34.7L509.6 38.3L512.5 42.0L515.2 46.0L517.7 50.1L520.0 54.3L522.0 58.6L523.8 62.9L525.3 67.3L526.5 71.7L527.4 76.1L528.1 80.4L528.6 84.8L529.0 89.2L529.2 93.6L529.3 98.0L529.2 102.4L529.0 106.8L528.6 111.2L528.1 115.6L527.4 119.9L526.5 124.3L525.3 128.7L523.8 133.1L522.0 137.4L520.0 141.7L517.7 145.9L515.2 150.0L512.5 154.0L509.6 157.7L506.4 161.3L502.8 164.5L499.3 167.1L496.5 168.8" stroke="#c3ccd2" stroke-width="0.5" fill="none" stroke-dasharray="1.2 1.6"/></g><path d="M533.8 27.2L539.4 28.9L546.3 31.5L553.6 34.7L559.9 38.3L565.7 42.0L571.2 46.0L576.3 50.1L580.9 54.3L584.8 58.6L588.4 62.9L591.4 67.3L593.8 71.7L595.6 76.1L596.9 80.4L598.0 84.8L598.8 89.2L599.2 93.6L599.4 98.0L599.2 102.4L598.8 106.8L598.0 111.2L596.9 115.6L595.6 119.9L593.8 124.3L591.4 128.7L588.4 133.1L584.8 137.4L580.9 141.7L576.3 145.9L571.2 150.0L565.7 154.0L559.9 157.7L553.6 161.3L546.3 164.5L539.4 167.1L533.8 168.8L384.6 168.8L379.0 167.1L372.1 164.5L364.8 161.3L358.5 157.7L352.7 154.0L347.2 150.0L342.1 145.9L337.5 141.7L333.6 137.4L330.0 133.1L327.0 128.7L324.6 124.3L322.8 119.9L321.5 115.6L320.4 111.2L319.6 106.8L319.2 102.4L319.0 98.0L319.2 93.6L319.6 89.2L320.4 84.8L321.5 80.4L322.8 76.1L324.6 71.7L327.0 67.3L330.0 62.9L333.6 58.6L337.5 54.3L342.1 50.1L347.2 46.0L352.7 42.0L358.5 38.3L364.8 34.7L372.1 31.5L379.0 28.9L384.6 27.2Z" fill="none" stroke="#a9a9a9" stroke-width="0.5" stroke-dasharray="1.5 1.8"/><g clip-path="url(#fr3)"><rect x="18.700000000000017" y="200.5" width="281.2" height="143.0" fill="#bde0f4"/><path d="M69.7 336.9L72.4 337.0L75.1 337.2L77.8 337.3L80.3 337.3L82.7 337.3L85.2 337.3L87.1 336.9L89.0 336.6L91.0 336.3L93.0 336.0L95.0 335.6L97.8 335.8L100.5 335.9L103.2 336.0L105.1 335.5L107.1 335.0L109.7 335.0L112.3 335.0L115.1 335.2L117.9 335.3L119.3 333.9L119.8 330.7L120.8 328.5L122.6 327.3L125.2 326.5L124.8 327.7L123.4 328.8L122.7 330.7L126.1 333.6L128.0 335.0L131.2 336.0L134.4 336.9L137.0 337.1L139.5 337.3L141.9 336.9L144.9 335.6L146.7 334.8L148.6 333.9L150.7 333.2L152.7 332.5L156.5 331.8L159.3 331.5L162.1 331.5L164.9 331.5L167.7 331.5L170.4 331.5L173.3 331.1L176.2 330.7L178.4 330.9L180.6 331.1L185.1 329.6L189.6 328.5L192.7 329.2L196.6 329.6L199.0 330.3L201.3 331.1L205.2 329.6L207.7 329.2L210.3 328.8L214.4 328.8L217.3 328.8L220.3 328.7L223.1 328.8L226.0 328.8L228.9 328.8L231.9 328.7L234.9 328.6L238.0 328.5L239.9 328.8L241.7 329.2L244.5 330.2L246.5 330.8L248.5 331.5L250.6 332.5L250.5 333.6L245.4 335.0L241.1 336.6L241.8 337.3L244.2 337.2L246.5 337.0L248.9 336.9L243.3 339.3L238.1 341.2L233.6 342.5L231.9 342.5L230.3 342.5L228.6 342.5L227.0 342.5L225.3 342.5L223.7 342.5L222.0 342.5L220.4 342.5L218.7 342.5L217.1 342.5L215.4 342.5L213.8 342.5L212.1 342.5L210.5 342.5L208.8 342.5L207.2 342.5L205.5 342.5L203.9 342.5L202.2 342.5L200.6 342.5L198.9 342.5L197.3 342.5L195.6 342.5L194.0 342.5L192.3 342.5L190.7 342.5L189.0 342.5L187.4 342.5L185.7 342.5L184.1 342.5L182.4 342.5L180.8 342.5L179.1 342.5L177.5 342.5L175.8 342.5L174.2 342.5L172.5 342.5L170.9 342.5L169.2 342.5L167.6 342.5L165.9 342.5L164.3 342.5L162.6 342.5L161.0 342.5L159.3 342.5L157.6 342.5L156.0 342.5L154.3 342.5L152.7 342.5L151.0 342.5L149.4 342.5L147.7 342.5L146.1 342.5L144.4 342.5L142.8 342.5L141.1 342.5L139.5 342.5L137.8 342.5L136.2 342.5L134.5 342.5L132.9 342.5L131.2 342.5L129.6 342.5L127.9 342.5L126.3 342.5L124.6 342.5L123.0 342.5L121.3 342.5L119.7 342.5L118.0 342.5L116.4 342.5L114.7 342.5L113.1 342.5L111.4 342.5L109.8 342.5L108.1 342.5L106.5 342.5L104.8 342.5L103.2 342.5L101.5 342.5L99.9 342.5L98.2 342.5L96.6 342.5L94.9 342.5L93.3 342.5L91.6 342.5L90.0 342.5L88.3 342.5L86.7 342.5L85.0 342.5L80.5 341.2L75.3 339.3Z" fill="#fff"/><path d="M60.9 215.9L65.2 213.7L73.2 211.6L80.4 212.8L88.1 212.4L94.1 213.7L97.7 214.0L104.6 214.0L107.9 211.5L109.4 213.7L113.3 212.9L112.6 214.8L109.2 215.5L107.5 217.1L102.8 218.6L100.2 221.0L100.4 222.7L104.4 224.0L106.0 224.2L105.1 226.0L106.4 227.2L107.9 224.7L110.4 223.1L110.1 221.2L112.4 218.4L114.8 218.4L116.4 219.4L115.8 221.2L118.0 221.2L119.5 220.0L120.0 223.1L121.9 224.7L122.4 226.8L119.7 228.2L114.9 228.3L111.3 231.0L115.3 229.3L114.9 231.4L117.2 231.9L114.7 233.2L113.0 234.0L112.7 232.7L110.2 234.0L109.4 235.6L106.6 236.6L104.8 238.8L103.8 241.2L101.7 242.5L99.3 244.5L99.1 248.4L98.7 250.0L97.7 249.3L97.3 247.5L96.8 245.8L94.6 245.4L92.7 245.6L92.5 246.5L89.6 246.0L86.7 247.5L85.4 251.0L85.3 254.1L86.8 255.7L89.4 255.8L90.5 253.6L93.2 253.2L92.3 256.1L91.2 258.1L94.9 258.2L95.4 259.0L94.7 262.2L95.6 264.0L97.8 263.7L99.6 264.5L98.8 265.4L97.0 265.6L95.2 264.7L93.1 263.3L92.0 260.6L89.0 259.8L86.9 257.8L85.3 258.3L82.0 256.9L78.9 254.5L79.3 252.3L77.0 249.3L75.4 246.2L74.4 244.3L75.5 250.1L76.1 251.9L74.6 250.1L73.6 247.5L73.1 245.8L72.8 243.6L71.0 241.8L70.8 239.5L70.7 236.8L72.0 234.5L73.8 231.6L74.5 229.8L76.0 229.3L74.1 227.6L74.5 224.7L74.8 221.8L73.4 220.6L70.7 220.2L68.1 219.8L64.7 220.6L61.7 222.2L57.6 223.5L52.4 224.7L55.3 223.5L60.1 221.4L58.0 221.0L58.3 219.0L63.5 217.1L61.6 216.7ZM116.7 210.1L119.9 211.5L121.4 212.5L123.6 214.8L121.6 216.3L119.2 218.6L116.4 218.2L115.5 216.7L113.1 216.7L117.5 214.4L116.4 212.5L111.9 212.5L110.3 211.8L111.4 210.1ZM94.9 211.8L100.1 213.3L102.7 212.9L103.2 210.8L100.3 210.4L96.6 210.4ZM91.0 211.5L92.7 211.8L97.1 210.4L97.3 209.4L93.7 209.7ZM113.4 208.0L119.5 208.0L122.3 206.7L130.4 204.7L127.2 204.2L119.6 204.7L115.3 205.5L116.0 207.1ZM111.3 209.0L117.2 209.4L118.2 208.4L113.0 207.9ZM98.2 209.0L104.0 209.0L105.7 208.0L99.6 208.0ZM112.0 207.1L115.8 206.7L116.6 205.3L113.0 205.8ZM103.5 211.5L107.1 211.1L110.1 209.7L105.9 209.7ZM107.3 217.5L110.8 217.5L111.8 215.9L108.9 215.9ZM118.8 230.4L122.9 231.3L123.5 229.7L122.4 227.2L120.9 228.0ZM94.8 252.8L98.7 251.9L102.2 253.9L102.8 254.4L100.3 254.6L100.1 253.2L97.1 252.5ZM102.5 255.9L104.4 254.7L107.1 255.7L104.6 256.5ZM99.6 264.5L101.1 262.6L103.4 261.7L104.4 261.2L105.3 261.9L106.7 262.6L109.5 263.0L111.5 262.6L112.9 264.6L115.2 266.8L117.5 266.9L119.4 268.2L120.5 270.7L120.5 272.4L122.5 272.6L124.8 274.2L128.3 274.4L130.6 276.2L132.2 277.1L132.4 279.0L130.8 281.6L129.3 283.8L129.5 287.3L128.3 290.8L127.5 292.1L125.3 292.8L122.8 294.7L122.9 296.9L121.5 299.1L120.0 301.7L118.0 302.4L116.5 301.7L117.9 303.9L117.6 305.6L114.8 306.1L115.0 307.8L113.1 307.8L114.4 309.4L113.8 311.3L112.7 312.1L114.3 313.8L113.0 316.0L114.1 317.5L114.3 317.9L117.0 319.5L115.1 320.1L112.5 319.3L109.9 317.2L108.0 314.3L107.9 310.4L106.6 307.0L106.3 303.9L106.4 300.0L105.8 296.5L106.0 292.1L105.6 288.0L103.8 286.7L100.9 284.2L99.6 282.1L97.8 278.6L96.5 277.2L96.3 275.8L97.3 274.6L96.7 272.9L97.3 271.6L98.2 270.7L99.3 268.5L99.4 265.9ZM155.0 240.7L157.8 241.2L161.5 239.8L166.5 239.4L167.3 239.8L166.8 242.3L167.4 243.0L170.6 243.8L173.4 245.5L174.1 244.9L174.2 243.6L176.3 243.5L178.0 244.4L180.8 245.0L183.0 244.6L183.5 245.8L184.4 247.5L186.1 251.0L187.4 253.6L187.9 255.8L189.6 258.4L192.4 261.0L192.7 261.9L194.0 262.8L196.3 262.2L198.7 261.7L198.5 263.3L197.2 266.3L195.7 268.9L193.4 271.1L191.5 273.6L190.1 275.9L189.3 277.7L189.8 279.4L190.5 281.6L190.5 285.1L187.6 287.6L186.0 289.5L186.1 293.0L184.0 294.7L183.6 296.9L181.9 299.1L179.5 301.3L177.6 301.7L173.9 302.4L172.7 301.9L172.6 300.0L171.6 297.1L170.6 294.7L170.3 291.7L168.5 287.7L168.5 285.1L169.9 282.5L169.3 279.9L168.7 277.2L166.7 274.2L166.3 271.6L166.9 269.4L166.1 268.1L163.9 268.2L162.6 266.5L160.1 266.9L157.8 267.8L155.8 267.5L153.5 268.2L152.3 267.6L149.6 265.4L148.9 263.7L147.7 262.4L146.4 261.1L145.9 259.1L146.8 256.3L146.9 254.5L146.4 253.6L147.2 251.3L148.4 249.3L150.3 247.5L151.8 246.2L152.1 244.5L153.0 242.9L154.4 242.1ZM197.3 282.7L198.0 285.6L196.7 287.7L195.2 293.7L193.2 294.3L192.2 292.5L193.0 289.5L193.2 286.4L195.0 285.8L196.2 283.8ZM152.4 239.7L152.6 238.2L153.0 236.2L152.8 234.5L153.7 233.8L158.0 234.1L158.5 231.9L156.2 230.3L156.1 229.7L158.3 229.6L158.1 228.7L159.4 228.9L160.4 227.7L161.6 227.3L162.4 226.0L163.9 225.4L165.0 225.2L164.6 223.9L164.5 222.7L165.9 222.1L165.9 223.5L165.6 224.3L166.5 225.1L168.6 225.2L171.3 224.4L172.2 224.8L172.9 224.0L172.8 222.7L174.7 222.5L174.0 220.9L176.7 220.5L178.0 220.3L176.9 219.8L174.8 220.1L173.2 220.2L172.4 219.4L172.2 217.9L174.2 216.3L173.3 215.7L171.9 216.7L169.9 218.2L169.8 219.4L170.9 220.2L169.8 222.7L169.6 223.3L168.5 223.9L167.7 224.0L167.3 223.2L166.3 221.4L165.9 220.8L164.3 221.8L162.8 221.2L162.4 219.4L163.2 218.0L165.5 216.7L166.8 215.2L167.8 213.8L169.4 212.9L171.5 212.3L173.5 211.8L175.0 212.0L176.5 212.3L176.1 212.8L177.8 213.0L179.6 213.3L182.8 214.4L182.8 215.3L181.4 215.5L178.7 215.0L179.9 216.7L181.3 217.1L181.8 216.7L183.2 216.5L182.7 215.8L183.7 215.2L185.1 215.5L184.4 214.2L184.0 213.7L185.5 213.9L186.1 214.9L186.8 214.3L189.2 213.4L192.7 213.7L193.3 212.7L195.9 213.1L197.8 213.7L196.6 212.5L195.5 210.8L196.6 210.4L198.3 210.6L199.2 212.2L200.8 214.0L201.3 214.2L200.0 211.8L199.1 211.1L199.8 210.8L201.1 211.1L201.6 211.0L202.2 210.1L204.9 209.8L204.7 209.0L208.1 208.4L210.3 208.0L211.5 207.3L213.7 207.9L217.4 208.4L219.5 209.8L217.4 209.8L219.5 210.1L223.1 210.4L225.2 209.9L228.4 210.8L230.6 211.8L231.5 211.5L234.6 211.5L234.9 210.8L238.8 210.9L243.0 211.9L247.0 212.0L249.2 212.8L253.0 212.6L255.4 213.3L257.6 212.7L260.9 213.4L265.4 216.3L267.5 218.2L265.2 218.8L264.9 220.2L262.1 220.2L260.7 220.4L262.1 221.8L263.3 223.5L264.2 224.4L264.5 226.0L264.5 227.0L264.0 227.6L259.3 223.5L258.4 222.2L258.8 219.8L258.4 218.2L256.8 218.9L254.8 219.0L255.1 220.6L252.5 220.5L249.7 220.8L248.1 221.0L247.5 223.1L247.0 224.4L250.4 225.1L252.2 226.0L253.7 228.5L255.1 230.2L254.9 232.3L254.1 234.0L252.3 234.3L251.6 235.0L251.4 236.0L250.5 237.2L253.0 239.7L253.6 241.0L252.0 241.9L251.0 239.8L249.5 238.8L248.8 237.4L248.1 237.0L246.5 237.9L246.4 236.6L245.4 236.3L243.9 237.7L245.2 239.1L246.4 239.0L248.0 239.5L247.0 240.5L246.4 241.4L247.5 242.0L248.3 243.3L249.6 244.5L250.0 245.8L250.2 246.6L249.7 248.2L249.4 249.7L248.5 250.8L247.5 251.9L245.9 252.5L245.3 252.7L244.2 253.1L243.1 253.5L243.3 254.2L242.6 253.2L241.3 253.1L240.5 254.5L240.0 255.5L241.4 257.3L242.9 258.6L243.5 260.7L243.3 261.9L242.0 262.9L241.6 263.7L240.4 264.4L240.2 263.3L238.7 262.2L238.1 261.2L236.9 260.4L236.2 260.2L235.8 262.8L236.5 263.9L237.0 265.6L238.2 266.6L239.4 268.1L239.4 269.8L240.1 270.8L239.5 270.9L237.8 269.6L236.9 267.0L236.4 266.2L235.2 264.6L235.4 263.1L235.2 260.6L234.3 258.4L233.5 257.1L232.5 258.2L231.6 258.0L231.3 255.8L229.7 253.9L228.9 252.3L227.9 252.5L226.9 252.9L225.4 253.4L225.4 254.3L224.1 255.0L222.3 257.5L220.8 258.4L221.0 260.2L220.9 263.0L220.3 263.9L219.7 264.2L219.2 264.9L218.4 264.0L217.5 261.8L216.6 259.8L215.5 257.6L214.8 255.0L214.6 253.5L214.2 253.6L213.2 253.9L211.6 252.6L212.6 251.9L211.1 251.5L210.2 250.8L209.5 249.8L205.7 250.0L202.5 249.7L201.8 248.4L200.3 248.7L197.9 247.6L196.7 245.8L195.7 245.5L195.1 246.2L195.7 247.3L197.0 248.7L197.2 250.1L198.3 250.8L200.1 250.8L201.4 249.3L202.0 250.6L203.7 251.4L204.6 252.4L203.8 254.2L203.3 255.5L201.6 256.9L199.3 258.3L196.7 259.8L193.9 260.8L192.8 260.9L192.2 259.1L191.9 257.6L190.4 254.9L189.1 253.5L187.6 250.8L185.7 247.5L185.4 246.2L184.9 247.7L183.6 245.8L183.2 244.7L184.7 244.7L185.1 243.3L185.5 241.4L185.4 239.8L184.3 239.9L182.9 240.4L181.5 240.3L180.3 239.9L179.1 239.9L178.2 238.5L178.1 237.5L178.6 236.7L179.9 236.2L181.7 236.0L183.0 235.3L184.0 235.3L185.6 236.2L187.4 236.2L188.7 235.7L188.5 234.8L186.9 233.8L185.4 233.0L185.9 231.9L186.2 230.8L185.0 231.0L183.6 231.6L184.6 232.5L184.0 232.9L182.7 233.2L181.9 232.4L182.4 231.9L181.0 231.4L180.0 232.0L179.9 232.7L179.3 233.8L178.9 234.9L179.3 235.7L179.9 236.1L178.8 236.2L177.9 236.4L176.4 236.4L176.3 237.0L175.6 236.7L175.6 237.7L176.6 238.8L176.0 239.0L176.0 240.1L175.4 239.8L174.8 239.2L174.5 238.2L173.2 236.8L173.1 235.5L171.6 234.5L169.7 233.0L169.0 232.7L168.7 232.1L167.8 232.5L168.0 233.4L168.9 234.2L170.6 235.4L172.5 236.9L171.4 236.6L171.2 237.9L170.8 238.8L170.6 238.6L170.8 237.5L170.0 236.9L168.0 235.5L166.7 234.5L166.4 233.7L165.4 233.2L164.5 233.8L163.5 234.4L162.1 234.0L161.5 235.1L161.6 235.6L159.9 236.4L159.1 237.5L159.4 238.1L158.8 239.1L157.8 239.8L156.0 239.9L155.2 240.5L154.7 239.8L153.9 239.5L152.8 239.7ZM57.7 213.4L59.0 214.4L60.2 215.5L57.1 216.7L55.0 215.9L53.2 216.3ZM155.5 228.4L156.9 228.2L160.2 227.5L160.4 226.2L159.4 226.0L159.2 224.7L158.3 223.9L157.5 223.5L158.0 222.2L156.8 222.2L157.3 221.3L156.2 221.3L155.4 222.7L155.9 223.9L156.2 224.4L157.2 224.4L157.3 225.7L156.3 225.7L156.5 226.5L155.8 227.0L157.1 227.3ZM152.7 227.0L155.1 226.6L155.4 225.1L155.6 224.4L154.5 224.0L152.8 224.9L153.1 226.0ZM145.2 215.9L146.5 215.2L148.8 215.4L150.8 215.3L151.3 216.3L150.1 216.9L148.1 217.5L145.9 217.1L146.3 216.5ZM164.8 207.1L167.9 207.9L170.2 206.9L172.3 205.8L168.8 205.5L164.6 206.0ZM187.5 211.5L190.8 212.0L189.9 210.1L191.4 208.7L194.1 207.8L192.7 207.7L189.1 208.4L188.1 210.1ZM205.8 206.4L211.3 206.9L208.9 205.8L204.8 205.3ZM230.3 208.7L235.2 209.1L237.4 208.9L232.8 208.4ZM251.8 224.9L253.9 226.4L256.0 228.9L258.2 231.6L257.4 231.9L254.9 228.5L253.2 226.8ZM258.3 235.3L257.4 232.4L261.1 234.0L260.4 235.3ZM259.3 235.8L261.0 237.5L261.5 239.7L262.1 241.2L260.7 241.7L259.5 241.8L258.9 242.7L257.4 241.8L255.4 242.3L255.3 241.8L256.0 241.0L258.4 240.7L258.4 239.4L259.6 238.8L259.4 237.0ZM254.9 242.7L256.0 242.5L256.6 244.6L255.8 244.7L255.0 243.3ZM256.5 242.3L257.9 242.1L258.0 242.9L257.3 243.3ZM250.9 250.0L251.4 250.5L251.1 252.8L250.3 251.9L250.4 250.6ZM242.2 255.1L243.5 254.4L243.9 254.9L243.0 256.1ZM221.1 263.4L222.6 265.4L222.0 266.8L221.2 266.6L221.0 264.7ZM251.3 255.8L252.6 255.8L252.7 258.0L254.5 259.9L254.7 260.8L253.1 259.9L252.1 259.3L251.3 258.0ZM253.7 265.9L254.7 264.6L256.2 263.4L257.1 265.4L256.8 266.6L256.3 266.9L255.2 266.1ZM253.3 261.7L254.9 261.9L256.1 262.2L256.0 263.3L254.7 263.7L253.9 263.3ZM249.9 264.7L251.5 262.8L251.6 262.2L249.9 264.4ZM233.1 267.1L234.8 267.5L237.0 269.6L239.7 272.0L240.3 273.7L241.4 274.8L241.2 277.1L240.2 277.1L238.6 275.5L237.4 273.9L236.1 271.6L234.6 269.4ZM240.7 277.9L241.9 277.2L243.4 277.9L245.0 277.6L246.5 278.0L247.8 278.7L247.7 279.6L245.1 279.3L242.8 278.8L241.6 278.5ZM243.8 270.7L244.8 270.5L245.7 269.6L246.9 269.2L248.4 267.6L249.6 265.9L250.4 266.6L251.5 267.5L250.7 268.2L250.6 270.3L251.6 271.1L250.6 271.6L250.4 272.9L249.4 273.9L249.3 275.5L248.1 275.5L247.2 274.9L245.9 275.1L244.7 274.5L244.6 273.1L243.8 272.0ZM251.9 275.1L252.2 271.3L253.1 270.9L256.2 270.6L255.7 271.7L253.1 271.6L253.0 272.8L254.8 272.7L253.6 273.7L254.6 275.7L254.0 276.6L253.4 275.7L252.9 274.4L252.5 276.9L251.8 276.8ZM260.9 272.7L263.2 272.7L263.9 274.9L266.1 273.3L268.6 274.3L271.2 275.3L273.1 277.1L273.6 277.9L272.9 278.0L273.3 279.0L275.4 281.0L273.5 280.8L272.1 279.4L270.6 278.7L269.8 280.0L268.2 280.0L266.7 279.1L266.0 279.3L266.7 277.9L266.1 276.8L264.3 275.8L262.7 275.2L262.2 274.4L263.0 273.9L261.6 273.9ZM248.2 279.2L251.3 279.3L254.4 279.3L254.2 279.7L251.2 279.8L248.1 279.7ZM254.6 281.0L255.5 280.0L257.4 279.3L257.0 280.0L255.0 281.0ZM258.1 270.4L259.1 271.0L258.5 272.7ZM274.1 276.9L275.8 276.8L277.3 275.7L277.0 276.5L276.0 277.4L274.2 277.2ZM245.8 291.1L245.0 293.4L244.9 296.0L244.8 298.7L244.8 300.0L243.6 302.0L245.6 302.6L247.4 301.7L250.0 301.6L252.3 300.2L254.8 299.6L256.5 299.5L258.1 300.7L258.7 302.4L260.6 300.8L260.1 302.6L260.8 303.5L260.6 305.2L262.4 305.9L264.3 306.1L266.1 305.0L267.8 304.6L269.5 302.6L270.9 300.8L272.7 299.1L274.1 296.9L274.6 294.3L273.4 292.5L272.7 291.5L272.4 289.7L270.9 288.6L271.0 286.4L270.8 284.9L269.8 284.5L269.6 282.9L269.2 281.4L268.3 283.4L267.9 285.6L267.0 287.3L265.8 287.3L264.9 286.0L263.3 285.1L263.9 283.8L264.7 282.7L263.7 282.5L261.5 282.1L260.2 282.8L259.3 283.8L258.7 285.0L257.8 284.9L256.9 284.2L255.7 284.7L254.3 286.2L253.1 286.9L252.6 288.0L251.5 289.1L249.9 289.5L248.3 290.1L247.0 290.8ZM262.3 307.6L264.8 307.6L264.0 308.9L262.3 310.0L261.6 309.8ZM285.8 302.1L286.2 303.6L286.7 304.3L288.2 304.9L286.1 306.5L283.5 308.3L284.4 306.8L283.9 306.3L285.4 305.2L285.9 303.9ZM282.5 307.4L282.7 308.4L280.4 310.0L278.8 310.7L277.3 312.0L275.2 312.6L274.3 312.1L277.1 310.4L279.8 309.1Z" fill="#27713a"/><path d="M123.1 206.9L128.7 205.0L138.5 204.5L145.6 204.0L150.0 204.7L151.1 205.8L149.7 207.7L149.6 209.0L147.3 211.1L147.1 212.4L144.0 213.8L140.3 214.8L137.6 215.8L135.7 216.3L133.5 218.6L132.7 220.2L131.1 220.2L129.6 219.4L128.9 217.1L128.5 214.8L129.4 213.3L129.3 211.8L129.3 208.7L124.3 208.4Z" fill="#faf6bb"/><path d="M192.0 232.7L194.3 231.0L195.8 231.4L195.8 232.7L194.8 233.2L196.6 235.3L196.9 236.6L198.0 237.5L198.3 239.7L196.3 239.8L194.7 239.2L194.5 236.9L192.8 234.9Z" fill="#bde0f4"/><g clip-path="url(#ld3)"><path d="M54.0 220.2L56.6 220.1L59.2 220.1L61.7 220.0L64.3 219.9L66.8 219.8L69.7 220.0L72.6 220.2L75.4 220.5L78.3 220.8L81.2 221.0L84.3 221.0L87.4 221.0L90.5 221.0L93.1 221.8L95.7 222.7L98.3 223.5L101.0 224.3L103.6 225.5L106.3 226.8L109.4 227.2L112.5 227.6L115.9 227.6L119.2 227.6L122.8 226.8L124.0 223.4L125.3 220.0L126.7 216.8L128.1 213.7L129.7 210.7L131.4 207.9L133.2 205.3L134.9 203.2L133.1 203.2L131.2 203.2L129.4 203.2L127.6 203.2L125.8 203.2L124.0 203.2L122.1 203.2L120.3 203.2L118.5 203.2L116.7 203.2L114.8 203.2L113.0 203.2L111.2 203.2L109.4 203.2L107.6 203.2L105.7 203.2L103.9 203.2L102.1 203.2L100.3 203.2L98.4 203.2L96.6 203.2L94.8 203.2L93.0 203.2L91.1 203.2L89.3 203.2L87.5 203.2L85.7 203.2L83.9 203.2L78.5 205.3L72.8 207.9L67.5 210.8L62.8 213.8L58.3 216.9Z" fill="#faf6bb"/><path d="M52.1 221.8L54.6 222.0L57.2 222.2L59.7 222.4L62.3 222.7L64.8 222.9L67.4 223.1L70.0 223.3L72.6 223.5L75.1 223.6L77.5 223.8L79.9 224.0L82.4 224.1L84.8 224.3L87.3 224.4L89.8 224.6L92.3 224.8L94.8 224.9L97.3 225.1L99.9 225.5L102.6 226.0L105.2 226.4L107.9 226.8L110.6 227.2L113.4 227.6L116.1 228.0L118.9 228.5L120.1 225.1L121.5 221.8L122.9 218.6L120.5 218.4L118.2 218.2L115.9 218.0L113.6 217.8L111.4 217.6L109.1 217.4L106.8 217.2L104.6 217.0L102.4 216.8L100.2 216.5L98.0 216.3L95.8 216.1L93.6 215.9L91.5 215.7L89.4 215.5L87.1 215.4L84.8 215.3L82.5 215.2L80.2 215.0L78.0 214.9L75.7 214.8L73.5 214.7L71.2 214.5L69.0 214.4L66.8 214.3L64.6 214.2L62.4 214.0L57.1 217.9Z" fill="#27713a" filter="url(#f106)"/><path d="M46.6 226.8L49.2 226.9L51.8 227.0L54.4 227.1L57.0 227.3L59.7 227.4L62.3 227.5L64.9 227.6L67.6 227.7L70.2 227.9L72.9 228.0L75.6 228.1L78.2 228.2L80.9 228.3L83.6 228.5L86.3 228.6L89.0 228.7L91.7 228.8L94.4 228.9L97.1 229.1L99.8 229.2L102.6 229.3L105.3 229.4L108.0 229.6L110.8 229.7L113.5 229.8L116.3 229.9L119.0 230.0L121.8 230.2L123.0 226.2L124.4 222.4L125.9 218.6L123.4 218.6L121.0 218.5L118.5 218.5L116.0 218.4L113.6 218.4L111.1 218.3L108.7 218.2L106.2 218.2L103.8 218.1L101.4 218.1L98.9 218.0L96.5 218.0L94.1 217.9L91.7 217.9L89.2 217.8L86.8 217.7L84.4 217.7L82.0 217.6L79.6 217.6L77.2 217.5L74.8 217.5L72.4 217.4L70.0 217.3L67.6 217.3L65.2 217.2L62.9 217.2L60.5 217.1L58.1 217.1L54.0 220.2L50.2 223.5Z" fill="#faf6bb" filter="url(#f107)"/><path d="M43.4 230.2L46.1 230.3L48.8 230.3L51.6 230.4L54.3 230.5L57.0 230.6L59.8 230.7L62.5 230.8L65.3 230.9L68.0 231.0L70.8 231.1L73.5 231.2L76.3 231.3L79.1 231.4L81.8 231.4L84.6 231.5L87.4 231.6L90.2 231.7L93.0 231.8L95.8 231.9L98.6 232.0L101.4 232.1L104.2 232.2L107.0 232.3L109.8 232.4L112.6 232.5L115.4 232.5L118.2 232.6L121.1 232.7L122.2 228.7L123.5 224.7L125.0 220.8L126.6 217.1L124.1 217.0L121.7 217.0L119.3 216.9L116.9 216.8L114.5 216.8L112.1 216.7L109.7 216.7L107.3 216.6L104.9 216.6L102.5 216.5L100.1 216.5L97.8 216.4L95.4 216.3L93.0 216.3L90.6 216.2L88.3 216.2L85.9 216.1L83.6 216.1L81.2 216.0L78.9 216.0L76.5 215.9L74.2 215.9L71.8 215.8L69.5 215.7L67.2 215.7L64.9 215.6L62.5 215.6L60.2 215.5L55.5 219.0L51.1 222.7L47.0 226.4Z" fill="#6ab72f" filter="url(#f108)"/><path d="M84.0 249.3L87.2 249.3L90.4 249.3L93.6 249.3L96.8 249.3L100.0 249.3L103.2 249.3L106.4 249.3L109.6 249.3L110.3 245.2L111.1 241.2L112.1 237.2L113.3 233.2L114.6 229.3L111.7 229.3L108.8 229.3L105.9 229.3L103.1 229.3L100.2 229.3L97.3 229.3L94.4 229.3L91.6 229.3L89.6 233.2L87.8 237.2L86.3 241.2L85.0 245.2Z" fill="#faf6bb" filter="url(#f109)"/><path d="M64.5 249.3L67.7 249.3L71.0 249.3L74.3 249.3L77.5 249.3L80.8 249.3L84.0 249.3L85.0 245.2L86.3 241.2L87.8 237.2L89.6 233.2L91.6 229.3L88.6 229.3L85.7 229.3L82.7 229.3L79.8 229.3L76.9 229.3L73.9 229.3L71.4 233.2L69.2 237.2L67.3 241.2L65.7 245.2Z" fill="#faf6bb" filter="url(#f110)"/><path d="M64.5 249.3L67.5 249.3L70.5 249.3L73.5 249.3L76.5 249.3L79.5 249.3L82.5 249.3L85.5 249.3L88.6 249.3L91.6 249.3L94.6 249.3L97.6 249.3L100.6 249.3L103.6 249.3L106.6 249.3L109.6 249.3L110.3 245.2L111.1 241.2L112.1 237.2L113.3 233.2L114.6 229.3L111.9 229.3L109.2 229.3L106.5 229.3L103.7 229.3L101.0 229.3L98.3 229.3L95.6 229.3L92.9 229.3L90.2 229.3L87.5 229.3L84.8 229.3L82.1 229.3L79.4 229.3L76.6 229.3L73.9 229.3L71.4 233.2L69.2 237.2L67.3 241.2L65.7 245.2Z" fill="#d7141b" filter="url(#f111)"/><path d="M68.0 265.9L71.3 265.9L74.5 265.9L77.8 265.9L81.0 265.9L84.3 265.9L87.5 265.9L90.8 265.9L94.0 265.9L97.3 265.9L100.5 265.9L100.7 262.4L100.9 258.9L101.3 255.4L101.7 251.9L102.3 248.4L99.1 248.4L96.0 248.4L92.8 248.4L89.6 248.4L86.5 248.4L83.3 248.4L80.2 248.4L77.0 248.4L73.9 248.4L70.7 248.4L69.9 251.9L69.3 255.4L68.7 258.9L68.3 262.4Z" fill="#faf6bb" filter="url(#f112)"/><path d="M68.0 265.9L71.3 265.9L74.5 265.9L77.8 265.9L81.0 265.9L84.3 265.9L87.5 265.9L90.8 265.9L94.0 265.9L97.3 265.9L100.5 265.9L100.7 262.4L100.9 258.9L101.3 255.4L101.7 251.9L102.3 248.4L99.1 248.4L96.0 248.4L92.8 248.4L89.6 248.4L86.5 248.4L83.3 248.4L80.2 248.4L77.0 248.4L73.9 248.4L70.7 248.4L69.9 251.9L69.3 255.4L68.7 258.9L68.3 262.4Z" fill="#d7141b" filter="url(#f113)"/><path d="M106.7 320.5L109.2 320.5L111.8 320.5L114.4 320.5L116.9 320.5L119.5 320.5L122.1 320.5L124.6 320.5L127.2 320.5L129.8 320.5L132.3 320.5L134.9 320.5L137.5 320.5L136.8 317.2L136.1 313.8L135.5 310.4L135.0 307.0L134.6 303.5L134.2 300.0L133.8 296.5L133.6 293.0L133.4 289.5L133.2 286.0L133.1 282.5L133.0 279.0L133.0 275.5L132.9 272.0L133.0 268.5L133.0 265.0L133.1 261.5L130.0 261.5L126.9 261.5L123.9 261.5L120.8 261.5L117.7 261.5L114.6 261.5L111.5 261.5L108.5 261.5L105.4 261.5L102.3 261.5L99.2 261.5L96.1 261.5L95.9 265.0L95.8 268.5L95.7 272.0L95.8 275.5L95.9 279.0L96.1 282.5L96.4 286.0L96.8 289.5L97.3 293.0L97.9 296.5L98.7 300.0L99.6 303.5L100.7 307.0L102.0 310.4L103.4 313.8L104.9 317.2Z" fill="#faf6bb" filter="url(#f114)"/><path d="M116.9 302.6L119.8 302.6L122.7 302.6L125.7 302.6L128.6 302.6L131.5 302.6L134.4 302.6L134.1 299.1L133.8 295.6L133.5 292.1L133.4 288.6L133.2 285.1L133.1 281.6L133.0 278.1L133.0 274.6L129.9 274.6L126.8 274.6L123.7 274.6L120.6 274.6L117.5 274.6L114.4 274.6L114.4 278.1L114.6 281.6L114.8 285.1L115.0 288.6L115.4 292.1L115.8 295.6L116.3 299.1Z" fill="#faf6bb" filter="url(#f115)"/><path d="M151.3 240.5L154.3 240.5L157.2 240.5L160.2 240.5L163.2 240.5L166.1 240.5L169.1 240.5L172.1 240.5L175.0 240.5L178.0 240.5L181.0 240.5L183.9 240.5L186.9 240.5L189.9 240.5L189.3 236.9L188.6 233.3L187.8 229.7L187.0 226.2L186.1 222.8L185.1 219.4L182.6 219.4L180.1 219.4L177.6 219.4L175.1 219.4L172.6 219.4L170.1 219.4L167.6 219.4L165.1 219.4L162.6 219.4L160.1 219.4L157.6 219.4L155.1 219.4L152.6 219.4L152.3 222.8L152.0 226.2L151.8 229.7L151.6 233.3L151.4 236.9Z" fill="#faf6bb" filter="url(#f116)"/><path d="M151.3 240.5L154.3 240.5L157.2 240.5L160.2 240.5L163.2 240.5L166.1 240.5L169.1 240.5L172.1 240.5L175.0 240.5L178.0 240.5L181.0 240.5L183.9 240.5L186.9 240.5L189.9 240.5L189.3 236.7L188.5 232.9L187.7 229.1L186.8 225.4L185.8 221.8L183.2 221.8L180.6 221.8L178.1 221.8L175.5 221.8L172.9 221.8L170.4 221.8L167.8 221.8L165.2 221.8L162.6 221.8L160.1 221.8L157.5 221.8L154.9 221.8L152.4 221.8L152.1 225.4L151.9 229.1L151.6 232.9L151.5 236.7Z" fill="#d7141b" filter="url(#f117)"/><path d="M176.8 215.5L179.3 215.6L181.8 215.6L184.3 215.7L186.9 215.7L189.4 215.8L191.9 215.9L194.5 215.9L196.7 215.8L199.0 215.7L201.3 215.6L203.5 215.5L205.8 215.3L208.0 215.2L210.3 215.1L212.5 215.0L214.7 214.9L216.9 214.8L219.2 214.8L221.6 214.8L223.9 214.8L226.2 214.8L228.5 214.8L230.8 214.8L233.1 214.8L235.4 214.8L237.7 214.8L240.0 214.8L242.8 215.2L245.6 215.5L248.4 215.9L251.2 216.3L254.1 216.7L256.9 217.1L259.8 217.5L262.7 217.9L265.7 218.2L268.6 218.6L264.2 215.5L259.6 212.5L254.5 209.7L248.9 207.1L243.3 204.7L241.4 204.7L239.5 204.7L237.6 204.7L235.7 204.7L233.8 204.7L231.9 204.7L230.0 204.7L228.2 204.7L226.3 204.7L224.4 204.7L222.5 204.7L220.6 204.7L218.7 204.7L216.8 204.7L214.9 204.7L213.0 204.7L211.1 204.7L209.2 204.7L207.3 204.7L205.5 204.7L203.6 204.7L201.7 204.7L199.8 204.7L197.9 204.7L196.0 204.7L194.1 204.7L192.2 204.7L190.3 204.7L188.4 204.7L186.5 204.7L184.6 204.7L182.8 204.7L180.9 204.7L179.0 204.7L177.1 204.7L175.2 204.7L173.3 204.7L174.2 207.1L175.2 209.7L176.0 212.5Z" fill="#faf6bb" filter="url(#f118)"/><path d="M182.0 213.7L184.4 213.6L186.8 213.6L189.2 213.5L191.6 213.4L194.0 213.4L196.4 213.3L198.8 213.3L201.0 213.0L203.2 212.7L205.4 212.5L207.6 212.2L209.7 212.0L211.9 211.7L214.0 211.5L216.2 211.5L218.4 211.5L220.7 211.6L222.9 211.6L225.1 211.7L227.4 211.7L229.6 211.7L231.8 211.8L234.1 211.8L236.3 211.8L238.9 212.1L241.6 212.4L244.2 212.7L246.8 213.0L249.5 213.3L252.2 213.6L254.9 213.9L257.6 214.2L260.3 214.5L263.1 214.8L257.1 211.1L250.4 207.7L243.3 204.7L241.4 204.7L239.6 204.7L237.7 204.7L235.8 204.7L234.0 204.7L232.1 204.7L230.2 204.7L228.4 204.7L226.5 204.7L224.6 204.7L222.8 204.7L220.9 204.7L219.0 204.7L217.2 204.7L215.3 204.7L213.4 204.7L211.6 204.7L209.7 204.7L207.8 204.7L206.0 204.7L204.1 204.7L202.2 204.7L200.4 204.7L198.5 204.7L196.6 204.7L194.8 204.7L192.9 204.7L191.0 204.7L189.2 204.7L187.3 204.7L185.4 204.7L183.6 204.7L181.7 204.7L179.8 204.7L178.0 204.7L179.4 207.4L180.7 210.4Z" fill="#faf6bb" filter="url(#f119)"/><path d="M186.2 228.5L188.9 228.5L191.6 228.5L194.3 228.5L197.0 228.5L199.7 228.5L202.4 228.5L205.1 228.5L207.8 228.5L210.5 228.5L213.1 228.5L215.8 228.5L218.5 228.5L221.2 228.5L223.9 228.5L226.6 228.5L229.3 228.5L232.0 228.5L234.7 228.5L237.4 228.5L240.1 228.5L242.8 228.5L245.5 228.5L248.1 228.5L250.8 228.5L253.5 228.5L256.2 228.5L258.9 228.5L261.6 228.5L264.3 228.5L267.0 228.5L269.7 228.5L272.4 228.5L275.1 228.5L277.8 228.5L280.5 228.5L276.6 224.9L272.3 221.4L267.8 218.1L263.1 214.8L260.8 214.8L258.4 214.8L256.1 214.8L253.8 214.8L251.5 214.8L249.2 214.8L246.9 214.8L244.6 214.8L242.3 214.8L240.0 214.8L237.7 214.8L235.4 214.8L233.1 214.8L230.8 214.8L228.5 214.8L226.2 214.8L223.9 214.8L221.6 214.8L219.2 214.8L216.9 214.8L214.6 214.8L212.3 214.8L210.0 214.8L207.7 214.8L205.4 214.8L203.1 214.8L200.8 214.8L198.5 214.8L196.2 214.8L193.9 214.8L191.6 214.8L189.3 214.8L187.0 214.8L184.7 214.8L182.4 214.8L183.4 218.1L184.4 221.4L185.4 224.9Z" fill="#faf6bb" filter="url(#f120)"/><path d="M150.3 246.6L153.3 246.6L156.3 246.6L159.3 246.6L162.3 246.6L165.3 246.6L168.3 246.6L171.2 246.6L174.2 246.6L177.2 246.6L180.2 246.6L183.2 246.6L186.2 246.6L185.8 242.7L185.3 238.8L182.4 238.8L179.5 238.8L176.6 238.8L173.7 238.8L170.8 238.8L168.0 238.8L165.1 238.8L162.2 238.8L159.3 238.8L156.4 238.8L153.5 238.8L150.6 238.8L150.5 242.7Z" fill="#faf6bb" filter="url(#f121)"/><path d="M185.5 261.5L188.6 261.5L191.7 261.5L194.7 261.5L197.8 261.5L200.9 261.5L204.0 261.5L207.1 261.5L206.8 257.9L206.5 254.3L206.1 250.6L205.6 247.0L205.0 243.4L204.3 239.8L203.4 236.2L200.5 236.2L197.7 236.2L194.8 236.2L192.0 236.2L189.2 236.2L186.3 236.2L183.5 236.2L184.0 239.8L184.4 243.4L184.7 247.0L185.0 250.6L185.2 254.3L185.4 257.9Z" fill="#faf6bb" filter="url(#f122)"/><path d="M192.9 241.4L195.9 241.4L198.8 241.4L201.7 241.4L204.6 241.4L207.6 241.4L210.5 241.4L213.4 241.4L216.3 241.4L219.3 241.4L218.1 237.7L216.8 234.0L215.3 230.4L213.7 226.8L211.0 226.8L208.4 226.8L205.7 226.8L203.1 226.8L200.4 226.8L197.7 226.8L195.1 226.8L192.4 226.8L189.8 226.8L190.7 230.4L191.5 234.0L192.3 237.7Z" fill="#faf6bb" filter="url(#f123)"/><path d="M211.9 266.8L215.3 266.8L218.7 266.8L222.1 266.8L225.6 266.8L229.0 266.8L228.8 263.1L228.5 259.5L228.0 255.8L227.5 252.2L226.9 248.5L226.1 244.9L222.8 244.9L219.5 244.9L216.3 244.9L213.0 244.9L209.7 244.9L210.4 248.5L210.8 252.2L211.2 255.8L211.5 259.5L211.8 263.1Z" fill="#faf6bb" filter="url(#f124)"/><path d="M211.9 266.8L215.3 266.8L218.7 266.8L222.1 266.8L225.6 266.8L229.0 266.8L228.8 263.1L228.5 259.5L228.0 255.8L227.5 252.2L226.9 248.5L226.1 244.9L222.8 244.9L219.5 244.9L216.3 244.9L213.0 244.9L209.7 244.9L210.4 248.5L210.8 252.2L211.2 255.8L211.5 259.5L211.8 263.1Z" fill="#d7141b" filter="url(#f125)"/><path d="M235.5 254.5L238.5 254.5L241.6 254.5L244.6 254.5L247.7 254.5L250.7 254.5L253.8 254.5L253.0 250.7L251.9 246.8L250.6 243.0L248.9 239.1L247.0 235.3L244.1 235.3L241.3 235.3L238.5 235.3L235.6 235.3L232.8 235.3L230.0 235.3L231.6 239.1L232.9 243.0L234.0 246.8L234.8 250.7Z" fill="#faf6bb" filter="url(#f126)"/><path d="M235.5 254.5L238.5 254.5L241.6 254.5L244.6 254.5L247.7 254.5L250.7 254.5L253.8 254.5L253.0 250.7L251.9 246.8L250.6 243.0L248.9 239.1L247.0 235.3L244.1 235.3L241.3 235.3L238.5 235.3L235.6 235.3L232.8 235.3L230.0 235.3L231.6 239.1L232.9 243.0L234.0 246.8L234.8 250.7Z" fill="#d7141b" filter="url(#f127)"/><path d="M247.2 245.8L250.1 245.8L253.1 245.8L256.1 245.8L259.1 245.8L262.0 245.8L265.0 245.8L268.0 245.8L266.4 242.3L264.6 238.8L262.5 235.3L260.1 231.9L257.6 228.5L254.9 228.5L252.2 228.5L249.5 228.5L246.8 228.5L244.1 228.5L241.4 228.5L238.7 228.5L240.8 231.9L242.7 235.3L244.4 238.8L245.9 242.3Z" fill="#faf6bb" filter="url(#f128)"/><path d="M247.2 245.8L250.1 245.8L253.1 245.8L256.1 245.8L259.1 245.8L262.0 245.8L265.0 245.8L268.0 245.8L266.4 242.3L264.6 238.8L262.5 235.3L260.1 231.9L257.6 228.5L254.9 228.5L252.2 228.5L249.5 228.5L246.8 228.5L244.1 228.5L241.4 228.5L238.7 228.5L240.8 231.9L242.7 235.3L244.4 238.8L245.9 242.3Z" fill="#d7141b" filter="url(#f129)"/><path d="M230.3 280.7L233.4 280.7L236.5 280.7L239.6 280.7L242.7 280.7L245.8 280.7L248.9 280.7L251.9 280.7L255.0 280.7L258.1 280.7L258.4 277.2L258.5 273.7L258.5 270.3L258.4 266.8L258.1 263.3L257.7 259.8L257.1 256.3L256.4 252.8L253.4 252.8L250.4 252.8L247.3 252.8L244.3 252.8L241.3 252.8L238.2 252.8L235.2 252.8L232.2 252.8L229.1 252.8L229.6 256.3L230.0 259.8L230.3 263.3L230.5 266.8L230.6 270.3L230.6 273.7L230.5 277.2Z" fill="#faf6bb" filter="url(#f130)"/><path d="M230.3 280.7L233.4 280.7L236.5 280.7L239.6 280.7L242.7 280.7L245.8 280.7L248.9 280.7L251.9 280.7L255.0 280.7L258.1 280.7L258.4 277.2L258.5 273.7L258.5 270.3L258.4 266.8L258.1 263.3L257.7 259.8L257.1 256.3L256.4 252.8L253.4 252.8L250.4 252.8L247.3 252.8L244.3 252.8L241.3 252.8L238.2 252.8L235.2 252.8L232.2 252.8L229.1 252.8L229.6 256.3L230.0 259.8L230.3 263.3L230.5 266.8L230.6 270.3L230.6 273.7L230.5 277.2Z" fill="#d7141b" filter="url(#f131)"/><path d="M146.2 303.5L149.2 303.5L152.2 303.5L155.2 303.5L158.2 303.5L161.2 303.5L164.2 303.5L167.2 303.5L170.2 303.5L173.2 303.5L176.2 303.5L179.2 303.5L182.2 303.5L185.2 303.5L188.2 303.5L191.2 303.5L194.2 303.5L197.1 303.5L197.7 299.9L198.2 296.4L198.6 292.8L198.9 289.3L199.2 285.7L199.4 282.2L199.5 278.6L199.6 275.1L199.6 271.5L199.6 268.0L199.5 264.4L199.3 260.9L199.1 257.3L198.8 253.8L198.5 250.2L198.1 246.6L195.0 246.6L192.0 246.6L188.9 246.6L185.8 246.6L182.8 246.6L179.7 246.6L176.6 246.6L173.5 246.6L170.5 246.6L167.4 246.6L164.3 246.6L161.2 246.6L158.2 246.6L155.1 246.6L152.0 246.6L148.9 246.6L145.9 246.6L145.7 250.2L145.6 253.8L145.5 257.3L145.4 260.9L145.4 264.4L145.4 268.0L145.3 271.5L145.4 275.1L145.4 278.6L145.4 282.2L145.5 285.7L145.6 289.3L145.7 292.8L145.8 296.4L146.0 299.9Z" fill="#faf6bb" filter="url(#f132)"/><path d="M235.8 311.3L238.6 311.3L241.5 311.3L244.3 311.3L247.2 311.3L250.1 311.3L252.9 311.3L255.8 311.3L258.7 311.3L261.5 311.3L264.4 311.3L267.2 311.3L270.1 311.3L273.0 311.3L275.8 311.3L278.7 311.3L281.5 311.3L284.4 311.3L287.5 307.5L290.2 303.7L292.4 299.9L294.2 296.0L295.6 292.2L296.7 288.4L297.6 284.6L298.3 280.7L295.1 280.7L291.9 280.7L288.7 280.7L285.5 280.7L282.4 280.7L279.2 280.7L276.0 280.7L272.8 280.7L269.6 280.7L266.5 280.7L263.3 280.7L260.1 280.7L256.9 280.7L253.8 280.7L250.6 280.7L247.4 280.7L244.2 280.7L243.8 284.6L243.3 288.4L242.6 292.2L241.8 296.0L240.6 299.9L239.3 303.7L237.7 307.5Z" fill="#faf6bb" filter="url(#f133)"/><path d="M151.4 237.0L154.4 237.0L157.4 237.0L160.4 237.0L163.4 237.0L166.4 237.0L169.3 237.0L172.3 237.0L175.3 237.0L178.3 237.0L181.3 237.0L184.3 237.0L187.3 237.0L190.2 237.0L193.2 237.0L196.2 237.0L199.2 237.0L202.2 237.0L201.2 233.3L200.1 229.7L198.8 226.1L197.4 222.5L195.9 219.1L194.4 215.7L192.7 212.5L190.4 212.5L188.1 212.5L185.8 212.5L183.4 212.5L181.1 212.5L178.8 212.5L176.4 212.5L174.1 212.5L171.8 212.5L169.5 212.5L167.1 212.5L164.8 212.5L162.5 212.5L160.2 212.5L157.8 212.5L155.5 212.5L153.2 212.5L152.9 215.7L152.6 219.1L152.3 222.5L152.1 226.1L151.8 229.7L151.6 233.3Z" fill="#6ab72f" filter="url(#f134)"/><path d="M201.0 232.7L203.8 232.7L206.6 232.7L209.3 232.7L212.1 232.7L214.9 232.7L217.7 232.7L220.5 232.7L223.2 232.7L226.0 232.7L228.8 232.7L231.6 232.7L234.4 232.7L237.1 232.7L239.9 232.7L242.7 232.7L245.5 232.7L248.3 232.7L251.0 232.7L253.8 232.7L256.6 232.7L259.4 232.7L262.2 232.7L264.9 232.7L267.7 232.7L270.5 232.7L273.3 232.7L276.1 232.7L278.8 232.7L281.6 232.7L284.4 232.7L281.1 229.2L277.4 225.7L273.3 222.2L269.0 218.9L264.4 215.7L259.6 212.5L257.4 212.5L255.2 212.5L252.9 212.5L250.7 212.5L248.5 212.5L246.2 212.5L244.0 212.5L241.8 212.5L239.6 212.5L237.3 212.5L235.1 212.5L232.9 212.5L230.6 212.5L228.4 212.5L226.2 212.5L223.9 212.5L221.7 212.5L219.5 212.5L217.3 212.5L215.0 212.5L212.8 212.5L210.6 212.5L208.3 212.5L206.1 212.5L203.9 212.5L201.7 212.5L199.4 212.5L197.2 212.5L195.0 212.5L192.7 212.5L194.3 215.7L195.9 218.9L197.3 222.2L198.7 225.7L199.9 229.2Z" fill="#6ab72f" filter="url(#f135)"/><path d="M64.5 249.3L67.5 249.3L70.5 249.3L73.5 249.3L76.5 249.3L79.5 249.3L82.5 249.3L85.5 249.3L88.6 249.3L91.6 249.3L94.6 249.3L97.6 249.3L100.6 249.3L103.6 249.3L106.6 249.3L109.6 249.3L110.3 245.2L111.1 241.2L112.1 237.2L113.3 233.2L114.6 229.3L111.9 229.3L109.2 229.3L106.5 229.3L103.7 229.3L101.0 229.3L98.3 229.3L95.6 229.3L92.9 229.3L90.2 229.3L87.5 229.3L84.8 229.3L82.1 229.3L79.4 229.3L76.6 229.3L73.9 229.3L71.4 233.2L69.2 237.2L67.3 241.2L65.7 245.2Z" fill="#6ab72f" filter="url(#f136)"/><path d="M69.2 307.0L72.1 307.0L75.0 307.0L77.8 307.0L80.7 307.0L83.5 307.0L86.4 307.0L89.3 307.0L92.1 307.0L95.0 307.0L97.8 307.0L100.7 307.0L103.5 307.0L106.4 307.0L109.3 307.0L112.1 307.0L115.0 307.0L117.8 307.0L120.7 307.0L123.6 307.0L126.4 307.0L129.3 307.0L132.1 307.0L135.0 307.0L137.9 307.0L140.7 307.0L143.6 307.0L146.4 307.0L149.3 307.0L152.2 307.0L155.0 307.0L157.9 307.0L160.7 307.0L163.6 307.0L166.4 307.0L169.3 307.0L172.2 307.0L175.0 307.0L177.9 307.0L180.7 307.0L183.6 307.0L186.5 307.0L189.3 307.0L192.2 307.0L195.0 307.0L197.9 307.0L200.8 307.0L203.6 307.0L206.5 307.0L209.3 307.0L212.2 307.0L215.1 307.0L217.9 307.0L220.8 307.0L223.6 307.0L226.5 307.0L229.3 307.0L232.2 307.0L235.1 307.0L237.9 307.0L240.8 307.0L243.6 307.0L246.5 307.0L249.4 307.0L252.2 307.0L255.1 307.0L257.9 307.0L260.8 307.0L263.7 307.0L266.5 307.0L268.5 303.4L270.3 299.7L271.7 296.1L272.8 292.5L273.7 288.9L274.4 285.3L275.0 281.7L275.3 278.1L275.5 274.5L275.6 270.9L275.4 267.2L275.1 263.6L274.6 260.0L274.0 256.4L273.1 252.8L272.2 249.2L270.9 245.6L269.2 242.0L267.3 238.4L265.0 234.8L262.4 231.2L259.6 227.7L256.4 224.3L253.8 224.3L251.3 224.3L248.7 224.3L246.1 224.3L243.5 224.3L240.9 224.3L238.3 224.3L235.7 224.3L233.1 224.3L230.5 224.3L227.9 224.3L225.4 224.3L222.8 224.3L220.2 224.3L217.6 224.3L215.0 224.3L212.4 224.3L209.8 224.3L207.2 224.3L204.6 224.3L202.0 224.3L199.5 224.3L196.9 224.3L194.3 224.3L191.7 224.3L189.1 224.3L186.5 224.3L183.9 224.3L181.3 224.3L178.7 224.3L176.1 224.3L173.5 224.3L171.0 224.3L168.4 224.3L165.8 224.3L163.2 224.3L160.6 224.3L158.0 224.3L155.4 224.3L152.8 224.3L150.2 224.3L147.6 224.3L145.1 224.3L142.5 224.3L139.9 224.3L137.3 224.3L134.7 224.3L132.1 224.3L129.5 224.3L126.9 224.3L124.3 224.3L121.7 224.3L119.1 224.3L116.6 224.3L114.0 224.3L111.4 224.3L108.8 224.3L106.2 224.3L103.6 224.3L101.0 224.3L98.4 224.3L95.8 224.3L93.2 224.3L90.7 224.3L88.1 224.3L85.5 224.3L82.9 224.3L80.3 224.3L77.7 224.3L75.0 227.7L72.7 231.2L70.5 234.8L68.6 238.4L67.0 242.0L65.6 245.6L64.5 249.2L63.7 252.8L63.0 256.4L62.4 260.0L62.0 263.6L61.7 267.2L61.6 270.9L61.7 274.5L61.8 278.1L62.1 281.7L62.6 285.3L63.2 288.9L63.9 292.5L64.9 296.1L66.1 299.7L67.5 303.4Z" fill="#f4a31b" filter="url(#f137)"/><path d="M62.0 280.7L65.2 280.7L68.3 280.7L71.4 280.7L74.5 280.7L77.7 280.7L80.8 280.7L83.9 280.7L87.0 280.7L90.2 280.7L93.3 280.7L96.4 280.7L99.5 280.7L102.7 280.7L105.8 280.7L108.9 280.7L112.0 280.7L115.2 280.7L118.3 280.7L121.4 280.7L124.5 280.7L127.7 280.7L130.8 280.7L133.9 280.7L137.0 280.7L140.2 280.7L143.3 280.7L146.4 280.7L149.5 280.7L152.7 280.7L155.8 280.7L158.9 280.7L162.0 280.7L165.2 280.7L168.3 280.7L171.4 280.7L174.5 280.7L177.7 280.7L180.8 280.7L183.9 280.7L187.0 280.7L190.2 280.7L193.3 280.7L196.4 280.7L199.5 280.7L202.7 280.7L205.8 280.7L208.9 280.7L212.0 280.7L215.2 280.7L218.3 280.7L221.4 280.7L224.5 280.7L227.7 280.7L230.8 280.7L233.9 280.7L237.0 280.7L240.2 280.7L243.3 280.7L246.4 280.7L249.5 280.7L252.7 280.7L255.8 280.7L256.0 277.2L256.2 273.7L256.2 270.3L256.0 266.8L255.8 263.3L255.4 259.8L254.8 256.3L254.2 252.8L253.4 249.3L252.4 245.8L251.0 242.3L249.5 238.8L247.7 235.3L245.6 231.9L243.4 228.5L240.7 228.5L238.0 228.5L235.3 228.5L232.5 228.5L229.8 228.5L227.1 228.5L224.4 228.5L221.6 228.5L218.9 228.5L216.2 228.5L213.5 228.5L210.7 228.5L208.0 228.5L205.3 228.5L202.6 228.5L199.8 228.5L197.1 228.5L194.4 228.5L191.7 228.5L188.9 228.5L186.2 228.5L183.5 228.5L180.8 228.5L178.0 228.5L175.3 228.5L172.6 228.5L169.9 228.5L167.1 228.5L164.4 228.5L161.7 228.5L159.0 228.5L156.2 228.5L153.5 228.5L150.8 228.5L148.1 228.5L145.3 228.5L142.6 228.5L139.9 228.5L137.2 228.5L134.4 228.5L131.7 228.5L129.0 228.5L126.3 228.5L123.5 228.5L120.8 228.5L118.1 228.5L115.4 228.5L112.6 228.5L109.9 228.5L107.2 228.5L104.5 228.5L101.7 228.5L99.0 228.5L96.3 228.5L93.6 228.5L90.8 228.5L88.1 228.5L85.4 228.5L82.7 228.5L79.9 228.5L77.2 228.5L74.5 228.5L72.3 231.9L70.2 235.3L68.4 238.8L66.8 242.3L65.5 245.8L64.5 249.3L63.7 252.8L63.0 256.3L62.5 259.8L62.0 263.3L61.8 266.8L61.6 270.3L61.6 273.7L61.8 277.2Z" fill="#d7141b" filter="url(#f138)"/><path d="M68.2 207.7L70.2 207.7L72.3 207.7L74.3 207.7L76.3 207.7L78.3 207.7L80.4 207.7L82.4 207.7L84.4 207.7L86.4 207.7L88.5 207.7L90.5 207.7L92.5 207.7L94.5 207.7L96.6 207.7L98.6 207.7L100.6 207.7L102.6 207.7L104.7 207.7L106.7 207.7L108.7 207.7L110.7 207.7L112.7 207.7L114.8 207.7L116.8 207.7L118.8 207.7L120.8 207.7L122.9 207.7L124.9 207.7L126.9 207.7L128.9 207.7L131.0 207.7L133.0 207.7L135.0 207.7L137.0 207.7L139.1 207.7L141.1 207.7L143.1 207.7L145.1 207.7L147.2 207.7L149.2 207.7L151.2 207.7L153.2 207.7L155.3 207.7L157.3 207.7L159.3 207.7L161.3 207.7L163.3 207.7L165.4 207.7L167.4 207.7L169.4 207.7L171.4 207.7L173.5 207.7L175.5 207.7L177.5 207.7L179.5 207.7L181.6 207.7L183.6 207.7L185.6 207.7L187.6 207.7L189.7 207.7L191.7 207.7L193.7 207.7L195.7 207.7L197.8 207.7L199.8 207.7L201.8 207.7L203.8 207.7L205.9 207.7L207.9 207.7L209.9 207.7L211.9 207.7L213.9 207.7L216.0 207.7L218.0 207.7L220.0 207.7L222.0 207.7L224.1 207.7L226.1 207.7L228.1 207.7L230.1 207.7L232.2 207.7L234.2 207.7L236.2 207.7L238.2 207.7L240.3 207.7L242.3 207.7L244.3 207.7L246.3 207.7L248.4 207.7L250.4 207.7L244.2 205.1L238.4 203.0L233.6 201.5L231.9 201.5L230.3 201.5L228.6 201.5L227.0 201.5L225.3 201.5L223.7 201.5L222.0 201.5L220.4 201.5L218.7 201.5L217.1 201.5L215.4 201.5L213.8 201.5L212.1 201.5L210.5 201.5L208.8 201.5L207.2 201.5L205.5 201.5L203.9 201.5L202.2 201.5L200.6 201.5L198.9 201.5L197.3 201.5L195.6 201.5L194.0 201.5L192.3 201.5L190.7 201.5L189.0 201.5L187.4 201.5L185.7 201.5L184.1 201.5L182.4 201.5L180.8 201.5L179.1 201.5L177.5 201.5L175.8 201.5L174.2 201.5L172.5 201.5L170.9 201.5L169.2 201.5L167.6 201.5L165.9 201.5L164.3 201.5L162.6 201.5L161.0 201.5L159.3 201.5L157.6 201.5L156.0 201.5L154.3 201.5L152.7 201.5L151.0 201.5L149.4 201.5L147.7 201.5L146.1 201.5L144.4 201.5L142.8 201.5L141.1 201.5L139.5 201.5L137.8 201.5L136.2 201.5L134.5 201.5L132.9 201.5L131.2 201.5L129.6 201.5L127.9 201.5L126.3 201.5L124.6 201.5L123.0 201.5L121.3 201.5L119.7 201.5L118.0 201.5L116.4 201.5L114.7 201.5L113.1 201.5L111.4 201.5L109.8 201.5L108.1 201.5L106.5 201.5L104.8 201.5L103.2 201.5L101.5 201.5L99.9 201.5L98.2 201.5L96.6 201.5L94.9 201.5L93.3 201.5L91.6 201.5L90.0 201.5L88.3 201.5L86.7 201.5L85.0 201.5L80.2 203.0L74.4 205.1Z" fill="#fff"/></g><path d="M26.2 232.5H292.4" stroke="#9a9a9a" stroke-width="0.9" fill="none"/><path d="M122.2 201.5L119.4 203.2L115.9 205.8L112.3 209.0L109.1 212.5L106.3 216.3L103.6 220.2L101.0 224.3L98.7 228.5L96.7 232.7L95.0 237.0L93.5 241.4L92.3 245.8L91.4 250.1L90.7 254.5L90.2 258.9L89.8 263.3L89.6 267.6L89.5 272.0L89.6 276.4L89.8 280.7L90.2 285.1L90.7 289.5L91.4 293.9L92.3 298.2L93.5 302.6L95.0 307.0L96.7 311.3L98.7 315.5L101.0 319.7L103.6 323.8L106.3 327.7L109.1 331.5L112.3 335.0L115.9 338.2L119.4 340.8L122.2 342.5" stroke="#c3ccd2" stroke-width="0.5" fill="none" stroke-dasharray="1.2 1.6"/><path d="M196.4 201.5L199.2 203.2L202.7 205.8L206.3 209.0L209.5 212.5L212.3 216.3L215.0 220.2L217.6 224.3L219.9 228.5L221.9 232.7L223.6 237.0L225.1 241.4L226.3 245.8L227.2 250.1L227.9 254.5L228.4 258.9L228.8 263.3L229.0 267.6L229.1 272.0L229.0 276.4L228.8 280.7L228.4 285.1L227.9 289.5L227.2 293.9L226.3 298.2L225.1 302.6L223.6 307.0L221.9 311.3L219.9 315.5L217.6 319.7L215.0 323.8L212.3 327.7L209.5 331.5L206.3 335.0L202.7 338.2L199.2 340.8L196.4 342.5" stroke="#c3ccd2" stroke-width="0.5" fill="none" stroke-dasharray="1.2 1.6"/></g><path d="M233.6 201.5L239.2 203.2L246.0 205.8L253.3 209.0L259.6 212.5L265.4 216.3L270.8 220.2L275.9 224.3L280.5 228.5L284.4 232.7L288.0 237.0L290.9 241.4L293.3 245.8L295.1 250.1L296.4 254.5L297.5 258.9L298.3 263.3L298.7 267.6L298.9 272.0L298.7 276.4L298.3 280.7L297.5 285.1L296.4 289.5L295.1 293.9L293.3 298.2L290.9 302.6L288.0 307.0L284.4 311.3L280.5 315.5L275.9 319.7L270.8 323.8L265.4 327.7L259.6 331.5L253.3 335.0L246.0 338.2L239.2 340.8L233.6 342.5L85.0 342.5L79.4 340.8L72.6 338.2L65.3 335.0L59.0 331.5L53.2 327.7L47.8 323.8L42.7 319.7L38.1 315.5L34.2 311.3L30.6 307.0L27.7 302.6L25.3 298.2L23.5 293.9L22.2 289.5L21.1 285.1L20.3 280.7L19.9 276.4L19.7 272.0L19.9 267.6L20.3 263.3L21.1 258.9L22.2 254.5L23.5 250.1L25.3 245.8L27.7 241.4L30.6 237.0L34.2 232.7L38.1 228.5L42.7 224.3L47.8 220.2L53.2 216.3L59.0 212.5L65.3 209.0L72.6 205.8L79.4 203.2L85.0 201.5Z" fill="none" stroke="#a9a9a9" stroke-width="0.5" stroke-dasharray="1.5 1.8"/><g clip-path="url(#fr4)"><rect x="318.3" y="200.5" width="280.6" height="143.0" fill="#bde0f4"/><path d="M369.2 336.9L371.9 337.0L374.6 337.2L377.3 337.3L379.7 337.3L382.2 337.3L384.7 337.3L386.6 336.9L388.5 336.6L390.4 336.3L392.4 336.0L394.5 335.6L397.2 335.8L399.9 335.9L402.6 336.0L404.5 335.5L406.5 335.0L409.1 335.0L411.7 335.0L414.5 335.2L417.2 335.3L418.7 333.9L419.2 330.7L420.2 328.5L422.0 327.3L424.6 326.5L424.2 327.7L422.7 328.8L422.0 330.7L425.4 333.6L427.3 335.0L430.6 336.0L433.8 336.9L436.3 337.1L438.9 337.3L441.2 336.9L444.2 335.6L446.1 334.8L448.0 333.9L450.0 333.2L452.1 332.5L455.8 331.8L458.6 331.5L461.4 331.5L464.2 331.5L466.9 331.5L469.7 331.5L472.6 331.1L475.5 330.7L477.7 330.9L479.9 331.1L484.3 329.6L488.8 328.5L492.0 329.2L495.8 329.6L498.2 330.3L500.5 331.1L504.4 329.6L506.9 329.2L509.5 328.8L513.5 328.8L516.5 328.8L519.5 328.7L522.3 328.8L525.1 328.8L528.1 328.8L531.1 328.7L534.1 328.6L537.1 328.5L539.0 328.8L540.9 329.2L543.6 330.2L545.6 330.8L547.6 331.5L549.7 332.5L549.6 333.6L544.6 335.0L540.2 336.6L540.9 337.3L543.3 337.2L545.7 337.0L548.0 336.9L542.4 339.3L537.2 341.2L532.7 342.5L531.1 342.5L529.4 342.5L527.8 342.5L526.1 342.5L524.5 342.5L522.9 342.5L521.2 342.5L519.6 342.5L517.9 342.5L516.3 342.5L514.6 342.5L513.0 342.5L511.3 342.5L509.7 342.5L508.0 342.5L506.4 342.5L504.7 342.5L503.1 342.5L501.4 342.5L499.8 342.5L498.1 342.5L496.5 342.5L494.8 342.5L493.2 342.5L491.5 342.5L489.9 342.5L488.3 342.5L486.6 342.5L485.0 342.5L483.3 342.5L481.7 342.5L480.0 342.5L478.4 342.5L476.7 342.5L475.1 342.5L473.4 342.5L471.8 342.5L470.1 342.5L468.5 342.5L466.8 342.5L465.2 342.5L463.5 342.5L461.9 342.5L460.2 342.5L458.6 342.5L457.0 342.5L455.3 342.5L453.7 342.5L452.0 342.5L450.4 342.5L448.7 342.5L447.1 342.5L445.4 342.5L443.8 342.5L442.1 342.5L440.5 342.5L438.8 342.5L437.2 342.5L435.5 342.5L433.9 342.5L432.2 342.5L430.6 342.5L428.9 342.5L427.3 342.5L425.7 342.5L424.0 342.5L422.4 342.5L420.7 342.5L419.1 342.5L417.4 342.5L415.8 342.5L414.1 342.5L412.5 342.5L410.8 342.5L409.2 342.5L407.5 342.5L405.9 342.5L404.2 342.5L402.6 342.5L400.9 342.5L399.3 342.5L397.6 342.5L396.0 342.5L394.3 342.5L392.7 342.5L391.1 342.5L389.4 342.5L387.8 342.5L386.1 342.5L384.5 342.5L380.0 341.2L374.8 339.3Z" fill="#fff"/><path d="M360.4 215.9L364.7 213.7L372.7 211.6L379.8 212.8L387.6 212.4L393.5 213.7L397.2 214.0L404.0 214.0L407.3 211.5L408.8 213.7L412.7 212.9L412.0 214.8L408.6 215.5L406.9 217.1L402.2 218.6L399.7 221.0L399.9 222.7L403.8 224.0L405.5 224.2L404.5 226.0L405.8 227.2L407.3 224.7L409.8 223.1L409.6 221.2L411.8 218.4L414.2 218.4L415.8 219.4L415.2 221.2L417.4 221.2L418.9 220.0L419.4 223.1L421.3 224.7L421.8 226.8L419.1 228.2L414.3 228.3L410.7 231.0L414.7 229.3L414.3 231.4L416.6 231.9L414.1 233.2L412.4 234.0L412.1 232.7L409.6 234.0L408.8 235.6L406.0 236.6L404.3 238.8L403.2 241.2L401.1 242.5L398.7 244.5L398.5 248.4L398.1 250.0L397.2 249.3L396.8 247.5L396.2 245.8L394.1 245.4L392.2 245.6L392.0 246.5L389.1 246.0L386.1 247.5L384.9 251.0L384.7 254.1L386.2 255.7L388.9 255.8L389.9 253.6L392.7 253.2L391.7 256.1L390.7 258.1L394.3 258.2L394.8 259.0L394.1 262.2L395.0 264.0L397.2 263.7L399.0 264.5L398.3 265.4L396.5 265.6L394.6 264.7L392.6 263.3L391.4 260.6L388.4 259.8L386.3 257.8L384.7 258.3L381.5 256.9L378.4 254.5L378.8 252.3L376.4 249.3L374.9 246.2L373.9 244.3L375.0 250.1L375.6 251.9L374.0 250.1L373.1 247.5L372.6 245.8L372.3 243.6L370.5 241.8L370.3 239.5L370.2 236.8L371.5 234.5L373.3 231.6L374.0 229.8L375.4 229.3L373.6 227.6L373.9 224.7L374.3 221.8L372.9 220.6L370.2 220.2L367.6 219.8L364.2 220.6L361.3 222.2L357.1 223.5L351.9 224.7L354.8 223.5L359.6 221.4L357.6 221.0L357.8 219.0L363.0 217.1L361.1 216.7ZM416.1 210.1L419.3 211.5L420.8 212.5L422.9 214.8L421.0 216.3L418.6 218.6L415.8 218.2L414.9 216.7L412.5 216.7L416.8 214.4L415.8 212.5L411.3 212.5L409.7 211.8L410.8 210.1ZM394.4 211.8L399.5 213.3L402.1 212.9L402.6 210.8L399.7 210.4L396.0 210.4ZM390.4 211.5L392.2 211.8L396.5 210.4L396.7 209.4L393.1 209.7ZM412.8 208.0L418.9 208.0L421.6 206.7L429.7 204.7L426.5 204.2L419.0 204.7L414.7 205.5L415.4 207.1ZM410.7 209.0L416.6 209.4L417.6 208.4L412.4 207.9ZM397.6 209.0L403.4 209.0L405.2 208.0L399.1 208.0ZM411.4 207.1L415.2 206.7L416.0 205.3L412.4 205.8ZM403.0 211.5L406.6 211.1L409.5 209.7L405.3 209.7ZM406.7 217.5L410.2 217.5L411.2 215.9L408.3 215.9ZM418.2 230.4L422.2 231.3L422.9 229.7L421.7 227.2L420.3 228.0ZM394.2 252.8L398.1 251.9L401.7 253.9L402.2 254.4L399.7 254.6L399.5 253.2L396.5 252.5ZM401.9 255.9L403.9 254.7L406.5 255.7L404.1 256.5ZM399.0 264.5L400.5 262.6L402.9 261.7L403.8 261.2L404.8 261.9L406.1 262.6L408.9 263.0L410.9 262.6L412.3 264.6L414.6 266.8L416.9 266.9L418.8 268.2L419.9 270.7L419.9 272.4L421.8 272.6L424.2 274.2L427.7 274.4L430.0 276.2L431.6 277.1L431.8 279.0L430.1 281.6L428.7 283.8L428.8 287.3L427.7 290.8L426.9 292.1L424.6 292.8L422.2 294.7L422.3 296.9L420.8 299.1L419.4 301.7L417.4 302.4L415.9 301.7L417.3 303.9L416.9 305.6L414.2 306.1L414.4 307.8L412.5 307.8L413.8 309.4L413.2 311.3L412.1 312.1L413.7 313.8L412.4 316.0L413.5 317.5L413.7 317.9L416.4 319.5L414.5 320.1L411.9 319.3L409.3 317.2L407.4 314.3L407.3 310.4L406.0 307.0L405.7 303.9L405.9 300.0L405.2 296.5L405.5 292.1L405.0 288.0L403.2 286.7L400.3 284.2L399.0 282.1L397.3 278.6L395.9 277.2L395.8 275.8L396.7 274.6L396.1 272.9L396.7 271.6L397.6 270.7L398.7 268.5L398.8 265.9ZM454.3 240.7L457.1 241.2L460.8 239.8L465.8 239.4L466.6 239.8L466.1 242.3L466.7 243.0L469.9 243.8L472.7 245.5L473.4 244.9L473.5 243.6L475.5 243.5L477.2 244.4L480.1 245.0L482.3 244.6L482.7 245.8L483.6 247.5L485.4 251.0L486.7 253.6L487.2 255.8L488.8 258.4L491.6 261.0L491.9 261.9L493.2 262.8L495.5 262.2L498.0 261.7L497.7 263.3L496.4 266.3L494.9 268.9L492.6 271.1L490.7 273.6L489.3 275.9L488.6 277.7L489.1 279.4L489.8 281.6L489.7 285.1L486.8 287.6L485.2 289.5L485.4 293.0L483.2 294.7L482.8 296.9L481.2 299.1L478.8 301.3L476.9 301.7L473.2 302.4L472.0 301.9L471.9 300.0L470.9 297.1L469.9 294.7L469.6 291.7L467.8 287.7L467.8 285.1L469.1 282.5L468.6 279.9L468.0 277.2L465.9 274.2L465.6 271.6L466.2 269.4L465.4 268.1L463.2 268.2L461.9 266.5L459.4 266.9L457.1 267.8L455.1 267.5L452.8 268.2L451.6 267.6L449.0 265.4L448.2 263.7L447.1 262.4L445.8 261.1L445.2 259.1L446.2 256.3L446.2 254.5L445.7 253.6L446.5 251.3L447.7 249.3L449.6 247.5L451.2 246.2L451.4 244.5L452.4 242.9L453.7 242.1ZM496.5 282.7L497.3 285.6L496.0 287.7L494.4 293.7L492.4 294.3L491.4 292.5L492.2 289.5L492.5 286.4L494.2 285.8L495.4 283.8ZM451.7 239.7L451.9 238.2L452.4 236.2L452.1 234.5L453.0 233.8L457.3 234.1L457.8 231.9L455.5 230.3L455.4 229.7L457.6 229.6L457.4 228.7L458.7 228.9L459.7 227.7L460.9 227.3L461.7 226.0L463.2 225.4L464.3 225.2L463.9 223.9L463.8 222.7L465.2 222.1L465.2 223.5L464.9 224.3L465.8 225.1L467.9 225.2L470.6 224.4L471.5 224.8L472.1 224.0L472.1 222.7L474.0 222.5L473.2 220.9L476.0 220.5L477.3 220.3L476.1 219.8L474.0 220.1L472.5 220.2L471.6 219.4L471.5 217.9L473.5 216.3L472.6 215.7L471.2 216.7L469.2 218.2L469.1 219.4L470.2 220.2L469.1 222.7L468.8 223.3L467.8 223.9L467.0 224.0L466.6 223.2L465.6 221.4L465.2 220.8L463.6 221.8L462.1 221.2L461.7 219.4L462.5 218.0L464.8 216.7L466.1 215.2L467.1 213.8L468.7 212.9L470.8 212.3L472.8 211.8L474.3 212.0L475.8 212.3L475.4 212.8L477.1 213.0L478.8 213.3L482.1 214.4L482.1 215.3L480.7 215.5L477.9 215.0L479.2 216.7L480.6 217.1L481.1 216.7L482.5 216.5L481.9 215.8L482.9 215.2L484.3 215.5L483.7 214.2L483.2 213.7L484.7 213.9L485.4 214.9L486.0 214.3L488.5 213.4L492.0 213.7L492.5 212.7L495.1 213.1L497.1 213.7L495.9 212.5L494.7 210.8L495.8 210.4L497.5 210.6L498.4 212.2L500.0 214.0L500.5 214.2L499.2 211.8L498.3 211.1L499.0 210.8L500.3 211.1L500.8 211.0L501.4 210.1L504.1 209.8L503.9 209.0L507.3 208.4L509.5 208.0L510.7 207.3L512.9 207.9L516.6 208.4L518.7 209.8L516.6 209.8L518.7 210.1L522.3 210.4L524.3 209.9L527.5 210.8L529.7 211.8L530.6 211.5L533.7 211.5L534.0 210.8L538.0 210.9L542.2 211.9L546.1 212.0L548.3 212.8L552.1 212.6L554.5 213.3L556.7 212.7L560.0 213.4L564.4 216.3L566.5 218.2L564.3 218.8L564.0 220.2L561.2 220.2L559.8 220.4L561.2 221.8L562.4 223.5L563.3 224.4L563.6 226.0L563.6 227.0L563.1 227.6L558.3 223.5L557.5 222.2L557.9 219.8L557.5 218.2L555.8 218.9L553.9 219.0L554.2 220.6L551.6 220.5L548.8 220.8L547.2 221.0L546.6 223.1L546.1 224.4L549.5 225.1L551.3 226.0L552.8 228.5L554.2 230.2L554.0 232.3L553.2 234.0L551.4 234.3L550.7 235.0L550.5 236.0L549.6 237.2L552.1 239.7L552.7 241.0L551.1 241.9L550.1 239.8L548.6 238.8L547.9 237.4L547.3 237.0L545.7 237.9L545.5 236.6L544.5 236.3L543.1 237.7L544.3 239.1L545.6 239.0L547.1 239.5L546.1 240.5L545.6 241.4L546.6 242.0L547.4 243.3L548.7 244.5L549.1 245.8L549.3 246.6L548.8 248.2L548.5 249.7L547.6 250.8L546.7 251.9L545.0 252.5L544.5 252.7L543.3 253.1L542.3 253.5L542.4 254.2L541.8 253.2L540.4 253.1L539.6 254.5L539.1 255.5L540.5 257.3L542.0 258.6L542.6 260.7L542.4 261.9L541.1 262.9L540.7 263.7L539.6 264.4L539.3 263.3L537.8 262.2L537.2 261.2L536.0 260.4L535.3 260.2L535.0 262.8L535.6 263.9L536.2 265.6L537.4 266.6L538.5 268.1L538.6 269.8L539.2 270.8L538.7 270.9L536.9 269.6L536.1 267.0L535.5 266.2L534.3 264.6L534.5 263.1L534.3 260.6L533.4 258.4L532.7 257.1L531.6 258.2L530.7 258.0L530.4 255.8L528.8 253.9L528.1 252.3L527.1 252.5L526.0 252.9L524.6 253.4L524.6 254.3L523.3 255.0L521.5 257.5L520.0 258.4L520.1 260.2L520.1 263.0L519.5 263.9L518.9 264.2L518.4 264.9L517.6 264.0L516.7 261.8L515.7 259.8L514.7 257.6L514.0 255.0L513.7 253.5L513.4 253.6L512.3 253.9L510.8 252.6L511.7 251.9L510.3 251.5L509.4 250.8L508.7 249.8L504.9 250.0L501.7 249.7L501.0 248.4L499.5 248.7L497.1 247.6L495.9 245.8L494.9 245.5L494.3 246.2L494.9 247.3L496.2 248.7L496.4 250.1L497.5 250.8L499.3 250.8L500.7 249.3L501.2 250.6L502.9 251.4L503.9 252.4L503.0 254.2L502.5 255.5L500.8 256.9L498.5 258.3L496.0 259.8L493.2 260.8L492.0 260.9L491.4 259.1L491.2 257.6L489.6 254.9L488.3 253.5L486.9 250.8L485.0 247.5L484.6 246.2L484.2 247.7L482.8 245.8L482.5 244.7L483.9 244.7L484.3 243.3L484.8 241.4L484.7 239.8L483.6 239.9L482.2 240.4L480.7 240.3L479.6 239.9L478.4 239.9L477.5 238.5L477.4 237.5L477.8 236.7L479.2 236.2L480.9 236.0L482.2 235.3L483.3 235.3L484.8 236.2L486.6 236.2L488.0 235.7L487.8 234.8L486.2 233.8L484.7 233.0L485.1 231.9L485.4 230.8L484.3 231.0L482.9 231.6L483.9 232.5L483.2 232.9L481.9 233.2L481.2 232.4L481.7 231.9L480.2 231.4L479.3 232.0L479.1 232.7L478.6 233.8L478.2 234.9L478.5 235.7L479.2 236.1L478.1 236.2L477.2 236.4L475.6 236.4L475.6 237.0L474.8 236.7L474.9 237.7L475.9 238.8L475.3 239.0L475.3 240.1L474.7 239.8L474.1 239.2L473.8 238.2L472.5 236.8L472.4 235.5L470.9 234.5L469.0 233.0L468.3 232.7L468.0 232.1L467.1 232.5L467.2 233.4L468.2 234.2L469.9 235.4L471.8 236.9L470.7 236.6L470.5 237.9L470.1 238.8L469.9 238.6L470.0 237.5L469.3 236.9L467.3 235.5L466.0 234.5L465.7 233.7L464.7 233.2L463.8 233.8L462.8 234.4L461.4 234.0L460.8 235.1L460.9 235.6L459.2 236.4L458.4 237.5L458.7 238.1L458.1 239.1L457.2 239.8L455.3 239.9L454.5 240.5L454.0 239.8L453.3 239.5L452.1 239.7ZM357.2 213.4L358.5 214.4L359.7 215.5L356.7 216.7L354.5 215.9L352.8 216.3ZM454.8 228.4L456.3 228.2L459.5 227.5L459.7 226.2L458.7 226.0L458.5 224.7L457.6 223.9L456.8 223.5L457.3 222.2L456.1 222.2L456.6 221.3L455.5 221.3L454.7 222.7L455.3 223.9L455.5 224.4L456.5 224.4L456.6 225.7L455.7 225.7L455.8 226.5L455.2 227.0L456.4 227.3ZM452.0 227.0L454.4 226.6L454.7 225.1L454.9 224.4L453.8 224.0L452.1 224.9L452.4 226.0ZM444.6 215.9L445.9 215.2L448.2 215.4L450.1 215.3L450.6 216.3L449.4 216.9L447.4 217.5L445.2 217.1L445.6 216.5ZM464.1 207.1L467.2 207.9L469.5 206.9L471.6 205.8L468.1 205.5L463.9 206.0ZM486.7 211.5L490.0 212.0L489.2 210.1L490.7 208.7L493.3 207.8L491.9 207.7L488.4 208.4L487.3 210.1ZM505.0 206.4L510.5 206.9L508.1 205.8L504.0 205.3ZM529.4 208.7L534.3 209.1L536.5 208.9L532.0 208.4ZM550.9 224.9L553.0 226.4L555.1 228.9L557.3 231.6L556.5 231.9L554.0 228.5L552.3 226.8ZM557.3 235.3L556.5 232.4L560.2 234.0L559.5 235.3ZM558.4 235.8L560.1 237.5L560.5 239.7L561.2 241.2L559.8 241.7L558.6 241.8L558.0 242.7L556.5 241.8L554.5 242.3L554.3 241.8L555.0 241.0L557.5 240.7L557.5 239.4L558.6 238.8L558.5 237.0ZM554.0 242.7L555.1 242.5L555.7 244.6L554.9 244.7L554.1 243.3ZM555.6 242.3L557.0 242.1L557.1 242.9L556.4 243.3ZM550.0 250.0L550.5 250.5L550.2 252.8L549.4 251.9L549.5 250.6ZM541.3 255.1L542.6 254.4L543.0 254.9L542.1 256.1ZM520.2 263.4L521.7 265.4L521.2 266.8L520.4 266.6L520.1 264.7ZM550.4 255.8L551.7 255.8L551.8 258.0L553.6 259.9L553.8 260.8L552.2 259.9L551.2 259.3L550.4 258.0ZM552.8 265.9L553.8 264.6L555.3 263.4L556.2 265.4L555.9 266.6L555.4 266.9L554.3 266.1ZM552.4 261.7L554.0 261.9L555.2 262.2L555.0 263.3L553.8 263.7L553.0 263.3ZM549.1 264.7L550.6 262.8L550.7 262.2L549.0 264.4ZM532.2 267.1L533.9 267.5L536.2 269.6L538.9 272.0L539.4 273.7L540.6 274.8L540.3 277.1L539.3 277.1L537.7 275.5L536.6 273.9L535.2 271.6L533.8 269.4ZM539.8 277.9L541.0 277.2L542.5 277.9L544.2 277.6L545.6 278.0L546.9 278.7L546.8 279.6L544.2 279.3L541.9 278.8L540.7 278.5ZM542.9 270.7L543.9 270.5L544.8 269.6L546.0 269.2L547.5 267.6L548.7 265.9L549.5 266.6L550.6 267.5L549.8 268.2L549.7 270.3L550.7 271.1L549.7 271.6L549.5 272.9L548.5 273.9L548.4 275.5L547.2 275.5L546.4 274.9L545.0 275.1L543.8 274.5L543.7 273.1L543.0 272.0ZM551.0 275.1L551.3 271.3L552.2 270.9L555.3 270.6L554.8 271.7L552.2 271.6L552.1 272.8L553.9 272.7L552.7 273.7L553.7 275.7L553.1 276.6L552.5 275.7L552.0 274.4L551.6 276.9L550.9 276.8ZM560.0 272.7L562.3 272.7L563.0 274.9L565.2 273.3L567.6 274.3L570.3 275.3L572.1 277.1L572.7 277.9L572.0 278.0L572.4 279.0L574.5 281.0L572.6 280.8L571.2 279.4L569.7 278.7L568.8 280.0L567.3 280.0L565.8 279.1L565.0 279.3L565.7 277.9L565.2 276.8L563.3 275.8L561.8 275.2L561.3 274.4L562.1 273.9L560.7 273.9ZM547.3 279.2L550.4 279.3L553.5 279.3L553.3 279.7L550.3 279.8L547.3 279.7ZM553.7 281.0L554.6 280.0L556.5 279.3L556.1 280.0L554.1 281.0ZM557.2 270.4L558.2 271.0L557.6 272.7ZM573.2 276.9L574.9 276.8L576.3 275.7L576.1 276.5L575.0 277.4L573.3 277.2ZM545.0 291.1L544.1 293.4L544.0 296.0L543.9 298.7L543.9 300.0L542.7 302.0L544.7 302.6L546.5 301.7L549.1 301.6L551.4 300.2L553.9 299.6L555.5 299.5L557.1 300.7L557.7 302.4L559.6 300.8L559.2 302.6L559.9 303.5L559.7 305.2L561.5 305.9L563.4 306.1L565.2 305.0L566.9 304.6L568.5 302.6L569.9 300.8L571.7 299.1L573.2 296.9L573.7 294.3L572.5 292.5L571.7 291.5L571.4 289.7L570.0 288.6L570.0 286.4L569.9 284.9L568.9 284.5L568.7 282.9L568.3 281.4L567.3 283.4L566.9 285.6L566.0 287.3L564.9 287.3L564.0 286.0L562.4 285.1L563.0 283.8L563.7 282.7L562.8 282.5L560.6 282.1L559.3 282.8L558.4 283.8L557.8 285.0L556.8 284.9L556.0 284.2L554.8 284.7L553.4 286.2L552.2 286.9L551.7 288.0L550.6 289.1L549.1 289.5L547.4 290.1L546.1 290.8ZM561.4 307.6L563.8 307.6L563.1 308.9L561.4 310.0L560.7 309.8ZM584.9 302.1L585.2 303.6L585.7 304.3L587.2 304.9L585.1 306.5L582.5 308.3L583.4 306.8L583.0 306.3L584.4 305.2L584.9 303.9ZM581.5 307.4L581.7 308.4L579.5 310.0L577.9 310.7L576.4 312.0L574.3 312.6L573.3 312.1L576.1 310.4L578.9 309.1Z" fill="#27713a"/><path d="M422.4 206.9L428.1 205.0L437.8 204.5L445.0 204.0L449.3 204.7L450.4 205.8L449.0 207.7L449.0 209.0L446.7 211.1L446.4 212.4L443.3 213.8L439.6 214.8L437.0 215.8L435.1 216.3L432.8 218.6L432.0 220.2L430.5 220.2L428.9 219.4L428.3 217.1L427.8 214.8L428.8 213.3L428.7 211.8L428.6 208.7L423.7 208.4Z" fill="#fff"/><path d="M491.2 232.7L493.5 231.0L495.0 231.4L495.0 232.7L494.1 233.2L495.8 235.3L496.1 236.6L497.2 237.5L497.5 239.7L495.5 239.8L493.9 239.2L493.7 236.9L492.0 234.9Z" fill="#bde0f4"/><g clip-path="url(#ld4)"><path d="M366.7 230.2L369.4 230.3L372.1 230.3L374.7 230.4L377.4 230.5L380.1 230.6L382.8 230.7L385.5 230.8L388.2 230.8L390.8 230.9L393.5 231.0L396.2 231.1L398.9 231.2L401.7 231.3L404.4 231.4L407.1 231.4L409.8 231.5L412.5 231.6L415.2 231.7L418.0 231.8L420.7 231.9L421.8 227.9L423.2 224.0L424.6 220.2L422.1 220.2L419.7 220.2L417.2 220.2L414.7 220.2L412.2 220.2L409.8 220.2L407.3 220.2L404.8 220.2L402.4 220.2L399.9 220.2L397.4 220.2L394.9 220.2L392.5 220.2L390.0 220.2L387.5 220.2L385.1 220.2L382.6 220.2L380.1 220.2L377.6 220.2L375.2 220.2L372.1 223.5L369.3 226.8Z" fill="#faf6bb" filter="url(#f139)"/><path d="M383.5 249.3L386.7 249.3L389.9 249.3L393.1 249.3L396.3 249.3L399.5 249.3L402.7 249.3L405.8 249.3L409.0 249.3L409.7 245.2L410.5 241.2L411.5 237.2L412.7 233.2L414.0 229.3L411.1 229.3L408.2 229.3L405.4 229.3L402.5 229.3L399.6 229.3L396.7 229.3L393.9 229.3L391.0 229.3L389.0 233.2L387.2 237.2L385.7 241.2L384.5 245.2Z" fill="#faf6bb" filter="url(#f140)"/><path d="M364.0 249.3L367.2 249.3L370.5 249.3L373.7 249.3L377.0 249.3L380.2 249.3L383.5 249.3L384.5 245.2L385.7 241.2L387.2 237.2L389.0 233.2L391.0 229.3L388.1 229.3L385.1 229.3L382.2 229.3L379.3 229.3L376.3 229.3L373.4 229.3L370.9 233.2L368.7 237.2L366.8 241.2L365.2 245.2Z" fill="#faf6bb" filter="url(#f141)"/><path d="M364.0 249.3L367.0 249.3L370.0 249.3L373.0 249.3L376.0 249.3L379.0 249.3L382.0 249.3L385.0 249.3L388.0 249.3L391.0 249.3L394.0 249.3L397.0 249.3L400.0 249.3L403.0 249.3L406.0 249.3L409.0 249.3L409.7 245.2L410.5 241.2L411.5 237.2L412.7 233.2L414.0 229.3L411.3 229.3L408.6 229.3L405.9 229.3L403.2 229.3L400.5 229.3L397.8 229.3L395.1 229.3L392.3 229.3L389.6 229.3L386.9 229.3L384.2 229.3L381.5 229.3L378.8 229.3L376.1 229.3L373.4 229.3L370.9 233.2L368.7 237.2L366.8 241.2L365.2 245.2Z" fill="#d7141b" filter="url(#f142)"/><path d="M367.5 265.9L370.8 265.9L374.0 265.9L377.3 265.9L380.5 265.9L383.7 265.9L387.0 265.9L390.2 265.9L393.5 265.9L396.7 265.9L399.9 265.9L400.1 262.4L400.4 258.9L400.7 255.4L401.2 251.9L401.7 248.4L398.5 248.4L395.4 248.4L392.2 248.4L389.1 248.4L385.9 248.4L382.8 248.4L379.7 248.4L376.5 248.4L373.4 248.4L370.2 248.4L369.4 251.9L368.8 255.4L368.2 258.9L367.8 262.4Z" fill="#faf6bb" filter="url(#f143)"/><path d="M367.5 265.9L370.8 265.9L374.0 265.9L377.3 265.9L380.5 265.9L383.7 265.9L387.0 265.9L390.2 265.9L393.5 265.9L396.7 265.9L399.9 265.9L400.1 262.4L400.4 258.9L400.7 255.4L401.2 251.9L401.7 248.4L398.5 248.4L395.4 248.4L392.2 248.4L389.1 248.4L385.9 248.4L382.8 248.4L379.7 248.4L376.5 248.4L373.4 248.4L370.2 248.4L369.4 251.9L368.8 255.4L368.2 258.9L367.8 262.4Z" fill="#d7141b" filter="url(#f144)"/><path d="M406.1 320.5L408.6 320.5L411.2 320.5L413.8 320.5L416.3 320.5L418.9 320.5L421.4 320.5L424.0 320.5L426.6 320.5L429.1 320.5L431.7 320.5L434.3 320.5L436.8 320.5L436.1 317.2L435.5 313.8L434.9 310.4L434.4 307.0L433.9 303.5L433.5 300.0L433.2 296.5L432.9 293.0L432.8 289.5L432.6 286.0L432.5 282.5L432.4 279.0L432.3 275.5L432.3 272.0L432.3 268.5L432.4 265.0L432.5 261.5L429.4 261.5L426.3 261.5L423.2 261.5L420.2 261.5L417.1 261.5L414.0 261.5L410.9 261.5L407.9 261.5L404.8 261.5L401.7 261.5L398.6 261.5L395.6 261.5L395.4 265.0L395.2 268.5L395.1 272.0L395.2 275.5L395.4 279.0L395.6 282.5L395.9 286.0L396.3 289.5L396.7 293.0L397.3 296.5L398.1 300.0L399.0 303.5L400.1 307.0L401.4 310.4L402.8 313.8L404.4 317.2Z" fill="#faf6bb" filter="url(#f145)"/><path d="M416.3 302.6L419.2 302.6L422.1 302.6L425.0 302.6L428.0 302.6L430.9 302.6L433.8 302.6L433.4 299.1L433.1 295.6L432.9 292.1L432.7 288.6L432.6 285.1L432.4 281.6L432.4 278.1L432.3 274.6L429.2 274.6L426.1 274.6L423.0 274.6L419.9 274.6L416.8 274.6L413.8 274.6L413.8 278.1L414.0 281.6L414.2 285.1L414.4 288.6L414.8 292.1L415.2 295.6L415.7 299.1Z" fill="#faf6bb" filter="url(#f146)"/><path d="M450.6 240.5L453.6 240.5L456.5 240.5L459.5 240.5L462.5 240.5L465.4 240.5L468.4 240.5L471.3 240.5L474.3 240.5L477.3 240.5L480.2 240.5L483.2 240.5L486.1 240.5L489.1 240.5L488.5 236.9L487.8 233.3L487.1 229.7L486.2 226.2L485.3 222.8L484.3 219.4L481.8 219.4L479.3 219.4L476.8 219.4L474.3 219.4L471.8 219.4L469.3 219.4L466.8 219.4L464.3 219.4L461.8 219.4L459.4 219.4L456.9 219.4L454.4 219.4L451.9 219.4L451.6 222.8L451.4 226.2L451.1 229.7L450.9 233.3L450.8 236.9Z" fill="#faf6bb" filter="url(#f147)"/><path d="M450.6 240.5L453.6 240.5L456.5 240.5L459.5 240.5L462.5 240.5L465.4 240.5L468.4 240.5L471.3 240.5L474.3 240.5L477.3 240.5L480.2 240.5L483.2 240.5L486.1 240.5L489.1 240.5L488.5 236.7L487.8 232.9L487.0 229.1L486.0 225.4L485.0 221.8L482.5 221.8L479.9 221.8L477.3 221.8L474.8 221.8L472.2 221.8L469.6 221.8L467.1 221.8L464.5 221.8L461.9 221.8L459.4 221.8L456.8 221.8L454.2 221.8L451.7 221.8L451.4 225.4L451.2 229.1L451.0 232.9L450.8 236.7Z" fill="#d7141b" filter="url(#f148)"/><path d="M476.0 215.5L478.6 215.6L481.1 215.6L483.6 215.7L486.1 215.7L488.6 215.8L491.2 215.9L493.7 215.9L496.0 215.8L498.2 215.7L500.5 215.6L502.8 215.5L505.0 215.3L507.2 215.2L509.5 215.1L511.7 215.0L513.9 214.9L516.1 214.8L518.4 214.8L520.7 214.8L523.0 214.8L525.3 214.8L527.6 214.8L529.9 214.8L532.2 214.8L534.5 214.8L536.8 214.8L539.1 214.8L541.9 215.2L544.7 215.5L547.5 215.9L550.3 216.3L553.1 216.7L556.0 217.1L558.9 217.5L561.8 217.9L564.7 218.2L567.7 218.6L563.3 215.5L558.7 212.5L553.6 209.7L548.0 207.1L542.4 204.7L540.5 204.7L538.6 204.7L536.7 204.7L534.9 204.7L533.0 204.7L531.1 204.7L529.2 204.7L527.3 204.7L525.4 204.7L523.5 204.7L521.6 204.7L519.8 204.7L517.9 204.7L516.0 204.7L514.1 204.7L512.2 204.7L510.3 204.7L508.4 204.7L506.5 204.7L504.7 204.7L502.8 204.7L500.9 204.7L499.0 204.7L497.1 204.7L495.2 204.7L493.3 204.7L491.4 204.7L489.6 204.7L487.7 204.7L485.8 204.7L483.9 204.7L482.0 204.7L480.1 204.7L478.2 204.7L476.3 204.7L474.5 204.7L472.6 204.7L473.5 207.1L474.4 209.7L475.3 212.5Z" fill="#faf6bb" filter="url(#f149)"/><path d="M481.2 213.7L483.6 213.6L486.0 213.6L488.4 213.5L490.8 213.4L493.2 213.4L495.6 213.3L498.0 213.3L500.2 213.0L502.4 212.7L504.6 212.5L506.8 212.2L508.9 212.0L511.1 211.7L513.2 211.5L515.4 211.5L517.6 211.5L519.8 211.6L522.0 211.6L524.3 211.7L526.5 211.7L528.7 211.7L531.0 211.8L533.2 211.8L535.5 211.8L538.1 212.1L540.7 212.4L543.3 212.7L545.9 213.0L548.6 213.3L551.3 213.6L554.0 213.9L556.7 214.2L559.4 214.5L562.1 214.8L556.2 211.1L549.5 207.7L542.4 204.7L540.5 204.7L538.7 204.7L536.8 204.7L535.0 204.7L533.1 204.7L531.2 204.7L529.4 204.7L527.5 204.7L525.6 204.7L523.8 204.7L521.9 204.7L520.1 204.7L518.2 204.7L516.3 204.7L514.5 204.7L512.6 204.7L510.7 204.7L508.9 204.7L507.0 204.7L505.2 204.7L503.3 204.7L501.4 204.7L499.6 204.7L497.7 204.7L495.8 204.7L494.0 204.7L492.1 204.7L490.3 204.7L488.4 204.7L486.5 204.7L484.7 204.7L482.8 204.7L480.9 204.7L479.1 204.7L477.2 204.7L478.6 207.4L480.0 210.4Z" fill="#faf6bb" filter="url(#f150)"/><path d="M485.5 228.5L488.2 228.5L490.8 228.5L493.5 228.5L496.2 228.5L498.9 228.5L501.6 228.5L504.3 228.5L507.0 228.5L509.6 228.5L512.3 228.5L515.0 228.5L517.7 228.5L520.4 228.5L523.1 228.5L525.8 228.5L528.5 228.5L531.1 228.5L533.8 228.5L536.5 228.5L539.2 228.5L541.9 228.5L544.6 228.5L547.3 228.5L549.9 228.5L552.6 228.5L555.3 228.5L558.0 228.5L560.7 228.5L563.4 228.5L566.1 228.5L568.8 228.5L571.4 228.5L574.1 228.5L576.8 228.5L579.5 228.5L575.6 224.9L571.4 221.4L566.9 218.1L562.1 214.8L559.8 214.8L557.5 214.8L555.2 214.8L552.9 214.8L550.6 214.8L548.3 214.8L546.0 214.8L543.7 214.8L541.4 214.8L539.1 214.8L536.8 214.8L534.5 214.8L532.2 214.8L529.9 214.8L527.6 214.8L525.3 214.8L523.0 214.8L520.7 214.8L518.4 214.8L516.1 214.8L513.8 214.8L511.5 214.8L509.2 214.8L506.9 214.8L504.6 214.8L502.3 214.8L500.0 214.8L497.7 214.8L495.4 214.8L493.1 214.8L490.8 214.8L488.5 214.8L486.2 214.8L483.9 214.8L481.6 214.8L482.7 218.1L483.7 221.4L484.6 224.9Z" fill="#faf6bb" filter="url(#f151)"/><path d="M449.7 246.6L452.6 246.6L455.6 246.6L458.6 246.6L461.6 246.6L464.6 246.6L467.5 246.6L470.5 246.6L473.5 246.6L476.5 246.6L479.5 246.6L482.4 246.6L485.4 246.6L485.0 242.7L484.5 238.8L481.6 238.8L478.8 238.8L475.9 238.8L473.0 238.8L470.1 238.8L467.2 238.8L464.4 238.8L461.5 238.8L458.6 238.8L455.7 238.8L452.8 238.8L450.0 238.8L449.8 242.7Z" fill="#faf6bb" filter="url(#f152)"/><path d="M484.7 261.5L487.8 261.5L490.9 261.5L494.0 261.5L497.0 261.5L500.1 261.5L503.2 261.5L506.3 261.5L506.0 257.9L505.7 254.3L505.3 250.6L504.8 247.0L504.2 243.4L503.5 239.8L502.6 236.2L499.7 236.2L496.9 236.2L494.1 236.2L491.2 236.2L488.4 236.2L485.6 236.2L482.7 236.2L483.2 239.8L483.6 243.4L484.0 247.0L484.2 250.6L484.4 254.3L484.6 257.9Z" fill="#faf6bb" filter="url(#f153)"/><path d="M492.2 241.4L495.1 241.4L498.0 241.4L500.9 241.4L503.8 241.4L506.7 241.4L509.7 241.4L512.6 241.4L515.5 241.4L518.4 241.4L517.3 237.7L516.0 234.0L514.5 230.4L512.8 226.8L510.2 226.8L507.5 226.8L504.9 226.8L502.3 226.8L499.6 226.8L497.0 226.8L494.3 226.8L491.7 226.8L489.0 226.8L489.9 230.4L490.8 234.0L491.5 237.7Z" fill="#faf6bb" filter="url(#f154)"/><path d="M511.1 266.8L514.5 266.8L517.9 266.8L521.3 266.8L524.7 266.8L528.1 266.8L527.9 263.1L527.6 259.5L527.2 255.8L526.7 252.2L526.0 248.5L525.2 244.9L522.0 244.9L518.7 244.9L515.5 244.9L512.2 244.9L508.9 244.9L509.6 248.5L510.0 252.2L510.4 255.8L510.7 259.5L511.0 263.1Z" fill="#faf6bb" filter="url(#f155)"/><path d="M511.1 266.8L514.5 266.8L517.9 266.8L521.3 266.8L524.7 266.8L528.1 266.8L527.9 263.1L527.6 259.5L527.2 255.8L526.7 252.2L526.0 248.5L525.2 244.9L522.0 244.9L518.7 244.9L515.5 244.9L512.2 244.9L508.9 244.9L509.6 248.5L510.0 252.2L510.4 255.8L510.7 259.5L511.0 263.1Z" fill="#d7141b" filter="url(#f156)"/><path d="M534.6 254.5L537.7 254.5L540.7 254.5L543.7 254.5L546.8 254.5L549.8 254.5L552.9 254.5L552.1 250.7L551.0 246.8L549.7 243.0L548.0 239.1L546.1 235.3L543.2 235.3L540.4 235.3L537.6 235.3L534.8 235.3L532.0 235.3L529.1 235.3L530.7 239.1L532.0 243.0L533.1 246.8L534.0 250.7Z" fill="#faf6bb" filter="url(#f157)"/><path d="M534.6 254.5L537.7 254.5L540.7 254.5L543.7 254.5L546.8 254.5L549.8 254.5L552.9 254.5L552.1 250.7L551.0 246.8L549.7 243.0L548.0 239.1L546.1 235.3L543.2 235.3L540.4 235.3L537.6 235.3L534.8 235.3L532.0 235.3L529.1 235.3L530.7 239.1L532.0 243.0L533.1 246.8L534.0 250.7Z" fill="#d7141b" filter="url(#f158)"/><path d="M546.3 245.8L549.2 245.8L552.2 245.8L555.2 245.8L558.2 245.8L561.1 245.8L564.1 245.8L567.1 245.8L565.5 242.3L563.7 238.8L561.6 235.3L559.2 231.9L556.7 228.5L554.0 228.5L551.3 228.5L548.6 228.5L545.9 228.5L543.2 228.5L540.5 228.5L537.9 228.5L539.9 231.9L541.8 235.3L543.5 238.8L545.0 242.3Z" fill="#faf6bb" filter="url(#f159)"/><path d="M546.3 245.8L549.2 245.8L552.2 245.8L555.2 245.8L558.2 245.8L561.1 245.8L564.1 245.8L567.1 245.8L565.5 242.3L563.7 238.8L561.6 235.3L559.2 231.9L556.7 228.5L554.0 228.5L551.3 228.5L548.6 228.5L545.9 228.5L543.2 228.5L540.5 228.5L537.9 228.5L539.9 231.9L541.8 235.3L543.5 238.8L545.0 242.3Z" fill="#d7141b" filter="url(#f160)"/><path d="M529.5 280.7L532.6 280.7L535.6 280.7L538.7 280.7L541.8 280.7L544.9 280.7L548.0 280.7L551.0 280.7L554.1 280.7L557.2 280.7L557.5 277.2L557.6 273.7L557.6 270.3L557.5 266.8L557.2 263.3L556.8 259.8L556.2 256.3L555.5 252.8L552.5 252.8L549.5 252.8L546.4 252.8L543.4 252.8L540.4 252.8L537.4 252.8L534.3 252.8L531.3 252.8L528.3 252.8L528.8 256.3L529.2 259.8L529.5 263.3L529.7 266.8L529.8 270.3L529.8 273.7L529.7 277.2Z" fill="#faf6bb" filter="url(#f161)"/><path d="M529.5 280.7L532.6 280.7L535.6 280.7L538.7 280.7L541.8 280.7L544.9 280.7L548.0 280.7L551.0 280.7L554.1 280.7L557.2 280.7L557.5 277.2L557.6 273.7L557.6 270.3L557.5 266.8L557.2 263.3L556.8 259.8L556.2 256.3L555.5 252.8L552.5 252.8L549.5 252.8L546.4 252.8L543.4 252.8L540.4 252.8L537.4 252.8L534.3 252.8L531.3 252.8L528.3 252.8L528.8 256.3L529.2 259.8L529.5 263.3L529.7 266.8L529.8 270.3L529.8 273.7L529.7 277.2Z" fill="#d7141b" filter="url(#f162)"/><path d="M445.5 303.5L448.5 303.5L451.5 303.5L454.5 303.5L457.5 303.5L460.5 303.5L463.5 303.5L466.5 303.5L469.5 303.5L472.4 303.5L475.4 303.5L478.4 303.5L481.4 303.5L484.4 303.5L487.4 303.5L490.4 303.5L493.4 303.5L496.4 303.5L497.0 299.9L497.5 296.4L497.8 292.8L498.1 289.3L498.4 285.7L498.6 282.2L498.7 278.6L498.8 275.1L498.8 271.5L498.8 268.0L498.7 264.4L498.5 260.9L498.3 257.3L498.1 253.8L497.8 250.2L497.3 246.6L494.3 246.6L491.2 246.6L488.1 246.6L485.1 246.6L482.0 246.6L478.9 246.6L475.9 246.6L472.8 246.6L469.7 246.6L466.7 246.6L463.6 246.6L460.5 246.6L457.5 246.6L454.4 246.6L451.3 246.6L448.3 246.6L445.2 246.6L445.0 250.2L444.9 253.8L444.8 257.3L444.8 260.9L444.7 264.4L444.7 268.0L444.7 271.5L444.7 275.1L444.7 278.6L444.8 282.2L444.8 285.7L444.9 289.3L445.0 292.8L445.2 296.4L445.3 299.9Z" fill="#faf6bb" filter="url(#f163)"/><path d="M534.9 311.3L537.7 311.3L540.6 311.3L543.5 311.3L546.3 311.3L549.2 311.3L552.0 311.3L554.9 311.3L557.7 311.3L560.6 311.3L563.4 311.3L566.3 311.3L569.2 311.3L572.0 311.3L574.9 311.3L577.7 311.3L580.6 311.3L583.4 311.3L586.5 307.5L589.2 303.7L591.4 299.9L593.2 296.0L594.6 292.2L595.7 288.4L596.6 284.6L597.3 280.7L594.1 280.7L590.9 280.7L587.7 280.7L584.6 280.7L581.4 280.7L578.2 280.7L575.1 280.7L571.9 280.7L568.7 280.7L565.5 280.7L562.4 280.7L559.2 280.7L556.0 280.7L552.9 280.7L549.7 280.7L546.5 280.7L543.3 280.7L542.9 284.6L542.4 288.4L541.7 292.2L540.9 296.0L539.8 299.9L538.4 303.7L536.8 307.5Z" fill="#faf6bb" filter="url(#f164)"/><path d="M347.4 220.2L349.8 220.2L352.3 220.2L354.8 220.2L357.2 220.2L359.7 220.2L362.2 220.2L364.7 220.2L367.1 220.2L369.6 220.2L372.1 220.2L374.5 220.2L377.0 220.2L379.5 220.2L382.0 220.2L384.4 220.2L386.9 220.2L389.4 220.2L391.9 220.2L394.3 220.2L396.8 220.2L399.3 220.2L401.7 220.2L404.2 220.2L406.7 220.2L409.2 220.2L411.6 220.2L414.1 220.2L416.6 220.2L419.0 220.2L421.5 220.2L424.0 220.2L426.5 220.2L428.9 220.2L431.4 220.2L433.9 220.2L436.4 220.2L438.8 220.2L441.3 220.2L443.8 220.2L446.2 220.2L448.7 220.2L451.2 220.2L453.7 220.2L456.1 220.2L458.6 220.2L461.1 220.2L463.5 220.2L466.0 220.2L468.5 220.2L471.0 220.2L473.4 220.2L475.9 220.2L478.4 220.2L480.8 220.2L483.3 220.2L485.8 220.2L488.3 220.2L490.7 220.2L493.2 220.2L495.7 220.2L498.2 220.2L500.6 220.2L503.1 220.2L505.6 220.2L508.0 220.2L510.5 220.2L513.0 220.2L515.5 220.2L517.9 220.2L520.4 220.2L522.9 220.2L525.3 220.2L527.8 220.2L530.3 220.2L532.8 220.2L535.2 220.2L537.7 220.2L540.2 220.2L542.7 220.2L545.1 220.2L547.6 220.2L550.1 220.2L552.5 220.2L555.0 220.2L557.5 220.2L560.0 220.2L562.4 220.2L564.9 220.2L567.4 220.2L569.8 220.2L565.2 216.8L560.3 213.6L555.1 210.5L549.3 207.6L543.2 205.0L537.5 202.9L532.7 201.5L531.1 201.5L529.4 201.5L527.8 201.5L526.1 201.5L524.5 201.5L522.9 201.5L521.2 201.5L519.6 201.5L517.9 201.5L516.3 201.5L514.6 201.5L513.0 201.5L511.3 201.5L509.7 201.5L508.0 201.5L506.4 201.5L504.7 201.5L503.1 201.5L501.4 201.5L499.8 201.5L498.1 201.5L496.5 201.5L494.8 201.5L493.2 201.5L491.5 201.5L489.9 201.5L488.3 201.5L486.6 201.5L485.0 201.5L483.3 201.5L481.7 201.5L480.0 201.5L478.4 201.5L476.7 201.5L475.1 201.5L473.4 201.5L471.8 201.5L470.1 201.5L468.5 201.5L466.8 201.5L465.2 201.5L463.5 201.5L461.9 201.5L460.2 201.5L458.6 201.5L457.0 201.5L455.3 201.5L453.7 201.5L452.0 201.5L450.4 201.5L448.7 201.5L447.1 201.5L445.4 201.5L443.8 201.5L442.1 201.5L440.5 201.5L438.8 201.5L437.2 201.5L435.5 201.5L433.9 201.5L432.2 201.5L430.6 201.5L428.9 201.5L427.3 201.5L425.7 201.5L424.0 201.5L422.4 201.5L420.7 201.5L419.1 201.5L417.4 201.5L415.8 201.5L414.1 201.5L412.5 201.5L410.8 201.5L409.2 201.5L407.5 201.5L405.9 201.5L404.2 201.5L402.6 201.5L400.9 201.5L399.3 201.5L397.6 201.5L396.0 201.5L394.3 201.5L392.7 201.5L391.1 201.5L389.4 201.5L387.8 201.5L386.1 201.5L384.5 201.5L379.7 202.9L374.0 205.0L367.9 207.6L362.1 210.5L356.9 213.6L352.0 216.8Z" fill="#fff"/></g><path d="M325.8 232.5H591.4" stroke="#9a9a9a" stroke-width="0.9" fill="none"/><path d="M421.5 201.5L418.7 203.2L415.3 205.8L411.7 209.0L408.5 212.5L405.7 216.3L403.0 220.2L400.4 224.3L398.2 228.5L396.2 232.7L394.4 237.0L392.9 241.4L391.7 245.8L390.8 250.1L390.2 254.5L389.6 258.9L389.3 263.3L389.0 267.6L389.0 272.0L389.0 276.4L389.3 280.7L389.6 285.1L390.2 289.5L390.8 293.9L391.7 298.2L392.9 302.6L394.4 307.0L396.2 311.3L398.2 315.5L400.4 319.7L403.0 323.8L405.7 327.7L408.5 331.5L411.7 335.0L415.3 338.2L418.7 340.8L421.5 342.5" stroke="#c3ccd2" stroke-width="0.5" fill="none" stroke-dasharray="1.2 1.6"/><path d="M495.7 201.5L498.5 203.2L501.9 205.8L505.5 209.0L508.7 212.5L511.5 216.3L514.2 220.2L516.8 224.3L519.0 228.5L521.0 232.7L522.8 237.0L524.3 241.4L525.5 245.8L526.4 250.1L527.0 254.5L527.6 258.9L527.9 263.3L528.2 267.6L528.2 272.0L528.2 276.4L527.9 280.7L527.6 285.1L527.0 289.5L526.4 293.9L525.5 298.2L524.3 302.6L522.8 307.0L521.0 311.3L519.0 315.5L516.8 319.7L514.2 323.8L511.5 327.7L508.7 331.5L505.5 335.0L501.9 338.2L498.5 340.8L495.7 342.5" stroke="#c3ccd2" stroke-width="0.5" fill="none" stroke-dasharray="1.2 1.6"/></g><path d="M532.7 201.5L538.3 203.2L545.1 205.8L552.4 209.0L558.7 212.5L564.4 216.3L569.8 220.2L574.9 224.3L579.5 228.5L583.4 232.7L587.0 237.0L589.9 241.4L592.3 245.8L594.1 250.1L595.4 254.5L596.5 258.9L597.3 263.3L597.7 267.6L597.9 272.0L597.7 276.4L597.3 280.7L596.5 285.1L595.4 289.5L594.1 293.9L592.3 298.2L589.9 302.6L587.0 307.0L583.4 311.3L579.5 315.5L574.9 319.7L569.8 323.8L564.4 327.7L558.7 331.5L552.4 335.0L545.1 338.2L538.3 340.8L532.7 342.5L384.5 342.5L378.9 340.8L372.1 338.2L364.8 335.0L358.5 331.5L352.8 327.7L347.4 323.8L342.3 319.7L337.7 315.5L333.8 311.3L330.2 307.0L327.3 302.6L324.9 298.2L323.1 293.9L321.8 289.5L320.7 285.1L319.9 280.7L319.5 276.4L319.3 272.0L319.5 267.6L319.9 263.3L320.7 258.9L321.8 254.5L323.1 250.1L324.9 245.8L327.3 241.4L330.2 237.0L333.8 232.7L337.7 228.5L342.3 224.3L347.4 220.2L352.8 216.3L358.5 212.5L364.8 209.0L372.1 205.8L378.9 203.2L384.5 201.5Z" fill="none" stroke="#a9a9a9" stroke-width="0.5" stroke-dasharray="1.5 1.8"/><g clip-path="url(#fr5)"><rect x="17.899999999999977" y="369.79999999999995" width="282.6" height="145.2" fill="#fff"/><path d="M198.0 422.0L222.0 420.0L227.8 427.7L228.8 429.1L227.8 434.9L233.6 437.8L234.5 443.6L232.6 447.4L235.5 448.9L241.3 447.4L244.2 443.6L242.3 436.8L238.4 432.0L239.4 428.1L245.1 423.3L249.0 419.5L252.9 417.1L256.7 417.5L265.0 415.6L269.8 409.3L276.6 402.5L282.0 397.0L310.0 397.0L310.0 520.0L163.9 520.0L161.5 509.7L159.4 505.4L158.2 502.6L162.2 498.6L173.6 488.4L198.0 470.0ZM77.0 511.8L82.0 505.4L90.5 497.6L101.2 495.5L106.8 493.4L108.3 497.6L113.2 503.3L116.8 509.7L116.8 520.0L77.0 520.0Z" fill="#bde0f4"/><path d="M172.0 372.0L174.0 374.0L168.0 381.0L160.0 387.0L157.0 386.0L163.0 381.0ZM40.0 406.0L46.0 403.0L55.0 404.0L54.0 406.5L46.0 406.0L41.0 409.0Z" fill="#d6ebf8"/><path d="M287.7 417.7L292.3 415.2L294.1 424.2L291.6 434.5L286.4 442.2L277.4 448.6L268.0 450.8L263.0 452.2L262.5 454.5L256.0 454.8L255.5 451.8L253.5 452.0L253.8 458.0L251.5 462.5L247.0 462.5L242.5 456.0L243.5 451.0L249.0 449.0L252.0 447.4L259.4 446.8L262.0 446.0L269.7 443.5L277.4 440.9L283.8 435.7L286.4 428.0L283.8 421.6ZM212.4 507.3L219.2 507.3L219.5 520.0L212.0 520.0Z" fill="#fff"/><path d="M95.0 392.0L110.0 385.0L135.0 382.0L160.0 388.0L185.0 385.0L205.0 390.0M20.0 432.0L40.0 421.0L55.0 413.0L70.0 401.0L85.0 396.0M25.0 446.0L38.0 441.0L45.0 438.0M28.0 457.0L45.0 451.0L58.0 453.0M60.0 471.0L80.0 479.0L100.0 483.0L120.0 481.0M128.0 491.0L125.0 501.0L132.0 511.0M145.0 498.0L150.0 506.0L147.0 514.0M40.0 470.0L50.0 485.0L62.0 500.0L75.0 511.0M100.0 484.0L104.0 494.0M30.0 410.0L45.0 400.0L62.0 392.0L80.0 385.0L100.0 376.0M232.0 379.0L240.0 374.0M120.0 372.0L130.0 381.0" fill="none" stroke="#b5b5b5" stroke-width="0.5" stroke-dasharray="1 1.3"/><path d="M60.0 388.0L72.0 392.0L80.0 390.0M22.0 440.0L30.0 436.0L36.0 438.0M215.0 376.0L222.0 372.0M250.0 392.0L262.0 388.0L272.0 392.0" fill="none" stroke="#cfe6f5" stroke-width="0.9"/><g clip-path="url(#ld5)"><rect x="30" y="370" width="250" height="150" fill="#27713a"/><path d="M60.0 395.0L100.0 392.0L125.0 418.0L100.0 425.0L80.0 420.0L64.0 425.0L40.0 432.0L45.0 425.0Z" fill="#d7141b" filter="url(#f165)"/><path d="M60.0 395.0L100.0 392.0L125.0 418.0L100.0 425.0L80.0 420.0L64.0 425.0L40.0 432.0L45.0 425.0Z" fill="#faf6bb" filter="url(#f166)"/><path d="M40.0 425.0L150.0 425.0L150.0 480.0L40.0 480.0Z" fill="#d7141b" filter="url(#f167)"/><path d="M60.0 430.0L150.0 430.0L150.0 475.0L60.0 475.0Z" fill="#bfe0f2" filter="url(#f168)"/><path d="M115.7 480.6L120.0 474.0L128.7 467.5L135.2 463.2L137.4 454.5L139.6 443.6L143.9 432.8L150.4 421.9L163.4 415.4L178.6 411.1L189.5 404.6L193.8 398.1L198.2 385.0L200.0 375.0L213.0 378.0L211.2 388.0L206.8 401.1L202.5 407.6L191.6 414.1L176.4 418.4L163.4 424.9L156.9 435.8L152.6 446.6L150.4 457.5L148.2 466.2L141.7 470.5L133.0 477.0L128.7 483.6Z" fill="#d7141b" filter="url(#f169)"/><path d="M115.7 480.6L120.0 474.0L128.7 467.5L135.2 463.2L137.4 454.5L139.6 443.6L143.9 432.8L150.4 421.9L163.4 415.4L178.6 411.1L189.5 404.6L193.8 398.1L198.2 385.0L200.0 375.0L213.0 378.0L211.2 388.0L206.8 401.1L202.5 407.6L191.6 414.1L176.4 418.4L163.4 424.9L156.9 435.8L152.6 446.6L150.4 457.5L148.2 466.2L141.7 470.5L133.0 477.0L128.7 483.6Z" fill="#faf6bb" filter="url(#f170)"/><path d="M128.7 483.6L133.0 477.0L141.7 470.5L148.2 466.2L150.4 457.5L152.6 446.6L156.9 435.8L163.4 424.9L176.4 418.4L191.6 414.1L202.5 407.6L206.8 401.1L211.2 388.0L213.0 378.0L270.0 378.0L270.0 420.0L225.0 440.0L225.0 470.0L218.0 495.0L175.0 512.0L140.0 500.0L125.0 490.0Z" fill="#d7141b" filter="url(#f171)"/><path d="M148.2 466.2L150.4 457.5L152.6 446.6L156.9 435.8L163.4 424.9L176.4 418.4L191.6 414.1L202.5 407.6L206.8 401.1L211.2 388.0L213.0 378.0L270.0 378.0L270.0 420.0L225.0 440.0L225.0 468.0L148.0 468.0Z" fill="#faf6bb" filter="url(#f172)"/><path d="M128.7 483.6L133.0 477.0L141.7 470.5L148.0 466.0L225.0 466.0L218.0 495.0L175.0 512.0L140.0 500.0L125.0 490.0Z" fill="#faf6bb" filter="url(#f173)"/><path d="M128.7 483.6L133.0 477.0L141.7 470.5L148.2 466.2L150.4 457.5L152.6 446.6L156.9 435.8L163.4 424.9L176.4 418.4L191.6 414.1L202.5 407.6L206.8 401.1L211.2 388.0L213.0 378.0L270.0 378.0L270.0 420.0L225.0 440.0L225.0 470.0L218.0 495.0L175.0 512.0L140.0 500.0L125.0 490.0Z" fill="#27713a" filter="url(#f174)"/><path d="M183.0 427.1L206.8 429.3L215.5 438.0L218.0 446.6L214.0 461.8L202.5 466.2L185.1 461.8L176.4 448.8L178.6 435.8Z" fill="#faf6bb" filter="url(#f175)"/><path d="M217.7 398.9L237.2 396.7L250.3 403.2L241.6 414.1L228.6 422.8L217.7 427.1L213.4 418.4L215.5 407.6Z" fill="#faf6bb" filter="url(#f176)"/><path d="M150.0 455.0L168.0 452.0L172.0 466.0L158.0 472.0L148.0 466.0Z" fill="#faf6bb" filter="url(#f177)"/><path d="M183.0 427.1L206.8 429.3L215.5 438.0L218.0 446.6L214.0 461.8L202.5 466.2L185.1 461.8L176.4 448.8L178.6 435.8Z" fill="#d7141b" filter="url(#f178)"/><path d="M209.0 380.0L234.0 380.0L238.0 392.0L222.0 397.0L211.0 403.0L206.0 396.0Z" fill="#27713a" filter="url(#f179)"/><path d="M135.0 470.0L218.0 465.0L215.0 500.0L135.0 500.0Z" fill="#27713a" filter="url(#f180)"/><path d="M135.0 470.0L218.0 465.0L215.0 500.0L135.0 500.0Z" fill="#d7141b" filter="url(#f181)"/><path d="M134.6 419.0L149.6 419.5L158.0 419.0L165.0 416.6L177.4 411.6L182.4 407.9L194.9 405.4L203.6 402.9L208.6 400.4L207.6 410.4L202.6 412.9L193.9 415.4L181.4 417.9L176.4 421.6L164.0 426.6L157.0 429.0L148.6 429.5L133.6 429.0Z" fill="#27713a" filter="url(#f182)"/><path d="M134.6 419.0L149.6 419.5L158.0 419.0L165.0 416.6L177.4 411.6L182.4 407.9L194.9 405.4L203.6 402.9L208.6 400.4L207.6 410.4L202.6 412.9L193.9 415.4L181.4 417.9L176.4 421.6L164.0 426.6L157.0 429.0L148.6 429.5L133.6 429.0Z" fill="#d7141b" filter="url(#f183)"/></g><path d="M0 392.5H320M0 465.4H320" stroke="#a5a5a5" stroke-width="0.7" fill="none"/><path d="M210.6 370V515" stroke="#c8c8c8" stroke-width="0.6" fill="none"/></g><path d="M233.9 370.8L239.5 372.5L246.4 375.1L253.6 378.4L260.0 382.0L265.8 385.8L271.2 389.8L276.4 393.9L281.0 398.2L284.9 402.5L288.5 406.9L291.5 411.3L293.9 415.8L295.7 420.2L297.0 424.6L298.1 429.1L298.9 433.5L299.3 438.0L299.5 442.4L299.3 446.8L298.9 451.3L298.1 455.7L297.0 460.2L295.7 464.6L293.9 469.0L291.5 473.5L288.5 477.9L284.9 482.3L281.0 486.6L276.4 490.9L271.2 495.0L265.8 499.0L260.0 502.8L253.6 506.4L246.4 509.7L239.5 512.3L233.9 514.0L84.5 514.0L78.9 512.3L72.0 509.7L64.8 506.4L58.4 502.8L52.6 499.0L47.2 495.0L42.0 490.9L37.4 486.6L33.5 482.3L29.9 477.9L26.9 473.5L24.5 469.0L22.7 464.6L21.4 460.2L20.3 455.7L19.5 451.3L19.1 446.8L18.9 442.4L19.1 438.0L19.5 433.5L20.3 429.1L21.4 424.6L22.7 420.2L24.5 415.8L26.9 411.3L29.9 406.9L33.5 402.5L37.4 398.2L42.0 393.9L47.2 389.8L52.6 385.8L58.4 382.0L64.8 378.4L72.0 375.1L78.9 372.5L84.5 370.8Z" fill="none" stroke="#9c9c9c" stroke-width="0.7"/><g clip-path="url(#fr6)"><rect x="318.90000000000003" y="369.79999999999995" width="282.6" height="145.2" fill="#fff"/><path d="M498.6 422.0L522.6 420.0L528.4 427.7L529.4 429.1L528.4 434.9L534.2 437.8L535.1 443.6L533.2 447.4L536.1 448.9L541.9 447.4L544.8 443.6L542.9 436.8L539.0 432.0L540.0 428.1L545.7 423.3L549.6 419.5L553.5 417.1L557.3 417.5L565.6 415.6L570.4 409.3L577.2 402.5L582.6 397.0L610.6 397.0L610.6 520.0L464.5 520.0L462.1 509.7L460.0 505.4L458.8 502.6L462.8 498.6L474.2 488.4L498.6 470.0ZM377.6 511.8L382.6 505.4L391.1 497.6L401.8 495.5L407.4 493.4L408.9 497.6L413.8 503.3L417.4 509.7L417.4 520.0L377.6 520.0Z" fill="#bde0f4"/><path d="M472.6 372.0L474.6 374.0L468.6 381.0L460.6 387.0L457.6 386.0L463.6 381.0ZM340.6 406.0L346.6 403.0L355.6 404.0L354.6 406.5L346.6 406.0L341.6 409.0Z" fill="#d6ebf8"/><path d="M588.3 417.7L592.9 415.2L594.7 424.2L592.2 434.5L587.0 442.2L578.0 448.6L568.6 450.8L563.6 452.2L563.1 454.5L556.6 454.8L556.1 451.8L554.1 452.0L554.4 458.0L552.1 462.5L547.6 462.5L543.1 456.0L544.1 451.0L549.6 449.0L552.6 447.4L560.0 446.8L562.6 446.0L570.3 443.5L578.0 440.9L584.4 435.7L587.0 428.0L584.4 421.6ZM513.0 507.3L519.8 507.3L520.1 520.0L512.6 520.0Z" fill="#fff"/><path d="M395.6 392.0L410.6 385.0L435.6 382.0L460.6 388.0L485.6 385.0L505.6 390.0M320.6 432.0L340.6 421.0L355.6 413.0L370.6 401.0L385.6 396.0M325.6 446.0L338.6 441.0L345.6 438.0M328.6 457.0L345.6 451.0L358.6 453.0M360.6 471.0L380.6 479.0L400.6 483.0L420.6 481.0M428.6 491.0L425.6 501.0L432.6 511.0M445.6 498.0L450.6 506.0L447.6 514.0M340.6 470.0L350.6 485.0L362.6 500.0L375.6 511.0M400.6 484.0L404.6 494.0M330.6 410.0L345.6 400.0L362.6 392.0L380.6 385.0L400.6 376.0M532.6 379.0L540.6 374.0M420.6 372.0L430.6 381.0" fill="none" stroke="#b5b5b5" stroke-width="0.5" stroke-dasharray="1 1.3"/><path d="M360.6 388.0L372.6 392.0L380.6 390.0M322.6 440.0L330.6 436.0L336.6 438.0M515.6 376.0L522.6 372.0M550.6 392.0L562.6 388.0L572.6 392.0" fill="none" stroke="#cfe6f5" stroke-width="0.9"/><g clip-path="url(#ld6)"><rect x="330.6" y="370" width="250" height="150" fill="#27713a"/><path d="M360.6 395.0L400.6 392.0L425.6 418.0L400.6 425.0L380.6 420.0L364.6 425.0L340.6 432.0L345.6 425.0Z" fill="#faf6bb" filter="url(#f184)"/><path d="M360.6 395.0L400.6 392.0L425.6 418.0L400.6 425.0L380.6 420.0L364.6 425.0L340.6 432.0L345.6 425.0Z" fill="#f4a31b" filter="url(#f185)"/><path d="M340.6 425.0L450.6 425.0L450.6 480.0L340.6 480.0Z" fill="#f4a31b" filter="url(#f186)"/><path d="M360.6 430.0L450.6 430.0L450.6 475.0L360.6 475.0Z" fill="#bfe0f2" filter="url(#f187)"/><path d="M416.3 480.6L420.6 474.0L429.3 467.5L435.8 463.2L438.0 454.5L440.2 443.6L444.5 432.8L451.0 421.9L464.0 415.4L479.2 411.1L490.1 404.6L494.4 398.1L498.8 385.0L500.6 375.0L513.6 378.0L511.8 388.0L507.4 401.1L503.1 407.6L492.2 414.1L477.0 418.4L464.0 424.9L457.5 435.8L453.2 446.6L451.0 457.5L448.8 466.2L442.3 470.5L433.6 477.0L429.3 483.6Z" fill="#faf6bb" filter="url(#f188)"/><path d="M416.3 480.6L420.6 474.0L429.3 467.5L435.8 463.2L438.0 454.5L440.2 443.6L444.5 432.8L451.0 421.9L464.0 415.4L479.2 411.1L490.1 404.6L494.4 398.1L498.8 385.0L500.6 375.0L513.6 378.0L511.8 388.0L507.4 401.1L503.1 407.6L492.2 414.1L477.0 418.4L464.0 424.9L457.5 435.8L453.2 446.6L451.0 457.5L448.8 466.2L442.3 470.5L433.6 477.0L429.3 483.6Z" fill="#f4a31b" filter="url(#f189)"/><path d="M429.3 483.6L433.6 477.0L442.3 470.5L448.8 466.2L451.0 457.5L453.2 446.6L457.5 435.8L464.0 424.9L477.0 418.4L492.2 414.1L503.1 407.6L507.4 401.1L511.8 388.0L513.6 378.0L570.6 378.0L570.6 420.0L525.6 440.0L525.6 470.0L518.6 495.0L475.6 512.0L440.6 500.0L425.6 490.0Z" fill="#faf6bb" filter="url(#f190)"/><path d="M429.3 483.6L433.6 477.0L442.3 470.5L448.8 466.2L451.0 457.5L453.2 446.6L457.5 435.8L464.0 424.9L477.0 418.4L492.2 414.1L503.1 407.6L507.4 401.1L511.8 388.0L513.6 378.0L570.6 378.0L570.6 420.0L525.6 440.0L525.6 470.0L518.6 495.0L475.6 512.0L440.6 500.0L425.6 490.0Z" fill="#6ab72f" filter="url(#f191)"/><path d="M429.3 483.6L433.6 477.0L442.3 470.5L448.8 466.2L451.0 457.5L453.2 446.6L457.5 435.8L464.0 424.9L477.0 418.4L492.2 414.1L503.1 407.6L507.4 401.1L511.8 388.0L513.6 378.0L570.6 378.0L570.6 420.0L525.6 440.0L525.6 470.0L518.6 495.0L475.6 512.0L440.6 500.0L425.6 490.0Z" fill="#f4a31b" filter="url(#f192)"/><path d="M429.3 483.6L433.6 477.0L442.3 470.5L448.8 466.2L451.0 457.5L453.2 446.6L457.5 435.8L464.0 424.9L477.0 418.4L492.2 414.1L503.1 407.6L507.4 401.1L511.8 388.0L513.6 378.0L570.6 378.0L570.6 420.0L525.6 440.0L525.6 470.0L518.6 495.0L475.6 512.0L440.6 500.0L425.6 490.0Z" fill="#d7141b" filter="url(#f193)"/><path d="M429.3 483.6L433.6 477.0L442.3 470.5L448.8 466.2L451.0 457.5L453.2 446.6L457.5 435.8L464.0 424.9L477.0 418.4L492.2 414.1L503.1 407.6L507.4 401.1L511.8 388.0L513.6 378.0L570.6 378.0L570.6 420.0L525.6 440.0L525.6 470.0L518.6 495.0L475.6 512.0L440.6 500.0L425.6 490.0Z" fill="#27713a" filter="url(#f194)"/><path d="M483.6 427.1L507.4 429.3L516.1 438.0L518.6 446.6L514.6 461.8L503.1 466.2L485.7 461.8L477.0 448.8L479.2 435.8Z" fill="#faf6bb" filter="url(#f195)"/><path d="M518.3 398.9L537.8 396.7L550.9 403.2L542.2 414.1L529.2 422.8L518.3 427.1L514.0 418.4L516.1 407.6Z" fill="#faf6bb" filter="url(#f196)"/><path d="M509.6 380.0L534.6 380.0L538.6 392.0L522.6 397.0L511.6 403.0L506.6 396.0Z" fill="#27713a" filter="url(#f197)"/><path d="M435.6 470.0L518.6 465.0L515.6 500.0L435.6 500.0Z" fill="#27713a" filter="url(#f198)"/><path d="M435.2 419.0L450.2 419.5L458.6 419.0L465.6 416.6L478.0 411.6L483.0 407.9L495.5 405.4L504.2 402.9L509.2 400.4L508.2 410.4L503.2 412.9L494.5 415.4L482.0 417.9L477.0 421.6L464.6 426.6L457.6 429.0L449.2 429.5L434.2 429.0Z" fill="#27713a" filter="url(#f199)"/><path d="M435.2 419.0L450.2 419.5L458.6 419.0L465.6 416.6L478.0 411.6L483.0 407.9L495.5 405.4L504.2 402.9L509.2 400.4L508.2 410.4L503.2 412.9L494.5 415.4L482.0 417.9L477.0 421.6L464.6 426.6L457.6 429.0L449.2 429.5L434.2 429.0Z" fill="#f4a31b" filter="url(#f200)"/></g><path d="M511.20000000000005 370V515" stroke="#c8c8c8" stroke-width="0.6" fill="none"/></g><path d="M534.9 370.8L540.5 372.5L547.4 375.1L554.6 378.4L561.0 382.0L566.8 385.8L572.2 389.8L577.4 393.9L582.0 398.2L585.9 402.5L589.5 406.9L592.5 411.3L594.9 415.8L596.7 420.2L598.0 424.6L599.1 429.1L599.9 433.5L600.3 438.0L600.5 442.4L600.3 446.8L599.9 451.3L599.1 455.7L598.0 460.2L596.7 464.6L594.9 469.0L592.5 473.5L589.5 477.9L585.9 482.3L582.0 486.6L577.4 490.9L572.2 495.0L566.8 499.0L561.0 502.8L554.6 506.4L547.4 509.7L540.5 512.3L534.9 514.0L385.5 514.0L379.9 512.3L373.0 509.7L365.8 506.4L359.4 502.8L353.6 499.0L348.2 495.0L343.0 490.9L338.4 486.6L334.5 482.3L330.9 477.9L327.9 473.5L325.5 469.0L323.7 464.6L322.4 460.2L321.3 455.7L320.5 451.3L320.1 446.8L319.9 442.4L320.1 438.0L320.5 433.5L321.3 429.1L322.4 424.6L323.7 420.2L325.5 415.8L327.9 411.3L330.9 406.9L334.5 402.5L338.4 398.2L343.0 393.9L348.2 389.8L353.6 385.8L359.4 382.0L365.8 378.4L373.0 375.1L379.9 372.5L385.5 370.8Z" fill="none" stroke="#9c9c9c" stroke-width="0.7"/><path d="M749.6 96.8L743.60 29.06A68 68 0 1 1 743.60 164.54Z" fill="#fff"/><path d="M749.6 96.8L743.60 29.06A68 68 0 1 1 743.60 164.54Z" fill="url(#dots)"/><path d="M749.6 96.8L743.60 29.06A68 68 0 1 1 743.60 164.54Z" fill="url(#pg1)"/><path d="M743.60 29.06A68 68 0 1 1 743.60 164.54" fill="none" stroke="#333" stroke-width="0.55" stroke-dasharray="2 1.8"/><path d="M753.6 28.8L906.2 63.4M753.6 164.8L906.2 131.4" fill="none" stroke="#777" stroke-width="0.6" stroke-dasharray="1.6 3.2"/><path d="M749.6 96.8L743.60 164.54A68 68 0 0 1 695.21 137.61Z" fill="#d7141b" stroke="#231815" stroke-width="0.5" stroke-dasharray="1.2 1.6" stroke-linejoin="round"/><path d="M749.6 96.8L695.21 137.61A68 68 0 0 1 681.69 93.36Z" fill="#f4a31b" stroke="#231815" stroke-width="0.5" stroke-dasharray="1.2 1.6" stroke-linejoin="round"/><path d="M749.6 96.8L681.69 93.36A68 68 0 0 1 741.73 29.26Z" fill="#faf6bb" stroke="#231815" stroke-width="0.5" stroke-dasharray="1.2 1.6" stroke-linejoin="round"/><path d="M749.6 96.8L741.73 29.26A68 68 0 0 1 743.65 29.06Z" fill="#231815" stroke="#231815" stroke-width="0.5" stroke-dasharray="1.2 1.6" stroke-linejoin="round"/><path d="M749.6 96.8L743.60 29.06" stroke="#231815" stroke-width="0.55"/><circle cx="906.2" cy="97.4" r="34" fill="#27713a" stroke="#1d4f2a" stroke-width="0.5"/><path d="M906.2 97.4L881.34 74.20A34 34 0 0 1 906.20 63.40Z" fill="#6ab72f" stroke="#3c7a22" stroke-width="0.3"/><path d="M1070.0 96.8L1030.37 41.79A67.8 67.8 0 1 1 1030.37 151.81Z" fill="#fff"/><path d="M1070.0 96.8L1030.37 41.79A67.8 67.8 0 1 1 1030.37 151.81Z" fill="url(#dots)"/><path d="M1070.0 96.8L1030.37 41.79A67.8 67.8 0 1 1 1030.37 151.81Z" fill="url(#pg2)"/><path d="M1030.37 41.79A67.8 67.8 0 1 1 1030.37 151.81" fill="none" stroke="#333" stroke-width="0.55" stroke-dasharray="2 1.8"/><path d="M1074.0 29.0L1227.0 63.4M1074.0 164.6L1227.0 131.0" fill="none" stroke="#777" stroke-width="0.6" stroke-dasharray="1.6 3.2"/><path d="M1070.0 96.8L1030.37 151.81A67.8 67.8 0 0 1 1026.21 148.56Z" fill="#d7141b" stroke="#231815" stroke-width="0.5" stroke-dasharray="1.2 1.6" stroke-linejoin="round"/><path d="M1070.0 96.8L1026.21 148.56A67.8 67.8 0 0 1 1025.95 148.34Z" fill="#f4a31b" stroke="#231815" stroke-width="0.5" stroke-dasharray="1.2 1.6" stroke-linejoin="round"/><path d="M1070.0 96.8L1025.95 148.34A67.8 67.8 0 0 1 1028.83 42.93Z" fill="#faf6bb" stroke="#231815" stroke-width="0.5" stroke-dasharray="1.2 1.6" stroke-linejoin="round"/><path d="M1070.0 96.8L1028.83 42.93A67.8 67.8 0 0 1 1030.37 41.79Z" fill="#231815" stroke="#231815" stroke-width="0.5" stroke-dasharray="1.2 1.6" stroke-linejoin="round"/><path d="M1070.0 96.8L1030.37 41.79" stroke="#231815" stroke-width="0.55"/><circle cx="1227.0" cy="97.2" r="33.8" fill="#27713a" stroke="#1d4f2a" stroke-width="0.5"/><path d="M1227.0 97.2L1224.33 63.51A33.8 33.8 0 0 1 1227.00 63.40Z" fill="#6ab72f" stroke="#3c7a22" stroke-width="0.3"/><path d="M748.9 271.2L700.87 223.35A67.8 67.8 0 1 1 700.87 319.05Z" fill="#fff"/><path d="M748.9 271.2L700.87 223.35A67.8 67.8 0 1 1 700.87 319.05Z" fill="url(#dots)"/><path d="M748.9 271.2L700.87 223.35A67.8 67.8 0 1 1 700.87 319.05Z" fill="url(#pg3)"/><path d="M700.87 223.35A67.8 67.8 0 1 1 700.87 319.05" fill="none" stroke="#333" stroke-width="0.55" stroke-dasharray="2 1.8"/><path d="M752.9 203.4L906.2 236.5M752.9 339.0L906.2 304.5" fill="none" stroke="#777" stroke-width="0.6" stroke-dasharray="1.6 3.2"/><path d="M748.9 271.2L700.87 319.05A67.8 67.8 0 0 1 699.48 317.61Z" fill="#d7141b" stroke="#231815" stroke-width="0.5" stroke-dasharray="1.2 1.6" stroke-linejoin="round"/><path d="M748.9 271.2L699.48 317.61A67.8 67.8 0 0 1 696.66 314.42Z" fill="#f4a31b" stroke="#231815" stroke-width="0.5" stroke-dasharray="1.2 1.6" stroke-linejoin="round"/><path d="M748.9 271.2L696.66 314.42A67.8 67.8 0 0 1 699.56 224.69Z" fill="#faf6bb" stroke="#231815" stroke-width="0.5" stroke-dasharray="1.2 1.6" stroke-linejoin="round"/><path d="M748.9 271.2L699.56 224.69A67.8 67.8 0 0 1 700.87 223.35Z" fill="#231815" stroke="#231815" stroke-width="0.5" stroke-dasharray="1.2 1.6" stroke-linejoin="round"/><path d="M748.9 271.2L700.87 223.35" stroke="#231815" stroke-width="0.55"/><circle cx="906.2" cy="270.5" r="34" fill="#27713a" stroke="#1d4f2a" stroke-width="0.5"/><path d="M906.2 270.5L889.28 241.01A34 34 0 0 1 906.20 236.50Z" fill="#6ab72f" stroke="#3c7a22" stroke-width="0.3"/><path d="M1070.2 270.0L1010.32 238.20A67.8 67.8 0 1 1 1010.32 301.80Z" fill="#fff"/><path d="M1070.2 270.0L1010.32 238.20A67.8 67.8 0 1 1 1010.32 301.80Z" fill="url(#dots)"/><path d="M1070.2 270.0L1010.32 238.20A67.8 67.8 0 1 1 1010.32 301.80Z" fill="url(#pg4)"/><path d="M1010.32 238.20A67.8 67.8 0 1 1 1010.32 301.80" fill="none" stroke="#333" stroke-width="0.55" stroke-dasharray="2 1.8"/><path d="M1074.2 202.2L1227.4 236.0M1074.2 337.8L1227.4 304.0" fill="none" stroke="#777" stroke-width="0.6" stroke-dasharray="1.6 3.2"/><path d="M1070.2 270.0L1010.32 301.80A67.8 67.8 0 0 1 1009.43 300.06Z" fill="#d7141b" stroke="#231815" stroke-width="0.5" stroke-dasharray="1.2 1.6" stroke-linejoin="round"/><path d="M1070.2 270.0L1009.43 300.06A67.8 67.8 0 0 1 1009.20 299.60Z" fill="#f4a31b" stroke="#231815" stroke-width="0.5" stroke-dasharray="1.2 1.6" stroke-linejoin="round"/><path d="M1070.2 270.0L1009.20 299.60A67.8 67.8 0 0 1 1009.91 238.99Z" fill="#faf6bb" stroke="#231815" stroke-width="0.5" stroke-dasharray="1.2 1.6" stroke-linejoin="round"/><path d="M1070.2 270.0L1009.91 238.99A67.8 67.8 0 0 1 1010.32 238.20Z" fill="#231815" stroke="#231815" stroke-width="0.5" stroke-dasharray="1.2 1.6" stroke-linejoin="round"/><path d="M1070.2 270.0L1010.32 238.20" stroke="#231815" stroke-width="0.55"/><circle cx="1227.4" cy="270.0" r="34" fill="#27713a" stroke="#1d4f2a" stroke-width="0.5"/><path d="M1227.4 270.0L1222.96 236.29A34 34 0 0 1 1227.40 236.00Z" fill="#6ab72f" stroke="#3c7a22" stroke-width="0.3"/><path d="M750.0 440.1L710.15 385.00A68 68 0 1 1 710.15 495.20Z" fill="#fff"/><path d="M750.0 440.1L710.15 385.00A68 68 0 1 1 710.15 495.20Z" fill="url(#dots)"/><path d="M750.0 440.1L710.15 385.00A68 68 0 1 1 710.15 495.20Z" fill="url(#pg5)"/><path d="M710.15 385.00A68 68 0 1 1 710.15 495.20" fill="none" stroke="#333" stroke-width="0.55" stroke-dasharray="2 1.8"/><path d="M754.0 372.1L907.0 406.0M754.0 508.1L907.0 474.0" fill="none" stroke="#777" stroke-width="0.6" stroke-dasharray="1.6 3.2"/><path d="M750.0 440.1L710.15 495.20A68 68 0 0 1 682.12 444.22Z" fill="#be1a21" stroke="#231815" stroke-width="0.5" stroke-dasharray="1.2 1.6" stroke-linejoin="round"/><path d="M750.0 440.1L682.12 444.22A68 68 0 0 1 682.05 442.64Z" fill="#e57f28" stroke="#231815" stroke-width="0.5" stroke-dasharray="1.2 1.6" stroke-linejoin="round"/><path d="M750.0 440.1L682.05 442.64A68 68 0 0 1 706.15 388.13Z" fill="#faf6bb" stroke="#231815" stroke-width="0.5" stroke-dasharray="1.2 1.6" stroke-linejoin="round"/><path d="M750.0 440.1L706.15 388.13A68 68 0 0 1 710.15 385.00Z" fill="#231815" stroke="#231815" stroke-width="0.5" stroke-dasharray="1.2 1.6" stroke-linejoin="round"/><path d="M750.0 440.1L710.15 385.00" stroke="#231815" stroke-width="0.55"/><circle cx="907.0" cy="440.0" r="34" fill="#27713a" stroke="#1d4f2a" stroke-width="0.5"/><path d="M907.0 440.0L899.25 406.90A34 34 0 0 1 907.00 406.00Z" fill="#6ab72f" stroke="#3c7a22" stroke-width="0.3"/><path d="M1070.6 440.2L1022.53 392.10A68 68 0 1 1 1022.53 488.30Z" fill="#fff"/><path d="M1070.6 440.2L1022.53 392.10A68 68 0 1 1 1022.53 488.30Z" fill="url(#dots)"/><path d="M1070.6 440.2L1022.53 392.10A68 68 0 1 1 1022.53 488.30Z" fill="url(#pg6)"/><path d="M1022.53 392.10A68 68 0 1 1 1022.53 488.30" fill="none" stroke="#333" stroke-width="0.55" stroke-dasharray="2 1.8"/><path d="M1074.6 372.2L1228.0 406.0M1074.6 508.2L1228.0 474.0" fill="none" stroke="#777" stroke-width="0.6" stroke-dasharray="1.6 3.2"/><path d="M1070.6 440.2L1022.53 488.30A68 68 0 0 1 1015.20 479.63Z" fill="#be1a21" stroke="#231815" stroke-width="0.5" stroke-dasharray="1.2 1.6" stroke-linejoin="round"/><path d="M1070.6 440.2L1015.20 479.63A68 68 0 0 1 1003.17 449.00Z" fill="#e57f28" stroke="#231815" stroke-width="0.5" stroke-dasharray="1.2 1.6" stroke-linejoin="round"/><path d="M1070.6 440.2L1003.17 449.00A68 68 0 0 1 1019.05 395.86Z" fill="#faf6bb" stroke="#231815" stroke-width="0.5" stroke-dasharray="1.2 1.6" stroke-linejoin="round"/><path d="M1070.6 440.2L1019.05 395.86A68 68 0 0 1 1022.50 392.13Z" fill="#231815" stroke="#231815" stroke-width="0.5" stroke-dasharray="1.2 1.6" stroke-linejoin="round"/><path d="M1070.6 440.2L1022.53 392.10" stroke="#231815" stroke-width="0.55"/><circle cx="1228.0" cy="440.0" r="34" fill="#27713a" stroke="#1d4f2a" stroke-width="0.5"/><path d="M1228.0 440.0L1217.84 407.55A34 34 0 0 1 1228.00 406.00Z" fill="#6ab72f" stroke="#3c7a22" stroke-width="0.3"/><text x="742.5" y="9.2" font-size="10.9" textLength="16.9" lengthAdjust="spacingAndGlyphs" fill="#231815" font-weight="bold" stroke="#231815" stroke-width="0.4">UD</text><text x="728.3" y="20.2" font-size="12.0" textLength="42.7" lengthAdjust="spacingAndGlyphs" fill="#231815" font-weight="bold" stroke="#231815" stroke-width="0.4">0.45%</text><path d="M741.7 24.5L742.9 29.5" fill="none" stroke="#231815" stroke-width="0.9"/><text x="652.3" y="30.0" font-size="10.9" textLength="39.0" lengthAdjust="spacingAndGlyphs" fill="#f3efb0" font-weight="bold" stroke="#231815" stroke-width="0.8" stroke-opacity="0.9">NS-UM</text><text x="645.2" y="43.8" font-size="12.0" textLength="50.3" lengthAdjust="spacingAndGlyphs" fill="#231815" font-weight="bold" stroke="#231815" stroke-width="0.4">22.35%</text><path d="M696.3 34.5L699.8 49.5" fill="none" stroke="#231815" stroke-width="0.5" stroke-dasharray="2 1.2"/><text x="636.0" y="116.2" font-size="10.9" textLength="38.5" lengthAdjust="spacingAndGlyphs" fill="#f09c1a" font-weight="bold" stroke="#3d2a0a" stroke-width="0.55" stroke-opacity="0.9">SN-UM</text><text x="638.1" y="128.5" font-size="12.0" textLength="49.8" lengthAdjust="spacingAndGlyphs" fill="#231815" font-weight="bold" stroke="#231815" stroke-width="0.4">11.05%</text><path d="M675.0 116.5L683.0 114.8" fill="none" stroke="#231815" stroke-width="0.5"/><text x="658.5" y="159.0" font-size="10.9" textLength="37.2" lengthAdjust="spacingAndGlyphs" fill="#d7141b" font-weight="bold" stroke="#3a0c0e" stroke-width="0.55" stroke-opacity="0.9">SS-UM</text><text x="657.6" y="171.9" font-size="12.0" textLength="49.2" lengthAdjust="spacingAndGlyphs" fill="#231815" font-weight="bold" stroke="#231815" stroke-width="0.4">13.35%</text><path d="M706.4 160.7L717.5 149.2" fill="none" stroke="#231815" stroke-width="0.5"/><text x="820.6" y="93.6" font-size="9.6" textLength="40.5" lengthAdjust="spacingAndGlyphs" fill="#231815" font-weight="bold" stroke="#231815" stroke-width="0.4">Matched</text><text x="824.2" y="105.7" font-size="12.0" textLength="43.8" lengthAdjust="spacingAndGlyphs" fill="#231815" font-weight="bold" stroke="#231815" stroke-width="0.4">52.81%</text><path d="M818.1 97.7L824.1 97.7" fill="none" stroke="#231815" stroke-width="0.5"/><text x="909.1" y="43.6" font-size="10.9" textLength="31.2" lengthAdjust="spacingAndGlyphs" fill="#6ab72f" font-weight="bold" stroke="#22400f" stroke-width="0.55" stroke-opacity="0.9">NN-M</text><text x="904.3" y="56.2" font-size="12.0" textLength="42.1" lengthAdjust="spacingAndGlyphs" fill="#231815" font-weight="bold" stroke="#231815" stroke-width="0.4">6.89%</text><path d="M904.0 41.2L908.1 41.2L897.7 64.6" fill="none" stroke="#231815" stroke-width="0.5" stroke-dasharray="2 1.2"/><text x="892.2" y="146.7" font-size="10.9" textLength="28.8" lengthAdjust="spacingAndGlyphs" fill="#27713a" font-weight="bold" stroke="#0f2614" stroke-width="0.55" stroke-opacity="0.9">SS-M</text><text x="884.2" y="159.5" font-size="12.0" textLength="50.1" lengthAdjust="spacingAndGlyphs" fill="#231815" font-weight="bold" stroke="#231815" stroke-width="0.4">45.91%</text><path d="M913.4 135.8L919.4 128.6" fill="none" stroke="#231815" stroke-width="0.7"/><path d="M882.0 73.6L887.0 78.0" fill="none" stroke="#231815" stroke-width="0.7"/><text x="721.4" y="183.4" font-size="15.6" textLength="36.9" lengthAdjust="spacingAndGlyphs" fill="#231815" font-weight="bold" stroke="#231815" stroke-width="0.5">LTIL</text><text x="758.2" y="189.9" font-size="8.6" textLength="27.7" lengthAdjust="spacingAndGlyphs" fill="#231815" font-weight="bold" stroke="#231815" stroke-width="0.4">LiNTL</text><text x="997.4" y="23.9" font-size="10.9" textLength="16.9" lengthAdjust="spacingAndGlyphs" fill="#231815" font-weight="bold" stroke="#231815" stroke-width="0.4">UD</text><text x="979.3" y="35.9" font-size="12.0" textLength="42.7" lengthAdjust="spacingAndGlyphs" fill="#231815" font-weight="bold" stroke="#231815" stroke-width="0.4">0.45%</text><path d="M1021.6 32.7L1026.0 32.7L1028.7 42.4" fill="none" stroke="#231815" stroke-width="0.5" stroke-dasharray="2 1.2"/><text x="960.3" y="91.4" font-size="10.9" textLength="37.4" lengthAdjust="spacingAndGlyphs" fill="#f3efb0" font-weight="bold" stroke="#231815" stroke-width="0.8" stroke-opacity="0.9">NS-UM</text><text x="951.1" y="104.3" font-size="12.0" textLength="49.2" lengthAdjust="spacingAndGlyphs" fill="#231815" font-weight="bold" stroke="#231815" stroke-width="0.4">28.36%</text><path d="M997.4 94.2L1011.9 94.2" fill="none" stroke="#231815" stroke-width="0.5"/><text x="967.3" y="134.2" font-size="10.9" textLength="38.7" lengthAdjust="spacingAndGlyphs" fill="#f09c1a" font-weight="bold" stroke="#3d2a0a" stroke-width="0.55" stroke-opacity="0.9">SN-UM</text><text x="971.4" y="148.3" font-size="12.0" textLength="42.6" lengthAdjust="spacingAndGlyphs" fill="#231815" font-weight="bold" stroke="#231815" stroke-width="0.4">0.08%</text><path d="M1009.2 137.4L1019.8 137.4" fill="none" stroke="#231815" stroke-width="0.5"/><path d="M1019.8 140.4L1031.3 140.4" fill="none" stroke="#231815" stroke-width="0.5"/><text x="981.1" y="165.7" font-size="10.9" textLength="37.2" lengthAdjust="spacingAndGlyphs" fill="#c0161d" font-weight="bold" stroke="#3a0c0e" stroke-width="0.55" stroke-opacity="0.9">SS-UM</text><text x="980.2" y="177.5" font-size="12.0" textLength="41.8" lengthAdjust="spacingAndGlyphs" fill="#231815" font-weight="bold" stroke="#231815" stroke-width="0.4">1.24%</text><path d="M1021.6 160.7L1021.6 156.3L1029.6 148.3" fill="none" stroke="#231815" stroke-width="0.5"/><text x="1143.2" y="93.6" font-size="10.3" textLength="44.9" lengthAdjust="spacingAndGlyphs" fill="#231815" font-weight="bold" stroke="#231815" stroke-width="0.4">Matched</text><text x="1141.9" y="106.8" font-size="12.0" textLength="48.1" lengthAdjust="spacingAndGlyphs" fill="#231815" font-weight="bold" stroke="#231815" stroke-width="0.4">69.87%</text><path d="M1128.1 97.2L1143.8 97.2" fill="none" stroke="#231815" stroke-width="0.5"/><text x="1213.5" y="45.3" font-size="10.9" textLength="31.4" lengthAdjust="spacingAndGlyphs" fill="#6ab72f" font-weight="bold" stroke="#22400f" stroke-width="0.55" stroke-opacity="0.9">NN-M</text><text x="1209.4" y="57.9" font-size="12.0" textLength="42.1" lengthAdjust="spacingAndGlyphs" fill="#231815" font-weight="bold" stroke="#231815" stroke-width="0.4">0.88%</text><path d="M1225.3 58.6L1225.3 68.2" fill="none" stroke="#231815" stroke-width="0.7"/><text x="1212.5" y="144.2" font-size="10.9" textLength="29.2" lengthAdjust="spacingAndGlyphs" fill="#27713a" font-weight="bold" stroke="#0f2614" stroke-width="0.55" stroke-opacity="0.9">SS-M</text><text x="1209.4" y="158.0" font-size="12.0" textLength="48.6" lengthAdjust="spacingAndGlyphs" fill="#231815" font-weight="bold" stroke="#231815" stroke-width="0.4">68.98%</text><path d="M1228.2 126.1L1228.2 134.6" fill="none" stroke="#231815" stroke-width="0.7"/><text x="1044.0" y="183.4" font-size="15.6" textLength="35.2" lengthAdjust="spacingAndGlyphs" fill="#231815" font-weight="bold" stroke="#231815" stroke-width="0.5">LTIL</text><text x="1081.2" y="189.5" font-size="8.6" textLength="26.1" lengthAdjust="spacingAndGlyphs" fill="#231815" font-weight="bold" stroke="#231815" stroke-width="0.4">PCNL</text><text x="672.6" y="207.1" font-size="10.9" textLength="16.9" lengthAdjust="spacingAndGlyphs" fill="#231815" font-weight="bold" stroke="#231815" stroke-width="0.4">UD</text><text x="656.7" y="218.9" font-size="12.0" textLength="41.8" lengthAdjust="spacingAndGlyphs" fill="#231815" font-weight="bold" stroke="#231815" stroke-width="0.4">0.44%</text><path d="M694.5 208.5L706.4 208.5L706.4 229.2" fill="none" stroke="#555" stroke-width="0.5"/><text x="636.7" y="265.4" font-size="10.9" textLength="37.8" lengthAdjust="spacingAndGlyphs" fill="#f3efb0" font-weight="bold" stroke="#231815" stroke-width="0.8" stroke-opacity="0.9">NS-UM</text><text x="630.7" y="278.7" font-size="12.0" textLength="49.2" lengthAdjust="spacingAndGlyphs" fill="#231815" font-weight="bold" stroke="#231815" stroke-width="0.4">23.03%</text><path d="M689.3 268.1L691.0 268.1" fill="none" stroke="#231815" stroke-width="0.5"/><text x="639.6" y="299.4" font-size="10.9" textLength="38.4" lengthAdjust="spacingAndGlyphs" fill="#f09c1a" font-weight="bold" stroke="#3d2a0a" stroke-width="0.55" stroke-opacity="0.9">SN-UM</text><text x="641.3" y="312.4" font-size="12.0" textLength="41.8" lengthAdjust="spacingAndGlyphs" fill="#231815" font-weight="bold" stroke="#231815" stroke-width="0.4">1.00%</text><path d="M683.0 298.2L703.4 298.2L704.3 306.5" fill="none" stroke="#231815" stroke-width="0.5"/><text x="655.5" y="328.1" font-size="10.9" textLength="37.0" lengthAdjust="spacingAndGlyphs" fill="#c0161d" font-weight="bold" stroke="#3a0c0e" stroke-width="0.55" stroke-opacity="0.9">SS-UM</text><text x="652.6" y="340.1" font-size="12.0" textLength="42.3" lengthAdjust="spacingAndGlyphs" fill="#231815" font-weight="bold" stroke="#231815" stroke-width="0.4">0.47%</text><path d="M694.5 332.2L706.4 332.2L706.4 311.8" fill="none" stroke="#231815" stroke-width="0.5"/><text x="819.1" y="266.9" font-size="11.2" textLength="47.7" lengthAdjust="spacingAndGlyphs" fill="#231815" font-weight="bold" stroke="#231815" stroke-width="0.4">Matched</text><text x="819.8" y="280.7" font-size="12.0" textLength="43.8" lengthAdjust="spacingAndGlyphs" fill="#231815" font-weight="bold" stroke="#231815" stroke-width="0.4">75.06%</text><path d="M807.2 270.3L825.3 270.3" fill="none" stroke="#231815" stroke-width="0.5"/><path d="M818.1 266.2L818.1 274.6" fill="none" stroke="#231815" stroke-width="0.5"/><text x="909.8" y="222.8" font-size="10.9" textLength="30.5" lengthAdjust="spacingAndGlyphs" fill="#6ab72f" font-weight="bold" stroke="#22400f" stroke-width="0.55" stroke-opacity="0.9">NN-M</text><text x="906.7" y="234.8" font-size="12.0" textLength="41.4" lengthAdjust="spacingAndGlyphs" fill="#231815" font-weight="bold" stroke="#231815" stroke-width="0.4">6.22%</text><path d="M905.0 231.2L900.1 242.1" fill="none" stroke="#231815" stroke-width="0.5"/><text x="900.7" y="316.9" font-size="10.9" textLength="28.7" lengthAdjust="spacingAndGlyphs" fill="#27713a" font-weight="bold" stroke="#0f2614" stroke-width="0.55" stroke-opacity="0.9">SS-M</text><text x="896.3" y="329.7" font-size="12.0" textLength="50.1" lengthAdjust="spacingAndGlyphs" fill="#231815" font-weight="bold" stroke="#231815" stroke-width="0.4">68.83%</text><path d="M915.3 300.0L915.3 306.5" fill="none" stroke="#231815" stroke-width="0.7"/><text x="706.0" y="356.0" font-size="15.6" textLength="36.9" lengthAdjust="spacingAndGlyphs" fill="#231815" font-weight="bold" stroke="#231815" stroke-width="0.5">LTIL</text><text x="743.2" y="362.0" font-size="8.6" textLength="60.4" lengthAdjust="spacingAndGlyphs" fill="#231815" font-weight="bold" stroke="#231815" stroke-width="0.4">NechaevNTL</text><text x="980.8" y="224.2" font-size="10.9" textLength="16.9" lengthAdjust="spacingAndGlyphs" fill="#231815" font-weight="bold" stroke="#231815" stroke-width="0.4">UD</text><text x="963.4" y="237.2" font-size="12.0" textLength="41.8" lengthAdjust="spacingAndGlyphs" fill="#231815" font-weight="bold" stroke="#231815" stroke-width="0.4">0.21%</text><path d="M1003.9 230.6L1010.1 230.6" fill="none" stroke="#231815" stroke-width="0.5"/><text x="955.0" y="263.1" font-size="10.9" textLength="37.7" lengthAdjust="spacingAndGlyphs" fill="#f3efb0" font-weight="bold" stroke="#231815" stroke-width="0.8" stroke-opacity="0.9">NS-UM</text><text x="948.7" y="275.2" font-size="12.0" textLength="49.1" lengthAdjust="spacingAndGlyphs" fill="#231815" font-weight="bold" stroke="#231815" stroke-width="0.4">14.75%</text><path d="M996.9 268.1L1002.2 268.1" fill="none" stroke="#231815" stroke-width="0.5"/><text x="961.3" y="290.8" font-size="10.9" textLength="38.2" lengthAdjust="spacingAndGlyphs" fill="#f09c1a" font-weight="bold" stroke="#3d2a0a" stroke-width="0.55" stroke-opacity="0.9">SN-UM</text><text x="959.9" y="302.6" font-size="12.0" textLength="41.8" lengthAdjust="spacingAndGlyphs" fill="#231815" font-weight="bold" stroke="#231815" stroke-width="0.4">0.12%</text><path d="M1001.3 295.0L1005.7 295.0" fill="none" stroke="#888" stroke-width="0.4"/><text x="965.6" y="323.0" font-size="10.9" textLength="37.2" lengthAdjust="spacingAndGlyphs" fill="#d7141b" font-weight="bold" stroke="#3a0c0e" stroke-width="0.55" stroke-opacity="0.9">SS-UM</text><text x="969.1" y="334.8" font-size="12.0" textLength="42.3" lengthAdjust="spacingAndGlyphs" fill="#231815" font-weight="bold" stroke="#231815" stroke-width="0.4">0.46%</text><path d="M1009.6 301.2L1009.6 319.2" fill="none" stroke="#231815" stroke-width="0.5"/><text x="1142.4" y="266.6" font-size="10.1" textLength="42.8" lengthAdjust="spacingAndGlyphs" fill="#231815" font-weight="bold" stroke="#231815" stroke-width="0.4">Matched</text><text x="1141.9" y="280.6" font-size="12.0" textLength="45.7" lengthAdjust="spacingAndGlyphs" fill="#231815" font-weight="bold" stroke="#231815" stroke-width="0.4">84.46%</text><path d="M1135.3 269.8L1145.0 269.8" fill="none" stroke="#231815" stroke-width="0.4"/><path d="M1138.5 266.2L1138.5 273.4" fill="none" stroke="#231815" stroke-width="0.4"/><text x="1225.1" y="219.1" font-size="10.9" textLength="31.1" lengthAdjust="spacingAndGlyphs" fill="#6ab72f" font-weight="bold" stroke="#22400f" stroke-width="0.55" stroke-opacity="0.9">NN-M</text><text x="1217.8" y="230.7" font-size="12.0" textLength="42.6" lengthAdjust="spacingAndGlyphs" fill="#231815" font-weight="bold" stroke="#231815" stroke-width="0.4">1.76%</text><text x="1222.7" y="317.3" font-size="10.9" textLength="28.7" lengthAdjust="spacingAndGlyphs" fill="#27713a" font-weight="bold" stroke="#0f2614" stroke-width="0.55" stroke-opacity="0.9">SS-M</text><text x="1213.5" y="330.1" font-size="12.2" textLength="50.2" lengthAdjust="spacingAndGlyphs" fill="#231815" font-weight="bold" stroke="#231815" stroke-width="0.4">82.69%</text><path d="M1229.4 301.1L1229.4 308.4" fill="none" stroke="#231815" stroke-width="0.7"/><text x="1035.4" y="356.0" font-size="15.6" textLength="35.0" lengthAdjust="spacingAndGlyphs" fill="#231815" font-weight="bold" stroke="#231815" stroke-width="0.5">LTIL</text><text x="1071.4" y="362.6" font-size="8.6" textLength="43.6" lengthAdjust="spacingAndGlyphs" fill="#231815" font-weight="bold" stroke="#231815" stroke-width="0.4">ChenNTL</text><text x="682.7" y="368.0" font-size="10.9" textLength="16.9" lengthAdjust="spacingAndGlyphs" fill="#231815" font-weight="bold" stroke="#231815" stroke-width="0.4">UD</text><text x="662.0" y="380.3" font-size="12.0" textLength="42.7" lengthAdjust="spacingAndGlyphs" fill="#231815" font-weight="bold" stroke="#231815" stroke-width="0.4">1.19%</text><path d="M714.9 369.7L714.9 391.8" fill="none" stroke="#555" stroke-width="0.5"/><text x="650.2" y="395.4" font-size="10.9" textLength="37.6" lengthAdjust="spacingAndGlyphs" fill="#f3efb0" font-weight="bold" stroke="#231815" stroke-width="0.8" stroke-opacity="0.9">NS-UM</text><text x="640.3" y="409.2" font-size="12.0" textLength="49.3" lengthAdjust="spacingAndGlyphs" fill="#231815" font-weight="bold" stroke="#231815" stroke-width="0.4">14.44%</text><path d="M698.1 396.2L698.1 415.7" fill="none" stroke="#777" stroke-width="0.5"/><text x="636.4" y="438.7" font-size="10.9" textLength="38.1" lengthAdjust="spacingAndGlyphs" fill="#e07a22" font-weight="bold" stroke="#3d2408" stroke-width="0.55" stroke-opacity="0.9">SN-UM</text><text x="636.4" y="451.9" font-size="12.0" textLength="41.7" lengthAdjust="spacingAndGlyphs" fill="#231815" font-weight="bold" stroke="#231815" stroke-width="0.4">0.37%</text><path d="M676.3 442.2L683.0 442.2" fill="none" stroke="#777" stroke-width="0.5"/><text x="648.7" y="483.6" font-size="10.9" textLength="37.3" lengthAdjust="spacingAndGlyphs" fill="#c0161d" font-weight="bold" stroke="#3a0c0e" stroke-width="0.55" stroke-opacity="0.9">SS-UM</text><text x="644.9" y="497.7" font-size="12.0" textLength="48.8" lengthAdjust="spacingAndGlyphs" fill="#231815" font-weight="bold" stroke="#231815" stroke-width="0.4">14.07%</text><path d="M691.9 485.4L700.7 485.4" fill="none" stroke="#231815" stroke-width="0.6"/><text x="819.9" y="436.7" font-size="10.6" textLength="45.2" lengthAdjust="spacingAndGlyphs" fill="#231815" font-weight="bold" stroke="#231815" stroke-width="0.4">Matched</text><text x="824.7" y="448.3" font-size="9.8" textLength="39.5" lengthAdjust="spacingAndGlyphs" fill="#231815" font-weight="bold" stroke="#231815" stroke-width="0.4">69.93%</text><text x="898.2" y="386.2" font-size="10.9" textLength="31.2" lengthAdjust="spacingAndGlyphs" fill="#6ab72f" font-weight="bold" stroke="#22400f" stroke-width="0.55" stroke-opacity="0.9">NN-M</text><text x="894.1" y="399.5" font-size="12.0" textLength="42.6" lengthAdjust="spacingAndGlyphs" fill="#231815" font-weight="bold" stroke="#231815" stroke-width="0.4">2.56%</text><path d="M902.6 401.2L903.3 406.0" fill="none" stroke="#231815" stroke-width="0.5"/><text x="897.0" y="486.9" font-size="10.9" textLength="28.8" lengthAdjust="spacingAndGlyphs" fill="#27713a" font-weight="bold" stroke="#0f2614" stroke-width="0.55" stroke-opacity="0.9">SS-M</text><text x="891.0" y="499.7" font-size="12.0" textLength="50.1" lengthAdjust="spacingAndGlyphs" fill="#231815" font-weight="bold" stroke="#231815" stroke-width="0.4">67.37%</text><path d="M910.5 470.0L910.5 474.8" fill="none" stroke="#231815" stroke-width="0.7"/><text x="716.1" y="532.6" font-size="15.6" textLength="36.8" lengthAdjust="spacingAndGlyphs" fill="#231815" font-weight="bold" stroke="#231815" stroke-width="0.5">LTIL</text><text x="753.6" y="537.5" font-size="8.3" textLength="32.6" lengthAdjust="spacingAndGlyphs" fill="#231815" font-weight="bold" stroke="#231815" stroke-width="0.4">MaNTL</text><text x="983.8" y="377.4" font-size="10.9" textLength="16.9" lengthAdjust="spacingAndGlyphs" fill="#231815" font-weight="bold" stroke="#231815" stroke-width="0.4">UD</text><text x="971.9" y="389.4" font-size="12.0" textLength="42.1" lengthAdjust="spacingAndGlyphs" fill="#231815" font-weight="bold" stroke="#231815" stroke-width="0.4">1.19%</text><text x="957.8" y="415.4" font-size="10.9" textLength="37.6" lengthAdjust="spacingAndGlyphs" fill="#f3efb0" font-weight="bold" stroke="#231815" stroke-width="0.8" stroke-opacity="0.9">NS-UM</text><text x="953.2" y="428.3" font-size="12.0" textLength="49.4" lengthAdjust="spacingAndGlyphs" fill="#231815" font-weight="bold" stroke="#231815" stroke-width="0.4">13.37%</text><path d="M999.5 417.2L1015.4 417.2L1015.4 422.5" fill="none" stroke="#231815" stroke-width="0.5"/><text x="959.6" y="464.0" font-size="10.9" textLength="38.1" lengthAdjust="spacingAndGlyphs" fill="#e07a22" font-weight="bold" stroke="#3d2408" stroke-width="0.55" stroke-opacity="0.9">SN-UM</text><text x="970.5" y="476.6" font-size="12.0" textLength="28.0" lengthAdjust="spacingAndGlyphs" fill="#231815" font-weight="bold" stroke="#231815" stroke-width="0.4">7.78</text><path d="M1000.4 466.3L1016.3 466.3L1016.3 460.5" fill="none" stroke="#231815" stroke-width="0.5"/><text x="973.2" y="499.0" font-size="10.9" textLength="37.2" lengthAdjust="spacingAndGlyphs" fill="#c0161d" font-weight="bold" stroke="#c0161d" stroke-width="0.4">SS-UM</text><text x="974.1" y="513.6" font-size="12.0" textLength="42.6" lengthAdjust="spacingAndGlyphs" fill="#231815" font-weight="bold" stroke="#231815" stroke-width="0.4">2.66%</text><path d="M1013.3 498.1L1026.0 498.1" fill="none" stroke="#231815" stroke-width="0.6"/><text x="1146.1" y="438.6" font-size="9.6" textLength="41.9" lengthAdjust="spacingAndGlyphs" fill="#231815" font-weight="bold" stroke="#231815" stroke-width="0.4">Matched</text><text x="1141.9" y="451.3" font-size="12.2" textLength="47.7" lengthAdjust="spacingAndGlyphs" fill="#231815" font-weight="bold" stroke="#231815" stroke-width="0.4">74.99%</text><text x="1219.0" y="386.7" font-size="10.9" textLength="31.2" lengthAdjust="spacingAndGlyphs" fill="#6ab72f" font-weight="bold" stroke="#22400f" stroke-width="0.55" stroke-opacity="0.9">NN-M</text><text x="1217.8" y="400.0" font-size="12.2" textLength="42.7" lengthAdjust="spacingAndGlyphs" fill="#231815" font-weight="bold" stroke="#231815" stroke-width="0.4">3.62%</text><path d="M1222.2 401.7L1222.9 407.2" fill="none" stroke="#231815" stroke-width="0.5"/><text x="1222.7" y="485.6" font-size="10.9" textLength="28.7" lengthAdjust="spacingAndGlyphs" fill="#27713a" font-weight="bold" stroke="#0f2614" stroke-width="0.55" stroke-opacity="0.9">SS-M</text><text x="1216.6" y="497.7" font-size="12.2" textLength="49.5" lengthAdjust="spacingAndGlyphs" fill="#231815" font-weight="bold" stroke="#231815" stroke-width="0.4">71.37%</text><path d="M1233.0 469.2L1233.0 473.0" fill="none" stroke="#231815" stroke-width="0.7"/><text x="1042.8" y="532.6" font-size="15.6" textLength="36.0" lengthAdjust="spacingAndGlyphs" fill="#231815" font-weight="bold" stroke="#231815" stroke-width="0.5">LTIL</text><text x="1079.4" y="538.1" font-size="8.3" textLength="35.0" lengthAdjust="spacingAndGlyphs" fill="#231815" font-weight="bold" stroke="#231815" stroke-width="0.4">PANDA</text><text x="78.4" y="179.7" font-size="7.9" textLength="17.9" lengthAdjust="spacingAndGlyphs" fill="#231815" stroke="#231815" stroke-width="0.2">180°</text><text x="113.4" y="179.7" font-size="7.9" textLength="16.3" lengthAdjust="spacingAndGlyphs" fill="#231815" stroke="#231815" stroke-width="0.2">-90°</text><text x="156.5" y="179.7" font-size="7.9" textLength="8.2" lengthAdjust="spacingAndGlyphs" fill="#231815" stroke="#231815" stroke-width="0.2">0°</text><text x="190.4" y="179.7" font-size="7.9" textLength="13.1" lengthAdjust="spacingAndGlyphs" fill="#231815" stroke="#231815" stroke-width="0.2">90°</text><text x="228.0" y="179.7" font-size="7.9" textLength="17.6" lengthAdjust="spacingAndGlyphs" fill="#231815" stroke="#231815" stroke-width="0.2">180°</text><text x="378.1" y="177.7" font-size="7.9" textLength="17.2" lengthAdjust="spacingAndGlyphs" fill="#231815" stroke="#231815" stroke-width="0.2" class="s">180°</text><text x="413.1" y="177.7" font-size="7.9" textLength="16.6" lengthAdjust="spacingAndGlyphs" fill="#231815" stroke="#231815" stroke-width="0.2" class="s">-90°</text><text x="456.0" y="177.7" font-size="7.9" textLength="8.4" lengthAdjust="spacingAndGlyphs" fill="#231815" stroke="#231815" stroke-width="0.2" class="s">0°</text><text x="490.1" y="177.7" font-size="7.9" textLength="12.9" lengthAdjust="spacingAndGlyphs" fill="#231815" stroke="#231815" stroke-width="0.2" class="s">90°</text><text x="528.0" y="177.7" font-size="7.9" textLength="17.2" lengthAdjust="spacingAndGlyphs" fill="#231815" stroke="#231815" stroke-width="0.2" class="s">180°</text><text x="77.3" y="350.6" font-size="7.9" textLength="17.2" lengthAdjust="spacingAndGlyphs" fill="#231815" stroke="#231815" stroke-width="0.2">150°</text><text x="112.3" y="350.6" font-size="7.9" textLength="16.4" lengthAdjust="spacingAndGlyphs" fill="#231815" stroke="#231815" stroke-width="0.2">-90°</text><text x="154.5" y="350.6" font-size="7.9" textLength="8.9" lengthAdjust="spacingAndGlyphs" fill="#231815" stroke="#231815" stroke-width="0.2">0°</text><text x="188.3" y="350.6" font-size="7.9" textLength="14.3" lengthAdjust="spacingAndGlyphs" fill="#231815" stroke="#231815" stroke-width="0.2">90°</text><text x="226.8" y="350.6" font-size="7.9" textLength="17.5" lengthAdjust="spacingAndGlyphs" fill="#231815" stroke="#231815" stroke-width="0.2">150°</text><text x="377.3" y="350.6" font-size="7.9" textLength="17.2" lengthAdjust="spacingAndGlyphs" fill="#231815" stroke="#231815" stroke-width="0.2">150°</text><text x="412.3" y="350.6" font-size="7.9" textLength="16.4" lengthAdjust="spacingAndGlyphs" fill="#231815" stroke="#231815" stroke-width="0.2">-90°</text><text x="454.1" y="350.6" font-size="7.9" textLength="9.3" lengthAdjust="spacingAndGlyphs" fill="#231815" stroke="#231815" stroke-width="0.2">0°</text><text x="488.3" y="350.6" font-size="7.9" textLength="14.3" lengthAdjust="spacingAndGlyphs" fill="#231815" stroke="#231815" stroke-width="0.2">90°</text><text x="526.8" y="350.6" font-size="7.9" textLength="17.5" lengthAdjust="spacingAndGlyphs" fill="#231815" stroke="#231815" stroke-width="0.2">150°</text><text x="96.3" y="522.9" font-size="7.9" textLength="13.3" lengthAdjust="spacingAndGlyphs" fill="#231815" stroke="#231815" stroke-width="0.2">90°</text><text x="204.8" y="522.9" font-size="7.9" textLength="18.6" lengthAdjust="spacingAndGlyphs" fill="#666" stroke="#666" stroke-width="0.2">120°</text><text x="397.2" y="523.7" font-size="8.3" textLength="12.4" lengthAdjust="spacingAndGlyphs" fill="#231815" stroke="#231815" stroke-width="0.2" class="s">90°</text><text x="505.6" y="523.7" font-size="8.3" textLength="17.8" lengthAdjust="spacingAndGlyphs" fill="#231815" stroke="#231815" stroke-width="0.2" class="s">120°</text><text transform="translate(30.4 55.5) rotate(-90)" font-size="8.2" text-anchor="middle" fill="#231815" stroke="#231815" stroke-width="0.25" textLength="10.5" lengthAdjust="spacingAndGlyphs">45°</text><text transform="translate(16.0 100.3) rotate(-90)" font-size="8.2" text-anchor="middle" fill="#231815" stroke="#231815" stroke-width="0.25" textLength="7" lengthAdjust="spacingAndGlyphs">0°</text><text transform="translate(30.4 144.5) rotate(-90)" font-size="8.2" text-anchor="middle" fill="#231815" stroke="#231815" stroke-width="0.25" textLength="14.5" lengthAdjust="spacingAndGlyphs">-45°</text><text transform="translate(592.2 54.7) rotate(-90)" font-size="8.2" text-anchor="middle" fill="#231815" stroke="#231815" stroke-width="0.25" textLength="11.5" lengthAdjust="spacingAndGlyphs" class="s">45°</text><text transform="translate(608.1 97.4) rotate(-90)" font-size="8.2" text-anchor="middle" fill="#231815" stroke="#231815" stroke-width="0.25" textLength="7" lengthAdjust="spacingAndGlyphs" class="s">0°</text><text transform="translate(592.2 145.2) rotate(-90)" font-size="8.2" text-anchor="middle" fill="#231815" stroke="#231815" stroke-width="0.25" textLength="15.5" lengthAdjust="spacingAndGlyphs" class="s">-45°</text><text transform="translate(30.4 228.4) rotate(-90)" font-size="8.2" text-anchor="middle" fill="#231815" stroke="#231815" stroke-width="0.25" textLength="10.5" lengthAdjust="spacingAndGlyphs">45°</text><text transform="translate(16.0 270.3) rotate(-90)" font-size="8.2" text-anchor="middle" fill="#231815" stroke="#231815" stroke-width="0.25" textLength="7" lengthAdjust="spacingAndGlyphs">0°</text><text transform="translate(30.4 316.5) rotate(-90)" font-size="8.2" text-anchor="middle" fill="#231815" stroke="#231815" stroke-width="0.25" textLength="15.5" lengthAdjust="spacingAndGlyphs">-45°</text><text transform="translate(592.1 227.6) rotate(-90)" font-size="8.2" text-anchor="middle" fill="#231815" stroke="#231815" stroke-width="0.25" textLength="11.5" lengthAdjust="spacingAndGlyphs">45°</text><text transform="translate(607.5 270.3) rotate(-90)" font-size="8.2" text-anchor="middle" fill="#231815" stroke="#231815" stroke-width="0.25" textLength="7" lengthAdjust="spacingAndGlyphs">0°</text><text transform="translate(595.0 315.2) rotate(-90)" font-size="8.2" text-anchor="middle" fill="#231815" stroke="#231815" stroke-width="0.25" textLength="15.5" lengthAdjust="spacingAndGlyphs">-45°</text><text transform="translate(42.0 388.9) rotate(-90)" font-size="8.2" text-anchor="middle" fill="#231815" stroke="#231815" stroke-width="0.25" textLength="10.5" lengthAdjust="spacingAndGlyphs">50°</text><text transform="translate(19.7 468.2) rotate(-90)" font-size="8.2" text-anchor="middle" fill="#231815" stroke="#231815" stroke-width="0.25" textLength="12" lengthAdjust="spacingAndGlyphs">30°</text><text transform="translate(577.7 387.5) rotate(90)" font-size="8.2" text-anchor="middle" fill="#231815" stroke="#231815" stroke-width="0.25" textLength="10.5" lengthAdjust="spacingAndGlyphs" class="s">50°</text><text transform="translate(600.3 467.8) rotate(90)" font-size="8.2" text-anchor="middle" fill="#231815" stroke="#231815" stroke-width="0.25" textLength="11.5" lengthAdjust="spacingAndGlyphs" class="s">30°</text><path d="M83.8 342.8L233.9 342.8" fill="none" stroke="#a8b2b8" stroke-width="0.7"/><path d="M383.8 342.8L533.9 342.8" fill="none" stroke="#a8b2b8" stroke-width="0.7"/><text x="124.9" y="197.5" font-size="17.2" textLength="40.6" lengthAdjust="spacingAndGlyphs" fill="#231815" font-weight="bold" stroke="#231815" stroke-width="0.5">LTIL</text><text x="166.2" y="197.5" font-size="10.9" textLength="31.0" lengthAdjust="spacingAndGlyphs" fill="#231815" font-weight="bold" stroke="#231815" stroke-width="0.4">LiNTL</text><text x="425.2" y="195.0" font-size="17.2" textLength="40.3" lengthAdjust="spacingAndGlyphs" fill="#231815" font-weight="bold" stroke="#231815" stroke-width="0.5">LTIL</text><text x="466.9" y="195.0" font-size="10.9" textLength="29.4" lengthAdjust="spacingAndGlyphs" fill="#231815" font-weight="bold" stroke="#231815" stroke-width="0.4">PCNL</text><text x="102.4" y="367.1" font-size="17.2" textLength="39.8" lengthAdjust="spacingAndGlyphs" fill="#231815" font-weight="bold" stroke="#231815" stroke-width="0.5">LTIL</text><text x="143.9" y="367.1" font-size="10.9" textLength="70.4" lengthAdjust="spacingAndGlyphs" fill="#231815" font-weight="bold" stroke="#231815" stroke-width="0.4">NechaevNTL</text><text x="414.1" y="367.1" font-size="17.2" textLength="39.7" lengthAdjust="spacingAndGlyphs" fill="#231815" font-weight="bold" stroke="#231815" stroke-width="0.5">LTIL</text><text x="454.8" y="367.1" font-size="10.9" textLength="51.3" lengthAdjust="spacingAndGlyphs" fill="#231815" font-weight="bold" stroke="#231815" stroke-width="0.4">ChenNTL</text><text x="117.0" y="534.5" font-size="17.2" textLength="39.8" lengthAdjust="spacingAndGlyphs" fill="#231815" font-weight="bold" stroke="#231815" stroke-width="0.5">LTIL</text><text x="158.4" y="534.5" font-size="10.3" textLength="38.6" lengthAdjust="spacingAndGlyphs" fill="#231815" font-weight="bold" stroke="#231815" stroke-width="0.4">MaNTL</text><text x="419.3" y="534.5" font-size="17.2" textLength="37.5" lengthAdjust="spacingAndGlyphs" fill="#231815" font-weight="bold" stroke="#231815" stroke-width="0.5">LTIL</text><text x="461.0" y="534.5" font-size="10.3" textLength="39.5" lengthAdjust="spacingAndGlyphs" fill="#231815" font-weight="bold" stroke="#231815" stroke-width="0.4">PANDA</text><path d="M621.3 29.9V507.2" stroke="#4a4a4a" stroke-width="1.6" stroke-dasharray="6.9 6.93" fill="none"/><text x="246.3" y="582.9" font-size="19.8" textLength="81.9" lengthAdjust="spacingAndGlyphs" fill="#231815" font-weight="bold" stroke="#231815" stroke-width="0.5">Legend</text><text x="246.4" y="608.9" font-size="18.8" textLength="109.7" lengthAdjust="spacingAndGlyphs" fill="#231815">LTIL types:</text><rect x="380" y="567.2" width="40.4" height="15.5" fill="#27713a" stroke="#231815" stroke-width="0.7"/><text x="424.0" y="582.0" font-size="19.7" textLength="117.3" lengthAdjust="spacingAndGlyphs" fill="#231815">SS matched</text><rect x="574.1" y="567.2" width="41.1" height="15.5" fill="#6ab72f" stroke="#231815" stroke-width="0.7"/><text x="624.3" y="582.0" font-size="19.7" textLength="121.7" lengthAdjust="spacingAndGlyphs" fill="#231815">NN matched</text><rect x="778.9" y="567.2" width="40.8" height="15.5" fill="#231815" stroke="#231815" stroke-width="0.7"/><text x="823.6" y="582.0" font-size="19.7" textLength="136.7" lengthAdjust="spacingAndGlyphs" fill="#231815">undetermined</text><rect x="380" y="597.2" width="40.4" height="15.0" fill="#d7141b" stroke="#231815" stroke-width="0.7"/><text x="422.2" y="611.9" font-size="19.7" textLength="142.1" lengthAdjust="spacingAndGlyphs" fill="#231815">SS unmatched</text><rect x="574.1" y="597.2" width="41.1" height="15.0" fill="#f4a31b" stroke="#231815" stroke-width="0.7"/><text x="624.3" y="611.9" font-size="19.7" textLength="143.6" lengthAdjust="spacingAndGlyphs" fill="#231815">SN unmatched</text><rect x="778.9" y="597.2" width="40.8" height="15.0" fill="#faf6bb" stroke="#231815" stroke-width="0.7"/><text x="832.5" y="611.9" font-size="19.7" textLength="142.8" lengthAdjust="spacingAndGlyphs" fill="#231815">NS unmatched</text>
</svg></body></html>
